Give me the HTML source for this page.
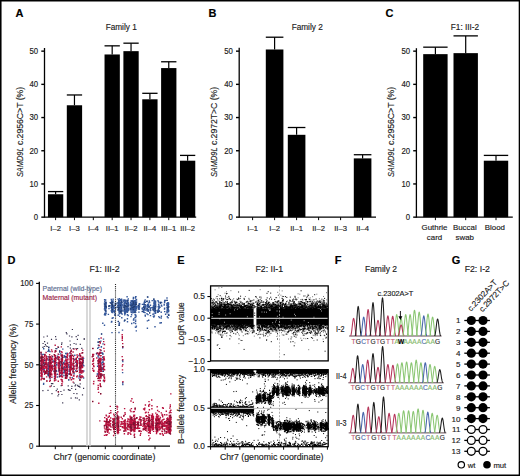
<!DOCTYPE html>
<html><head><meta charset="utf-8"><style>
html,body{margin:0;padding:0;background:#fff;}
body{width:520px;height:476px;overflow:hidden;}
svg{display:block;font-family:"Liberation Sans", sans-serif;}
</style></head><body>
<svg width="520" height="476" viewBox="0 0 520 476">
<rect x="0" y="0" width="520" height="476" fill="#fff"/>
<text x="15.60" y="17.20" font-size="11" text-anchor="start" font-weight="bold" fill="#000" stroke="#000" stroke-width="0.15" >A</text>
<text x="208.40" y="17.20" font-size="11" text-anchor="start" font-weight="bold" fill="#000" stroke="#000" stroke-width="0.15" >B</text>
<text x="385.60" y="17.20" font-size="11" text-anchor="start" font-weight="bold" fill="#000" stroke="#000" stroke-width="0.15" >C</text>
<text x="7.60" y="264.00" font-size="11" text-anchor="start" font-weight="bold" fill="#000" stroke="#000" stroke-width="0.15" >D</text>
<text x="177.20" y="264.00" font-size="11" text-anchor="start" font-weight="bold" fill="#000" stroke="#000" stroke-width="0.15" >E</text>
<text x="334.80" y="264.20" font-size="11" text-anchor="start" font-weight="bold" fill="#000" stroke="#000" stroke-width="0.15" >F</text>
<text x="451.80" y="264.00" font-size="11" text-anchor="start" font-weight="bold" fill="#000" stroke="#000" stroke-width="0.15" >G</text>
<line x1="44.50" y1="48.00" x2="44.50" y2="217.75" stroke="#000" stroke-width="1.3" />
<line x1="41.30" y1="217.15" x2="44.50" y2="217.15" stroke="#000" stroke-width="1.4" />
<text x="38.20" y="219.95" font-size="8.4" text-anchor="end" font-weight="normal" fill="#1a1a1a" stroke="#1a1a1a" stroke-width="0.15" textLength="4.34" lengthAdjust="spacingAndGlyphs" >0</text>
<line x1="41.30" y1="183.95" x2="44.50" y2="183.95" stroke="#000" stroke-width="1.4" />
<text x="38.20" y="186.75" font-size="8.4" text-anchor="end" font-weight="normal" fill="#1a1a1a" stroke="#1a1a1a" stroke-width="0.15" textLength="8.69" lengthAdjust="spacingAndGlyphs" >10</text>
<line x1="41.30" y1="150.75" x2="44.50" y2="150.75" stroke="#000" stroke-width="1.4" />
<text x="38.20" y="153.55" font-size="8.4" text-anchor="end" font-weight="normal" fill="#1a1a1a" stroke="#1a1a1a" stroke-width="0.15" textLength="8.69" lengthAdjust="spacingAndGlyphs" >20</text>
<line x1="41.30" y1="117.55" x2="44.50" y2="117.55" stroke="#000" stroke-width="1.4" />
<text x="38.20" y="120.35" font-size="8.4" text-anchor="end" font-weight="normal" fill="#1a1a1a" stroke="#1a1a1a" stroke-width="0.15" textLength="8.69" lengthAdjust="spacingAndGlyphs" >30</text>
<line x1="41.30" y1="84.35" x2="44.50" y2="84.35" stroke="#000" stroke-width="1.4" />
<text x="38.20" y="87.15" font-size="8.4" text-anchor="end" font-weight="normal" fill="#1a1a1a" stroke="#1a1a1a" stroke-width="0.15" textLength="8.69" lengthAdjust="spacingAndGlyphs" >40</text>
<line x1="41.30" y1="51.15" x2="44.50" y2="51.15" stroke="#000" stroke-width="1.4" />
<text x="38.20" y="53.95" font-size="8.4" text-anchor="end" font-weight="normal" fill="#1a1a1a" stroke="#1a1a1a" stroke-width="0.15" textLength="8.69" lengthAdjust="spacingAndGlyphs" >50</text>
<line x1="44.50" y1="217.15" x2="196.20" y2="217.15" stroke="#000" stroke-width="1.3" />
<rect x="47.95" y="194.24" width="15.30" height="22.91" fill="#000" />
<line x1="55.60" y1="191.59" x2="55.60" y2="194.24" stroke="#000" stroke-width="1.2" />
<line x1="47.95" y1="191.59" x2="63.25" y2="191.59" stroke="#000" stroke-width="1.3" />
<line x1="55.60" y1="217.15" x2="55.60" y2="220.15" stroke="#000" stroke-width="1.0" />
<rect x="66.81" y="105.27" width="15.30" height="111.88" fill="#000" />
<line x1="74.46" y1="94.97" x2="74.46" y2="105.27" stroke="#000" stroke-width="1.2" />
<line x1="66.81" y1="94.97" x2="82.11" y2="94.97" stroke="#000" stroke-width="1.3" />
<line x1="74.46" y1="217.15" x2="74.46" y2="220.15" stroke="#000" stroke-width="1.0" />
<line x1="93.32" y1="217.15" x2="93.32" y2="220.15" stroke="#000" stroke-width="1.0" />
<rect x="104.53" y="54.47" width="15.30" height="162.68" fill="#000" />
<line x1="112.18" y1="45.84" x2="112.18" y2="54.47" stroke="#000" stroke-width="1.2" />
<line x1="104.53" y1="45.84" x2="119.83" y2="45.84" stroke="#000" stroke-width="1.3" />
<line x1="112.18" y1="217.15" x2="112.18" y2="220.15" stroke="#000" stroke-width="1.0" />
<rect x="123.39" y="51.15" width="15.30" height="166.00" fill="#000" />
<line x1="131.04" y1="43.18" x2="131.04" y2="51.15" stroke="#000" stroke-width="1.2" />
<line x1="123.39" y1="43.18" x2="138.69" y2="43.18" stroke="#000" stroke-width="1.3" />
<line x1="131.04" y1="217.15" x2="131.04" y2="220.15" stroke="#000" stroke-width="1.0" />
<rect x="142.25" y="99.29" width="15.30" height="117.86" fill="#000" />
<line x1="149.90" y1="93.31" x2="149.90" y2="99.29" stroke="#000" stroke-width="1.2" />
<line x1="142.25" y1="93.31" x2="157.55" y2="93.31" stroke="#000" stroke-width="1.3" />
<line x1="149.90" y1="217.15" x2="149.90" y2="220.15" stroke="#000" stroke-width="1.0" />
<rect x="161.11" y="68.08" width="15.30" height="149.07" fill="#000" />
<line x1="168.76" y1="61.77" x2="168.76" y2="68.08" stroke="#000" stroke-width="1.2" />
<line x1="161.11" y1="61.77" x2="176.41" y2="61.77" stroke="#000" stroke-width="1.3" />
<line x1="168.76" y1="217.15" x2="168.76" y2="220.15" stroke="#000" stroke-width="1.0" />
<rect x="179.97" y="160.71" width="15.30" height="56.44" fill="#000" />
<line x1="187.62" y1="155.40" x2="187.62" y2="160.71" stroke="#000" stroke-width="1.2" />
<line x1="179.97" y1="155.40" x2="195.27" y2="155.40" stroke="#000" stroke-width="1.3" />
<line x1="187.62" y1="217.15" x2="187.62" y2="220.15" stroke="#000" stroke-width="1.0" />
<text x="55.60" y="230.50" font-size="7.7" text-anchor="middle" font-weight="normal" fill="#1a1a1a" stroke="#1a1a1a" stroke-width="0.15" >I–2</text>
<text x="74.46" y="230.50" font-size="7.7" text-anchor="middle" font-weight="normal" fill="#1a1a1a" stroke="#1a1a1a" stroke-width="0.15" >I–3</text>
<text x="93.32" y="230.50" font-size="7.7" text-anchor="middle" font-weight="normal" fill="#1a1a1a" stroke="#1a1a1a" stroke-width="0.15" >I–4</text>
<text x="112.18" y="230.50" font-size="7.7" text-anchor="middle" font-weight="normal" fill="#1a1a1a" stroke="#1a1a1a" stroke-width="0.15" >II–1</text>
<text x="131.04" y="230.50" font-size="7.7" text-anchor="middle" font-weight="normal" fill="#1a1a1a" stroke="#1a1a1a" stroke-width="0.15" >II–2</text>
<text x="149.90" y="230.50" font-size="7.7" text-anchor="middle" font-weight="normal" fill="#1a1a1a" stroke="#1a1a1a" stroke-width="0.15" >II–4</text>
<text x="168.76" y="230.50" font-size="7.7" text-anchor="middle" font-weight="normal" fill="#1a1a1a" stroke="#1a1a1a" stroke-width="0.15" >III–1</text>
<text x="187.62" y="230.50" font-size="7.7" text-anchor="middle" font-weight="normal" fill="#1a1a1a" stroke="#1a1a1a" stroke-width="0.15" >III–2</text>
<g transform="translate(23.2 177.1) rotate(-90)" fill="#1a1a1a" stroke="#1a1a1a" stroke-width="0.15" font-size="8.7"><text x="0" y="0" font-style="italic" textLength="29.6" lengthAdjust="spacingAndGlyphs">SAMD9L</text><text x="32.0" y="0" textLength="58.2" lengthAdjust="spacingAndGlyphs">c.2956C&gt;T (%)</text></g>
<text x="121.20" y="30.30" font-size="8.5" text-anchor="middle" font-weight="normal" fill="#1a1a1a" stroke="#1a1a1a" stroke-width="0.15" textLength="31.15" lengthAdjust="spacingAndGlyphs" >Family 1</text>
<line x1="239.20" y1="47.80" x2="239.20" y2="217.75" stroke="#000" stroke-width="1.3" />
<line x1="236.00" y1="217.15" x2="239.20" y2="217.15" stroke="#000" stroke-width="1.4" />
<text x="232.90" y="219.95" font-size="8.4" text-anchor="end" font-weight="normal" fill="#1a1a1a" stroke="#1a1a1a" stroke-width="0.15" textLength="4.34" lengthAdjust="spacingAndGlyphs" >0</text>
<line x1="236.00" y1="183.95" x2="239.20" y2="183.95" stroke="#000" stroke-width="1.4" />
<text x="232.90" y="186.75" font-size="8.4" text-anchor="end" font-weight="normal" fill="#1a1a1a" stroke="#1a1a1a" stroke-width="0.15" textLength="8.69" lengthAdjust="spacingAndGlyphs" >10</text>
<line x1="236.00" y1="150.75" x2="239.20" y2="150.75" stroke="#000" stroke-width="1.4" />
<text x="232.90" y="153.55" font-size="8.4" text-anchor="end" font-weight="normal" fill="#1a1a1a" stroke="#1a1a1a" stroke-width="0.15" textLength="8.69" lengthAdjust="spacingAndGlyphs" >20</text>
<line x1="236.00" y1="117.55" x2="239.20" y2="117.55" stroke="#000" stroke-width="1.4" />
<text x="232.90" y="120.35" font-size="8.4" text-anchor="end" font-weight="normal" fill="#1a1a1a" stroke="#1a1a1a" stroke-width="0.15" textLength="8.69" lengthAdjust="spacingAndGlyphs" >30</text>
<line x1="236.00" y1="84.35" x2="239.20" y2="84.35" stroke="#000" stroke-width="1.4" />
<text x="232.90" y="87.15" font-size="8.4" text-anchor="end" font-weight="normal" fill="#1a1a1a" stroke="#1a1a1a" stroke-width="0.15" textLength="8.69" lengthAdjust="spacingAndGlyphs" >40</text>
<line x1="236.00" y1="51.15" x2="239.20" y2="51.15" stroke="#000" stroke-width="1.4" />
<text x="232.90" y="53.95" font-size="8.4" text-anchor="end" font-weight="normal" fill="#1a1a1a" stroke="#1a1a1a" stroke-width="0.15" textLength="8.69" lengthAdjust="spacingAndGlyphs" >50</text>
<line x1="239.20" y1="217.15" x2="376.00" y2="217.15" stroke="#000" stroke-width="1.3" />
<line x1="252.60" y1="217.15" x2="252.60" y2="220.15" stroke="#000" stroke-width="1.0" />
<rect x="265.80" y="49.49" width="17.60" height="167.66" fill="#000" />
<line x1="274.60" y1="37.21" x2="274.60" y2="49.49" stroke="#000" stroke-width="1.2" />
<line x1="265.80" y1="37.21" x2="283.40" y2="37.21" stroke="#000" stroke-width="1.3" />
<line x1="274.60" y1="217.15" x2="274.60" y2="220.15" stroke="#000" stroke-width="1.0" />
<rect x="287.80" y="134.81" width="17.60" height="82.34" fill="#000" />
<line x1="296.60" y1="127.51" x2="296.60" y2="134.81" stroke="#000" stroke-width="1.2" />
<line x1="287.80" y1="127.51" x2="305.40" y2="127.51" stroke="#000" stroke-width="1.3" />
<line x1="296.60" y1="217.15" x2="296.60" y2="220.15" stroke="#000" stroke-width="1.0" />
<line x1="318.60" y1="217.15" x2="318.60" y2="220.15" stroke="#000" stroke-width="1.0" />
<line x1="340.60" y1="217.15" x2="340.60" y2="220.15" stroke="#000" stroke-width="1.0" />
<rect x="353.80" y="158.39" width="17.60" height="58.76" fill="#000" />
<line x1="362.60" y1="154.73" x2="362.60" y2="158.39" stroke="#000" stroke-width="1.2" />
<line x1="353.80" y1="154.73" x2="371.40" y2="154.73" stroke="#000" stroke-width="1.3" />
<line x1="362.60" y1="217.15" x2="362.60" y2="220.15" stroke="#000" stroke-width="1.0" />
<text x="252.60" y="230.50" font-size="7.7" text-anchor="middle" font-weight="normal" fill="#1a1a1a" stroke="#1a1a1a" stroke-width="0.15" >I–1</text>
<text x="274.60" y="230.50" font-size="7.7" text-anchor="middle" font-weight="normal" fill="#1a1a1a" stroke="#1a1a1a" stroke-width="0.15" >I–2</text>
<text x="296.60" y="230.50" font-size="7.7" text-anchor="middle" font-weight="normal" fill="#1a1a1a" stroke="#1a1a1a" stroke-width="0.15" >II–1</text>
<text x="318.60" y="230.50" font-size="7.7" text-anchor="middle" font-weight="normal" fill="#1a1a1a" stroke="#1a1a1a" stroke-width="0.15" >II–2</text>
<text x="340.60" y="230.50" font-size="7.7" text-anchor="middle" font-weight="normal" fill="#1a1a1a" stroke="#1a1a1a" stroke-width="0.15" >II–3</text>
<text x="362.60" y="230.50" font-size="7.7" text-anchor="middle" font-weight="normal" fill="#1a1a1a" stroke="#1a1a1a" stroke-width="0.15" >II–4</text>
<g transform="translate(216.8 177.1) rotate(-90)" fill="#1a1a1a" stroke="#1a1a1a" stroke-width="0.15" font-size="8.7"><text x="0" y="0" font-style="italic" textLength="29.6" lengthAdjust="spacingAndGlyphs">SAMD9L</text><text x="32.0" y="0" textLength="58.2" lengthAdjust="spacingAndGlyphs">c.2972T&gt;C (%)</text></g>
<text x="307.20" y="30.30" font-size="8.5" text-anchor="middle" font-weight="normal" fill="#1a1a1a" stroke="#1a1a1a" stroke-width="0.15" textLength="31.15" lengthAdjust="spacingAndGlyphs" >Family 2</text>
<line x1="416.40" y1="48.20" x2="416.40" y2="217.75" stroke="#000" stroke-width="1.3" />
<line x1="413.20" y1="217.15" x2="416.40" y2="217.15" stroke="#000" stroke-width="1.4" />
<text x="410.10" y="219.95" font-size="8.4" text-anchor="end" font-weight="normal" fill="#1a1a1a" stroke="#1a1a1a" stroke-width="0.15" textLength="4.34" lengthAdjust="spacingAndGlyphs" >0</text>
<line x1="413.20" y1="183.95" x2="416.40" y2="183.95" stroke="#000" stroke-width="1.4" />
<text x="410.10" y="186.75" font-size="8.4" text-anchor="end" font-weight="normal" fill="#1a1a1a" stroke="#1a1a1a" stroke-width="0.15" textLength="8.69" lengthAdjust="spacingAndGlyphs" >10</text>
<line x1="413.20" y1="150.75" x2="416.40" y2="150.75" stroke="#000" stroke-width="1.4" />
<text x="410.10" y="153.55" font-size="8.4" text-anchor="end" font-weight="normal" fill="#1a1a1a" stroke="#1a1a1a" stroke-width="0.15" textLength="8.69" lengthAdjust="spacingAndGlyphs" >20</text>
<line x1="413.20" y1="117.55" x2="416.40" y2="117.55" stroke="#000" stroke-width="1.4" />
<text x="410.10" y="120.35" font-size="8.4" text-anchor="end" font-weight="normal" fill="#1a1a1a" stroke="#1a1a1a" stroke-width="0.15" textLength="8.69" lengthAdjust="spacingAndGlyphs" >30</text>
<line x1="413.20" y1="84.35" x2="416.40" y2="84.35" stroke="#000" stroke-width="1.4" />
<text x="410.10" y="87.15" font-size="8.4" text-anchor="end" font-weight="normal" fill="#1a1a1a" stroke="#1a1a1a" stroke-width="0.15" textLength="8.69" lengthAdjust="spacingAndGlyphs" >40</text>
<line x1="413.20" y1="51.15" x2="416.40" y2="51.15" stroke="#000" stroke-width="1.4" />
<text x="410.10" y="53.95" font-size="8.4" text-anchor="end" font-weight="normal" fill="#1a1a1a" stroke="#1a1a1a" stroke-width="0.15" textLength="8.69" lengthAdjust="spacingAndGlyphs" >50</text>
<line x1="416.40" y1="217.15" x2="512.80" y2="217.15" stroke="#000" stroke-width="1.3" />
<rect x="423.20" y="54.14" width="24.40" height="163.01" fill="#000" />
<line x1="435.40" y1="47.17" x2="435.40" y2="54.14" stroke="#000" stroke-width="1.2" />
<line x1="423.20" y1="47.17" x2="447.60" y2="47.17" stroke="#000" stroke-width="1.3" />
<line x1="435.40" y1="217.15" x2="435.40" y2="220.15" stroke="#000" stroke-width="1.0" />
<rect x="453.50" y="53.14" width="24.40" height="164.01" fill="#000" />
<line x1="465.70" y1="35.88" x2="465.70" y2="53.14" stroke="#000" stroke-width="1.2" />
<line x1="453.50" y1="35.88" x2="477.90" y2="35.88" stroke="#000" stroke-width="1.3" />
<line x1="465.70" y1="217.15" x2="465.70" y2="220.15" stroke="#000" stroke-width="1.0" />
<rect x="483.80" y="160.71" width="24.40" height="56.44" fill="#000" />
<line x1="496.00" y1="155.40" x2="496.00" y2="160.71" stroke="#000" stroke-width="1.2" />
<line x1="483.80" y1="155.40" x2="508.20" y2="155.40" stroke="#000" stroke-width="1.3" />
<line x1="496.00" y1="217.15" x2="496.00" y2="220.15" stroke="#000" stroke-width="1.0" />
<text x="434.50" y="230.20" font-size="7.9" text-anchor="middle" font-weight="normal" fill="#1a1a1a" stroke="#1a1a1a" stroke-width="0.15" >Guthrie</text>
<text x="434.50" y="239.50" font-size="7.9" text-anchor="middle" font-weight="normal" fill="#1a1a1a" stroke="#1a1a1a" stroke-width="0.15" >card</text>
<text x="464.80" y="230.20" font-size="7.9" text-anchor="middle" font-weight="normal" fill="#1a1a1a" stroke="#1a1a1a" stroke-width="0.15" >Buccal</text>
<text x="464.80" y="239.50" font-size="7.9" text-anchor="middle" font-weight="normal" fill="#1a1a1a" stroke="#1a1a1a" stroke-width="0.15" >swab</text>
<text x="494.90" y="230.20" font-size="7.9" text-anchor="middle" font-weight="normal" fill="#1a1a1a" stroke="#1a1a1a" stroke-width="0.15" >Blood</text>
<g transform="translate(393.7 177.1) rotate(-90)" fill="#1a1a1a" stroke="#1a1a1a" stroke-width="0.15" font-size="8.7"><text x="0" y="0" font-style="italic" textLength="29.6" lengthAdjust="spacingAndGlyphs">SAMD9L</text><text x="32.0" y="0" textLength="58.2" lengthAdjust="spacingAndGlyphs">c.2956C&gt;T (%)</text></g>
<text x="465.00" y="30.30" font-size="8.5" text-anchor="middle" font-weight="normal" fill="#1a1a1a" stroke="#1a1a1a" stroke-width="0.15" textLength="28.41" lengthAdjust="spacingAndGlyphs" >F1: III-2</text>
<line x1="39.30" y1="281.80" x2="39.30" y2="446.80" stroke="#000" stroke-width="1.3" />
<line x1="36.10" y1="446.20" x2="39.30" y2="446.20" stroke="#000" stroke-width="1.1" />
<text x="33.30" y="449.00" font-size="8.4" text-anchor="end" font-weight="normal" fill="#1a1a1a" stroke="#1a1a1a" stroke-width="0.15" textLength="4.34" lengthAdjust="spacingAndGlyphs" >0</text>
<line x1="36.10" y1="405.50" x2="39.30" y2="405.50" stroke="#000" stroke-width="1.1" />
<text x="33.30" y="408.30" font-size="8.4" text-anchor="end" font-weight="normal" fill="#1a1a1a" stroke="#1a1a1a" stroke-width="0.15" textLength="8.69" lengthAdjust="spacingAndGlyphs" >25</text>
<line x1="36.10" y1="364.80" x2="39.30" y2="364.80" stroke="#000" stroke-width="1.1" />
<text x="33.30" y="367.60" font-size="8.4" text-anchor="end" font-weight="normal" fill="#1a1a1a" stroke="#1a1a1a" stroke-width="0.15" textLength="8.69" lengthAdjust="spacingAndGlyphs" >50</text>
<line x1="36.10" y1="324.10" x2="39.30" y2="324.10" stroke="#000" stroke-width="1.1" />
<text x="33.30" y="326.90" font-size="8.4" text-anchor="end" font-weight="normal" fill="#1a1a1a" stroke="#1a1a1a" stroke-width="0.15" textLength="8.69" lengthAdjust="spacingAndGlyphs" >75</text>
<line x1="36.10" y1="283.40" x2="39.30" y2="283.40" stroke="#000" stroke-width="1.1" />
<text x="33.30" y="286.20" font-size="8.4" text-anchor="end" font-weight="normal" fill="#1a1a1a" stroke="#1a1a1a" stroke-width="0.15" textLength="13.03" lengthAdjust="spacingAndGlyphs" >100</text>
<line x1="39.30" y1="446.20" x2="170.00" y2="446.20" stroke="#000" stroke-width="1.3" />
<line x1="55.30" y1="446.20" x2="55.30" y2="449.20" stroke="#000" stroke-width="1.0" />
<line x1="72.00" y1="446.20" x2="72.00" y2="449.20" stroke="#000" stroke-width="1.0" />
<line x1="88.60" y1="446.20" x2="88.60" y2="449.20" stroke="#000" stroke-width="1.0" />
<line x1="105.30" y1="446.20" x2="105.30" y2="449.20" stroke="#000" stroke-width="1.0" />
<line x1="122.00" y1="446.20" x2="122.00" y2="449.20" stroke="#000" stroke-width="1.0" />
<line x1="138.60" y1="446.20" x2="138.60" y2="449.20" stroke="#000" stroke-width="1.0" />
<line x1="155.00" y1="446.20" x2="155.00" y2="449.20" stroke="#000" stroke-width="1.0" />
<line x1="87.00" y1="285.50" x2="87.00" y2="446.20" stroke="#cdcdcd" stroke-width="1.5" />
<line x1="90.00" y1="285.50" x2="90.00" y2="446.20" stroke="#cdcdcd" stroke-width="1.5" />
<path d="M52.3 362.1h1.4M66.0 377.3h1.4M61.1 361.3h1.4M42.9 384.3h1.4M43.0 360.1h1.4M63.5 355.7h1.4M66.5 353.3h1.4M78.8 369.3h1.4M43.4 378.4h1.4M49.3 365.3h1.4M40.7 367.6h1.4M68.2 367.4h1.4M56.8 357.6h1.4M79.3 368.5h1.4M49.4 378.6h1.4M42.5 354.4h1.4M47.8 365.8h1.4M58.6 366.4h1.4M82.6 358.3h1.4M43.7 358.9h1.4M79.3 363.2h1.4M63.9 367.7h1.4M47.3 365.9h1.4M42.4 365.8h1.4M41.4 368.9h1.4M54.3 370.0h1.4M76.7 362.9h1.4M42.8 366.1h1.4M73.4 373.7h1.4M43.1 363.3h1.4M61.2 364.0h1.4M54.0 360.8h1.4M60.9 367.9h1.4M82.9 378.0h1.4M74.3 359.5h1.4M40.0 365.1h1.4M48.1 350.7h1.4M83.1 371.0h1.4M47.4 368.5h1.4M79.4 374.9h1.4M65.1 357.9h1.4M69.2 353.2h1.4M48.3 371.5h1.4M56.1 348.6h1.4M68.3 374.4h1.4M71.5 377.8h1.4M82.6 362.4h1.4M41.6 364.7h1.4M61.2 374.6h1.4M47.4 356.6h1.4M48.0 362.7h1.4M78.6 367.6h1.4M63.6 372.8h1.4M60.5 361.8h1.4M58.3 367.1h1.4M59.2 361.8h1.4M52.2 366.5h1.4M62.5 362.7h1.4M68.8 366.7h1.4M59.0 350.8h1.4M60.8 358.2h1.4M79.1 364.2h1.4M78.4 378.0h1.4M42.4 361.3h1.4M42.6 360.0h1.4M78.3 355.4h1.4M64.1 370.5h1.4M82.2 364.8h1.4M82.9 358.4h1.4M51.7 369.2h1.4M68.1 364.6h1.4M52.4 366.3h1.4M43.8 368.9h1.4M47.1 365.2h1.4M48.9 376.5h1.4M47.3 359.2h1.4M63.2 375.5h1.4M58.1 369.5h1.4M65.1 367.4h1.4M75.9 363.8h1.4M63.6 371.5h1.4M47.2 371.8h1.4M42.6 361.9h1.4M49.5 376.6h1.4M53.8 376.8h1.4M62.4 366.9h1.4M78.2 358.6h1.4M73.7 369.1h1.4M67.1 371.1h1.4M64.5 356.5h1.4M42.4 365.5h1.4M44.2 360.6h1.4M76.2 366.1h1.4M58.3 371.5h1.4M48.6 360.9h1.4M82.0 364.3h1.4M40.6 361.2h1.4M59.7 365.7h1.4M42.9 371.5h1.4M48.0 366.6h1.4M69.1 370.7h1.4M53.0 361.1h1.4M69.0 373.1h1.4M65.0 353.5h1.4M43.1 372.1h1.4M74.1 355.2h1.4M66.7 369.4h1.4M53.9 366.5h1.4M63.1 362.5h1.4M41.3 358.7h1.4M58.9 376.0h1.4M47.1 370.3h1.4M68.3 373.6h1.4M56.2 364.6h1.4M69.0 369.2h1.4M48.2 367.6h1.4M62.1 364.6h1.4M66.7 375.9h1.4M60.4 376.4h1.4M48.6 375.6h1.4M40.7 373.1h1.4M47.4 364.3h1.4M48.0 349.2h1.4M43.5 363.3h1.4M79.1 372.1h1.4M40.0 361.1h1.4M58.5 362.5h1.4M75.1 370.7h1.4M75.3 362.4h1.4M49.3 351.6h1.4M82.5 360.9h1.4M40.2 368.2h1.4M50.2 365.0h1.4M47.6 373.9h1.4M79.3 379.6h1.4M63.3 357.4h1.4M68.7 362.4h1.4M41.5 361.4h1.4M58.6 364.5h1.4M48.1 347.2h1.4M62.8 368.2h1.4M78.8 369.7h1.4M79.6 368.6h1.4M42.8 369.2h1.4M47.4 374.4h1.4M56.1 358.4h1.4M55.9 362.7h1.4M43.0 383.4h1.4M75.5 365.9h1.4M59.5 372.7h1.4M75.2 362.2h1.4M59.0 351.8h1.4M56.9 377.0h1.4M47.2 351.4h1.4M60.8 364.1h1.4M68.8 356.1h1.4M41.3 374.4h1.4M48.9 361.1h1.4M64.9 373.3h1.4M62.7 369.3h1.4M62.1 349.1h1.4M65.2 370.0h1.4M47.4 364.2h1.4M40.8 360.2h1.4M58.4 370.1h1.4M40.5 363.6h1.4M65.9 365.2h1.4M48.6 357.8h1.4M73.5 366.2h1.4M82.3 360.1h1.4M47.7 369.4h1.4M55.7 364.6h1.4M42.3 354.4h1.4M79.2 374.8h1.4M78.5 376.2h1.4M41.1 361.4h1.4M55.9 371.3h1.4M55.3 365.9h1.4M81.9 371.3h1.4M58.1 354.4h1.4M56.9 356.3h1.4M40.7 376.7h1.4M68.1 379.9h1.4M48.2 371.7h1.4M51.8 361.9h1.4M66.1 362.2h1.4M41.2 354.9h1.4M40.4 353.7h1.4M83.1 365.8h1.4M59.5 373.0h1.4M72.5 367.1h1.4M51.9 356.6h1.4M68.1 365.9h1.4M42.3 360.7h1.4M53.0 371.1h1.4M42.4 365.4h1.4M66.3 357.6h1.4M66.8 370.5h1.4M64.0 363.4h1.4M56.6 374.3h1.4M47.4 372.5h1.4M52.0 359.9h1.4M60.0 353.9h1.4M43.0 348.7h1.4M76.6 364.9h1.4M48.6 369.1h1.4M78.6 360.8h1.4M69.5 367.5h1.4M63.1 363.3h1.4M47.4 368.6h1.4M64.2 361.0h1.4M47.5 374.9h1.4M72.2 371.3h1.4M63.1 369.9h1.4M45.2 364.6h1.4M82.0 371.5h1.4M54.4 372.3h1.4M48.2 365.7h1.4M41.4 368.8h1.4M78.7 359.5h1.4M40.9 368.3h1.4M64.4 364.2h1.4M42.7 368.7h1.4M59.3 364.3h1.4M47.2 373.5h1.4M43.7 364.6h1.4M79.0 372.2h1.4M47.7 375.9h1.4M73.4 359.2h1.4M55.6 370.6h1.4M69.5 355.2h1.4M41.3 361.4h1.4M63.0 363.3h1.4M62.8 372.5h1.4M58.7 360.0h1.4M48.2 360.4h1.4M58.3 368.6h1.4M58.2 368.0h1.4M59.7 375.4h1.4M68.8 371.3h1.4M98.7 354.1h1.4M97.0 348.2h1.4M100.1 363.6h1.4M97.8 342.1h1.4M97.8 364.1h1.4M95.9 353.7h1.4M98.0 367.1h1.4M98.2 338.8h1.4M100.9 353.0h1.4M99.8 376.9h1.4M102.3 343.9h1.4M99.9 369.2h1.4M98.7 374.0h1.4M96.6 374.0h1.4M102.1 323.3h1.4M102.0 357.4h1.4M102.7 380.8h1.4M100.2 341.1h1.4M101.8 353.0h1.4M98.1 372.8h1.4M99.8 371.5h1.4M101.8 359.9h1.4M100.7 346.7h1.4M97.4 375.5h1.4M102.8 339.1h1.4M99.8 358.5h1.4M102.1 359.5h1.4M100.3 367.1h1.4M97.4 356.8h1.4M97.7 345.3h1.4M98.2 363.5h1.4M102.6 371.3h1.4M101.9 362.6h1.4M102.2 356.9h1.4M96.9 366.2h1.4M101.0 367.7h1.4M101.9 364.8h1.4M100.0 367.8h1.4M97.5 355.6h1.4M98.0 369.7h1.4M102.2 354.0h1.4M99.8 361.0h1.4M96.8 353.0h1.4M100.1 364.7h1.4M99.8 359.0h1.4M102.6 359.5h1.4M100.9 353.0h1.4M100.6 363.0h1.4M101.7 369.4h1.4M100.6 347.1h1.4M102.3 361.8h1.4M102.7 368.9h1.4M98.0 347.4h1.4M98.1 374.4h1.4M100.3 350.6h1.4M101.9 368.0h1.4M100.1 352.9h1.4M98.5 358.2h1.4M101.6 375.1h1.4M97.7 373.1h1.4M98.4 378.4h1.4M100.9 334.0h1.4M102.1 359.7h1.4M97.5 342.1h1.4M102.4 362.9h1.4M97.4 360.6h1.4M99.8 365.1h1.4M101.0 371.1h1.4M102.1 359.8h1.4M102.9 366.5h1.4M118.2 306.0h1.4M126.7 314.8h1.4M117.3 307.2h1.4M132.6 307.0h1.4M143.4 303.2h1.4M134.7 311.2h1.4M137.6 308.5h1.4M143.1 307.2h1.4M117.4 305.5h1.4M111.5 305.1h1.4M124.6 310.3h1.4M111.0 312.1h1.4M141.8 307.9h1.4M117.3 299.1h1.4M123.7 321.0h1.4M164.0 300.5h1.4M154.0 308.8h1.4M127.5 303.8h1.4M126.8 302.3h1.4M133.2 322.7h1.4M166.2 312.0h1.4M135.6 308.5h1.4M144.4 308.6h1.4M135.3 310.3h1.4M120.7 306.9h1.4M111.9 307.2h1.4M133.1 303.3h1.4M143.1 312.2h1.4M123.4 307.3h1.4M130.3 303.3h1.4M166.9 305.9h1.4M119.2 302.1h1.4M124.6 300.8h1.4M110.6 308.1h1.4M127.2 304.6h1.4M114.6 313.7h1.4M118.4 303.4h1.4M104.5 304.8h1.4M143.1 311.0h1.4M111.1 309.9h1.4M111.5 311.1h1.4M114.0 315.0h1.4M131.7 307.7h1.4M126.2 307.0h1.4M146.3 305.4h1.4M126.9 307.4h1.4M138.4 307.1h1.4M120.5 303.6h1.4M134.5 307.5h1.4M134.1 303.7h1.4M111.6 306.4h1.4M143.7 308.7h1.4M167.9 304.5h1.4M163.5 304.4h1.4M167.4 304.7h1.4M131.6 307.6h1.4M134.3 308.9h1.4M143.1 309.7h1.4M135.3 316.3h1.4M119.2 303.2h1.4M141.7 308.0h1.4M126.8 309.8h1.4M167.7 314.7h1.4M127.4 306.1h1.4M164.7 300.5h1.4M121.1 305.0h1.4M153.0 309.6h1.4M134.3 304.0h1.4M123.3 305.3h1.4M143.4 302.9h1.4M120.1 312.7h1.4M104.5 313.7h1.4M123.1 306.9h1.4M117.7 321.5h1.4M134.9 309.8h1.4M121.5 314.1h1.4M112.2 311.3h1.4M144.5 299.9h1.4M114.6 304.3h1.4M126.1 300.6h1.4M135.1 303.5h1.4M154.2 309.6h1.4M111.2 304.8h1.4M160.5 312.3h1.4M126.6 303.9h1.4M119.7 307.4h1.4M139.0 303.7h1.4M111.5 318.2h1.4M127.3 302.4h1.4M119.2 310.0h1.4M104.6 308.2h1.4M167.0 307.3h1.4M117.9 301.5h1.4M124.3 304.1h1.4M166.5 310.9h1.4M103.8 325.2h1.4M142.2 309.6h1.4M135.1 315.3h1.4M134.1 308.3h1.4M124.0 311.2h1.4M152.5 309.9h1.4M135.7 306.4h1.4M154.4 305.2h1.4M158.5 306.4h1.4M123.6 311.2h1.4M134.6 310.7h1.4M157.9 304.3h1.4M104.5 304.9h1.4M134.9 296.7h1.4M132.9 309.6h1.4M153.2 306.6h1.4M104.9 306.6h1.4M118.7 310.0h1.4M134.6 312.5h1.4M166.6 304.5h1.4M123.7 308.5h1.4M148.0 320.3h1.4M120.5 310.0h1.4M124.1 312.4h1.4M108.3 308.5h1.4M141.4 308.7h1.4M152.3 309.3h1.4M119.1 300.2h1.4M117.2 307.1h1.4M147.7 304.9h1.4M155.1 310.5h1.4M120.9 299.2h1.4M154.2 306.3h1.4M112.3 311.0h1.4M118.6 311.0h1.4M146.7 320.9h1.4M121.1 307.2h1.4M111.2 304.4h1.4M113.7 311.0h1.4M111.0 309.3h1.4M153.9 309.7h1.4M118.8 307.0h1.4M149.5 308.9h1.4M120.1 309.0h1.4M117.9 309.8h1.4M130.2 302.4h1.4M163.9 308.2h1.4M119.7 304.2h1.4M146.4 310.6h1.4M124.7 306.1h1.4M123.3 305.8h1.4M134.6 298.0h1.4M120.4 313.2h1.4M160.2 302.1h1.4M112.4 309.0h1.4M166.2 303.6h1.4M153.8 307.8h1.4M126.5 312.4h1.4M152.7 316.4h1.4M123.9 306.0h1.4M155.0 305.2h1.4M111.6 307.7h1.4M127.7 304.1h1.4M119.1 309.5h1.4M132.3 304.6h1.4M127.7 310.3h1.4M117.3 302.7h1.4M153.6 311.7h1.4M126.8 307.7h1.4M135.3 306.7h1.4M158.4 310.6h1.4M134.4 314.7h1.4M129.5 304.2h1.4M126.2 304.2h1.4M118.9 305.6h1.4M154.3 303.0h1.4M124.2 311.8h1.4M132.8 305.4h1.4M123.5 310.4h1.4M154.7 306.7h1.4M120.0 304.6h1.4M124.6 312.0h1.4M155.1 306.9h1.4M153.2 306.3h1.4M124.6 308.0h1.4M133.0 312.6h1.4M105.1 306.2h1.4M120.8 306.4h1.4M134.8 305.1h1.4M132.7 304.2h1.4M117.9 309.2h1.4M144.1 308.3h1.4M143.2 307.4h1.4M118.3 307.7h1.4M155.0 306.4h1.4M132.0 300.6h1.4M166.2 305.3h1.4M127.5 315.5h1.4M153.7 315.9h1.4M117.5 304.6h1.4M110.9 302.8h1.4M120.6 304.5h1.4M143.6 307.6h1.4M126.4 301.8h1.4M154.3 326.8h1.4M105.0 302.9h1.4M133.1 300.9h1.4M118.5 306.4h1.4M166.5 309.2h1.4M110.8 307.1h1.4M118.8 322.9h1.4M111.0 301.2h1.4M127.6 298.9h1.4M125.0 311.9h1.4M118.3 311.7h1.4M147.6 311.2h1.4M112.5 307.6h1.4M120.9 300.6h1.4M146.2 301.4h1.4M127.3 310.8h1.4M131.5 312.8h1.4M134.8 309.9h1.4M164.9 314.2h1.4M134.0 300.6h1.4M126.9 306.2h1.4M157.3 312.2h1.4M112.5 306.9h1.4M158.1 308.4h1.4M111.4 310.2h1.4M105.6 306.4h1.4M167.8 311.9h1.4M130.4 307.9h1.4M131.1 309.1h1.4M120.0 303.6h1.4M135.1 301.9h1.4M166.6 310.8h1.4M120.1 305.5h1.4M157.8 306.8h1.4M141.7 304.4h1.4M118.4 312.0h1.4M146.4 309.4h1.4M166.4 300.4h1.4M112.0 302.5h1.4M130.6 301.2h1.4M135.2 300.1h1.4M131.7 306.6h1.4M126.6 304.0h1.4M126.4 309.2h1.4M110.6 303.2h1.4M134.7 308.8h1.4M105.3 305.4h1.4M119.6 310.4h1.4M153.6 304.2h1.4M126.5 300.1h1.4M153.0 310.1h1.4M167.6 309.6h1.4M113.7 312.5h1.4M134.9 309.2h1.4M160.5 318.0h1.4M119.1 304.3h1.4M111.0 303.4h1.4M127.3 304.9h1.4M143.6 309.5h1.4M134.2 305.4h1.4M135.2 308.2h1.4M131.8 306.8h1.4M135.7 306.2h1.4M121.1 311.3h1.4M120.4 307.6h1.4M111.0 308.4h1.4M124.6 302.7h1.4M147.9 306.9h1.4M157.3 300.8h1.4M123.6 305.5h1.4M153.8 302.0h1.4M117.6 307.5h1.4M135.0 312.4h1.4M111.1 302.5h1.4M154.2 306.4h1.4M120.2 309.4h1.4M149.8 305.3h1.4M103.9 304.9h1.4M133.1 303.9h1.4M167.6 307.5h1.4M105.6 307.4h1.4M134.7 304.8h1.4M119.7 309.9h1.4M135.3 296.7h1.4M119.7 311.3h1.4M123.4 307.7h1.4M159.7 302.6h1.4M129.8 302.4h1.4M110.9 302.2h1.4M132.9 306.0h1.4M125.8 309.6h1.4M111.7 306.7h1.4M111.1 305.7h1.4M138.9 304.7h1.4M114.9 307.8h1.4M126.0 308.0h1.4M132.6 306.8h1.4M121.4 304.8h1.4M158.3 307.5h1.4M111.0 321.5h1.4M153.7 304.7h1.4M144.5 305.9h1.4M153.7 306.8h1.4M123.7 300.7h1.4M154.0 304.6h1.4M130.9 309.1h1.4M124.4 310.4h1.4M132.2 301.6h1.4M154.7 308.5h1.4M166.2 307.6h1.4M132.6 302.4h1.4M112.4 308.9h1.4M111.9 308.3h1.4M159.3 323.0h1.4M118.8 300.1h1.4M114.6 305.1h1.4M146.9 304.7h1.4M149.8 315.6h1.4M143.9 301.3h1.4M138.2 312.1h1.4M152.3 314.2h1.4M143.9 306.7h1.4M114.2 307.9h1.4M167.4 317.8h1.4M110.7 305.1h1.4M125.9 308.9h1.4M154.2 304.6h1.4M125.0 311.0h1.4M144.6 316.0h1.4M111.4 308.7h1.4M155.0 306.5h1.4M119.6 307.1h1.4M120.9 303.8h1.4M144.3 304.6h1.4M126.6 310.4h1.4M134.3 307.4h1.4M154.8 304.1h1.4M121.0 306.5h1.4M110.5 303.4h1.4M112.2 310.4h1.4M157.5 310.7h1.4M135.6 330.9h1.4M132.9 308.0h1.4M125.0 305.7h1.4M166.6 316.7h1.4M132.2 305.4h1.4M161.1 306.1h1.4M104.4 313.2h1.4M118.0 306.8h1.4M134.1 312.1h1.4M111.9 307.3h1.4M167.7 307.5h1.4M153.2 303.4h1.4M133.4 305.8h1.4M135.6 299.7h1.4M119.0 316.4h1.4M132.6 309.9h1.4M118.1 304.5h1.4M125.7 311.2h1.4M121.1 304.4h1.4M153.4 310.4h1.4M123.1 301.4h1.4M118.4 306.7h1.4M137.5 307.8h1.4M127.7 304.7h1.4M114.4 310.2h1.4M121.1 310.5h1.4M127.5 309.5h1.4M147.5 309.9h1.4M147.1 310.0h1.4M138.5 308.0h1.4M133.3 310.2h1.4M132.1 302.2h1.4M118.6 301.9h1.4M124.9 302.1h1.4M117.9 300.3h1.4M108.2 306.2h1.4M160.6 322.7h1.4M110.6 310.8h1.4M134.3 307.1h1.4M127.6 303.0h1.4M121.1 317.8h1.4M117.9 305.3h1.4M120.7 306.4h1.4M112.1 302.5h1.4M127.7 305.8h1.4M158.3 307.0h1.4M154.4 307.1h1.4M120.1 305.6h1.4M123.7 310.4h1.4M167.9 310.2h1.4M112.0 306.5h1.4M150.0 308.0h1.4M154.7 306.5h1.4M119.0 306.3h1.4M167.0 306.6h1.4M152.4 307.7h1.4M166.3 298.0h1.4M117.9 307.7h1.4M126.0 306.3h1.4M130.9 306.7h1.4M127.2 303.0h1.4M153.7 306.0h1.4M126.8 321.8h1.4M111.2 312.0h1.4M144.2 308.1h1.4M144.6 307.0h1.4M123.6 311.1h1.4M154.4 307.7h1.4M129.6 308.9h1.4M132.4 301.7h1.4M135.5 303.9h1.4M105.6 307.6h1.4M118.6 307.6h1.4M104.6 310.5h1.4M117.2 310.0h1.4M117.9 304.3h1.4M105.3 308.9h1.4M129.5 309.7h1.4M118.9 304.0h1.4M111.5 308.8h1.4M135.3 308.5h1.4M134.7 327.1h1.4M154.9 311.8h1.4M146.5 308.6h1.4M154.8 313.3h1.4M163.5 305.1h1.4M123.3 304.0h1.4M117.5 303.0h1.4M133.2 302.3h1.4M118.3 306.5h1.4M111.2 308.4h1.4M134.1 302.5h1.4M103.8 303.9h1.4M134.1 306.7h1.4M132.2 311.3h1.4M123.9 312.2h1.4M147.2 297.1h1.4M135.9 306.5h1.4M132.4 303.8h1.4M148.9 302.5h1.4M144.4 306.6h1.4M167.7 304.3h1.4M163.9 302.6h1.4M104.5 305.7h1.4M129.6 308.0h1.4M126.4 302.8h1.4M110.6 305.7h1.4M166.7 303.8h1.4M131.0 323.5h1.4M110.9 303.4h1.4M167.0 308.5h1.4M167.4 307.9h1.4M105.5 303.4h1.4M134.1 302.6h1.4M121.4 310.1h1.4M121.3 305.8h1.4M166.4 310.6h1.4M151.4 307.6h1.4M151.5 300.6h1.4M124.7 309.6h1.4M119.8 303.7h1.4M103.9 299.8h1.4M114.5 303.1h1.4M111.1 305.6h1.4M135.7 302.0h1.4M134.0 307.8h1.4M111.6 308.7h1.4M126.6 305.4h1.4M121.2 301.9h1.4M158.8 317.6h1.4M121.0 309.0h1.4M111.5 309.5h1.4M111.4 303.7h1.4M148.8 306.9h1.4M134.1 306.3h1.4M127.5 308.3h1.4M103.8 314.6h1.4M125.0 306.2h1.4M130.5 312.4h1.4M132.4 309.1h1.4M110.7 322.1h1.4M120.8 313.6h1.4M112.1 304.9h1.4M127.7 308.3h1.4M111.8 308.1h1.4M153.1 317.0h1.4M121.3 305.9h1.4M153.1 306.0h1.4M135.2 306.1h1.4M131.7 305.5h1.4M111.0 305.1h1.4M132.2 304.0h1.4M133.2 305.0h1.4M126.9 304.8h1.4M134.6 304.6h1.4M143.0 304.4h1.4M154.0 311.0h1.4M120.0 303.8h1.4M147.1 305.8h1.4M118.9 308.9h1.4M111.8 312.6h1.4M154.4 301.1h1.4M114.3 308.4h1.4M135.1 306.9h1.4M104.9 309.1h1.4M157.9 302.0h1.4M120.4 307.2h1.4M129.5 308.0h1.4M130.4 311.3h1.4M146.3 313.8h1.4M134.9 321.6h1.4M127.4 308.2h1.4M157.9 306.9h1.4M144.8 302.3h1.4M111.5 301.0h1.4M123.3 306.2h1.4M108.7 305.9h1.4M135.7 304.3h1.4M119.8 305.3h1.4M104.9 311.6h1.4M112.3 302.8h1.4M164.0 311.6h1.4M167.2 304.2h1.4M130.1 305.3h1.4M120.4 302.4h1.4M117.6 305.6h1.4M121.5 305.2h1.4M146.7 328.2h1.4M146.2 307.0h1.4M134.9 304.0h1.4M137.5 306.0h1.4M154.2 305.3h1.4M124.2 320.2h1.4M123.1 310.9h1.4M115.3 303.4h1.4M152.6 306.2h1.4M154.2 303.4h1.4M153.6 305.4h1.4M154.5 307.5h1.4M133.2 318.6h1.4M132.5 310.7h1.4M118.6 313.7h1.4M166.7 303.3h1.4M111.3 332.6h1.4M146.8 306.3h1.4M159.3 307.2h1.4M167.4 305.3h1.4M126.9 311.7h1.4M119.5 300.6h1.4M135.2 327.2h1.4M124.0 310.0h1.4M118.5 323.7h1.4M115.1 304.1h1.4M154.7 305.4h1.4M154.7 301.8h1.4M134.3 303.0h1.4M149.0 312.9h1.4M107.7 314.4h1.4M123.8 310.6h1.4M132.7 297.4h1.4M120.6 308.7h1.4M110.8 307.5h1.4M109.5 302.6h1.4M153.2 308.1h1.4M127.2 308.6h1.4M126.5 304.6h1.4M117.5 315.3h1.4M124.5 313.9h1.4M159.8 303.2h1.4M120.6 304.5h1.4M143.5 303.0h1.4M132.9 304.9h1.4M110.8 307.0h1.4M118.6 308.6h1.4M117.6 304.9h1.4M135.1 308.4h1.4M126.9 301.2h1.4M125.9 309.7h1.4M134.1 305.2h1.4M153.8 303.5h1.4M117.5 306.1h1.4M131.4 312.6h1.4M153.1 300.0h1.4M167.9 303.5h1.4M126.0 303.6h1.4M119.8 299.6h1.4M120.7 302.9h1.4M153.5 303.3h1.4M111.5 305.2h1.4M153.5 304.1h1.4M118.5 325.3h1.4M112.0 309.5h1.4M163.8 309.1h1.4M126.7 318.8h1.4M123.6 303.1h1.4M160.9 302.6h1.4M117.3 303.5h1.4M114.7 315.4h1.4M135.2 306.7h1.4M135.0 320.1h1.4M153.2 305.2h1.4M126.1 310.7h1.4M118.6 308.6h1.4M138.5 309.3h1.4M138.1 305.4h1.4M154.6 305.8h1.4M168.0 314.4h1.4M154.4 307.7h1.4M124.6 302.5h1.4M133.2 320.1h1.4M112.2 310.9h1.4M153.5 306.5h1.4M126.9 300.8h1.4M167.2 302.7h1.4M137.5 307.3h1.4M160.7 305.3h1.4M111.6 307.7h1.4M153.5 307.8h1.4M153.5 302.4h1.4M130.9 304.0h1.4M123.9 313.4h1.4M130.9 304.1h1.4M105.5 302.7h1.4M133.4 308.7h1.4M115.3 307.3h1.4M104.1 307.8h1.4M157.7 309.2h1.4M134.2 305.4h1.4M132.1 305.1h1.4M135.8 307.3h1.4M144.5 315.3h1.4M126.3 309.7h1.4M147.6 303.0h1.4M134.7 301.0h1.4M118.9 305.3h1.4M121.2 300.2h1.4M105.5 313.1h1.4M105.1 306.4h1.4M111.3 311.1h1.4M126.4 296.8h1.4M153.4 306.8h1.4M154.2 307.9h1.4M117.6 309.2h1.4M121.1 307.1h1.4M154.1 305.0h1.4M118.6 305.5h1.4M111.1 301.5h1.4M104.9 305.6h1.4M126.7 303.1h1.4M111.6 303.9h1.4M117.7 304.8h1.4M124.8 305.8h1.4M105.5 311.0h1.4M111.6 304.9h1.4M158.1 316.6h1.4M154.9 304.6h1.4M153.2 299.2h1.4M118.8 298.6h1.4M153.3 308.1h1.4M132.9 302.8h1.4M129.9 308.9h1.4M154.8 304.7h1.4M132.8 320.0h1.4M127.6 304.9h1.4M121.2 310.8h1.4M152.9 306.0h1.4M124.0 314.9h1.4M132.8 309.3h1.4M112.2 306.4h1.4M167.5 305.6h1.4M131.6 303.2h1.4M149.6 305.3h1.4M121.0 308.0h1.4M111.0 307.5h1.4M126.0 306.5h1.4M112.0 304.5h1.4M167.4 310.6h1.4M166.7 304.9h1.4M120.8 310.0h1.4M137.6 305.6h1.4M153.3 302.0h1.4M150.0 310.3h1.4M120.7 308.0h1.4M126.8 308.7h1.4M119.9 304.4h1.4M154.9 301.2h1.4M155.0 312.5h1.4M119.6 305.7h1.4M118.2 306.3h1.4M113.8 307.9h1.4M112.1 307.4h1.4M105.2 304.5h1.4M153.3 316.2h1.4M166.6 306.4h1.4M111.8 305.2h1.4M135.3 303.8h1.4M154.4 306.7h1.4M134.1 307.2h1.4M134.9 302.0h1.4M132.0 306.4h1.4M133.2 306.7h1.4M118.3 302.7h1.4M130.8 304.4h1.4M131.0 308.4h1.4M120.2 308.3h1.4M121.5 302.4h1.4M157.1 310.5h1.4M166.9 307.4h1.4M115.2 303.3h1.4M124.0 312.8h1.4M146.5 301.3h1.4M104.0 308.2h1.4M111.8 310.1h1.4M118.6 313.3h1.4M147.9 307.4h1.4M120.9 311.6h1.4M131.6 305.2h1.4M127.7 305.1h1.4M167.6 305.5h1.4M146.5 310.9h1.4M110.9 307.5h1.4M158.4 308.5h1.4M111.3 306.0h1.4M112.1 307.4h1.4M103.8 303.2h1.4M131.0 305.9h1.4M154.5 308.9h1.4M143.0 306.1h1.4M144.3 312.6h1.4M104.9 313.4h1.4M157.5 306.8h1.4M135.8 300.1h1.4M129.5 305.7h1.4M126.4 306.9h1.4M147.9 309.5h1.4M153.3 306.1h1.4M123.4 299.9h1.4M135.2 310.0h1.4M127.5 309.5h1.4M147.3 314.6h1.4M135.1 315.6h1.4M111.9 304.9h1.4M131.0 303.9h1.4M157.0 311.5h1.4M131.6 306.8h1.4M135.7 326.1h1.4M112.3 306.0h1.4M123.5 307.1h1.4M144.8 310.1h1.4M167.0 310.2h1.4M103.9 306.4h1.4M111.1 305.4h1.4M111.9 306.2h1.4M111.5 307.5h1.4M117.4 306.4h1.4M167.7 303.0h1.4M167.5 305.5h1.4M120.4 302.9h1.4M111.4 309.6h1.4M126.7 308.7h1.4M124.5 300.8h1.4M134.0 307.9h1.4M146.2 309.4h1.4M112.4 301.0h1.4M163.9 301.7h1.4M105.2 306.7h1.4M111.6 304.3h1.4M137.6 309.1h1.4M155.0 305.8h1.4M126.5 307.4h1.4M119.9 307.4h1.4M124.8 312.7h1.4M143.8 301.6h1.4M132.1 311.4h1.4M123.9 307.8h1.4M168.1 315.3h1.4M132.6 303.9h1.4M149.4 310.9h1.4M138.4 303.9h1.4M125.8 309.9h1.4M111.4 311.1h1.4M134.4 300.9h1.4M105.0 300.0h1.4M130.3 316.6h1.4M125.0 310.0h1.4M154.7 302.0h1.4M153.3 306.6h1.4M104.6 314.6h1.4M126.7 304.0h1.4M147.2 307.1h1.4M118.2 305.6h1.4M111.1 302.0h1.4M104.1 313.6h1.4M153.3 313.9h1.4M153.2 299.8h1.4M117.5 305.9h1.4M111.1 321.8h1.4M160.7 316.3h1.4M117.8 303.9h1.4M135.1 307.0h1.4M120.9 301.9h1.4M104.6 306.3h1.4M154.4 302.4h1.4M132.7 307.5h1.4M112.4 317.8h1.4M158.7 311.2h1.4M147.3 304.8h1.4M112.0 309.7h1.4M120.0 309.7h1.4M135.4 302.6h1.4M126.4 307.9h1.4M153.7 306.5h1.4M138.8 306.8h1.4M167.6 306.8h1.4M112.4 299.2h1.4M120.3 303.3h1.4M108.9 305.8h1.4M138.1 308.3h1.4M104.7 306.6h1.4M118.3 332.5h1.4M153.2 308.5h1.4M130.5 300.8h1.4M135.8 299.5h1.4M153.7 308.8h1.4M146.9 297.0h1.4M148.6 301.0h1.4M124.3 303.9h1.4M124.4 303.3h1.4M131.1 309.7h1.4M120.3 312.1h1.4M130.9 314.8h1.4M104.4 315.1h1.4M134.9 323.6h1.4M117.9 308.3h1.4M120.6 310.1h1.4M133.0 311.0h1.4M131.0 309.1h1.4M124.8 306.1h1.4M154.0 306.0h1.4M130.2 304.5h1.4M104.1 301.5h1.4M120.1 300.1h1.4M166.4 312.8h1.4M118.1 302.8h1.4M110.6 299.5h1.4M119.8 302.5h1.4M168.1 310.9h1.4M134.2 312.1h1.4M110.9 301.2h1.4M141.7 311.5h1.4M147.7 305.8h1.4M105.1 303.8h1.4M121.1 303.9h1.4M123.5 302.8h1.4M121.0 308.1h1.4M127.4 300.5h1.4M167.6 309.5h1.4M154.9 302.8h1.4M104.7 305.6h1.4M105.6 307.0h1.4M124.6 306.1h1.4M134.9 317.5h1.4M126.8 300.9h1.4M130.4 305.8h1.4M124.6 300.3h1.4M134.7 312.3h1.4M123.8 304.0h1.4M134.0 307.6h1.4M154.2 305.8h1.4M144.4 304.7h1.4M154.8 307.2h1.4M118.2 303.5h1.4M127.7 309.6h1.4M168.0 306.8h1.4M135.1 302.8h1.4M120.9 307.2h1.4M135.9 302.1h1.4M105.4 302.1h1.4M153.9 300.8h1.4M124.5 303.8h1.4M123.7 309.3h1.4M153.2 307.6h1.4M134.5 301.8h1.4M153.9 306.9h1.4M154.4 309.1h1.4M134.3 317.4h1.4M118.3 310.1h1.4M121.0 306.1h1.4M123.1 300.2h1.4M132.6 298.7h1.4M105.5 303.9h1.4M127.5 305.9h1.4M134.8 306.1h1.4M153.4 305.3h1.4M103.8 309.0h1.4M133.4 305.5h1.4M134.6 309.8h1.4M113.6 306.0h1.4M104.9 314.8h1.4M158.2 305.3h1.4M122.1 361.5h1.4M122.0 382.7h1.4M122.0 347.7h1.4M121.9 372.6h1.4M122.1 384.5h1.4M121.8 330.1h1.4M121.8 360.4h1.4" stroke="#34579a" stroke-width="1.4" fill="none" opacity="1"/>
<path d="M49.3 365.3h1.2M76.7 362.9h1.2M43.1 363.3h1.2M48.1 350.7h1.2M47.4 368.5h1.2M60.5 361.8h1.2M58.3 367.1h1.2M64.1 370.5h1.2M43.8 368.9h1.2M64.5 356.5h1.2M44.2 360.6h1.2M76.2 366.1h1.2M66.7 369.4h1.2M48.6 375.6h1.2M47.4 364.3h1.2M82.5 360.9h1.2M40.2 368.2h1.2M47.6 373.9h1.2M75.2 362.2h1.2M59.0 351.8h1.2M47.4 364.2h1.2M68.1 379.9h1.2M59.5 373.0h1.2M51.9 356.6h1.2M47.5 374.9h1.2M72.2 371.3h1.2M97.8 342.1h1.2M95.9 353.7h1.2M98.7 374.0h1.2M102.6 371.3h1.2M102.2 354.0h1.2M101.6 375.1h1.2M100.9 334.0h1.2M97.5 342.1h1.2M117.3 307.2h1.2M117.4 305.5h1.2M123.4 307.3h1.2M104.5 304.8h1.2M143.7 308.7h1.2M131.6 307.6h1.2M127.4 306.1h1.2M117.7 321.5h1.2M152.5 309.9h1.2M155.1 310.5h1.2M111.2 304.4h1.2M117.9 309.8h1.2M124.7 306.1h1.2M124.6 308.0h1.2M132.7 304.2h1.2M117.9 309.2h1.2M143.2 307.4h1.2M105.0 302.9h1.2M146.2 301.4h1.2M157.3 312.2h1.2M166.4 300.4h1.2M112.0 302.5h1.2M110.6 303.2h1.2M123.6 305.5h1.2M119.7 311.3h1.2M159.7 302.6h1.2M114.6 305.1h1.2M144.3 304.6h1.2M110.5 303.4h1.2M134.1 312.1h1.2M108.2 306.2h1.2M154.7 306.5h1.2M132.4 301.7h1.2M118.6 307.6h1.2M104.6 310.5h1.2M146.5 308.6h1.2M117.5 303.0h1.2M134.1 306.7h1.2M167.4 307.9h1.2M148.8 306.9h1.2M134.6 304.6h1.2M108.7 305.9h1.2M135.7 304.3h1.2M119.8 305.3h1.2M124.2 320.2h1.2M115.1 304.1h1.2M149.0 312.9h1.2M110.8 307.5h1.2M126.0 303.6h1.2M118.5 325.3h1.2M138.1 305.4h1.2M126.9 300.8h1.2M153.5 307.8h1.2M105.1 306.4h1.2M124.8 305.8h1.2M153.2 299.2h1.2M132.9 302.8h1.2M129.9 308.9h1.2M121.2 310.8h1.2M132.8 309.3h1.2M121.0 308.0h1.2M126.0 306.5h1.2M133.2 306.7h1.2M131.6 305.2h1.2M154.5 308.9h1.2M111.9 304.9h1.2M111.9 306.2h1.2M168.1 315.3h1.2M120.9 301.9h1.2M132.7 307.5h1.2M112.0 309.7h1.2M108.9 305.8h1.2M146.9 297.0h1.2M120.3 312.1h1.2M117.9 308.3h1.2M141.7 311.5h1.2M105.6 307.0h1.2M130.4 305.8h1.2M168.0 306.8h1.2M135.1 302.8h1.2M123.7 309.3h1.2M127.5 305.9h1.2" stroke="#243d6c" stroke-width="1.2" fill="none" opacity="1"/>
<path d="M40.3 375.4h1.4M79.1 361.7h1.4M43.5 356.9h1.4M61.3 376.6h1.4M41.6 356.1h1.4M50.1 373.4h1.4M54.9 370.9h1.4M41.3 376.0h1.4M67.2 362.7h1.4M40.1 360.7h1.4M64.3 368.7h1.4M49.5 363.6h1.4M40.6 362.7h1.4M64.6 369.6h1.4M66.4 370.6h1.4M45.1 363.8h1.4M76.6 365.7h1.4M66.5 366.8h1.4M66.3 365.3h1.4M78.9 360.6h1.4M54.1 366.0h1.4M61.9 364.7h1.4M49.5 357.8h1.4M45.4 356.0h1.4M41.4 365.6h1.4M76.5 365.0h1.4M69.9 369.8h1.4M40.5 368.9h1.4M70.6 364.9h1.4M58.6 374.5h1.4M49.5 368.7h1.4M40.4 379.7h1.4M70.7 359.2h1.4M54.1 378.4h1.4M66.7 373.5h1.4M76.5 364.8h1.4M58.5 364.1h1.4M65.7 370.3h1.4M45.0 371.5h1.4M42.7 363.1h1.4M70.2 365.6h1.4M64.2 363.3h1.4M73.2 376.1h1.4M79.0 354.5h1.4M40.1 369.5h1.4M72.8 356.7h1.4M40.2 367.5h1.4M53.7 371.6h1.4M49.6 358.1h1.4M61.8 381.9h1.4M40.7 366.7h1.4M70.1 359.5h1.4M75.5 366.0h1.4M49.7 366.1h1.4M40.8 367.1h1.4M60.9 361.6h1.4M50.0 368.2h1.4M60.6 376.2h1.4M41.3 368.0h1.4M54.3 356.4h1.4M78.9 370.4h1.4M49.9 366.5h1.4M55.1 357.6h1.4M70.4 367.9h1.4M54.2 371.4h1.4M69.5 357.3h1.4M70.1 351.9h1.4M48.8 369.2h1.4M70.6 368.7h1.4M54.5 370.1h1.4M54.0 365.4h1.4M80.9 362.6h1.4M82.0 361.6h1.4M65.8 367.6h1.4M53.7 368.5h1.4M61.4 355.5h1.4M43.6 364.9h1.4M54.6 350.8h1.4M54.0 374.5h1.4M70.6 357.7h1.4M66.3 363.6h1.4M54.9 363.5h1.4M66.0 356.6h1.4M54.8 368.5h1.4M46.0 359.7h1.4M80.8 371.0h1.4M46.2 362.6h1.4M61.3 365.4h1.4M61.4 358.8h1.4M79.1 364.8h1.4M54.9 372.2h1.4M40.4 365.2h1.4M40.7 363.7h1.4M48.9 359.7h1.4M79.7 368.0h1.4M48.7 359.3h1.4M72.8 361.2h1.4M81.3 363.9h1.4M73.1 363.4h1.4M43.9 374.2h1.4M75.8 365.6h1.4M45.0 373.1h1.4M48.9 358.6h1.4M66.7 366.7h1.4M80.2 372.9h1.4M69.4 352.6h1.4M65.6 375.4h1.4M48.7 362.8h1.4M49.7 374.4h1.4M69.5 378.0h1.4M64.9 375.4h1.4M75.7 358.3h1.4M61.6 372.3h1.4M48.9 359.9h1.4M60.5 370.7h1.4M61.3 372.1h1.4M41.3 356.4h1.4M75.9 361.9h1.4M80.8 364.7h1.4M64.7 364.5h1.4M55.2 351.1h1.4M41.1 367.2h1.4M55.1 357.5h1.4M69.5 367.1h1.4M54.6 362.4h1.4M54.5 378.3h1.4M62.0 367.4h1.4M50.8 359.8h1.4M66.9 363.3h1.4M60.5 351.6h1.4M40.3 358.0h1.4M70.7 359.4h1.4M66.6 357.2h1.4M49.6 359.9h1.4M69.4 377.4h1.4M79.9 368.5h1.4M73.1 365.5h1.4M54.2 371.6h1.4M67.1 364.0h1.4M43.9 365.0h1.4M79.5 358.8h1.4M80.4 371.8h1.4M53.8 366.7h1.4M40.0 369.6h1.4M44.2 368.3h1.4M41.2 363.1h1.4M69.5 367.4h1.4M76.5 355.0h1.4M66.7 370.6h1.4M81.9 363.6h1.4M41.0 371.0h1.4M69.5 368.7h1.4M60.5 359.2h1.4M65.8 362.4h1.4M54.7 359.9h1.4M70.7 369.2h1.4M60.9 376.4h1.4M72.3 364.0h1.4M82.0 363.2h1.4M79.4 372.6h1.4M65.1 365.7h1.4M49.2 366.2h1.4M73.2 372.1h1.4M76.3 354.9h1.4M76.6 371.3h1.4M40.9 362.5h1.4M49.7 366.7h1.4M66.4 375.2h1.4M49.7 362.9h1.4M73.0 366.5h1.4M61.8 358.0h1.4M64.0 364.7h1.4M46.1 359.4h1.4M60.6 363.0h1.4M81.3 357.6h1.4M45.9 356.8h1.4M60.4 379.6h1.4M61.3 365.0h1.4M69.9 367.2h1.4M81.1 353.1h1.4M48.8 374.2h1.4M76.1 368.6h1.4M78.9 363.0h1.4M81.1 367.9h1.4M67.1 359.9h1.4M46.5 370.5h1.4M48.6 356.9h1.4M80.2 377.7h1.4M70.3 368.1h1.4M46.2 365.6h1.4M66.1 366.0h1.4M50.7 362.5h1.4M60.7 372.3h1.4M41.1 373.9h1.4M41.5 378.5h1.4M79.0 360.2h1.4M41.5 360.6h1.4M55.0 360.3h1.4M65.8 376.0h1.4M60.6 369.6h1.4M49.2 364.1h1.4M53.9 378.9h1.4M51.8 368.1h1.4M79.9 365.5h1.4M57.8 367.8h1.4M82.3 372.1h1.4M40.5 376.2h1.4M51.9 369.7h1.4M72.3 378.8h1.4M60.7 366.0h1.4M79.2 368.6h1.4M70.4 369.1h1.4M40.1 360.3h1.4M49.5 366.0h1.4M72.7 376.1h1.4M54.8 370.3h1.4M72.3 371.1h1.4M41.5 359.8h1.4M75.8 369.0h1.4M45.5 360.0h1.4M40.8 362.3h1.4M70.5 365.5h1.4M51.5 365.8h1.4M76.9 363.3h1.4M61.2 383.7h1.4M48.8 368.1h1.4M49.8 374.6h1.4M45.0 371.9h1.4M61.2 376.9h1.4M69.3 374.2h1.4M61.2 370.9h1.4M43.6 370.7h1.4M45.9 372.4h1.4M79.4 376.9h1.4M76.2 376.9h1.4M54.1 361.5h1.4M58.9 376.6h1.4M75.4 359.2h1.4M82.2 357.2h1.4M54.5 370.4h1.4M54.5 377.5h1.4M70.7 379.8h1.4M73.2 375.5h1.4M49.6 367.9h1.4M61.9 365.8h1.4M55.2 374.2h1.4M51.4 351.5h1.4M60.8 356.2h1.4M60.6 369.7h1.4M54.1 370.0h1.4M40.9 358.9h1.4M65.9 360.1h1.4M58.2 360.0h1.4M48.8 367.0h1.4M54.6 357.5h1.4M49.4 376.8h1.4M50.1 366.4h1.4M41.4 361.8h1.4M40.6 365.5h1.4M50.0 362.5h1.4M45.5 361.5h1.4M76.7 357.3h1.4M70.4 353.8h1.4M70.7 367.7h1.4M75.4 358.9h1.4M81.6 361.6h1.4M70.6 360.3h1.4M58.5 371.0h1.4M54.6 360.5h1.4M76.1 376.7h1.4M45.4 357.7h1.4M41.5 361.6h1.4M76.7 367.9h1.4M78.8 372.8h1.4M61.2 367.1h1.4M81.5 357.3h1.4M69.8 360.5h1.4M79.9 362.2h1.4M40.6 357.4h1.4M76.9 362.4h1.4M58.3 361.1h1.4M72.1 372.9h1.4M82.0 377.0h1.4M70.5 375.2h1.4M79.5 363.7h1.4M60.7 373.8h1.4M66.6 375.6h1.4M40.7 365.4h1.4M51.4 361.4h1.4M64.7 378.3h1.4M61.3 360.7h1.4M81.6 359.0h1.4M42.9 368.3h1.4M45.8 367.8h1.4M64.9 377.6h1.4M51.5 366.7h1.4M45.4 373.3h1.4M54.4 360.6h1.4M41.4 373.0h1.4M66.0 363.9h1.4M80.2 376.0h1.4M51.3 358.3h1.4M61.9 357.3h1.4M49.0 372.8h1.4M61.7 368.8h1.4M46.5 371.6h1.4M60.6 360.5h1.4M40.2 370.4h1.4M54.1 364.7h1.4M41.1 370.8h1.4M46.1 364.2h1.4M43.3 378.8h1.4M72.1 364.6h1.4M81.0 359.2h1.4M60.8 373.1h1.4M49.9 373.7h1.4M54.1 369.1h1.4M43.4 379.4h1.4M49.7 360.9h1.4M51.0 358.3h1.4M46.3 364.1h1.4M61.0 363.0h1.4M50.4 366.3h1.4M69.7 369.3h1.4M80.1 368.2h1.4M48.5 363.0h1.4M66.2 360.0h1.4M49.8 356.8h1.4M65.9 375.4h1.4M69.3 359.9h1.4M45.3 364.4h1.4M51.4 367.1h1.4M76.3 365.6h1.4M69.8 373.2h1.4M73.0 378.8h1.4M63.7 369.4h1.4M41.3 375.7h1.4M41.1 359.9h1.4M70.5 379.9h1.4M55.2 374.7h1.4M70.5 363.6h1.4M69.9 366.5h1.4M79.0 376.1h1.4M72.2 368.7h1.4M81.7 365.8h1.4M54.3 368.2h1.4M50.6 363.4h1.4M49.3 361.3h1.4M79.4 368.7h1.4M60.9 363.3h1.4M61.6 361.1h1.4M58.5 357.7h1.4M43.1 366.5h1.4M48.8 368.1h1.4M57.5 359.4h1.4M45.1 367.1h1.4M81.9 361.8h1.4M60.6 346.9h1.4M57.6 381.3h1.4M66.6 366.6h1.4M66.0 366.9h1.4M70.6 367.1h1.4M46.0 369.6h1.4M70.5 363.9h1.4M54.0 363.0h1.4M61.0 371.8h1.4M48.6 357.0h1.4M70.7 356.6h1.4M61.2 363.0h1.4M41.1 374.5h1.4M58.9 373.0h1.4M46.1 367.6h1.4M76.7 360.8h1.4M66.4 368.3h1.4M54.4 372.7h1.4M45.4 352.5h1.4M60.9 371.1h1.4M58.9 368.9h1.4M76.9 356.6h1.4M41.1 357.2h1.4M51.2 355.9h1.4M50.9 367.0h1.4M40.3 363.0h1.4M66.2 366.7h1.4M54.5 363.1h1.4M46.4 367.9h1.4M44.0 372.8h1.4M49.3 370.6h1.4M49.4 356.6h1.4M40.7 365.0h1.4M58.7 363.2h1.4M44.2 354.5h1.4M41.3 374.1h1.4M61.6 381.2h1.4M69.3 365.0h1.4M64.0 366.7h1.4M69.9 355.7h1.4M61.9 356.1h1.4M46.1 366.7h1.4M72.0 355.4h1.4M70.7 374.8h1.4M40.9 368.3h1.4M44.1 365.7h1.4M58.7 370.3h1.4M42.6 367.2h1.4M60.9 361.6h1.4M53.9 355.6h1.4M73.3 363.3h1.4M53.9 374.5h1.4M40.3 356.9h1.4M66.2 373.1h1.4M55.1 377.0h1.4M40.5 373.0h1.4M40.3 360.1h1.4M58.2 365.3h1.4M60.9 366.4h1.4M58.9 372.1h1.4M48.9 374.0h1.4M49.4 386.5h1.4M40.9 360.1h1.4M76.6 361.5h1.4M49.8 360.9h1.4M79.9 366.7h1.4M61.4 354.5h1.4M61.0 362.6h1.4M81.5 371.0h1.4M48.9 366.3h1.4M76.1 366.4h1.4M60.9 371.1h1.4M51.5 368.2h1.4M79.4 363.4h1.4M45.9 364.4h1.4M54.9 367.5h1.4M61.8 363.9h1.4M48.5 364.6h1.4M49.1 376.5h1.4M65.0 369.5h1.4M81.7 376.4h1.4M73.2 368.7h1.4M61.8 369.2h1.4M79.2 365.8h1.4M54.8 355.8h1.4M40.7 361.4h1.4M61.3 361.4h1.4M57.3 347.0h1.4M41.0 357.8h1.4M53.8 373.2h1.4M41.3 375.0h1.4M61.3 360.7h1.4M54.9 358.0h1.4M70.4 361.5h1.4M81.4 376.9h1.4M61.9 373.6h1.4M66.8 366.2h1.4M81.1 367.2h1.4M42.7 366.7h1.4M60.7 363.2h1.4M46.1 368.7h1.4M45.0 366.7h1.4M61.4 385.4h1.4M72.5 368.5h1.4M69.3 363.9h1.4M55.1 359.3h1.4M80.3 363.0h1.4M48.9 361.2h1.4M49.7 367.8h1.4M51.9 362.1h1.4M76.7 364.1h1.4M70.5 361.9h1.4M79.1 372.7h1.4M64.4 369.3h1.4M79.4 362.6h1.4M75.6 371.6h1.4M40.2 365.6h1.4M41.5 365.5h1.4M46.0 362.7h1.4M55.1 380.0h1.4M40.4 352.8h1.4M69.3 366.6h1.4M40.0 373.1h1.4M51.7 362.1h1.4M54.0 366.1h1.4M46.1 370.7h1.4M61.9 370.0h1.4M50.0 365.2h1.4M45.4 360.3h1.4M40.8 359.7h1.4M41.1 363.5h1.4M61.3 379.8h1.4M69.9 364.2h1.4M55.2 360.5h1.4M46.6 370.5h1.4M65.1 360.7h1.4M48.8 361.5h1.4M76.6 375.9h1.4M51.4 369.1h1.4M51.9 365.5h1.4M61.3 352.3h1.4M49.5 357.9h1.4M54.5 373.3h1.4M66.1 361.1h1.4M64.1 364.5h1.4M58.5 361.0h1.4M44.1 366.5h1.4M61.2 366.1h1.4M72.5 370.0h1.4M73.2 372.3h1.4M73.1 367.6h1.4M45.4 358.1h1.4M61.1 375.6h1.4M55.3 358.3h1.4M73.0 368.3h1.4M66.2 366.3h1.4M54.3 372.4h1.4M49.4 370.6h1.4M49.0 375.7h1.4M71.9 368.7h1.4M54.9 362.2h1.4M53.7 358.5h1.4M51.0 373.9h1.4M72.4 352.0h1.4M46.5 358.4h1.4M54.7 376.3h1.4M54.5 370.8h1.4M80.0 359.4h1.4M58.7 361.6h1.4M58.7 357.5h1.4M72.9 366.3h1.4M53.7 354.7h1.4M69.4 361.9h1.4M41.3 375.6h1.4M60.5 371.9h1.4M70.0 363.2h1.4M65.2 359.1h1.4M75.6 365.0h1.4M81.2 365.7h1.4M50.7 358.0h1.4M53.8 363.0h1.4M76.6 365.6h1.4M40.9 370.4h1.4M58.1 357.6h1.4M50.0 375.1h1.4M40.5 358.3h1.4M50.8 370.6h1.4M51.5 359.4h1.4M79.5 361.6h1.4M40.7 378.9h1.4M41.0 370.0h1.4M79.7 355.5h1.4M66.1 365.9h1.4M75.6 366.7h1.4M41.3 368.9h1.4M54.7 374.5h1.4M45.0 359.9h1.4M41.3 366.8h1.4M51.2 374.9h1.4M79.3 372.9h1.4M81.3 375.9h1.4M54.7 362.9h1.4M58.5 364.9h1.4M65.8 377.1h1.4M82.2 376.7h1.4M50.9 349.9h1.4M40.8 366.1h1.4M64.5 369.3h1.4M80.2 370.0h1.4M78.9 372.0h1.4M79.9 364.5h1.4M54.4 365.6h1.4M69.7 361.5h1.4M60.5 368.0h1.4M57.4 356.8h1.4M41.0 360.1h1.4M54.7 362.8h1.4M46.5 373.5h1.4M57.5 354.1h1.4M75.5 362.4h1.4M57.6 365.0h1.4M61.0 362.0h1.4M43.0 368.4h1.4M61.8 373.3h1.4M70.1 363.0h1.4M49.7 365.6h1.4M54.5 367.5h1.4M78.9 366.7h1.4M70.3 375.0h1.4M49.5 375.1h1.4M70.5 368.3h1.4M72.5 382.1h1.4M54.3 366.9h1.4M49.7 369.5h1.4M42.9 371.0h1.4M55.2 367.8h1.4M61.6 358.2h1.4M70.2 356.4h1.4M69.4 356.4h1.4M53.9 360.5h1.4M43.9 355.7h1.4M80.0 368.8h1.4M58.6 357.1h1.4M75.8 349.5h1.4M44.2 362.5h1.4M49.8 368.3h1.4M49.3 373.0h1.4M70.3 368.4h1.4M67.1 353.8h1.4M53.8 369.0h1.4M65.0 360.4h1.4M40.8 375.5h1.4M54.6 373.9h1.4M54.0 371.2h1.4M50.5 357.9h1.4M69.9 367.0h1.4M65.7 362.5h1.4M45.4 362.6h1.4M79.8 369.5h1.4M54.5 345.2h1.4M46.3 364.9h1.4M60.4 372.9h1.4M72.2 363.2h1.4M40.9 359.1h1.4M80.2 365.2h1.4M41.0 372.1h1.4M66.6 364.1h1.4M61.5 359.2h1.4M80.8 365.9h1.4M66.5 365.9h1.4M70.4 351.3h1.4M50.6 368.8h1.4M64.6 363.4h1.4M54.9 363.5h1.4M51.2 377.3h1.4M81.8 362.8h1.4M81.8 359.8h1.4M48.8 371.4h1.4M53.9 354.9h1.4M75.6 368.7h1.4M40.5 371.0h1.4M82.3 359.8h1.4M49.0 381.2h1.4M40.4 352.4h1.4M48.8 377.5h1.4M58.6 366.9h1.4M46.2 359.9h1.4M61.5 364.8h1.4M79.7 372.3h1.4M66.0 378.3h1.4M61.0 369.1h1.4M48.9 354.8h1.4M66.3 362.3h1.4M40.5 375.4h1.4M70.5 363.8h1.4M80.0 356.0h1.4M54.0 373.6h1.4M61.2 368.8h1.4M53.8 363.7h1.4M61.8 359.6h1.4M60.8 362.5h1.4M70.6 360.3h1.4M61.8 355.6h1.4M70.5 368.4h1.4M70.3 363.3h1.4M48.6 368.3h1.4M48.9 360.9h1.4M67.2 359.0h1.4M41.3 374.1h1.4M41.0 365.4h1.4M58.2 368.2h1.4M41.3 367.4h1.4M54.2 375.4h1.4M49.8 372.5h1.4M60.4 355.2h1.4M40.8 374.8h1.4M70.1 369.6h1.4M61.3 381.1h1.4M73.3 349.0h1.4M80.8 370.9h1.4M66.7 371.5h1.4M54.0 364.9h1.4M70.0 370.2h1.4M49.6 364.9h1.4M70.8 374.6h1.4M80.3 365.3h1.4M48.5 363.4h1.4M70.2 363.3h1.4M67.2 369.1h1.4M40.3 375.8h1.4M57.5 358.4h1.4M46.2 381.0h1.4M72.6 364.9h1.4M42.8 361.1h1.4M48.5 365.6h1.4M70.7 355.5h1.4M55.0 370.1h1.4M42.6 360.0h1.4M41.3 362.4h1.4M57.4 363.2h1.4M51.3 365.2h1.4M61.4 366.4h1.4M53.8 380.8h1.4M42.9 357.4h1.4M69.9 360.8h1.4M69.3 357.4h1.4M69.6 371.9h1.4M70.0 373.6h1.4M40.4 360.8h1.4M49.1 370.2h1.4M69.3 357.1h1.4M82.0 370.7h1.4M79.2 367.3h1.4M79.8 365.5h1.4M41.2 369.8h1.4M81.9 367.2h1.4M60.6 361.9h1.4M80.3 371.0h1.4M72.6 358.7h1.4M64.9 374.0h1.4M51.0 368.7h1.4M69.3 368.7h1.4M43.6 358.7h1.4M53.9 359.6h1.4M41.2 364.0h1.4M75.5 362.0h1.4M45.9 376.9h1.4M69.2 373.8h1.4M64.5 372.7h1.4M54.7 375.5h1.4M73.3 360.2h1.4M69.3 370.1h1.4M75.6 359.9h1.4M58.4 363.8h1.4M50.5 371.9h1.4M81.8 366.8h1.4M81.9 352.7h1.4M49.2 367.5h1.4M79.3 380.1h1.4M70.6 362.6h1.4M72.3 365.2h1.4M54.5 370.3h1.4M66.5 373.0h1.4M55.1 368.7h1.4M49.0 365.2h1.4M40.4 370.1h1.4M58.4 365.5h1.4M70.4 365.7h1.4M69.5 367.4h1.4M81.7 360.6h1.4M69.7 358.1h1.4M40.0 367.9h1.4M61.9 368.4h1.4M49.7 370.5h1.4M54.8 369.2h1.4M69.4 358.7h1.4M41.3 376.7h1.4M76.6 365.6h1.4M46.4 366.8h1.4M66.5 367.4h1.4M41.6 369.3h1.4M66.5 366.9h1.4M75.6 366.3h1.4M54.8 367.0h1.4M54.5 360.7h1.4M49.8 357.2h1.4M48.8 373.8h1.4M54.3 352.1h1.4M41.1 368.3h1.4M48.5 371.5h1.4M69.4 370.9h1.4M57.6 362.6h1.4M40.6 367.1h1.4M79.7 367.8h1.4M61.8 377.0h1.4M75.5 360.8h1.4M46.3 365.0h1.4M40.4 354.9h1.4M40.7 368.5h1.4M49.6 380.3h1.4M60.7 379.4h1.4M66.4 354.7h1.4M60.8 367.9h1.4M64.7 371.3h1.4M70.6 350.1h1.4M79.1 353.7h1.4M40.3 357.2h1.4M57.5 365.7h1.4M79.5 356.7h1.4M41.5 357.6h1.4M79.6 367.0h1.4M66.0 373.9h1.4M57.7 391.8h1.4M51.0 365.1h1.4M53.9 364.5h1.4M41.0 357.3h1.4M69.4 368.3h1.4M44.1 371.3h1.4M65.1 372.2h1.4M48.8 359.0h1.4M79.9 367.9h1.4M81.1 363.9h1.4M79.0 367.0h1.4M50.8 370.7h1.4M61.8 360.6h1.4M66.4 366.2h1.4M64.9 375.9h1.4M81.0 373.0h1.4M46.1 360.4h1.4M49.1 364.6h1.4M70.2 363.4h1.4M66.9 355.5h1.4M70.2 367.4h1.4M82.0 350.1h1.4M49.1 373.1h1.4M79.2 359.3h1.4M69.4 373.7h1.4M48.9 370.4h1.4M53.8 371.1h1.4M79.7 363.7h1.4M45.7 358.7h1.4M65.9 377.2h1.4M72.8 363.1h1.4M103.4 374.9h1.4M99.6 358.6h1.4M103.9 369.7h1.4M100.0 376.1h1.4M103.7 381.6h1.4M100.0 367.0h1.4M99.6 385.2h1.4M99.5 361.0h1.4M98.7 370.2h1.4M103.6 351.1h1.4M101.0 375.6h1.4M99.4 380.5h1.4M98.7 374.9h1.4M100.3 378.0h1.4M100.4 368.0h1.4M97.6 362.5h1.4M100.1 364.9h1.4M98.1 354.2h1.4M98.3 353.3h1.4M104.0 380.3h1.4M100.2 350.1h1.4M100.4 371.0h1.4M98.5 365.2h1.4M103.3 363.9h1.4M98.3 366.5h1.4M98.1 403.2h1.4M103.8 344.5h1.4M100.1 368.5h1.4M102.8 368.1h1.4M98.1 362.5h1.4M98.7 367.9h1.4M102.9 360.1h1.4M100.4 359.3h1.4M103.2 348.4h1.4M103.7 366.2h1.4M100.2 360.3h1.4M102.8 358.3h1.4M97.6 363.5h1.4M99.4 352.9h1.4M99.3 361.6h1.4M100.4 373.6h1.4M103.1 375.1h1.4M97.5 371.4h1.4M99.9 371.3h1.4M99.6 359.3h1.4M103.5 358.5h1.4M99.5 367.3h1.4M97.4 389.2h1.4M98.1 373.0h1.4M100.4 355.6h1.4M100.1 386.5h1.4M103.0 369.2h1.4M96.4 353.0h1.4M96.1 358.0h1.4M102.7 364.5h1.4M99.5 383.8h1.4M100.0 393.7h1.4M98.5 345.5h1.4M97.9 392.4h1.4M103.5 358.6h1.4M98.4 354.9h1.4M97.6 380.6h1.4M98.3 371.8h1.4M99.8 374.9h1.4M99.1 353.4h1.4M101.0 369.3h1.4M97.6 360.6h1.4M101.0 371.4h1.4M103.2 376.7h1.4M97.5 353.9h1.4M99.2 360.0h1.4M100.4 369.8h1.4M97.9 377.7h1.4M99.3 349.6h1.4M98.6 373.0h1.4M98.1 376.3h1.4M98.5 361.3h1.4M99.7 366.1h1.4M98.7 369.9h1.4M97.6 374.9h1.4M103.1 363.5h1.4M100.0 361.1h1.4M97.5 385.5h1.4M98.1 365.3h1.4M98.4 369.0h1.4M103.7 359.8h1.4M98.1 361.3h1.4M100.4 338.0h1.4M100.2 365.2h1.4M100.1 369.0h1.4M99.6 362.5h1.4M99.1 420.9h1.4M100.3 376.1h1.4M99.2 380.7h1.4M99.1 341.7h1.4M103.0 380.2h1.4M103.8 378.4h1.4M103.4 364.1h1.4M99.7 359.3h1.4M99.4 373.7h1.4M99.8 363.6h1.4M99.5 361.8h1.4M100.2 366.6h1.4M99.6 385.8h1.4M100.1 352.7h1.4M98.1 367.9h1.4M97.9 365.8h1.4M98.5 360.7h1.4M100.0 366.0h1.4M99.1 369.4h1.4M100.0 368.5h1.4M99.2 360.6h1.4M99.7 365.2h1.4M100.3 376.2h1.4M103.2 357.4h1.4M97.6 387.6h1.4M103.8 377.1h1.4M99.3 352.1h1.4M99.2 358.5h1.4M99.4 373.9h1.4M99.6 343.0h1.4M100.0 376.8h1.4M97.5 361.0h1.4M98.6 361.9h1.4M98.2 365.4h1.4M98.3 368.5h1.4M99.2 363.1h1.4M100.3 374.6h1.4M102.9 366.9h1.4M99.1 377.7h1.4M103.0 341.6h1.4M98.0 369.7h1.4M100.2 358.4h1.4M102.7 363.9h1.4M101.3 374.4h1.4M97.4 378.5h1.4M97.9 359.4h1.4M99.8 366.1h1.4M98.1 354.7h1.4M98.7 378.6h1.4M99.9 365.7h1.4M103.1 369.9h1.4M99.8 358.7h1.4M99.6 380.9h1.4M99.6 359.9h1.4M99.6 355.7h1.4M103.2 356.7h1.4M96.1 376.2h1.4M100.0 360.9h1.4M98.3 367.4h1.4M92.6 360.7h1.4M92.8 363.5h1.4M92.9 354.5h1.4M92.2 355.5h1.4M92.7 359.1h1.4M93.1 371.4h1.4M92.0 401.5h1.4M92.3 356.2h1.4M93.1 381.5h1.4M93.1 366.5h1.4M93.1 370.6h1.4M91.6 356.7h1.4M92.0 368.4h1.4M93.2 370.4h1.4M93.3 366.6h1.4M93.0 358.6h1.4M92.0 354.4h1.4M92.1 361.3h1.4M93.0 371.4h1.4M92.9 383.7h1.4M92.9 365.7h1.4M92.4 370.3h1.4M91.9 364.3h1.4M92.2 348.5h1.4M92.8 360.2h1.4M112.9 425.5h1.4M163.9 430.9h1.4M149.2 426.8h1.4M155.6 423.6h1.4M169.8 423.9h1.4M132.8 425.0h1.4M113.6 422.6h1.4M158.5 427.3h1.4M148.7 422.0h1.4M162.0 424.6h1.4M148.7 409.7h1.4M161.4 428.1h1.4M156.6 420.4h1.4M168.3 427.9h1.4M119.7 429.9h1.4M117.2 424.1h1.4M148.0 420.1h1.4M105.8 427.1h1.4M117.7 428.9h1.4M129.4 430.1h1.4M156.0 427.9h1.4M117.6 431.4h1.4M139.5 419.7h1.4M133.1 419.0h1.4M168.8 427.0h1.4M169.7 427.9h1.4M131.3 427.2h1.4M168.8 417.5h1.4M158.9 423.7h1.4M161.4 415.1h1.4M169.0 421.0h1.4M156.4 414.6h1.4M116.3 406.3h1.4M147.7 412.5h1.4M155.9 431.9h1.4M136.9 427.7h1.4M107.0 422.3h1.4M152.6 419.1h1.4M114.1 419.0h1.4M112.4 421.2h1.4M127.3 434.2h1.4M168.8 423.8h1.4M170.1 419.2h1.4M147.5 423.5h1.4M151.6 423.0h1.4M162.3 419.7h1.4M170.2 426.5h1.4M110.1 410.6h1.4M117.7 428.9h1.4M118.0 418.0h1.4M161.5 414.5h1.4M169.7 410.6h1.4M133.0 429.5h1.4M117.1 419.5h1.4M168.4 421.8h1.4M151.3 419.0h1.4M117.1 422.9h1.4M151.4 425.7h1.4M145.8 423.7h1.4M103.7 421.3h1.4M142.3 418.3h1.4M162.1 424.0h1.4M130.4 426.3h1.4M149.3 423.5h1.4M113.5 424.2h1.4M165.6 411.2h1.4M148.7 424.6h1.4M130.0 426.0h1.4M117.1 418.2h1.4M116.8 425.7h1.4M156.0 424.7h1.4M160.7 421.8h1.4M155.9 431.3h1.4M156.5 424.4h1.4M124.5 414.2h1.4M125.0 430.2h1.4M170.1 423.2h1.4M133.6 426.2h1.4M166.0 420.5h1.4M116.4 430.0h1.4M151.7 426.4h1.4M148.9 419.5h1.4M117.9 425.5h1.4M148.3 430.3h1.4M170.3 418.9h1.4M169.8 422.2h1.4M163.4 429.3h1.4M152.2 421.5h1.4M156.0 427.7h1.4M165.7 414.9h1.4M161.3 423.7h1.4M104.4 425.3h1.4M131.1 424.9h1.4M123.9 423.8h1.4M133.7 421.3h1.4M137.2 428.5h1.4M147.9 426.1h1.4M148.2 425.8h1.4M168.4 423.6h1.4M148.3 427.5h1.4M108.6 422.2h1.4M152.5 421.8h1.4M149.4 430.6h1.4M130.7 417.3h1.4M113.5 426.3h1.4M155.6 423.9h1.4M157.0 431.6h1.4M109.9 423.7h1.4M138.4 419.8h1.4M156.0 426.6h1.4M168.2 419.7h1.4M147.6 428.0h1.4M127.0 429.3h1.4M129.6 423.5h1.4M168.4 423.5h1.4M127.0 426.3h1.4M148.8 423.6h1.4M133.6 425.5h1.4M108.9 419.9h1.4M139.2 430.7h1.4M151.1 426.3h1.4M163.8 421.6h1.4M133.3 429.2h1.4M157.2 420.7h1.4M166.3 425.6h1.4M117.2 428.2h1.4M169.4 422.6h1.4M149.5 427.2h1.4M151.2 419.7h1.4M152.3 425.1h1.4M131.4 419.5h1.4M152.7 416.7h1.4M169.6 431.8h1.4M144.8 427.5h1.4M143.9 409.8h1.4M133.1 421.1h1.4M166.4 429.4h1.4M105.3 423.7h1.4M112.1 425.1h1.4M106.2 422.0h1.4M152.3 423.4h1.4M112.7 424.0h1.4M107.3 427.6h1.4M156.8 430.4h1.4M164.6 425.6h1.4M137.4 421.7h1.4M142.6 428.7h1.4M161.9 407.7h1.4M113.2 428.8h1.4M148.2 418.9h1.4M152.0 422.2h1.4M114.2 426.6h1.4M155.8 422.7h1.4M155.9 420.2h1.4M155.3 426.5h1.4M131.2 428.8h1.4M123.9 428.7h1.4M156.6 425.6h1.4M147.6 425.7h1.4M149.5 420.2h1.4M148.1 406.4h1.4M156.4 420.0h1.4M169.0 424.4h1.4M169.8 429.3h1.4M117.1 424.3h1.4M134.3 427.6h1.4M128.0 424.2h1.4M155.6 421.5h1.4M162.5 425.3h1.4M116.1 424.4h1.4M170.3 419.3h1.4M123.9 408.6h1.4M129.6 429.1h1.4M166.9 421.9h1.4M161.4 426.0h1.4M166.2 428.4h1.4M148.9 424.3h1.4M151.8 418.2h1.4M149.0 422.3h1.4M116.8 432.0h1.4M148.5 425.4h1.4M108.4 433.1h1.4M149.6 426.9h1.4M133.3 425.3h1.4M157.2 420.0h1.4M149.1 420.8h1.4M170.3 422.5h1.4M147.7 427.6h1.4M158.2 423.3h1.4M127.5 432.8h1.4M148.0 426.4h1.4M149.1 427.5h1.4M151.8 426.0h1.4M155.8 428.3h1.4M151.4 429.4h1.4M118.2 430.4h1.4M121.3 421.7h1.4M134.1 423.4h1.4M170.2 422.0h1.4M170.4 425.9h1.4M145.0 427.7h1.4M155.0 419.0h1.4M124.0 428.4h1.4M105.4 421.9h1.4M133.8 434.3h1.4M134.5 428.7h1.4M123.1 416.0h1.4M152.1 424.0h1.4M151.8 421.8h1.4M158.0 425.0h1.4M142.6 420.1h1.4M155.8 422.4h1.4M117.7 427.2h1.4M118.0 425.0h1.4M149.1 415.2h1.4M169.7 420.6h1.4M112.6 426.9h1.4M128.2 426.8h1.4M137.4 423.6h1.4M123.0 421.9h1.4M124.4 423.8h1.4M159.5 428.5h1.4M129.4 428.8h1.4M148.0 423.1h1.4M133.9 415.3h1.4M143.4 420.5h1.4M105.8 421.4h1.4M117.2 418.4h1.4M152.6 418.4h1.4M167.6 427.3h1.4M138.7 419.9h1.4M156.7 414.4h1.4M132.6 423.5h1.4M149.1 431.5h1.4M117.9 425.8h1.4M113.2 426.5h1.4M105.8 435.3h1.4M152.2 425.1h1.4M148.2 426.0h1.4M134.5 422.7h1.4M128.2 419.5h1.4M129.6 423.3h1.4M113.4 420.9h1.4M148.9 404.5h1.4M165.7 427.0h1.4M137.4 426.5h1.4M168.3 424.2h1.4M169.8 418.3h1.4M168.8 433.3h1.4M168.6 425.4h1.4M169.1 419.1h1.4M116.6 424.1h1.4M161.7 433.8h1.4M103.8 435.4h1.4M128.2 421.9h1.4M134.6 423.2h1.4M112.5 421.5h1.4M117.3 426.6h1.4M132.6 402.4h1.4M147.5 429.5h1.4M152.1 425.5h1.4M162.6 435.2h1.4M133.8 420.0h1.4M158.0 419.6h1.4M168.9 417.0h1.4M134.5 408.3h1.4M161.2 424.0h1.4M170.3 421.4h1.4M156.5 430.0h1.4M134.2 424.9h1.4M147.8 426.7h1.4M130.0 429.9h1.4M148.3 423.9h1.4M161.6 423.1h1.4M116.2 426.9h1.4M106.4 430.1h1.4M143.5 429.5h1.4M159.1 421.5h1.4M155.8 423.7h1.4M107.7 424.6h1.4M106.4 434.6h1.4M152.6 424.0h1.4M119.7 426.4h1.4M152.8 418.3h1.4M148.3 401.6h1.4M106.0 429.5h1.4M160.5 426.5h1.4M136.9 422.7h1.4M130.6 420.6h1.4M169.3 422.2h1.4M146.1 420.4h1.4M168.8 432.5h1.4M148.1 423.5h1.4M136.5 424.5h1.4M147.7 429.6h1.4M155.4 429.4h1.4M151.8 425.9h1.4M151.0 400.0h1.4M156.0 424.3h1.4M113.5 423.3h1.4M127.7 425.8h1.4M134.5 427.6h1.4M167.1 419.5h1.4M130.1 434.3h1.4M148.0 417.2h1.4M149.5 430.2h1.4M151.0 417.9h1.4M148.4 432.6h1.4M151.5 428.3h1.4M165.8 425.7h1.4M159.7 434.0h1.4M148.1 435.6h1.4M170.2 421.4h1.4M152.9 431.4h1.4M127.0 421.0h1.4M116.6 432.1h1.4M170.0 430.6h1.4M156.5 422.5h1.4M123.7 424.4h1.4M151.4 430.0h1.4M169.9 419.4h1.4M146.5 425.4h1.4M147.5 429.6h1.4M156.4 420.0h1.4M129.4 422.4h1.4M158.6 427.8h1.4M162.6 408.2h1.4M169.2 424.6h1.4M147.6 422.8h1.4M130.0 427.0h1.4M130.8 419.0h1.4M161.8 415.4h1.4M156.0 416.4h1.4M148.1 427.1h1.4M169.7 417.1h1.4M134.1 431.4h1.4M133.2 415.2h1.4M158.5 429.5h1.4M166.1 426.3h1.4M156.4 424.7h1.4M149.6 431.2h1.4M134.6 421.3h1.4M116.5 429.9h1.4M143.9 421.6h1.4M161.8 425.3h1.4M133.0 423.4h1.4M112.9 421.2h1.4M169.0 431.5h1.4M143.0 423.5h1.4M117.1 428.6h1.4M117.4 427.7h1.4M152.6 423.4h1.4M117.4 425.9h1.4M118.2 421.2h1.4M151.6 428.7h1.4M156.0 422.7h1.4M142.8 423.9h1.4M149.0 418.3h1.4M137.7 424.8h1.4M104.8 421.5h1.4M129.7 427.6h1.4M166.1 422.5h1.4M156.1 425.3h1.4M170.2 430.8h1.4M113.6 429.7h1.4M155.1 413.1h1.4M140.5 420.9h1.4M124.5 421.1h1.4M123.6 425.5h1.4M118.0 417.4h1.4M151.2 421.8h1.4M170.0 427.7h1.4M106.3 419.3h1.4M149.5 430.9h1.4M131.2 398.8h1.4M157.8 423.2h1.4M152.6 425.3h1.4M124.7 428.4h1.4M168.8 425.1h1.4M140.3 419.9h1.4M105.7 428.9h1.4M151.2 416.9h1.4M105.7 415.8h1.4M130.5 423.6h1.4M130.5 429.8h1.4M150.9 426.1h1.4M117.0 430.0h1.4M152.6 429.4h1.4M148.2 423.9h1.4M149.6 420.3h1.4M148.0 420.9h1.4M145.3 426.7h1.4M168.3 424.8h1.4M150.9 427.7h1.4M139.6 435.3h1.4M113.2 426.4h1.4M151.1 417.9h1.4M147.5 429.2h1.4M123.3 428.0h1.4M152.5 416.7h1.4M109.0 421.3h1.4M148.3 425.1h1.4M169.8 428.1h1.4M134.2 424.2h1.4M160.6 421.7h1.4M165.6 431.5h1.4M131.0 420.6h1.4M124.5 430.0h1.4M155.5 431.2h1.4M151.7 414.3h1.4M112.6 423.0h1.4M170.3 417.3h1.4M116.3 422.9h1.4M170.3 430.0h1.4M110.1 420.8h1.4M168.5 419.6h1.4M117.1 424.3h1.4M149.6 426.6h1.4M156.3 423.4h1.4M130.2 424.6h1.4M164.6 428.9h1.4M105.2 425.0h1.4M117.9 428.9h1.4M169.6 412.2h1.4M104.3 431.3h1.4M116.6 432.6h1.4M136.0 428.3h1.4M148.2 427.8h1.4M144.8 427.2h1.4M161.7 423.5h1.4M116.1 423.4h1.4M116.7 426.6h1.4M152.6 423.2h1.4M148.2 424.0h1.4M155.3 423.1h1.4M117.1 424.3h1.4M106.5 420.9h1.4M148.8 417.9h1.4M169.8 416.7h1.4M116.6 417.2h1.4M158.3 420.6h1.4M151.1 424.0h1.4M152.3 429.0h1.4M110.1 429.7h1.4M152.8 421.4h1.4M151.0 416.8h1.4M133.0 416.6h1.4M162.1 425.6h1.4M155.5 427.5h1.4M133.0 430.4h1.4M106.4 431.5h1.4M106.0 427.6h1.4M167.5 421.2h1.4M156.2 423.5h1.4M168.6 419.0h1.4M156.0 423.7h1.4M149.6 428.9h1.4M164.7 422.8h1.4M167.5 430.7h1.4M161.8 426.6h1.4M170.2 410.2h1.4M129.7 427.7h1.4M116.8 431.4h1.4M113.3 424.8h1.4M151.4 423.1h1.4M130.7 408.6h1.4M169.8 415.7h1.4M155.8 429.6h1.4M132.7 420.7h1.4M108.7 413.4h1.4M125.2 431.0h1.4M159.2 422.8h1.4M162.5 423.3h1.4M116.2 428.4h1.4M127.3 419.0h1.4M159.3 433.8h1.4M162.1 426.4h1.4M169.6 406.6h1.4M118.0 423.9h1.4M150.9 424.9h1.4M116.2 424.0h1.4M117.8 426.6h1.4M168.6 415.4h1.4M158.3 421.6h1.4M124.6 429.9h1.4M137.2 426.4h1.4M117.7 426.8h1.4M156.8 424.3h1.4M133.9 424.7h1.4M158.1 423.5h1.4M151.7 414.6h1.4M113.5 421.1h1.4M152.6 417.0h1.4M148.6 424.9h1.4M112.9 426.5h1.4M149.3 431.1h1.4M117.3 419.7h1.4M108.6 425.7h1.4M162.3 424.8h1.4M108.2 421.9h1.4M156.1 427.5h1.4M116.3 425.7h1.4M120.8 424.0h1.4M145.8 428.0h1.4M160.7 427.7h1.4M161.7 431.5h1.4M168.8 421.4h1.4M140.2 419.8h1.4M166.3 423.1h1.4M116.6 409.1h1.4M158.6 423.9h1.4M121.6 418.8h1.4M167.7 428.7h1.4M137.4 426.2h1.4M129.8 429.4h1.4M134.0 430.4h1.4M159.2 429.6h1.4M117.1 425.9h1.4M151.2 408.7h1.4M163.3 419.3h1.4M156.9 428.6h1.4M126.7 423.7h1.4M169.4 426.5h1.4M107.5 425.1h1.4M126.5 421.8h1.4M127.4 425.1h1.4M148.3 427.0h1.4M132.9 423.8h1.4M156.4 418.7h1.4M118.1 421.5h1.4M134.7 425.6h1.4M160.7 424.3h1.4M130.1 427.8h1.4M134.5 427.5h1.4M158.5 421.1h1.4M166.9 418.0h1.4M169.8 423.8h1.4M133.2 429.2h1.4M139.2 416.9h1.4M116.4 423.3h1.4M133.6 411.6h1.4M130.3 401.0h1.4M152.9 425.8h1.4M144.7 405.0h1.4M129.5 420.9h1.4M148.5 419.4h1.4M157.0 416.5h1.4M161.2 420.4h1.4M138.5 431.2h1.4M116.1 413.2h1.4M103.8 427.9h1.4M149.6 431.0h1.4M132.7 422.8h1.4M159.1 427.9h1.4M168.7 430.0h1.4M147.9 422.4h1.4M116.6 415.1h1.4M116.5 425.2h1.4M123.6 431.0h1.4M116.2 406.9h1.4M106.6 424.9h1.4M151.5 421.3h1.4M105.9 426.4h1.4M116.8 422.6h1.4M149.0 422.8h1.4M156.7 425.0h1.4M155.8 425.9h1.4M108.6 416.5h1.4M163.8 426.2h1.4M166.0 429.1h1.4M137.7 422.8h1.4M169.7 425.6h1.4M169.4 425.0h1.4M168.7 424.3h1.4M128.4 427.4h1.4M133.6 427.8h1.4M133.1 416.1h1.4M169.5 426.4h1.4M169.4 429.5h1.4M161.4 423.1h1.4M149.2 420.4h1.4M169.0 416.7h1.4M124.0 422.1h1.4M162.0 416.5h1.4M149.1 426.2h1.4M109.4 421.6h1.4M129.7 426.2h1.4M134.2 425.2h1.4M152.8 428.2h1.4M116.6 417.1h1.4M157.0 428.7h1.4M116.9 423.7h1.4M145.0 430.2h1.4M166.9 423.1h1.4M155.0 428.0h1.4M169.6 405.0h1.4M117.0 426.3h1.4M151.5 428.9h1.4M134.1 422.2h1.4M152.9 427.9h1.4M151.3 423.8h1.4M131.3 421.2h1.4M169.8 433.9h1.4M160.6 412.9h1.4M124.9 426.2h1.4M164.3 424.0h1.4M144.2 425.8h1.4M168.4 426.0h1.4M108.6 415.9h1.4M156.5 431.1h1.4M158.0 416.0h1.4M169.9 415.3h1.4M117.0 430.5h1.4M113.1 424.9h1.4M132.7 424.4h1.4M116.8 420.9h1.4M151.3 419.6h1.4M168.4 423.1h1.4M152.7 427.1h1.4M117.1 411.7h1.4M106.5 424.2h1.4M117.3 419.3h1.4M156.9 425.7h1.4M129.6 417.7h1.4M117.8 419.2h1.4M112.3 419.3h1.4M169.1 427.9h1.4M133.4 428.0h1.4M156.7 424.8h1.4M139.2 425.4h1.4M148.3 439.7h1.4M145.3 416.4h1.4M166.1 428.6h1.4M121.7 424.0h1.4M143.2 420.2h1.4M117.1 424.2h1.4M130.0 426.1h1.4M151.3 424.5h1.4M146.1 424.0h1.4M156.8 426.0h1.4M156.0 432.5h1.4M107.5 417.3h1.4M117.1 416.2h1.4M107.6 422.8h1.4M169.3 425.7h1.4M127.2 419.0h1.4M148.7 421.1h1.4M168.2 419.0h1.4M163.8 414.7h1.4M143.4 418.2h1.4M166.2 418.8h1.4M130.7 422.4h1.4M169.6 421.9h1.4M168.4 424.2h1.4M142.4 424.1h1.4M113.5 431.8h1.4M148.8 431.8h1.4M116.8 417.2h1.4M134.3 429.5h1.4M117.2 423.6h1.4M112.9 427.4h1.4M158.1 424.6h1.4M107.6 421.8h1.4M129.8 426.6h1.4M167.1 432.0h1.4M162.5 423.4h1.4M169.9 422.4h1.4M155.6 416.9h1.4M144.0 424.6h1.4M123.4 415.4h1.4M117.1 424.2h1.4M133.0 422.0h1.4M130.4 424.0h1.4M145.4 412.2h1.4M113.1 424.3h1.4M134.2 426.0h1.4M148.8 425.2h1.4M123.7 420.5h1.4M124.4 427.9h1.4M105.2 434.9h1.4M156.0 423.9h1.4M155.9 429.1h1.4M156.7 428.6h1.4M117.4 432.2h1.4M151.4 418.3h1.4M155.7 417.1h1.4M159.1 419.1h1.4M166.8 423.9h1.4M147.9 426.6h1.4M121.6 426.7h1.4M131.4 430.0h1.4M112.7 419.4h1.4M130.7 424.9h1.4M161.9 425.2h1.4M123.0 423.8h1.4M149.3 432.5h1.4M107.1 429.7h1.4M134.5 421.2h1.4M116.2 424.8h1.4M147.8 427.9h1.4M151.2 426.5h1.4M114.0 433.5h1.4M168.8 420.7h1.4M110.3 427.0h1.4M112.8 425.3h1.4M158.3 430.1h1.4M132.8 425.1h1.4M153.1 423.1h1.4M144.1 423.2h1.4M151.9 427.7h1.4M116.2 419.9h1.4M157.2 426.1h1.4M164.0 422.1h1.4M123.6 425.3h1.4M156.7 428.0h1.4M151.6 419.8h1.4M169.4 421.8h1.4M145.6 415.8h1.4M104.5 429.1h1.4M124.9 429.0h1.4M144.8 428.5h1.4M148.4 430.1h1.4M151.3 427.1h1.4M170.1 417.6h1.4M143.7 423.8h1.4M149.0 421.3h1.4M134.0 422.2h1.4M139.2 418.5h1.4M117.5 418.4h1.4M152.3 428.8h1.4M148.8 425.0h1.4M152.3 425.3h1.4M166.6 422.5h1.4M156.2 425.8h1.4M147.9 425.8h1.4M169.3 422.7h1.4M123.3 427.0h1.4M155.8 433.6h1.4M114.0 423.3h1.4M169.1 430.3h1.4M124.9 425.0h1.4M166.2 422.5h1.4M148.2 415.0h1.4M123.2 421.4h1.4M104.6 432.0h1.4M117.6 424.6h1.4M166.2 414.9h1.4M116.5 420.2h1.4M133.5 435.2h1.4M108.3 423.5h1.4M117.7 427.1h1.4M134.1 425.8h1.4M129.8 428.3h1.4M112.9 435.5h1.4M152.3 427.0h1.4M117.9 432.6h1.4M116.2 425.5h1.4M113.9 424.2h1.4M149.1 415.5h1.4M155.3 425.6h1.4M148.1 426.2h1.4M169.8 422.4h1.4M143.3 421.6h1.4M140.2 424.0h1.4M129.4 416.2h1.4M146.3 431.1h1.4M129.3 420.9h1.4M131.1 417.5h1.4M156.1 422.9h1.4M169.9 427.1h1.4M158.8 424.5h1.4M113.3 428.8h1.4M168.6 432.9h1.4M145.4 423.6h1.4M162.5 434.9h1.4M144.8 412.8h1.4M109.6 406.4h1.4M168.6 422.8h1.4M143.1 422.5h1.4M132.7 430.0h1.4M133.7 423.7h1.4M156.5 423.1h1.4M155.0 426.2h1.4M110.0 418.0h1.4M170.1 423.5h1.4M155.9 414.9h1.4M107.0 427.1h1.4M166.6 425.9h1.4M155.6 416.9h1.4M117.9 426.8h1.4M168.3 423.5h1.4M148.7 426.7h1.4M149.2 438.2h1.4M169.8 426.5h1.4M149.6 433.4h1.4M156.6 428.0h1.4M112.2 418.7h1.4M121.3 423.3h1.4M168.5 420.8h1.4M138.9 428.3h1.4M130.5 418.6h1.4M148.6 429.1h1.4M157.8 418.2h1.4M156.8 428.8h1.4M124.0 422.9h1.4M134.3 423.4h1.4M106.6 419.1h1.4M152.7 425.9h1.4M136.0 424.7h1.4M130.7 430.6h1.4M129.8 425.3h1.4M151.3 426.0h1.4M167.6 425.4h1.4M169.8 419.5h1.4M170.3 423.7h1.4M117.2 428.2h1.4M151.0 415.7h1.4M113.2 422.5h1.4M118.1 420.4h1.4M144.8 421.2h1.4M133.2 427.2h1.4M152.0 424.7h1.4M116.6 419.6h1.4M152.3 420.1h1.4M148.0 430.4h1.4M152.7 428.0h1.4M148.0 417.4h1.4M166.1 423.9h1.4M112.5 424.5h1.4M157.8 427.3h1.4M158.9 424.5h1.4M155.2 424.4h1.4M168.8 423.5h1.4M148.7 432.4h1.4M147.7 428.1h1.4M117.0 424.8h1.4M131.3 422.2h1.4M117.4 430.3h1.4M112.4 427.5h1.4M168.3 425.6h1.4M105.6 425.9h1.4M168.2 428.9h1.4M129.6 426.0h1.4M113.5 423.4h1.4M118.2 422.8h1.4M139.8 422.7h1.4M152.4 424.1h1.4M134.4 409.6h1.4M169.9 423.2h1.4M133.9 437.2h1.4M142.4 429.9h1.4M105.5 415.2h1.4M158.9 420.7h1.4M152.6 425.3h1.4M152.8 429.1h1.4M124.6 425.2h1.4M148.7 425.1h1.4M147.8 420.9h1.4M146.7 422.5h1.4M155.1 427.4h1.4M116.9 425.7h1.4M168.8 428.4h1.4M158.8 426.5h1.4M152.3 427.1h1.4M116.5 420.7h1.4M105.9 422.7h1.4M151.8 420.3h1.4M106.4 421.2h1.4M153.0 422.9h1.4M137.4 425.7h1.4M130.0 431.0h1.4M134.6 426.2h1.4M132.7 423.0h1.4M166.6 428.9h1.4M129.5 423.9h1.4M161.6 428.0h1.4M113.5 419.2h1.4M143.1 425.8h1.4M153.1 427.6h1.4M152.0 416.4h1.4M155.3 427.8h1.4M152.5 426.2h1.4M148.8 422.3h1.4M148.3 420.4h1.4M152.3 417.1h1.4M124.2 424.6h1.4M149.2 424.5h1.4M134.7 419.1h1.4M164.2 423.1h1.4M155.9 424.3h1.4M144.8 426.0h1.4M165.3 426.7h1.4M138.6 428.2h1.4M117.2 423.4h1.4M146.5 416.8h1.4M116.2 423.2h1.4M168.5 421.9h1.4M156.3 414.9h1.4M170.1 425.5h1.4M106.9 432.2h1.4M159.3 418.7h1.4M161.3 431.3h1.4M140.5 425.2h1.4M143.7 424.3h1.4M120.2 424.3h1.4M169.5 423.1h1.4M124.3 422.9h1.4M137.1 423.7h1.4M136.9 427.1h1.4M168.2 418.9h1.4M129.3 433.0h1.4M134.4 418.8h1.4M151.6 427.0h1.4M152.1 415.4h1.4M113.2 428.6h1.4M130.9 430.0h1.4M169.5 427.1h1.4M123.5 425.0h1.4M124.1 427.2h1.4M157.7 422.5h1.4M105.4 422.1h1.4M123.7 433.7h1.4M165.1 421.5h1.4M106.0 426.4h1.4M129.3 426.2h1.4M163.7 425.2h1.4M156.2 419.1h1.4M167.3 430.2h1.4M151.3 417.6h1.4M156.5 430.2h1.4M130.0 425.9h1.4M147.7 423.7h1.4M169.2 419.2h1.4M106.2 420.1h1.4M113.6 415.8h1.4M124.3 412.6h1.4M155.8 431.6h1.4M156.9 410.5h1.4M155.4 427.4h1.4M152.6 422.1h1.4M129.8 418.9h1.4M161.8 429.0h1.4M169.6 421.7h1.4M131.4 422.7h1.4M147.8 420.8h1.4M137.2 426.7h1.4M144.1 408.2h1.4M140.2 421.6h1.4M132.6 411.8h1.4M124.9 423.5h1.4M156.4 430.1h1.4M129.2 422.2h1.4M117.1 427.2h1.4M129.4 420.9h1.4M114.0 419.0h1.4M136.2 417.7h1.4M155.5 429.2h1.4M169.6 426.5h1.4M168.7 432.0h1.4M133.6 420.1h1.4M117.9 427.9h1.4M131.0 422.2h1.4M169.3 423.3h1.4M158.8 423.5h1.4M148.1 420.0h1.4M121.8 427.5h1.4M148.6 425.0h1.4M168.3 431.8h1.4M169.0 424.0h1.4M152.6 426.4h1.4M158.9 421.2h1.4M130.6 425.1h1.4M116.4 418.1h1.4M150.9 426.8h1.4M127.4 426.6h1.4M168.7 412.9h1.4M169.7 420.2h1.4M133.1 422.8h1.4M165.9 433.0h1.4M169.0 431.3h1.4M134.0 422.4h1.4M130.3 411.5h1.4M130.8 431.1h1.4M155.6 417.0h1.4M117.1 421.8h1.4M167.0 419.3h1.4M112.7 426.8h1.4M169.5 432.2h1.4M120.5 417.2h1.4M155.5 423.2h1.4M148.0 405.2h1.4M147.5 425.1h1.4M139.5 422.4h1.4M117.4 426.5h1.4M170.1 427.2h1.4M148.3 420.3h1.4M107.6 430.9h1.4M134.7 428.0h1.4M129.9 428.3h1.4M169.1 408.1h1.4M138.5 430.7h1.4M123.8 421.4h1.4M105.8 418.7h1.4M167.2 424.1h1.4M151.4 423.1h1.4M164.2 433.3h1.4M152.2 421.6h1.4M151.2 426.3h1.4M151.8 425.7h1.4M168.8 422.0h1.4M169.8 424.9h1.4M131.2 427.2h1.4M116.2 418.4h1.4M155.1 420.5h1.4M107.1 430.2h1.4M130.1 421.9h1.4M168.7 432.5h1.4M117.3 431.5h1.4M169.9 423.5h1.4M134.0 419.1h1.4M168.5 432.6h1.4M133.9 424.1h1.4M140.0 433.5h1.4M169.3 425.1h1.4M107.3 421.6h1.4M156.7 429.1h1.4M169.4 420.4h1.4M105.9 422.6h1.4M110.1 412.7h1.4M166.0 422.1h1.4M129.7 423.0h1.4M127.4 429.5h1.4M125.1 429.3h1.4M124.6 419.9h1.4M131.4 429.8h1.4M105.5 422.2h1.4M136.5 422.2h1.4M117.2 433.5h1.4M124.0 426.2h1.4M151.8 420.4h1.4M114.2 427.5h1.4M131.1 425.9h1.4M113.3 420.3h1.4M118.2 417.0h1.4M151.5 426.1h1.4M147.9 422.2h1.4M159.7 423.0h1.4M169.2 412.3h1.4M169.3 425.7h1.4M116.9 407.0h1.4M106.0 426.9h1.4M168.7 416.2h1.4M118.1 418.4h1.4M170.0 424.0h1.4M151.6 422.6h1.4M129.4 424.8h1.4M147.5 424.1h1.4M118.2 421.4h1.4M168.2 424.2h1.4M124.6 427.2h1.4M113.1 414.3h1.4M117.2 425.3h1.4M148.4 427.3h1.4M151.2 405.7h1.4M155.3 427.7h1.4M131.2 424.3h1.4M106.0 422.9h1.4M140.2 417.2h1.4M170.1 393.9h1.4M132.9 422.8h1.4M109.2 424.6h1.4M133.6 422.5h1.4M136.0 418.3h1.4M106.0 419.7h1.4M113.2 421.4h1.4M151.0 424.2h1.4M113.9 428.9h1.4M161.6 423.3h1.4M113.8 418.3h1.4M132.7 425.8h1.4M134.7 424.6h1.4M131.4 419.9h1.4M158.4 411.6h1.4M134.1 420.6h1.4M133.9 417.1h1.4M170.3 412.6h1.4M117.7 424.9h1.4M149.5 426.1h1.4M142.6 428.7h1.4M155.6 423.8h1.4M152.6 428.9h1.4M108.6 429.3h1.4M156.8 423.3h1.4M134.3 428.1h1.4M169.2 424.6h1.4M152.1 427.8h1.4M146.5 426.4h1.4M157.8 418.1h1.4M149.3 426.3h1.4M133.7 427.3h1.4M116.6 422.1h1.4M162.0 416.7h1.4M168.7 429.1h1.4M107.7 425.8h1.4M157.0 424.4h1.4M147.8 432.8h1.4M120.4 421.7h1.4M129.7 429.4h1.4M133.6 428.6h1.4M156.7 414.5h1.4M104.0 417.6h1.4M166.7 427.6h1.4M162.2 426.5h1.4M148.4 421.7h1.4M156.5 427.0h1.4M155.6 426.2h1.4M135.8 428.4h1.4M133.3 431.5h1.4M129.5 410.1h1.4M167.2 428.4h1.4M116.2 422.3h1.4M157.8 427.3h1.4M148.9 426.2h1.4M129.7 419.5h1.4M103.8 425.8h1.4M144.1 426.8h1.4M157.1 426.0h1.4M123.7 421.5h1.4M116.1 426.1h1.4M170.3 423.6h1.4M112.1 422.0h1.4M158.8 419.4h1.4M117.0 425.3h1.4M140.5 431.4h1.4M156.0 431.7h1.4M151.3 427.3h1.4M169.5 428.3h1.4M152.3 424.1h1.4M152.9 427.6h1.4M145.3 429.5h1.4M159.7 417.4h1.4M117.1 426.7h1.4M113.1 424.2h1.4M106.3 422.3h1.4M109.8 426.0h1.4M148.9 421.4h1.4M168.3 427.1h1.4M143.3 428.1h1.4M129.3 423.4h1.4M160.6 424.5h1.4M146.5 425.7h1.4M146.8 423.3h1.4M151.9 427.8h1.4M146.8 418.6h1.4M145.8 418.7h1.4M117.3 423.2h1.4M117.5 429.5h1.4M138.5 431.3h1.4M107.3 429.3h1.4M168.9 423.2h1.4M161.5 421.9h1.4M147.9 427.5h1.4M120.0 426.3h1.4M139.6 422.3h1.4M144.0 419.3h1.4M126.2 427.9h1.4M164.4 421.7h1.4M168.9 415.4h1.4M142.9 409.0h1.4M134.6 427.3h1.4M169.8 415.9h1.4M131.3 424.6h1.4M152.4 423.3h1.4M130.2 426.6h1.4M142.2 426.3h1.4M136.2 422.4h1.4M155.9 430.0h1.4M149.2 424.8h1.4M132.8 423.8h1.4M118.1 428.5h1.4M116.8 430.1h1.4M152.0 427.7h1.4M151.8 413.9h1.4M134.4 422.1h1.4M156.9 417.2h1.4M156.9 426.2h1.4M117.9 421.6h1.4M169.5 431.3h1.4M123.3 431.1h1.4M156.2 417.8h1.4M131.2 418.4h1.4M157.8 425.0h1.4M156.5 406.8h1.4M163.3 423.1h1.4M113.0 429.5h1.4M130.0 425.1h1.4M118.0 423.7h1.4M168.8 420.4h1.4M169.1 424.0h1.4M148.2 425.4h1.4M121.8 369.9h1.4M121.5 356.6h1.4M121.6 366.1h1.4M122.2 381.8h1.4M122.0 346.9h1.4M122.1 346.7h1.4M121.6 340.3h1.4M122.1 364.6h1.4M122.0 343.6h1.4M122.1 359.7h1.4M121.6 336.8h1.4M121.5 334.7h1.4M121.6 338.3h1.4" stroke="#b8123e" stroke-width="1.4" fill="none" opacity="1"/>
<path d="M54.9 370.9h1.2M45.1 363.8h1.2M61.9 364.7h1.2M76.5 364.8h1.2M65.7 370.3h1.2M42.7 363.1h1.2M40.8 367.1h1.2M55.1 357.6h1.2M54.5 370.1h1.2M54.0 365.4h1.2M53.7 368.5h1.2M61.4 355.5h1.2M43.6 364.9h1.2M66.3 363.6h1.2M48.9 359.7h1.2M45.0 373.1h1.2M65.6 375.4h1.2M49.7 374.4h1.2M60.5 370.7h1.2M41.3 356.4h1.2M55.2 351.1h1.2M55.1 357.5h1.2M54.2 371.6h1.2M79.5 358.8h1.2M81.9 363.6h1.2M49.2 366.2h1.2M73.2 372.1h1.2M76.6 371.3h1.2M49.7 362.9h1.2M69.9 367.2h1.2M78.9 363.0h1.2M80.2 377.7h1.2M53.9 378.9h1.2M49.8 374.6h1.2M45.0 371.9h1.2M54.1 361.5h1.2M58.9 376.6h1.2M75.4 359.2h1.2M48.8 367.0h1.2M49.4 376.8h1.2M40.6 365.5h1.2M66.6 375.6h1.2M81.6 359.0h1.2M64.9 377.6h1.2M61.9 357.3h1.2M41.1 370.8h1.2M43.3 378.8h1.2M81.0 359.2h1.2M49.7 360.9h1.2M41.1 359.9h1.2M72.2 368.7h1.2M57.5 359.4h1.2M66.0 366.9h1.2M48.6 357.0h1.2M58.9 368.9h1.2M50.9 367.0h1.2M49.3 370.6h1.2M58.7 363.2h1.2M44.2 354.5h1.2M69.9 355.7h1.2M72.0 355.4h1.2M58.7 370.3h1.2M79.4 363.4h1.2M79.2 365.8h1.2M41.0 357.8h1.2M60.7 363.2h1.2M40.2 365.6h1.2M46.1 370.7h1.2M54.5 373.3h1.2M53.7 354.7h1.2M40.5 358.3h1.2M79.7 355.5h1.2M41.3 366.8h1.2M69.9 367.0h1.2M61.5 359.2h1.2M80.8 365.9h1.2M70.4 351.3h1.2M81.8 362.8h1.2M40.4 352.4h1.2M41.0 365.4h1.2M46.2 381.0h1.2M40.4 360.8h1.2M60.6 361.9h1.2M80.3 371.0h1.2M72.6 358.7h1.2M69.2 373.8h1.2M81.9 352.7h1.2M79.3 380.1h1.2M61.9 368.4h1.2M76.6 365.6h1.2M48.5 371.5h1.2M79.7 367.8h1.2M40.7 368.5h1.2M60.8 367.9h1.2M40.3 357.2h1.2M41.5 357.6h1.2M66.0 373.9h1.2M57.7 391.8h1.2M79.0 367.0h1.2M64.9 375.9h1.2M49.1 373.1h1.2M69.4 373.7h1.2M72.8 363.1h1.2M103.4 374.9h1.2M100.4 368.0h1.2M97.6 363.5h1.2M99.3 361.6h1.2M100.1 386.5h1.2M100.0 393.7h1.2M99.1 353.4h1.2M100.4 369.8h1.2M98.1 376.3h1.2M100.3 376.1h1.2M99.1 341.7h1.2M99.1 369.4h1.2M97.5 361.0h1.2M100.3 374.6h1.2M97.4 378.5h1.2M99.8 366.1h1.2M92.0 401.5h1.2M92.3 356.2h1.2M92.2 348.5h1.2M163.9 430.9h1.2M149.2 426.8h1.2M169.8 423.9h1.2M170.2 426.5h1.2M117.1 419.5h1.2M117.1 422.9h1.2M156.0 424.7h1.2M151.2 419.7h1.2M131.4 419.5h1.2M112.1 425.1h1.2M106.2 422.0h1.2M156.8 430.4h1.2M155.9 420.2h1.2M131.2 428.8h1.2M156.4 420.0h1.2M169.0 424.4h1.2M170.3 422.5h1.2M158.2 423.3h1.2M148.0 426.4h1.2M170.2 422.0h1.2M123.1 416.0h1.2M142.6 420.1h1.2M117.7 427.2h1.2M112.6 426.9h1.2M105.8 421.4h1.2M117.2 418.4h1.2M117.9 425.8h1.2M113.4 420.9h1.2M168.8 433.3h1.2M158.0 419.6h1.2M134.5 408.3h1.2M143.5 429.5h1.2M167.1 419.5h1.2M148.0 417.2h1.2M156.4 420.0h1.2M137.7 424.8h1.2M151.2 421.8h1.2M117.0 430.0h1.2M165.6 431.5h1.2M170.3 417.3h1.2M155.3 423.1h1.2M148.8 417.9h1.2M116.6 417.2h1.2M155.5 427.5h1.2M106.0 427.6h1.2M167.5 421.2h1.2M161.8 426.6h1.2M169.8 415.7h1.2M162.1 426.4h1.2M108.2 421.9h1.2M168.8 421.4h1.2M140.2 419.8h1.2M166.3 423.1h1.2M127.4 425.1h1.2M130.1 427.8h1.2M169.8 423.8h1.2M138.5 431.2h1.2M168.7 430.0h1.2M116.6 415.1h1.2M137.7 422.8h1.2M169.4 425.0h1.2M169.4 429.5h1.2M134.2 425.2h1.2M151.3 423.8h1.2M169.8 433.9h1.2M113.1 424.9h1.2M132.7 424.4h1.2M151.3 419.6h1.2M133.4 428.0h1.2M117.1 416.2h1.2M143.4 418.2h1.2M168.4 424.2h1.2M113.5 431.8h1.2M129.8 426.6h1.2M155.9 429.1h1.2M130.7 424.9h1.2M144.1 423.2h1.2M144.8 428.5h1.2M152.3 425.3h1.2M166.2 422.5h1.2M104.6 432.0h1.2M113.9 424.2h1.2M155.3 425.6h1.2M140.2 424.0h1.2M131.1 417.5h1.2M168.6 422.8h1.2M133.7 423.7h1.2M117.9 426.8h1.2M130.5 418.6h1.2M156.8 428.8h1.2M130.7 430.6h1.2M112.5 424.5h1.2M133.9 437.2h1.2M143.7 424.3h1.2M137.1 423.7h1.2M113.2 428.6h1.2M106.0 426.4h1.2M147.8 420.8h1.2M136.2 417.7h1.2M148.1 420.0h1.2M116.4 418.1h1.2M147.5 425.1h1.2M131.2 427.2h1.2M134.0 419.1h1.2M156.7 429.1h1.2M113.3 420.3h1.2M159.7 423.0h1.2M170.0 424.0h1.2M129.4 424.8h1.2M132.9 422.8h1.2M117.7 424.9h1.2M156.8 423.3h1.2M168.7 429.1h1.2M162.2 426.5h1.2M103.8 425.8h1.2M112.1 422.0h1.2M148.9 421.4h1.2M168.3 427.1h1.2M107.3 429.3h1.2M126.2 427.9h1.2M134.6 427.3h1.2M134.4 422.1h1.2M123.3 431.1h1.2M122.1 346.7h1.2" stroke="#6e1530" stroke-width="1.2" fill="none" opacity="1"/>
<path d="M71.3 336.9h1.2M68.9 336.0h1.2M76.3 393.6h1.2M66.3 333.9h1.2M79.6 383.9h1.2M44.0 341.7h1.2M77.0 348.5h1.2M50.9 383.6h1.2M79.7 344.4h1.2M81.2 348.3h1.2M47.4 390.3h1.2M53.5 386.5h1.2M78.6 386.3h1.2M48.0 347.5h1.2M43.7 346.5h1.2M75.0 389.4h1.2M55.7 390.6h1.2M83.6 339.3h1.2M73.3 393.5h1.2M50.9 339.4h1.2M75.5 344.1h1.2M75.1 384.9h1.2M75.6 336.7h1.2M61.3 394.5h1.2M46.9 343.1h1.2M77.1 385.3h1.2M51.4 393.7h1.2M55.3 348.7h1.2M42.3 347.4h1.2M68.5 390.1h1.2M67.4 346.6h1.2M69.5 390.3h1.2M46.6 346.5h1.2M76.6 398.1h1.2M58.1 394.4h1.2M44.8 344.6h1.2M55.0 336.7h1.2M78.7 399.8h1.2M42.3 390.6h1.2M63.4 390.1h1.2M70.5 398.1h1.2M45.6 346.0h1.2M67.8 389.6h1.2M69.7 348.1h1.2M60.3 391.5h1.2M71.3 386.4h1.2M74.5 385.9h1.2M60.6 385.7h1.2M46.7 336.2h1.2M42.5 343.5h1.2M77.7 386.3h1.2M57.9 347.3h1.2M71.8 329.5h1.2M69.8 344.9h1.2M71.1 388.5h1.2M76.8 339.3h1.2M51.3 383.7h1.2M55.5 339.4h1.2M79.3 387.2h1.2M52.2 383.6h1.2M61.3 342.9h1.2M61.0 344.3h1.2M72.6 348.7h1.2M62.1 402.8h1.2M75.5 348.5h1.2M83.6 338.7h1.2M83.0 388.4h1.2M77.5 335.4h1.2M69.4 341.0h1.2M65.7 332.6h1.2M74.9 397.9h1.2M81.9 394.8h1.2M50.8 385.8h1.2M56.7 389.2h1.2M67.6 385.9h1.2M50.8 385.8h1.2M73.5 343.5h1.2M43.2 337.0h1.2M73.5 383.1h1.2M57.4 395.9h1.2" stroke="#3a3550" stroke-width="1.2" fill="none" opacity="1"/>
<line x1="115.50" y1="284.00" x2="115.50" y2="446.20" stroke="#2a2a2a" stroke-width="1.1" stroke-dasharray="1.1 1.0"/>
<text x="42.60" y="291.10" font-size="6.9" text-anchor="start" font-weight="normal" fill="#5a6d90" stroke="#5a6d90" stroke-width="0.15" >Paternal (wild-type)</text>
<text x="42.60" y="299.50" font-size="6.9" text-anchor="start" font-weight="normal" fill="#9a2547" stroke="#9a2547" stroke-width="0.15" >Maternal (mutant)</text>
<text x="104.50" y="272.00" font-size="8.5" text-anchor="middle" font-weight="normal" fill="#1a1a1a" stroke="#1a1a1a" stroke-width="0.15" textLength="30.16" lengthAdjust="spacingAndGlyphs" >F1: III-2</text>
<text x="104.40" y="459.60" font-size="8.6" text-anchor="middle" font-weight="normal" fill="#1a1a1a" stroke="#1a1a1a" stroke-width="0.15" >Chr7 (genomic coordinate)</text>
<text x="15.6" y="364.0" font-size="8.8" text-anchor="middle" fill="#1a1a1a" stroke="#1a1a1a" stroke-width="0.15" transform="rotate(-90 15.6 364.0)">Allelic frequency (%)</text>
<rect x="210.60" y="307.60" width="43.00" height="18.00" fill="#000" />
<rect x="256.40" y="307.60" width="71.80" height="18.00" fill="#000" />
<path d="M214.5 303.3h1.0M246.3 307.5h1.0M223.7 307.0h1.0M252.0 307.9h1.0M238.6 303.7h1.0M310.6 305.9h1.0M248.9 301.1h1.0M301.0 306.5h1.0M320.3 304.2h1.0M234.9 302.2h1.0M264.0 307.1h1.0M282.3 301.2h1.0M277.7 306.6h1.0M273.7 304.3h1.0M232.1 300.9h1.0M246.8 308.0h1.0M316.4 307.1h1.0M220.7 307.9h1.0M230.1 308.0h1.0M267.1 302.2h1.0M243.3 307.9h1.0M233.0 307.0h1.0M232.2 306.9h1.0M309.7 305.4h1.0M232.5 307.4h1.0M272.5 306.6h1.0M226.8 297.5h1.0M271.3 304.8h1.0M323.6 304.9h1.0M241.2 306.4h1.0M303.2 306.6h1.0M220.9 305.4h1.0M268.0 302.0h1.0M226.0 291.8h1.0M229.1 307.1h1.0M326.2 306.4h1.0M228.5 297.6h1.0M212.5 306.5h1.0M286.2 306.2h1.0M226.5 302.5h1.0M244.5 306.3h1.0M226.2 307.8h1.0M300.0 304.5h1.0M323.3 303.4h1.0M265.9 306.9h1.0M281.9 301.7h1.0M269.1 306.7h1.0M247.6 307.5h1.0M221.2 306.0h1.0M260.3 306.9h1.0M232.5 299.7h1.0M271.2 306.9h1.0M235.3 302.3h1.0M258.7 303.2h1.0M317.3 307.9h1.0M231.7 307.5h1.0M243.8 303.3h1.0M227.7 306.4h1.0M244.6 306.5h1.0M309.2 307.2h1.0M258.3 305.0h1.0M278.0 295.2h1.0M279.2 307.0h1.0M263.1 307.8h1.0M313.6 307.3h1.0M237.6 305.3h1.0M212.4 303.4h1.0M305.4 305.7h1.0M229.5 306.5h1.0M221.5 300.6h1.0M243.2 304.1h1.0M278.0 303.8h1.0M315.1 303.3h1.0M240.8 305.2h1.0M258.2 299.6h1.0M244.1 304.1h1.0M322.5 307.8h1.0M319.5 305.1h1.0M300.4 307.6h1.0M242.6 306.1h1.0M301.7 302.9h1.0M264.7 307.6h1.0M295.0 306.8h1.0M320.7 301.0h1.0M284.9 305.0h1.0M218.6 304.4h1.0M326.6 305.8h1.0M260.9 297.2h1.0M292.5 307.5h1.0M224.5 304.3h1.0M229.8 306.6h1.0M292.3 305.3h1.0M261.2 305.8h1.0M234.7 307.9h1.0M233.4 305.8h1.0M219.3 307.7h1.0M309.8 297.9h1.0M221.0 307.4h1.0M252.8 306.8h1.0M285.1 305.5h1.0M322.7 306.8h1.0M237.2 307.1h1.0M246.3 307.8h1.0M251.9 300.4h1.0M243.6 305.4h1.0M295.6 306.8h1.0M317.9 307.8h1.0M274.1 307.8h1.0M280.3 302.7h1.0M318.2 307.7h1.0M249.2 306.8h1.0M310.0 307.1h1.0M302.0 302.3h1.0M279.9 305.3h1.0M255.5 306.5h1.0M281.8 305.6h1.0M225.9 307.9h1.0M271.8 306.3h1.0M263.1 307.3h1.0M224.4 304.6h1.0M215.0 305.1h1.0M297.9 302.0h1.0M307.9 305.1h1.0M211.8 303.0h1.0M232.7 307.7h1.0M234.4 305.1h1.0M290.2 306.2h1.0M303.3 306.7h1.0M292.1 299.7h1.0M213.0 303.5h1.0M288.3 304.1h1.0M292.5 303.7h1.0M281.0 307.1h1.0M216.6 307.7h1.0M224.0 306.6h1.0M314.6 307.0h1.0M274.9 302.8h1.0M225.1 307.0h1.0M293.9 306.9h1.0M301.4 306.1h1.0M230.7 307.4h1.0M284.2 306.6h1.0M267.9 303.6h1.0M271.4 306.1h1.0M326.7 304.4h1.0M245.6 302.3h1.0M272.8 306.3h1.0M280.9 307.5h1.0M260.1 303.0h1.0M216.7 307.5h1.0M263.7 305.1h1.0M282.5 301.3h1.0M300.6 304.7h1.0M248.5 307.8h1.0M239.2 306.9h1.0M264.5 307.8h1.0M318.9 307.0h1.0M226.7 304.5h1.0M295.0 307.7h1.0M241.9 303.4h1.0M238.0 304.8h1.0M299.9 307.0h1.0M213.5 305.7h1.0M249.5 306.3h1.0M221.6 305.8h1.0M236.3 299.0h1.0M312.3 305.1h1.0M262.6 307.7h1.0M299.6 302.1h1.0M288.8 307.7h1.0M222.2 306.1h1.0M318.7 306.9h1.0M297.6 293.8h1.0M231.1 305.7h1.0M227.8 307.8h1.0M292.4 306.8h1.0M301.5 307.4h1.0M272.5 304.8h1.0M215.5 301.7h1.0M299.3 294.2h1.0M290.7 307.9h1.0M290.9 301.5h1.0M286.2 305.7h1.0M227.2 307.7h1.0M291.0 307.0h1.0M326.5 306.0h1.0M241.1 305.8h1.0M298.3 302.0h1.0M304.2 305.6h1.0M326.9 304.8h1.0M274.8 304.0h1.0M223.5 307.8h1.0M218.8 305.5h1.0M268.7 307.4h1.0M225.2 298.5h1.0M284.5 306.8h1.0M310.9 303.6h1.0M290.1 307.8h1.0M314.6 305.8h1.0M257.4 303.8h1.0M282.8 307.9h1.0M306.2 307.9h1.0M293.7 304.4h1.0M251.7 302.7h1.0M249.4 306.2h1.0M225.0 295.7h1.0M320.2 307.4h1.0M225.8 306.5h1.0M314.9 302.6h1.0M293.3 303.4h1.0M271.3 307.1h1.0M283.6 304.9h1.0M293.4 305.7h1.0M219.5 307.4h1.0M231.6 307.7h1.0M260.6 298.6h1.0M323.8 304.6h1.0M253.4 302.9h1.0M236.5 307.4h1.0M324.7 306.8h1.0M227.3 304.9h1.0M307.4 303.0h1.0M303.2 302.9h1.0M264.4 306.0h1.0M325.9 306.6h1.0M217.2 301.0h1.0M306.2 305.9h1.0M297.6 297.8h1.0M288.9 306.0h1.0M306.3 306.7h1.0M260.9 306.1h1.0M326.0 292.7h1.0M324.3 307.7h1.0M212.6 307.4h1.0M256.6 300.9h1.0M221.0 307.3h1.0M237.1 302.3h1.0M297.6 305.1h1.0M252.7 304.0h1.0M299.6 305.9h1.0M211.3 306.4h1.0M248.4 307.0h1.0M232.6 305.4h1.0M223.9 302.5h1.0M262.4 307.9h1.0M315.8 306.2h1.0M263.2 302.2h1.0M219.3 302.5h1.0M298.0 307.3h1.0M214.8 307.5h1.0M250.8 306.8h1.0M292.2 306.8h1.0M293.0 298.8h1.0M309.3 303.2h1.0M302.5 305.2h1.0M226.6 304.2h1.0M295.5 307.5h1.0M221.8 299.0h1.0M248.0 307.5h1.0M229.2 306.9h1.0M325.4 306.8h1.0M269.5 303.6h1.0M241.9 302.5h1.0M306.0 306.0h1.0M257.0 305.7h1.0M312.1 296.7h1.0M234.4 307.6h1.0M290.4 305.9h1.0M305.4 307.4h1.0M231.4 305.0h1.0M294.9 298.2h1.0M238.4 305.3h1.0M222.2 302.3h1.0M304.7 307.6h1.0M220.5 304.3h1.0M231.4 305.6h1.0M312.2 306.5h1.0M250.0 306.0h1.0M281.9 298.6h1.0M285.8 306.4h1.0M211.5 308.0h1.0M325.5 306.2h1.0M241.3 304.0h1.0M302.7 306.4h1.0M225.7 302.9h1.0M325.8 305.8h1.0M311.8 303.8h1.0M247.4 306.1h1.0M228.1 305.3h1.0M221.0 305.8h1.0M268.1 307.9h1.0M214.2 302.9h1.0M269.2 304.6h1.0M323.3 304.0h1.0M263.2 307.8h1.0M273.1 306.5h1.0M278.1 304.7h1.0M273.8 307.3h1.0M289.1 306.6h1.0M287.6 306.7h1.0M237.1 304.1h1.0M268.0 306.8h1.0M233.2 298.6h1.0M221.5 304.6h1.0M214.6 289.8h1.0M212.3 305.1h1.0M262.2 305.3h1.0M251.8 305.9h1.0M226.5 304.1h1.0M303.0 303.3h1.0M304.4 305.8h1.0M239.9 306.1h1.0M299.2 305.1h1.0M326.0 304.7h1.0M249.9 306.0h1.0M323.1 306.4h1.0M279.6 305.9h1.0M244.7 306.4h1.0M245.7 302.5h1.0M278.0 307.8h1.0M283.8 304.8h1.0M281.1 306.9h1.0M319.0 308.0h1.0M268.1 307.7h1.0M258.4 300.1h1.0M306.9 305.6h1.0M215.0 304.7h1.0M253.2 303.9h1.0M301.2 304.5h1.0M262.1 305.1h1.0M326.1 307.6h1.0M291.8 306.2h1.0M295.6 298.5h1.0M290.7 307.3h1.0M312.1 307.9h1.0M249.8 300.4h1.0M310.5 307.5h1.0M238.3 304.2h1.0M324.5 307.9h1.0M217.4 307.3h1.0M215.5 306.6h1.0M235.0 303.3h1.0M286.9 301.0h1.0M277.8 301.8h1.0M275.7 301.9h1.0M214.4 307.1h1.0M319.3 307.2h1.0M247.5 307.8h1.0M285.5 306.3h1.0M258.3 301.7h1.0M304.3 304.8h1.0M258.0 304.7h1.0M250.4 300.5h1.0M284.1 305.2h1.0M240.3 301.4h1.0M222.6 307.9h1.0M257.6 302.2h1.0M229.7 305.4h1.0M215.5 306.3h1.0M292.8 301.3h1.0M230.8 305.7h1.0M219.4 305.1h1.0M248.7 299.5h1.0M252.3 304.2h1.0M319.3 306.8h1.0M265.7 307.9h1.0M224.5 306.8h1.0M277.3 306.3h1.0M234.0 301.1h1.0M215.3 307.9h1.0M325.8 307.5h1.0M324.4 306.4h1.0M213.8 303.4h1.0M322.6 305.3h1.0M266.6 307.1h1.0M321.8 303.0h1.0M286.6 305.2h1.0M267.6 304.9h1.0M252.7 307.7h1.0M255.7 301.7h1.0M218.4 300.8h1.0M298.3 306.8h1.0M250.5 306.0h1.0M221.2 297.2h1.0M265.4 307.3h1.0M273.9 307.0h1.0M256.8 298.7h1.0M296.8 306.8h1.0M310.0 301.2h1.0M314.5 306.3h1.0M250.6 306.8h1.0M231.4 307.0h1.0M236.7 306.2h1.0M316.0 302.9h1.0M291.1 305.4h1.0M320.7 307.7h1.0M214.0 306.6h1.0M289.8 307.1h1.0M266.7 306.0h1.0M300.6 308.0h1.0M308.5 305.8h1.0M225.4 302.3h1.0M305.7 307.9h1.0M280.4 295.2h1.0M222.4 305.0h1.0M276.1 297.6h1.0M245.5 307.3h1.0M318.9 308.0h1.0M234.1 306.1h1.0M312.7 300.1h1.0M259.6 305.1h1.0M281.9 301.1h1.0M223.9 304.0h1.0M275.2 306.0h1.0M248.1 307.5h1.0M318.3 306.0h1.0M252.0 304.6h1.0M273.9 305.2h1.0M312.4 306.7h1.0M273.7 305.7h1.0M288.6 306.3h1.0M235.5 307.3h1.0M224.3 304.1h1.0M308.9 304.5h1.0M258.6 307.0h1.0M259.0 307.1h1.0M302.6 303.6h1.0M290.3 304.8h1.0M301.8 301.0h1.0M230.4 290.7h1.0M298.4 307.4h1.0M281.6 303.6h1.0M253.2 303.2h1.0M319.7 300.4h1.0M230.7 306.6h1.0M234.4 305.8h1.0M265.9 303.8h1.0M248.1 302.2h1.0M223.4 307.1h1.0M250.6 307.3h1.0M302.5 306.8h1.0M278.6 305.7h1.0M280.2 307.1h1.0M322.6 302.6h1.0M226.9 302.4h1.0M284.2 307.9h1.0M317.0 306.7h1.0M263.2 302.5h1.0M248.0 306.8h1.0M217.7 294.7h1.0M289.0 307.5h1.0M220.8 300.1h1.0M250.3 307.2h1.0M243.0 306.7h1.0M229.2 298.6h1.0M248.4 303.5h1.0M227.1 307.9h1.0M224.5 293.2h1.0M320.8 306.8h1.0M245.2 306.1h1.0M310.8 307.4h1.0M262.1 305.4h1.0M251.1 305.6h1.0M256.7 301.9h1.0M320.6 306.3h1.0M288.2 307.3h1.0M264.9 305.1h1.0M232.4 301.3h1.0M231.9 300.4h1.0M297.1 307.5h1.0M320.8 306.7h1.0M248.5 298.8h1.0M252.0 307.6h1.0M300.2 306.1h1.0M236.3 307.6h1.0M274.1 304.8h1.0M227.0 305.0h1.0M231.5 307.2h1.0M239.3 301.2h1.0M269.4 308.0h1.0M232.7 305.7h1.0M290.0 305.0h1.0M269.6 305.1h1.0M316.3 294.2h1.0M274.3 307.0h1.0M240.8 303.7h1.0M296.6 299.5h1.0M225.3 306.2h1.0M241.6 307.4h1.0M213.0 307.5h1.0M318.9 298.7h1.0M279.0 307.3h1.0M250.3 307.9h1.0M228.6 303.6h1.0M255.7 301.8h1.0M325.6 302.3h1.0M323.5 307.6h1.0M317.1 305.5h1.0M326.6 307.7h1.0M305.4 303.8h1.0M232.0 301.5h1.0M300.2 299.7h1.0M290.4 303.7h1.0M301.1 306.8h1.0M249.0 305.9h1.0M304.9 303.1h1.0M318.0 307.9h1.0M257.6 307.9h1.0M226.7 307.1h1.0M212.8 301.6h1.0M266.8 307.7h1.0M306.3 306.2h1.0M326.1 299.9h1.0M227.5 304.8h1.0M324.6 306.7h1.0M324.1 303.6h1.0M259.1 307.8h1.0M277.2 292.3h1.0M226.6 302.7h1.0M316.1 307.0h1.0M282.3 302.7h1.0M321.2 307.5h1.0M285.0 304.3h1.0M277.8 295.4h1.0M302.5 306.1h1.0M244.9 296.5h1.0M246.8 306.2h1.0M284.0 307.3h1.0M252.0 306.0h1.0M286.1 307.1h1.0M238.1 308.0h1.0M213.0 298.9h1.0M259.6 305.9h1.0M239.9 307.9h1.0M212.0 302.8h1.0M267.9 306.4h1.0M268.7 307.4h1.0M325.2 306.2h1.0M262.9 304.5h1.0M323.0 305.8h1.0M289.1 306.9h1.0M259.7 289.7h1.0M215.5 298.2h1.0M259.6 303.5h1.0M295.7 307.1h1.0M279.2 307.2h1.0M319.4 305.8h1.0M288.2 304.4h1.0M322.3 303.6h1.0M277.2 307.3h1.0M265.2 306.7h1.0M273.7 307.5h1.0M293.0 299.4h1.0M325.3 305.3h1.0M281.7 290.9h1.0M219.5 306.8h1.0M281.9 301.6h1.0M308.5 298.2h1.0M294.9 308.0h1.0M321.0 307.9h1.0M224.0 306.3h1.0M279.0 303.4h1.0M312.6 307.0h1.0M279.1 304.8h1.0M272.4 303.5h1.0M285.5 307.0h1.0M225.2 305.6h1.0M311.3 307.1h1.0M214.2 307.4h1.0M299.7 306.7h1.0M272.9 306.1h1.0M229.5 303.2h1.0M298.0 301.7h1.0M304.5 304.2h1.0M261.1 306.0h1.0M304.7 295.9h1.0M324.9 307.4h1.0M250.2 303.4h1.0M264.5 307.9h1.0M211.4 308.0h1.0M287.7 307.7h1.0M259.5 296.6h1.0M225.3 305.3h1.0M283.5 304.6h1.0M242.9 306.7h1.0M269.3 306.3h1.0M290.3 304.5h1.0M225.3 307.3h1.0M221.3 287.5h1.0M215.4 302.1h1.0M313.4 306.6h1.0M216.9 298.5h1.0M275.3 306.3h1.0M222.3 306.6h1.0M269.0 307.4h1.0M261.0 304.9h1.0M286.9 305.1h1.0M266.7 307.5h1.0M307.6 301.8h1.0M215.5 301.5h1.0M267.9 306.1h1.0M232.9 306.9h1.0M298.0 303.9h1.0M259.9 305.1h1.0M292.8 304.9h1.0M307.4 294.3h1.0M213.4 299.7h1.0M313.3 306.5h1.0M308.7 307.7h1.0M323.0 304.9h1.0M279.3 305.8h1.0M317.0 306.1h1.0M260.1 305.1h1.0M248.3 298.3h1.0M258.3 301.8h1.0M310.8 302.5h1.0M215.7 302.4h1.0M282.9 303.6h1.0M222.3 303.3h1.0M269.0 307.8h1.0M276.9 307.7h1.0M263.6 305.0h1.0M298.9 304.9h1.0M316.0 303.0h1.0M259.4 307.6h1.0M228.7 306.6h1.0M220.2 303.4h1.0M257.2 307.2h1.0M228.3 306.4h1.0M263.8 307.5h1.0M247.0 307.0h1.0M316.4 305.2h1.0M263.3 302.9h1.0M214.0 307.0h1.0M324.4 307.9h1.0M218.1 306.0h1.0M324.1 306.3h1.0M267.1 304.7h1.0M245.7 307.4h1.0M216.3 305.5h1.0M274.9 307.1h1.0M215.5 306.2h1.0M321.8 307.3h1.0M292.3 307.8h1.0M266.8 306.1h1.0M234.9 307.8h1.0M312.6 303.8h1.0M263.8 305.8h1.0M311.4 303.7h1.0M303.5 304.4h1.0M301.1 303.8h1.0M245.1 306.4h1.0M322.1 306.7h1.0M214.7 307.5h1.0M299.8 307.3h1.0M212.4 300.0h1.0M224.5 298.9h1.0M215.4 303.2h1.0M232.9 304.3h1.0M276.3 307.9h1.0M249.7 305.1h1.0M218.7 304.2h1.0M315.4 307.4h1.0M323.0 296.5h1.0M274.3 305.1h1.0M318.5 304.5h1.0M231.7 307.2h1.0M217.2 299.4h1.0M257.9 300.6h1.0M237.9 305.6h1.0M251.2 307.9h1.0M303.9 305.0h1.0M258.7 303.6h1.0M280.1 303.9h1.0M265.5 307.5h1.0M244.9 307.7h1.0M240.7 302.0h1.0M315.2 307.1h1.0M267.9 307.5h1.0M311.2 305.8h1.0M246.6 307.6h1.0M315.5 304.8h1.0M239.6 307.0h1.0M214.5 307.0h1.0M290.5 304.0h1.0M295.5 306.9h1.0M248.7 301.6h1.0M250.0 306.7h1.0M303.1 306.2h1.0M323.7 308.0h1.0M283.2 303.7h1.0M214.7 305.5h1.0M267.3 307.8h1.0M257.1 303.5h1.0M270.4 306.2h1.0M282.4 301.9h1.0M316.4 306.4h1.0M325.1 307.8h1.0M238.8 307.7h1.0M317.3 306.3h1.0M289.2 301.2h1.0M258.2 301.0h1.0M269.9 307.3h1.0M302.5 300.1h1.0M267.2 306.7h1.0M277.3 305.4h1.0M289.1 300.5h1.0M247.8 303.2h1.0M253.4 307.8h1.0M301.8 307.7h1.0M212.9 306.9h1.0M315.0 306.7h1.0M295.9 307.6h1.0M314.6 306.3h1.0M278.0 306.1h1.0M234.6 306.0h1.0M248.3 307.1h1.0M292.5 306.5h1.0M251.7 306.5h1.0M305.8 299.3h1.0M216.9 305.2h1.0M306.7 307.0h1.0M305.5 299.5h1.0M247.5 302.1h1.0M291.5 306.4h1.0M273.5 304.4h1.0M218.4 287.9h1.0M303.2 307.0h1.0M311.4 300.1h1.0M223.6 307.7h1.0M273.9 307.8h1.0M294.7 307.2h1.0M319.4 306.6h1.0M281.8 296.3h1.0M251.0 307.3h1.0M277.1 301.7h1.0M293.4 301.9h1.0M268.1 308.0h1.0M298.5 307.4h1.0M272.7 307.3h1.0M235.0 305.5h1.0M246.8 307.2h1.0M247.4 307.8h1.0M299.5 304.2h1.0M246.6 302.7h1.0M276.5 304.0h1.0M215.1 307.3h1.0M298.2 306.1h1.0M237.4 307.4h1.0M286.7 304.6h1.0M326.4 306.3h1.0M215.0 306.0h1.0M239.8 302.1h1.0M266.2 306.7h1.0M299.0 307.1h1.0M220.1 304.4h1.0M316.7 305.8h1.0M304.1 307.2h1.0M275.3 301.5h1.0M232.1 307.2h1.0M222.8 307.0h1.0M270.7 304.9h1.0M262.5 304.2h1.0M235.3 301.6h1.0M219.1 307.2h1.0M234.5 306.3h1.0M276.7 303.8h1.0M292.5 300.9h1.0M269.4 308.0h1.0M320.4 304.2h1.0M242.0 304.1h1.0M215.0 305.9h1.0M238.4 307.0h1.0M245.8 328.0h1.0M277.6 328.7h1.0M236.4 325.4h1.0M226.5 327.3h1.0M287.9 327.3h1.0M252.4 325.4h1.0M246.1 326.8h1.0M303.9 326.9h1.0M240.4 327.0h1.0M281.0 332.7h1.0M292.1 325.7h1.0M319.6 328.7h1.0M307.5 326.6h1.0M263.3 329.3h1.0M258.0 328.1h1.0M234.5 326.2h1.0M323.6 330.4h1.0M322.7 331.0h1.0M321.8 326.6h1.0M222.6 326.7h1.0M316.9 329.8h1.0M259.7 325.8h1.0M280.3 325.5h1.0M241.7 328.2h1.0M230.0 332.7h1.0M309.9 327.0h1.0M257.8 334.5h1.0M238.8 335.3h1.0M282.3 325.7h1.0M224.9 327.8h1.0M293.9 330.2h1.0M231.8 327.4h1.0M324.8 327.9h1.0M258.5 325.3h1.0M310.1 331.0h1.0M212.2 328.1h1.0M239.2 326.4h1.0M282.4 325.7h1.0M316.4 329.1h1.0M270.3 327.2h1.0M303.7 325.4h1.0M312.5 327.6h1.0M264.2 326.8h1.0M253.9 332.1h1.0M283.3 329.3h1.0M231.1 326.3h1.0M251.4 326.2h1.0M227.7 328.0h1.0M251.5 330.3h1.0M292.3 325.6h1.0M305.8 329.8h1.0M307.0 327.9h1.0M270.5 329.8h1.0M321.3 329.1h1.0M220.5 325.3h1.0M223.0 326.6h1.0M319.6 326.9h1.0M238.4 343.6h1.0M275.0 328.6h1.0M313.6 325.8h1.0M229.7 326.0h1.0M220.2 328.7h1.0M225.0 326.2h1.0M214.6 326.9h1.0M212.4 326.9h1.0M252.8 329.9h1.0M305.3 327.7h1.0M264.8 327.6h1.0M229.1 331.0h1.0M297.4 331.2h1.0M296.0 331.4h1.0M228.7 327.6h1.0M243.5 325.8h1.0M273.2 325.7h1.0M309.8 329.0h1.0M235.0 326.0h1.0M269.2 335.0h1.0M279.1 327.1h1.0M252.9 329.9h1.0M252.5 326.5h1.0M290.8 327.0h1.0M218.6 334.6h1.0M231.8 329.4h1.0M326.8 327.7h1.0M229.4 325.7h1.0M265.6 326.2h1.0M290.8 325.4h1.0M323.7 327.4h1.0M286.0 334.1h1.0M292.1 330.5h1.0M249.3 325.7h1.0M276.5 331.4h1.0M278.7 327.6h1.0M242.1 325.3h1.0M293.5 326.1h1.0M235.0 326.0h1.0M314.3 333.9h1.0M317.1 328.8h1.0M215.0 326.2h1.0M215.9 326.1h1.0M218.6 328.2h1.0M221.5 325.8h1.0M227.0 325.4h1.0M292.3 329.7h1.0M217.9 326.5h1.0M273.4 327.4h1.0M234.7 326.6h1.0M296.5 329.0h1.0M259.1 328.2h1.0M216.9 327.5h1.0M320.2 326.2h1.0M242.8 325.9h1.0M265.2 329.8h1.0M279.0 325.3h1.0M241.6 327.4h1.0M300.6 327.4h1.0M286.8 327.3h1.0M260.3 331.2h1.0M296.0 325.7h1.0M304.3 328.5h1.0M270.1 326.7h1.0M296.6 332.6h1.0M250.5 325.9h1.0M272.2 329.5h1.0M276.4 327.9h1.0M222.6 335.0h1.0M214.3 326.5h1.0M267.5 331.8h1.0M309.3 325.9h1.0M240.6 329.3h1.0M230.2 327.3h1.0M319.7 325.9h1.0M313.5 330.2h1.0M258.9 325.3h1.0M265.8 328.7h1.0M253.5 325.8h1.0M291.3 328.0h1.0M273.6 330.7h1.0M312.6 335.1h1.0M221.7 326.5h1.0M274.6 326.4h1.0M289.8 325.4h1.0M247.7 334.0h1.0M316.1 327.4h1.0M298.1 325.8h1.0M278.8 327.5h1.0M231.4 330.7h1.0M251.1 327.7h1.0M214.9 330.4h1.0M259.5 328.1h1.0M300.3 338.2h1.0M317.5 326.3h1.0M319.2 329.8h1.0M248.4 328.1h1.0M298.4 327.9h1.0M298.9 326.8h1.0M315.8 332.6h1.0M320.4 325.7h1.0M303.9 331.5h1.0M289.6 327.3h1.0M231.0 328.2h1.0M214.5 326.8h1.0M245.1 328.7h1.0M234.3 325.5h1.0M211.8 326.0h1.0M281.5 327.4h1.0M285.9 328.4h1.0M220.3 328.2h1.0M286.3 326.2h1.0M224.2 333.1h1.0M316.6 329.5h1.0M289.8 325.7h1.0M298.7 330.6h1.0M282.4 330.9h1.0M299.9 325.3h1.0M302.1 325.3h1.0M268.4 325.9h1.0M261.9 328.2h1.0M223.9 326.3h1.0M242.4 325.7h1.0M264.4 330.3h1.0M313.4 340.6h1.0M236.0 327.4h1.0M261.7 325.3h1.0M299.5 326.1h1.0M239.3 330.0h1.0M289.5 328.9h1.0M288.8 331.1h1.0M234.6 327.1h1.0M265.8 326.1h1.0M222.6 331.6h1.0M232.3 325.9h1.0M286.0 328.8h1.0M263.6 327.1h1.0M319.4 330.3h1.0M302.9 326.0h1.0M324.4 335.8h1.0M281.8 334.9h1.0M266.0 328.7h1.0M221.4 328.3h1.0M298.4 326.3h1.0M233.5 329.5h1.0M319.4 333.6h1.0M298.3 326.6h1.0M265.1 329.5h1.0M244.0 325.5h1.0M286.1 325.8h1.0M227.9 325.7h1.0M216.0 326.8h1.0M311.4 326.5h1.0M258.6 327.8h1.0M224.6 333.6h1.0M300.2 326.2h1.0M241.3 326.5h1.0M305.2 325.8h1.0M234.9 327.2h1.0M240.8 331.1h1.0M317.3 327.0h1.0M277.4 331.1h1.0M259.7 325.3h1.0M283.7 326.2h1.0M221.5 328.6h1.0M211.6 333.1h1.0M257.0 328.1h1.0M272.3 325.6h1.0M279.0 326.2h1.0M268.5 333.3h1.0M295.2 327.2h1.0M224.8 327.0h1.0M240.2 340.3h1.0M280.2 327.6h1.0M251.7 325.7h1.0M308.1 329.5h1.0M291.3 337.1h1.0M279.1 328.6h1.0M253.8 336.1h1.0M303.3 338.4h1.0M295.2 328.0h1.0M319.2 326.2h1.0M293.2 329.1h1.0M228.0 326.4h1.0M257.1 334.9h1.0M278.9 326.8h1.0M211.7 326.9h1.0M284.3 331.8h1.0M268.5 332.5h1.0M252.5 328.0h1.0M281.3 325.5h1.0M291.7 333.3h1.0M311.5 326.4h1.0M216.9 325.7h1.0M229.0 327.4h1.0M290.5 325.7h1.0M316.7 329.0h1.0M229.1 327.1h1.0M236.4 326.9h1.0M283.1 328.3h1.0M244.6 325.2h1.0M286.9 326.0h1.0M240.0 328.5h1.0M291.0 330.8h1.0M251.2 328.2h1.0M224.4 325.4h1.0M241.9 326.4h1.0M303.7 326.9h1.0M230.0 326.0h1.0M308.2 349.7h1.0M302.8 326.4h1.0M320.9 325.8h1.0M225.4 326.1h1.0M222.0 325.5h1.0M211.5 325.2h1.0M215.2 326.0h1.0M281.4 325.5h1.0M256.6 328.9h1.0M226.9 326.2h1.0M273.1 326.0h1.0M309.4 326.3h1.0M230.0 328.4h1.0M268.1 328.2h1.0M275.3 327.5h1.0M214.5 327.2h1.0M285.3 328.4h1.0M308.8 332.2h1.0M294.1 328.9h1.0M250.5 326.8h1.0M240.5 325.5h1.0M253.5 328.2h1.0M260.5 328.9h1.0M297.6 327.3h1.0M266.1 326.6h1.0M228.8 328.5h1.0M291.4 326.9h1.0M269.7 325.9h1.0M213.8 325.4h1.0M326.0 326.7h1.0M324.2 325.6h1.0M214.7 327.7h1.0M314.1 326.5h1.0M216.3 325.8h1.0M278.7 325.4h1.0M265.3 325.6h1.0M218.2 329.3h1.0M259.7 326.1h1.0M284.5 331.1h1.0M277.1 326.0h1.0M249.8 325.3h1.0M282.0 328.7h1.0M291.5 325.6h1.0M214.7 325.6h1.0M242.8 335.7h1.0M289.1 326.8h1.0M213.4 326.8h1.0M307.2 328.3h1.0M308.0 330.3h1.0M243.5 326.0h1.0M249.5 327.1h1.0M266.9 329.8h1.0M314.0 325.9h1.0M318.0 327.2h1.0M270.4 326.3h1.0M258.9 325.4h1.0M230.6 336.7h1.0M294.4 342.9h1.0M211.8 325.9h1.0M224.2 327.7h1.0M270.8 326.0h1.0M241.4 326.9h1.0M314.8 327.8h1.0M240.9 327.0h1.0M248.3 325.7h1.0M217.7 330.8h1.0M282.3 328.4h1.0M283.1 328.3h1.0M286.6 325.8h1.0M271.4 330.9h1.0M246.9 325.7h1.0M278.9 325.4h1.0M321.7 326.6h1.0M219.9 325.4h1.0M283.7 330.7h1.0M240.3 326.9h1.0M224.8 325.7h1.0M253.3 327.1h1.0M224.6 326.6h1.0M317.8 327.8h1.0M325.1 327.9h1.0M297.3 329.1h1.0M244.8 325.5h1.0M307.9 329.6h1.0M274.2 325.8h1.0M235.7 325.6h1.0M280.8 325.5h1.0M276.5 329.8h1.0M302.4 331.8h1.0M289.8 326.9h1.0M215.1 333.0h1.0M213.3 326.8h1.0M243.2 330.1h1.0M265.1 330.0h1.0M215.0 325.4h1.0M239.8 328.7h1.0M294.8 326.6h1.0M289.2 325.4h1.0M311.1 329.0h1.0M264.7 325.6h1.0M232.3 325.8h1.0M248.3 326.5h1.0M307.7 328.5h1.0M237.1 326.3h1.0M220.2 326.2h1.0M227.8 329.7h1.0M310.6 325.5h1.0M237.5 326.3h1.0M275.5 325.6h1.0M266.2 339.6h1.0M253.2 326.4h1.0M277.3 329.8h1.0M250.1 328.1h1.0M223.9 325.8h1.0M314.7 335.8h1.0M273.8 326.4h1.0M250.3 331.2h1.0M303.6 329.3h1.0M226.2 335.9h1.0M315.2 326.0h1.0M251.3 325.5h1.0M310.6 330.8h1.0M302.4 325.9h1.0M290.7 336.9h1.0M213.8 325.3h1.0M235.0 328.2h1.0M326.4 326.5h1.0M283.1 327.7h1.0M224.0 326.4h1.0M217.0 327.1h1.0M246.6 331.6h1.0M252.2 328.7h1.0M221.4 334.2h1.0M302.7 326.1h1.0M242.0 326.3h1.0M307.6 327.7h1.0M305.1 325.3h1.0M300.6 325.4h1.0M214.7 326.2h1.0M211.2 329.8h1.0M264.6 330.3h1.0M315.0 332.7h1.0M216.9 328.1h1.0M270.7 327.5h1.0M258.7 326.4h1.0M299.5 325.5h1.0M316.6 325.5h1.0M271.9 326.1h1.0M311.0 325.9h1.0M271.8 330.8h1.0M217.5 331.3h1.0M279.3 325.8h1.0M229.5 329.4h1.0M229.0 330.2h1.0M323.1 325.3h1.0M296.9 325.4h1.0M286.6 334.3h1.0M292.1 329.3h1.0M317.8 325.3h1.0M313.4 335.5h1.0M278.5 325.8h1.0M305.4 325.5h1.0M303.1 327.1h1.0M245.4 325.6h1.0M246.3 327.6h1.0M220.0 334.3h1.0M281.0 325.3h1.0M226.5 332.5h1.0M252.4 325.6h1.0M317.9 329.9h1.0M263.8 325.2h1.0M262.8 326.7h1.0M235.2 325.7h1.0M310.9 328.4h1.0M294.4 327.0h1.0M277.6 328.0h1.0M216.5 328.2h1.0M244.7 326.8h1.0M320.7 328.6h1.0M277.1 334.9h1.0M231.9 330.6h1.0M290.2 326.7h1.0M243.2 327.7h1.0M227.4 327.7h1.0M248.6 333.0h1.0M231.4 325.7h1.0M304.6 331.1h1.0M274.2 325.9h1.0M261.1 325.9h1.0M249.2 329.2h1.0M272.8 328.9h1.0M233.8 325.5h1.0M312.3 326.9h1.0M303.7 329.5h1.0M272.3 327.1h1.0M267.4 325.6h1.0M241.6 327.5h1.0M311.1 325.6h1.0M234.1 330.4h1.0M308.8 327.8h1.0M277.0 326.2h1.0M229.2 328.4h1.0M305.3 329.5h1.0M227.1 329.2h1.0M218.7 328.2h1.0M296.9 326.9h1.0M283.6 325.7h1.0M268.8 327.0h1.0M267.3 325.8h1.0M291.9 329.2h1.0M322.1 325.4h1.0M268.2 327.3h1.0M265.8 329.5h1.0M310.4 325.7h1.0M240.2 326.7h1.0M261.5 327.0h1.0M310.0 326.0h1.0M267.3 336.3h1.0M325.1 332.8h1.0M301.8 328.5h1.0M308.8 328.5h1.0M302.2 328.3h1.0M240.3 329.4h1.0M298.2 331.3h1.0M276.4 336.5h1.0M236.1 329.8h1.0M280.0 327.5h1.0M314.6 327.4h1.0M300.0 326.2h1.0M313.3 325.8h1.0M237.9 328.7h1.0M314.1 330.5h1.0M286.1 327.8h1.0M217.8 325.5h1.0M302.2 331.5h1.0M230.8 325.2h1.0M290.4 329.5h1.0M299.7 325.2h1.0M253.5 327.3h1.0M251.1 325.5h1.0M269.5 331.1h1.0M311.7 332.8h1.0M304.1 333.4h1.0M308.9 330.3h1.0M265.4 327.9h1.0M222.5 325.2h1.0M226.5 326.3h1.0M314.0 326.2h1.0M218.3 327.5h1.0M320.8 326.9h1.0M258.6 332.4h1.0M234.7 326.5h1.0M242.1 325.4h1.0M266.7 326.1h1.0M261.8 329.5h1.0M240.8 329.2h1.0M302.8 325.3h1.0M250.3 325.4h1.0M225.6 325.7h1.0M284.6 327.6h1.0M264.8 326.0h1.0M248.9 330.0h1.0M303.3 328.7h1.0M285.2 325.4h1.0M285.5 327.5h1.0M279.3 325.9h1.0M212.1 326.3h1.0M298.6 332.0h1.0M289.6 326.6h1.0M220.7 325.5h1.0M307.9 327.1h1.0M287.3 326.0h1.0M279.4 326.1h1.0M217.7 327.8h1.0M277.6 326.4h1.0M280.6 326.4h1.0M276.9 325.8h1.0M215.0 326.0h1.0M323.8 327.7h1.0M289.0 330.8h1.0M266.0 328.4h1.0M227.4 325.4h1.0M286.7 325.9h1.0M287.4 325.6h1.0M319.2 325.2h1.0M227.1 327.2h1.0M238.0 333.9h1.0M276.3 325.3h1.0M225.5 328.1h1.0M314.8 326.6h1.0M310.0 325.3h1.0M252.5 325.8h1.0M232.3 325.2h1.0M240.5 325.8h1.0M277.2 326.7h1.0M267.9 330.1h1.0M219.2 327.2h1.0M234.7 325.4h1.0M305.3 338.7h1.0M323.4 326.7h1.0M256.9 330.4h1.0M279.1 327.2h1.0M261.0 326.0h1.0M215.6 325.6h1.0M313.0 326.9h1.0M302.0 329.7h1.0M296.2 326.7h1.0M258.4 325.5h1.0M219.7 331.8h1.0M306.2 326.0h1.0M243.5 328.3h1.0M271.2 327.3h1.0M315.9 326.0h1.0M293.6 325.3h1.0M276.9 328.3h1.0M314.7 329.4h1.0M322.9 332.2h1.0M268.2 326.1h1.0M220.6 329.5h1.0M294.1 325.8h1.0M267.0 327.0h1.0M322.6 339.1h1.0M238.9 328.9h1.0M257.3 325.3h1.0M212.7 325.3h1.0M272.3 325.3h1.0M258.4 325.3h1.0M226.2 325.2h1.0M297.9 331.6h1.0M216.3 327.2h1.0M291.8 330.1h1.0M245.8 327.4h1.0M268.2 325.9h1.0M273.3 325.2h1.0M274.6 330.9h1.0M258.4 325.4h1.0M316.7 334.2h1.0M252.6 328.7h1.0M235.2 327.0h1.0M283.3 328.8h1.0M324.3 326.7h1.0M323.1 325.6h1.0M219.0 326.1h1.0M307.9 327.9h1.0M309.8 326.2h1.0M287.3 329.1h1.0M252.7 325.5h1.0M278.0 327.1h1.0M268.5 329.5h1.0M270.2 327.9h1.0M221.8 325.9h1.0M246.1 325.6h1.0M309.0 329.6h1.0M264.1 326.3h1.0M295.5 326.9h1.0M281.4 328.1h1.0M295.3 327.0h1.0M310.6 326.2h1.0M323.9 327.0h1.0M263.1 332.8h1.0M323.6 327.0h1.0M235.5 329.2h1.0M225.8 326.3h1.0M265.8 331.6h1.0M297.1 326.2h1.0M246.3 325.4h1.0M297.1 326.8h1.0M233.9 326.0h1.0M262.1 326.5h1.0M266.5 330.0h1.0M326.1 325.9h1.0M211.2 326.6h1.0M277.2 326.3h1.0M321.9 325.5h1.0M229.9 330.4h1.0M215.1 326.3h1.0M310.3 328.3h1.0M282.7 325.3h1.0M320.0 327.5h1.0M243.0 325.7h1.0M235.5 326.3h1.0M235.0 326.6h1.0M262.5 325.5h1.0M235.7 327.6h1.0M235.0 328.2h1.0M229.8 329.9h1.0M225.4 326.0h1.0M311.9 326.6h1.0M243.5 326.1h1.0M302.5 327.0h1.0M215.5 326.2h1.0M292.9 329.2h1.0M300.3 326.6h1.0M212.6 329.6h1.0M264.3 325.7h1.0M283.0 326.0h1.0M241.1 330.0h1.0M297.3 328.0h1.0M289.7 329.5h1.0M311.2 326.5h1.0M281.4 326.8h1.0M254.2 326.0h1.0M252.8 327.9h1.0M290.6 330.5h1.0M228.4 325.5h1.0M220.4 325.6h1.0M273.2 326.3h1.0M269.5 329.4h1.0M300.0 326.5h1.0M262.0 328.2h1.0M312.0 327.2h1.0M295.2 325.5h1.0M246.2 333.7h1.0M289.8 327.7h1.0M316.3 329.6h1.0M323.2 327.3h1.0M321.0 327.4h1.0M259.6 330.6h1.0M222.0 332.0h1.0M236.7 329.5h1.0M294.8 325.8h1.0M252.5 326.4h1.0M261.9 326.0h1.0M293.4 325.2h1.0M282.1 330.6h1.0M321.5 327.0h1.0M278.1 326.4h1.0M217.5 344.5h1.0M284.3 329.0h1.0M288.0 339.0h1.0M222.4 328.5h1.0M228.8 325.3h1.0M248.8 327.1h1.0" stroke="#7a7a7a" stroke-width="1.0" fill="none" opacity="1"/>
<path d="M292.1 301.1h1.0M303.8 306.0h1.0M313.5 299.8h1.0M300.6 290.8h1.0M276.6 302.7h1.0M277.6 307.0h1.0M314.7 306.3h1.0M314.3 301.9h1.0M323.6 304.1h1.0M281.9 304.2h1.0M223.0 307.5h1.0M317.7 302.3h1.0M259.7 307.7h1.0M244.1 307.9h1.0M277.4 305.2h1.0M268.0 302.7h1.0M288.1 303.0h1.0M265.0 304.2h1.0M276.0 306.2h1.0M256.7 304.9h1.0M243.4 306.7h1.0M227.1 299.6h1.0M275.9 306.4h1.0M282.8 307.5h1.0M289.9 307.7h1.0M219.9 306.7h1.0M319.8 307.4h1.0M230.7 306.7h1.0M285.4 307.9h1.0M246.9 301.3h1.0M322.9 305.5h1.0M226.7 307.5h1.0M225.7 308.0h1.0M294.1 305.5h1.0M302.4 306.6h1.0M245.4 307.1h1.0M239.9 307.6h1.0M240.6 306.7h1.0M280.3 302.7h1.0M304.5 305.6h1.0M305.6 306.1h1.0M321.9 307.0h1.0M319.2 304.9h1.0M281.3 302.3h1.0M294.0 304.9h1.0M298.1 306.5h1.0M232.3 308.0h1.0M253.5 305.5h1.0M240.1 296.2h1.0M289.2 307.7h1.0M306.9 301.6h1.0M312.3 307.1h1.0M224.2 305.4h1.0M282.0 306.7h1.0M315.3 307.1h1.0M248.7 303.9h1.0M289.8 297.1h1.0M311.8 307.9h1.0M295.8 304.5h1.0M257.0 304.4h1.0M315.1 305.4h1.0M257.4 303.0h1.0M302.5 307.1h1.0M326.2 304.0h1.0M271.2 307.2h1.0M312.6 305.9h1.0M300.4 306.3h1.0M259.0 304.9h1.0M309.2 307.7h1.0M280.5 305.9h1.0M235.3 305.0h1.0M280.6 307.3h1.0M216.7 307.4h1.0M271.7 306.7h1.0M280.4 308.0h1.0M232.8 307.9h1.0M247.8 307.2h1.0M261.2 306.2h1.0M324.7 305.1h1.0M227.9 306.5h1.0M314.7 306.2h1.0M288.7 302.2h1.0M320.1 306.9h1.0M317.0 304.6h1.0M290.0 300.9h1.0M231.7 306.9h1.0M214.3 305.0h1.0M315.2 306.3h1.0M309.9 301.7h1.0M226.5 293.5h1.0M218.4 307.8h1.0M223.9 307.8h1.0M234.8 303.2h1.0M312.1 302.0h1.0M317.8 307.3h1.0M292.2 307.9h1.0M220.6 304.0h1.0M221.5 304.6h1.0M243.8 304.4h1.0M275.2 307.8h1.0M276.3 307.7h1.0M268.9 304.5h1.0M246.4 307.9h1.0M220.2 305.9h1.0M257.8 300.5h1.0M296.7 307.1h1.0M293.4 305.1h1.0M246.1 301.8h1.0M230.9 304.2h1.0M300.4 301.7h1.0M264.7 307.2h1.0M233.3 305.9h1.0M217.0 304.0h1.0M246.2 308.0h1.0M277.4 306.4h1.0M269.1 307.3h1.0M305.5 301.2h1.0M227.8 304.3h1.0M269.1 302.3h1.0M301.2 306.6h1.0M278.6 307.3h1.0M269.8 306.5h1.0M300.2 304.6h1.0M244.8 307.2h1.0M263.5 307.5h1.0M230.1 299.6h1.0M250.2 307.9h1.0M226.3 299.6h1.0M290.7 307.6h1.0M265.9 307.3h1.0M266.1 301.4h1.0M275.2 307.9h1.0M325.7 303.3h1.0M217.3 305.8h1.0M251.6 304.5h1.0M224.9 305.4h1.0M235.6 306.5h1.0M255.2 302.2h1.0M220.2 304.2h1.0M250.2 304.9h1.0M292.7 303.2h1.0M249.9 308.0h1.0M226.9 303.7h1.0M303.4 296.0h1.0M258.5 307.5h1.0M263.1 304.5h1.0M245.3 307.3h1.0M299.8 306.8h1.0M279.0 306.2h1.0M310.8 307.8h1.0M294.7 307.2h1.0M319.6 305.1h1.0M228.8 298.4h1.0M297.0 307.6h1.0M284.4 304.7h1.0M269.0 298.9h1.0M316.0 307.6h1.0M318.9 307.6h1.0M218.8 305.9h1.0M257.5 307.9h1.0M309.1 306.3h1.0M294.6 303.5h1.0M267.9 305.8h1.0M263.8 308.0h1.0M256.6 303.1h1.0M265.7 299.7h1.0M279.6 307.7h1.0M228.9 307.2h1.0M277.6 300.8h1.0M252.2 305.4h1.0M245.7 307.1h1.0M246.5 307.1h1.0M250.5 307.0h1.0M217.0 308.0h1.0M316.2 307.4h1.0M295.0 304.9h1.0M319.4 306.5h1.0M269.1 307.5h1.0M282.7 296.5h1.0M275.3 307.6h1.0M270.5 305.2h1.0M257.0 303.3h1.0M312.9 307.3h1.0M271.7 305.6h1.0M240.9 306.7h1.0M269.6 307.8h1.0M272.3 304.7h1.0M247.1 306.1h1.0M259.1 303.5h1.0M228.5 299.1h1.0M289.9 307.9h1.0M278.5 307.3h1.0M293.7 308.0h1.0M318.6 307.7h1.0M226.9 305.2h1.0M231.2 307.6h1.0M275.5 297.7h1.0M264.5 306.4h1.0M310.4 305.1h1.0M278.7 304.8h1.0M263.2 305.6h1.0M325.5 306.8h1.0M224.0 306.4h1.0M267.0 304.2h1.0M305.2 306.6h1.0M315.1 304.1h1.0M212.9 307.4h1.0M291.2 306.4h1.0M219.2 298.8h1.0M286.0 306.1h1.0M251.2 301.0h1.0M299.7 303.5h1.0M301.6 307.7h1.0M298.2 307.0h1.0M284.1 306.6h1.0M279.9 306.3h1.0M239.3 305.6h1.0M323.8 305.8h1.0M287.2 306.8h1.0M265.9 303.3h1.0M244.7 307.3h1.0M251.9 305.3h1.0M229.2 304.4h1.0M271.2 305.9h1.0M235.8 304.3h1.0M324.9 307.9h1.0M286.3 307.4h1.0M238.4 306.8h1.0M317.9 306.1h1.0M286.1 301.7h1.0M216.8 307.6h1.0M236.1 302.7h1.0M304.8 303.1h1.0M320.1 302.7h1.0M321.5 307.7h1.0M219.7 307.3h1.0M309.9 305.5h1.0M251.3 306.8h1.0M309.5 299.8h1.0M307.8 306.5h1.0M275.4 307.9h1.0M283.2 303.7h1.0M220.8 302.6h1.0M251.5 303.5h1.0M261.1 307.5h1.0M285.2 307.3h1.0M322.5 301.1h1.0M293.2 302.7h1.0M224.6 307.1h1.0M218.7 303.6h1.0M222.7 298.6h1.0M278.0 305.4h1.0M223.2 306.7h1.0M266.3 307.7h1.0M316.4 307.5h1.0M214.8 307.9h1.0M273.0 302.9h1.0M219.8 307.9h1.0M218.5 304.2h1.0M227.9 305.7h1.0M262.2 304.9h1.0M246.6 307.5h1.0M257.1 307.3h1.0M291.2 304.0h1.0M275.0 304.5h1.0M298.9 307.8h1.0M286.9 307.1h1.0M323.7 307.8h1.0M217.3 306.3h1.0M282.1 305.2h1.0M219.5 307.2h1.0M273.1 304.5h1.0M305.9 307.0h1.0M317.1 303.5h1.0M237.6 307.9h1.0M240.0 306.6h1.0M298.6 305.8h1.0M280.1 302.4h1.0M261.2 302.0h1.0M311.4 307.8h1.0M223.4 304.7h1.0M319.1 302.8h1.0M315.9 302.0h1.0M290.3 304.9h1.0M290.4 308.0h1.0M242.4 307.3h1.0M275.8 307.8h1.0M295.1 307.5h1.0M247.9 307.9h1.0M301.7 299.4h1.0M285.3 306.3h1.0M289.3 303.9h1.0M232.6 307.5h1.0M296.3 305.4h1.0M219.4 302.1h1.0M305.8 307.5h1.0M281.3 304.9h1.0M239.7 305.9h1.0M319.2 300.9h1.0M312.5 306.7h1.0M249.5 304.1h1.0M243.5 307.9h1.0M314.6 306.0h1.0M318.7 307.5h1.0M273.9 308.0h1.0M215.2 305.3h1.0M310.3 306.0h1.0M244.6 306.9h1.0M285.6 304.8h1.0M320.4 304.9h1.0M226.0 304.9h1.0M243.8 305.7h1.0M248.9 306.5h1.0M251.4 306.7h1.0M312.0 304.3h1.0M281.6 304.0h1.0M227.6 307.2h1.0M282.7 299.3h1.0M268.3 307.1h1.0M290.4 306.5h1.0M245.5 305.6h1.0M224.7 307.4h1.0M284.6 307.0h1.0M255.2 296.6h1.0M266.7 297.9h1.0M307.4 306.9h1.0M281.3 306.8h1.0M288.0 307.4h1.0M221.0 298.5h1.0M316.5 303.1h1.0M323.2 306.8h1.0M317.8 306.0h1.0M236.0 302.2h1.0M247.7 305.8h1.0M240.8 307.4h1.0M222.4 308.0h1.0M279.0 306.8h1.0M307.9 307.0h1.0M311.6 305.6h1.0M277.6 304.1h1.0M311.2 304.1h1.0M240.4 302.4h1.0M271.1 299.2h1.0M266.6 300.8h1.0M268.2 302.8h1.0M248.6 303.5h1.0M211.7 304.9h1.0M324.7 307.0h1.0M298.7 303.3h1.0M286.3 297.4h1.0M321.6 306.8h1.0M222.5 301.0h1.0M303.9 306.3h1.0M308.8 299.5h1.0M324.5 306.6h1.0M238.0 307.9h1.0M288.5 306.9h1.0M303.1 305.8h1.0M242.7 303.4h1.0M299.3 303.8h1.0M304.6 305.1h1.0M324.8 307.4h1.0M242.0 306.6h1.0M223.7 306.5h1.0M233.8 307.4h1.0M293.4 303.5h1.0M292.2 307.8h1.0M300.9 301.8h1.0M234.4 305.2h1.0M323.4 301.3h1.0M272.7 305.7h1.0M241.8 304.3h1.0M213.1 304.4h1.0M226.0 293.8h1.0M308.6 307.6h1.0M274.2 299.5h1.0M244.0 306.7h1.0M315.5 303.6h1.0M282.1 300.9h1.0M247.2 307.4h1.0M249.2 307.4h1.0M319.7 306.7h1.0M297.3 304.2h1.0M218.4 306.2h1.0M301.8 302.5h1.0M220.5 302.5h1.0M213.1 302.2h1.0M324.0 302.9h1.0M324.6 306.3h1.0M242.8 307.8h1.0M268.0 307.2h1.0M245.7 305.5h1.0M293.6 306.6h1.0M266.5 293.3h1.0M258.7 305.9h1.0M273.9 307.7h1.0M255.8 297.1h1.0M226.2 306.6h1.0M221.9 306.6h1.0M314.1 305.6h1.0M217.0 303.0h1.0M250.7 307.8h1.0M294.7 299.6h1.0M275.4 307.5h1.0M278.2 307.9h1.0M305.8 299.8h1.0M253.1 303.3h1.0M292.0 306.8h1.0M215.7 302.1h1.0M290.0 307.1h1.0M262.3 305.0h1.0M299.8 304.4h1.0M233.4 304.6h1.0M213.9 303.2h1.0M229.2 305.0h1.0M246.6 305.2h1.0M220.0 305.2h1.0M304.7 299.5h1.0M307.1 296.1h1.0M265.3 307.0h1.0M309.6 305.5h1.0M251.1 307.9h1.0M299.6 307.5h1.0M316.6 301.1h1.0M269.6 306.1h1.0M280.1 307.7h1.0M289.1 307.4h1.0M307.2 304.5h1.0M300.8 301.8h1.0M301.0 305.6h1.0M308.1 295.3h1.0M309.9 307.2h1.0M256.4 304.3h1.0M214.6 307.9h1.0M251.2 304.8h1.0M264.3 304.5h1.0M264.1 306.7h1.0M296.3 305.2h1.0M288.5 305.0h1.0M282.9 304.1h1.0M276.3 306.1h1.0M244.0 306.3h1.0M267.0 303.9h1.0M244.5 305.9h1.0M320.2 302.4h1.0M286.5 307.5h1.0M211.6 307.7h1.0M308.8 306.1h1.0M243.3 304.5h1.0M272.8 307.9h1.0M211.4 303.0h1.0M258.3 305.4h1.0M212.2 307.6h1.0M290.2 306.6h1.0M229.6 304.4h1.0M224.6 304.9h1.0M253.3 300.0h1.0M300.0 303.7h1.0M244.0 307.9h1.0M284.1 305.2h1.0M303.9 307.4h1.0M239.0 306.0h1.0M295.9 299.8h1.0M283.6 305.1h1.0M276.8 301.7h1.0M213.7 305.9h1.0M314.3 304.5h1.0M234.0 301.9h1.0M294.7 306.5h1.0M302.0 305.3h1.0M236.2 305.6h1.0M256.7 306.8h1.0M321.6 306.4h1.0M294.7 305.5h1.0M271.3 304.2h1.0M263.2 307.3h1.0M219.2 302.9h1.0M219.7 307.5h1.0M323.3 307.2h1.0M291.6 307.4h1.0M239.5 304.7h1.0M292.4 300.1h1.0M259.7 299.8h1.0M323.0 300.2h1.0M236.9 307.9h1.0M262.6 304.6h1.0M228.2 303.7h1.0M215.4 307.4h1.0M322.7 304.0h1.0M311.7 304.1h1.0M244.6 305.9h1.0M216.2 306.6h1.0M279.7 304.7h1.0M253.7 307.7h1.0M320.7 307.4h1.0M243.8 299.4h1.0M295.5 305.7h1.0M325.3 306.6h1.0M306.7 302.2h1.0M279.7 307.6h1.0M238.1 292.0h1.0M241.0 307.3h1.0M310.6 307.7h1.0M273.1 302.9h1.0M231.3 307.7h1.0M315.6 304.4h1.0M313.7 307.7h1.0M250.5 306.4h1.0M252.3 307.5h1.0M316.0 307.1h1.0M241.0 305.6h1.0M220.1 306.4h1.0M270.9 305.6h1.0M288.5 308.0h1.0M322.4 304.6h1.0M289.4 307.4h1.0M224.7 304.9h1.0M245.5 307.2h1.0M288.6 307.6h1.0M225.1 296.9h1.0M275.2 306.5h1.0M325.6 307.7h1.0M232.4 306.7h1.0M307.2 301.7h1.0M325.2 306.3h1.0M279.2 305.7h1.0M215.3 304.3h1.0M223.9 304.9h1.0M230.1 307.9h1.0M325.2 306.5h1.0M291.9 305.6h1.0M221.0 306.1h1.0M311.1 306.3h1.0M248.7 306.4h1.0M288.7 307.2h1.0M289.9 306.0h1.0M224.0 306.9h1.0M237.5 307.3h1.0M310.8 303.5h1.0M311.6 301.7h1.0M281.7 305.6h1.0M249.2 306.5h1.0M315.6 299.1h1.0M242.8 307.7h1.0M321.7 306.8h1.0M222.6 304.8h1.0M248.2 303.3h1.0M310.6 305.8h1.0M281.7 304.3h1.0M272.4 304.0h1.0M319.9 306.8h1.0M223.7 304.5h1.0M279.0 305.9h1.0M318.2 307.5h1.0M323.9 300.8h1.0M224.1 306.9h1.0M244.3 306.7h1.0M223.3 306.7h1.0M294.5 296.3h1.0M235.4 305.9h1.0M294.1 307.5h1.0M298.4 306.7h1.0M245.3 306.7h1.0M215.5 305.5h1.0M274.4 306.0h1.0M246.4 305.4h1.0M265.7 307.5h1.0M293.3 306.1h1.0M324.1 306.0h1.0M237.9 298.8h1.0M278.2 301.0h1.0M224.1 305.3h1.0M236.9 299.6h1.0M302.7 302.4h1.0M302.2 305.5h1.0M236.9 304.7h1.0M244.6 307.6h1.0M270.4 306.7h1.0M303.8 303.7h1.0M279.7 305.5h1.0M261.0 306.4h1.0M249.0 306.2h1.0M238.1 307.6h1.0M266.5 306.6h1.0M282.6 300.0h1.0M236.6 306.7h1.0M211.4 306.0h1.0M323.4 305.3h1.0M324.3 307.8h1.0M269.3 308.0h1.0M306.0 299.4h1.0M230.8 305.5h1.0M310.6 304.5h1.0M285.0 304.6h1.0M290.3 306.0h1.0M238.3 299.0h1.0M293.7 301.5h1.0M279.2 305.2h1.0M274.7 301.4h1.0M243.6 298.4h1.0M304.0 302.7h1.0M285.6 303.2h1.0M218.8 307.3h1.0M217.7 307.5h1.0M293.0 305.1h1.0M224.4 304.6h1.0M236.2 307.9h1.0M265.0 302.9h1.0M250.8 307.5h1.0M319.9 308.0h1.0M273.3 307.1h1.0M303.9 304.3h1.0M314.6 306.9h1.0M310.6 306.1h1.0M224.0 306.9h1.0M230.0 304.1h1.0M306.3 303.7h1.0M285.0 304.2h1.0M223.6 305.3h1.0M319.8 307.1h1.0M224.7 304.0h1.0M325.6 306.6h1.0M248.7 290.4h1.0M276.5 307.5h1.0M275.5 306.3h1.0M213.8 300.0h1.0M247.6 304.3h1.0M315.4 304.7h1.0M250.2 305.0h1.0M271.5 306.2h1.0M245.3 305.5h1.0M257.4 305.9h1.0M277.4 306.3h1.0M249.5 306.9h1.0M323.9 305.4h1.0M219.3 304.9h1.0M282.0 307.2h1.0M237.2 305.4h1.0M238.7 303.9h1.0M232.8 304.7h1.0M318.3 301.9h1.0M317.8 307.0h1.0M270.5 307.1h1.0M230.9 301.8h1.0M274.7 305.6h1.0M234.7 307.6h1.0M318.3 306.6h1.0M308.8 301.6h1.0M225.3 307.8h1.0M227.9 308.0h1.0M240.8 306.8h1.0M231.2 305.6h1.0M215.6 301.9h1.0M227.0 303.8h1.0M219.4 305.9h1.0M243.6 306.1h1.0M302.0 307.0h1.0M325.0 306.3h1.0M318.1 306.5h1.0M278.4 301.3h1.0M211.8 300.8h1.0M321.8 304.7h1.0M289.3 300.1h1.0M225.5 305.0h1.0M302.1 307.8h1.0M320.3 301.7h1.0M254.4 306.9h1.0M260.2 302.2h1.0M289.0 307.7h1.0M298.4 306.8h1.0M235.0 302.9h1.0M276.6 302.4h1.0M240.0 307.2h1.0M230.3 305.8h1.0M297.0 306.2h1.0M226.9 302.9h1.0M258.0 304.6h1.0M218.8 306.4h1.0M217.4 303.6h1.0M317.7 307.2h1.0M227.0 307.2h1.0M288.6 307.8h1.0M279.8 307.5h1.0M222.7 299.6h1.0M257.5 305.8h1.0M248.3 306.8h1.0M295.8 306.4h1.0M293.9 302.3h1.0M212.1 307.9h1.0M261.4 307.2h1.0M272.2 306.8h1.0M294.7 305.2h1.0M263.2 301.8h1.0M265.8 306.9h1.0M231.9 305.3h1.0M258.0 307.6h1.0M237.9 305.8h1.0M237.4 305.7h1.0M298.3 304.0h1.0M226.8 306.7h1.0M313.5 303.4h1.0M234.6 303.0h1.0M231.9 302.7h1.0M275.8 306.6h1.0M270.4 305.6h1.0M302.4 304.1h1.0M220.1 306.1h1.0M271.2 306.6h1.0M250.0 304.6h1.0M288.6 307.0h1.0M211.5 302.8h1.0M260.4 306.4h1.0M245.8 305.3h1.0M287.2 308.0h1.0M301.6 306.5h1.0M315.4 307.8h1.0M318.3 305.5h1.0M274.6 304.9h1.0M293.4 307.6h1.0M316.7 307.5h1.0M261.0 307.1h1.0M225.2 301.7h1.0M268.4 305.1h1.0M229.0 304.7h1.0M245.4 307.4h1.0M232.0 307.0h1.0M306.8 307.7h1.0M313.2 308.0h1.0M233.3 307.8h1.0M305.7 306.2h1.0M279.9 307.1h1.0M239.5 305.5h1.0M301.4 307.0h1.0M291.9 307.2h1.0M321.3 303.8h1.0M286.5 306.9h1.0M226.0 304.6h1.0M271.9 306.4h1.0M326.3 305.3h1.0M299.4 307.4h1.0M312.9 305.2h1.0M232.2 306.7h1.0M215.9 307.7h1.0M276.8 305.7h1.0M258.5 301.9h1.0M289.8 308.0h1.0M243.9 303.6h1.0M284.9 296.6h1.0M300.3 307.4h1.0M214.0 306.5h1.0M270.2 297.2h1.0M312.3 307.1h1.0M301.1 307.9h1.0M261.7 302.2h1.0M221.0 300.2h1.0M285.1 303.4h1.0M272.5 307.4h1.0M284.2 306.6h1.0M266.4 307.8h1.0M219.7 295.7h1.0M226.8 301.5h1.0M266.3 305.4h1.0M289.9 306.5h1.0M320.2 305.1h1.0M283.7 307.5h1.0M222.9 303.1h1.0M305.0 304.6h1.0M323.4 302.6h1.0M290.0 305.8h1.0M261.2 307.3h1.0M317.4 301.1h1.0M219.3 301.6h1.0M273.6 307.8h1.0M259.4 297.3h1.0M277.0 307.7h1.0M315.7 306.8h1.0M324.7 304.8h1.0M316.3 308.0h1.0M223.1 307.8h1.0M321.7 303.1h1.0M252.7 305.7h1.0M251.0 306.8h1.0M230.5 304.2h1.0M267.4 307.5h1.0M219.8 307.5h1.0M327.0 306.4h1.0M314.5 306.4h1.0M259.9 306.7h1.0M270.2 293.1h1.0M247.7 303.8h1.0M311.6 305.5h1.0M318.9 301.6h1.0M318.2 306.0h1.0M279.2 304.7h1.0M249.9 304.6h1.0M239.6 298.4h1.0M300.9 304.2h1.0M228.1 306.7h1.0M249.1 307.9h1.0M243.6 307.6h1.0M299.5 301.9h1.0M213.2 306.9h1.0M219.2 307.5h1.0M261.2 300.6h1.0M324.1 298.4h1.0M292.6 306.9h1.0M301.8 305.4h1.0M258.6 308.0h1.0M211.5 306.6h1.0M221.7 306.2h1.0M270.8 307.2h1.0M315.0 306.9h1.0M226.3 307.2h1.0M217.4 306.8h1.0M265.2 302.7h1.0M266.1 305.3h1.0M294.6 297.2h1.0M279.9 307.7h1.0M231.4 305.3h1.0M269.0 305.7h1.0M290.5 306.6h1.0M211.1 298.7h1.0M272.1 302.8h1.0M235.0 307.6h1.0M216.7 307.5h1.0M278.7 302.8h1.0M276.2 307.7h1.0M285.7 306.9h1.0M299.0 304.0h1.0M221.1 305.5h1.0M242.5 306.9h1.0M284.4 306.5h1.0M314.2 294.7h1.0M240.3 306.4h1.0M273.8 304.4h1.0M322.7 307.3h1.0M242.2 307.4h1.0M319.8 307.4h1.0M229.7 302.6h1.0M223.8 303.0h1.0M291.3 305.5h1.0M229.5 307.2h1.0M323.1 306.0h1.0M280.0 303.5h1.0M327.0 306.2h1.0M224.6 306.9h1.0M304.9 299.8h1.0M249.9 301.8h1.0M291.1 305.1h1.0M302.4 306.8h1.0M270.2 306.4h1.0M234.4 305.2h1.0M219.7 307.9h1.0M325.9 307.9h1.0M305.0 307.6h1.0M265.2 304.9h1.0M317.2 306.9h1.0M279.2 304.5h1.0M238.0 298.0h1.0M276.4 305.0h1.0M321.4 299.2h1.0M230.7 302.6h1.0M236.3 307.5h1.0M292.2 306.9h1.0M315.9 305.7h1.0M250.8 306.8h1.0M233.5 306.1h1.0M224.9 306.4h1.0M266.3 305.4h1.0M219.1 307.0h1.0M262.5 307.5h1.0M227.5 303.8h1.0M266.3 304.7h1.0M226.3 307.6h1.0M239.3 303.9h1.0M322.1 305.6h1.0M216.5 296.5h1.0M269.9 304.2h1.0M306.3 297.2h1.0M227.7 304.7h1.0M295.9 307.8h1.0M317.5 306.9h1.0M273.6 303.2h1.0M227.1 307.0h1.0M277.4 307.9h1.0M312.5 303.6h1.0M240.6 307.0h1.0M291.6 305.2h1.0M211.4 308.0h1.0M233.5 307.6h1.0M267.9 303.4h1.0M223.4 307.8h1.0M228.3 296.4h1.0M282.6 300.3h1.0M222.8 298.9h1.0M301.8 306.3h1.0M247.7 305.9h1.0M248.6 307.5h1.0M274.0 307.1h1.0M273.7 307.8h1.0M296.6 307.2h1.0M221.0 304.4h1.0M227.3 303.8h1.0M318.7 307.4h1.0M268.3 304.1h1.0M295.5 304.3h1.0M276.0 305.2h1.0M259.9 307.9h1.0M312.7 302.3h1.0M272.0 306.6h1.0M302.7 307.4h1.0M220.5 307.4h1.0M221.4 303.4h1.0M281.5 307.6h1.0M233.7 307.5h1.0M250.4 307.4h1.0M286.1 306.5h1.0M231.1 306.0h1.0M282.2 300.5h1.0M212.2 302.7h1.0M304.0 303.5h1.0M322.7 304.8h1.0M291.5 325.3h1.0M285.3 327.2h1.0M245.6 330.6h1.0M285.6 334.1h1.0M214.5 326.1h1.0M250.6 326.8h1.0M284.3 325.8h1.0M312.9 328.4h1.0M287.0 328.7h1.0M225.6 326.4h1.0M299.4 329.0h1.0M274.3 328.1h1.0M318.9 325.4h1.0M223.4 325.4h1.0M252.1 325.8h1.0M220.6 328.6h1.0M264.5 325.2h1.0M262.9 325.7h1.0M251.3 325.5h1.0M296.8 330.6h1.0M319.1 325.6h1.0M277.9 325.8h1.0M264.4 327.5h1.0M282.3 325.2h1.0M282.2 327.3h1.0M275.8 325.5h1.0M291.5 328.3h1.0M225.6 327.2h1.0M279.3 327.9h1.0M277.2 325.7h1.0M318.6 326.6h1.0M320.9 325.4h1.0M229.6 335.4h1.0M294.4 325.9h1.0M294.3 326.2h1.0M272.1 328.1h1.0M305.0 325.4h1.0M278.8 326.8h1.0M270.5 325.4h1.0M272.5 331.2h1.0M284.0 327.8h1.0M299.5 325.3h1.0M240.3 327.6h1.0M252.3 326.2h1.0M258.0 327.7h1.0M214.2 326.7h1.0M230.6 331.9h1.0M311.9 328.9h1.0M246.8 327.4h1.0M263.6 326.7h1.0M276.2 330.4h1.0M215.8 325.3h1.0M275.6 332.0h1.0M322.7 328.2h1.0M307.2 338.5h1.0M259.5 328.5h1.0M268.4 331.5h1.0M325.5 327.9h1.0M283.0 326.4h1.0M265.8 327.0h1.0M297.4 325.8h1.0M320.9 327.1h1.0M289.1 326.3h1.0M306.6 328.9h1.0M243.3 329.2h1.0M291.7 325.8h1.0M303.3 328.7h1.0M238.4 325.7h1.0M250.5 325.4h1.0M212.0 325.8h1.0M232.0 331.6h1.0M299.4 326.4h1.0M241.5 325.6h1.0M290.8 325.4h1.0M216.8 345.2h1.0M248.0 326.1h1.0M272.0 325.9h1.0M244.4 327.0h1.0M243.3 325.3h1.0M301.0 325.8h1.0M290.3 327.5h1.0M250.1 325.4h1.0M223.0 329.7h1.0M257.2 327.4h1.0M314.0 328.2h1.0M290.3 326.1h1.0M319.3 328.0h1.0M250.2 326.4h1.0M274.9 328.1h1.0M270.7 328.6h1.0M251.2 326.8h1.0M269.4 326.0h1.0M307.8 327.9h1.0M300.4 329.7h1.0M245.3 325.9h1.0M214.7 328.6h1.0M235.3 334.0h1.0M303.6 335.2h1.0M228.8 326.9h1.0M230.7 326.6h1.0M259.2 329.1h1.0M319.3 328.3h1.0M262.0 327.3h1.0M249.9 326.2h1.0M227.9 326.1h1.0M320.2 335.6h1.0M297.5 327.6h1.0M252.4 332.4h1.0M222.8 326.2h1.0M260.3 334.3h1.0M258.9 326.9h1.0M295.7 327.8h1.0M308.9 325.3h1.0M235.2 329.4h1.0M213.1 325.6h1.0M310.7 331.7h1.0M275.9 325.4h1.0M266.0 326.7h1.0M269.4 326.0h1.0M273.7 325.3h1.0M223.1 326.8h1.0M283.7 325.3h1.0M316.7 335.1h1.0M319.7 325.7h1.0M318.3 326.1h1.0M308.6 330.6h1.0M301.2 325.3h1.0M280.7 327.0h1.0M251.8 332.9h1.0M224.3 327.4h1.0M227.6 325.9h1.0M218.7 328.5h1.0M314.5 333.7h1.0M311.5 326.3h1.0M272.7 325.7h1.0M290.5 338.9h1.0M288.1 328.0h1.0M242.1 328.1h1.0M265.7 327.9h1.0M237.7 326.2h1.0M305.3 326.3h1.0M225.8 326.8h1.0M278.4 326.3h1.0M241.4 340.5h1.0M281.0 326.7h1.0M274.3 326.8h1.0M262.9 325.6h1.0M215.5 326.8h1.0M219.1 331.1h1.0M299.3 326.0h1.0M293.0 332.6h1.0M287.9 327.3h1.0M271.4 325.9h1.0M262.6 334.3h1.0M293.7 326.9h1.0M280.6 326.9h1.0M266.4 332.9h1.0M289.7 327.6h1.0M286.4 326.1h1.0M261.9 325.4h1.0M261.9 329.0h1.0M277.0 339.0h1.0M261.0 327.0h1.0M217.1 329.1h1.0M275.3 328.4h1.0M241.9 326.1h1.0M296.8 325.9h1.0M234.8 330.6h1.0M311.8 325.7h1.0M260.1 328.3h1.0M278.1 326.0h1.0M280.8 325.3h1.0M220.3 330.8h1.0M214.2 326.4h1.0M226.2 328.4h1.0M251.3 328.0h1.0M271.5 326.7h1.0M226.8 326.3h1.0M285.0 328.0h1.0M283.3 335.1h1.0M240.9 326.3h1.0M326.0 334.3h1.0M264.9 330.5h1.0M322.2 327.8h1.0M277.2 325.8h1.0M307.0 325.3h1.0M293.1 327.4h1.0M324.7 331.2h1.0M276.0 325.8h1.0M250.7 325.7h1.0M286.3 327.1h1.0M294.6 332.3h1.0M284.3 328.5h1.0M219.2 348.5h1.0M243.4 326.8h1.0M258.2 327.9h1.0M280.0 325.5h1.0M293.8 332.0h1.0M320.9 328.5h1.0M289.4 328.4h1.0M243.7 326.9h1.0M295.3 330.6h1.0M312.0 327.2h1.0M291.0 326.3h1.0M244.7 327.4h1.0M318.7 327.7h1.0M308.4 328.5h1.0M280.3 325.7h1.0M314.8 326.6h1.0M310.1 328.3h1.0M219.7 327.1h1.0M236.8 332.3h1.0M285.5 326.4h1.0M313.8 326.5h1.0M233.3 325.7h1.0M321.1 325.4h1.0M319.9 335.2h1.0M295.1 328.6h1.0M262.4 325.3h1.0M288.6 327.5h1.0M266.8 325.7h1.0M245.1 330.5h1.0M229.0 325.4h1.0M242.9 328.6h1.0M315.2 326.9h1.0M324.6 325.6h1.0M236.7 328.6h1.0M212.3 327.5h1.0M303.4 329.5h1.0M233.2 333.3h1.0M306.1 333.7h1.0M251.2 327.5h1.0M294.0 326.6h1.0M221.5 337.4h1.0M262.2 325.4h1.0M266.1 340.2h1.0M274.8 328.6h1.0M263.4 326.2h1.0M215.7 327.2h1.0M266.6 325.4h1.0M249.1 325.7h1.0M217.7 327.4h1.0M263.5 327.9h1.0M216.6 327.4h1.0M233.4 329.2h1.0M278.2 328.9h1.0M262.1 330.0h1.0M301.0 329.4h1.0M288.1 331.3h1.0M313.3 328.1h1.0M325.3 325.4h1.0M313.3 328.0h1.0M236.3 327.8h1.0M232.8 329.0h1.0M294.9 328.2h1.0M320.3 326.2h1.0M309.7 327.3h1.0M267.3 331.2h1.0M279.8 325.4h1.0M280.7 329.9h1.0M265.4 330.5h1.0M264.1 326.2h1.0M313.5 331.4h1.0M275.5 326.2h1.0M282.4 330.7h1.0M216.5 329.0h1.0M244.9 325.3h1.0M311.0 332.0h1.0M284.1 326.2h1.0M277.8 326.5h1.0M212.4 326.1h1.0M238.7 325.8h1.0M226.5 325.3h1.0M227.4 327.0h1.0M225.8 329.3h1.0M303.8 327.0h1.0M263.5 326.6h1.0M212.1 328.9h1.0M246.9 333.7h1.0M302.8 331.0h1.0M282.8 325.9h1.0M224.2 331.1h1.0M300.6 325.6h1.0M320.3 327.8h1.0M303.8 326.3h1.0M212.8 327.0h1.0M270.4 326.1h1.0M261.3 326.0h1.0M327.0 328.0h1.0M284.3 327.8h1.0M259.4 329.6h1.0M299.3 326.3h1.0M232.4 326.3h1.0M287.4 332.7h1.0M277.9 326.4h1.0M221.6 336.0h1.0M270.8 341.7h1.0M234.7 328.6h1.0M259.0 327.4h1.0M246.4 330.0h1.0M233.8 325.2h1.0M216.3 329.0h1.0M221.4 328.1h1.0M241.6 332.0h1.0M263.1 335.9h1.0M233.9 326.2h1.0M312.2 326.5h1.0M275.5 327.5h1.0M275.4 329.4h1.0M213.9 328.1h1.0M310.9 327.1h1.0M307.1 333.0h1.0M279.5 330.2h1.0M240.2 326.6h1.0M258.7 325.6h1.0M281.0 330.0h1.0M291.7 325.7h1.0M323.0 326.4h1.0M302.9 329.9h1.0M295.5 337.1h1.0M241.8 327.5h1.0M312.2 328.7h1.0M216.4 329.8h1.0M237.2 327.6h1.0M239.7 327.3h1.0M275.9 326.2h1.0M214.2 326.2h1.0M302.8 325.2h1.0M223.7 331.5h1.0M293.4 334.8h1.0M323.0 327.7h1.0M214.5 327.2h1.0M310.9 337.6h1.0M265.8 334.0h1.0M240.5 325.6h1.0M259.9 329.2h1.0M255.8 333.6h1.0M280.2 327.0h1.0M307.3 332.8h1.0M261.1 325.7h1.0M257.0 329.7h1.0M307.0 326.0h1.0M234.1 326.2h1.0M285.8 327.8h1.0M317.2 329.9h1.0M237.5 325.6h1.0M312.2 329.6h1.0M273.2 328.9h1.0M266.3 326.6h1.0M240.5 326.4h1.0M274.8 325.3h1.0M220.1 328.4h1.0M224.6 326.0h1.0M296.5 331.7h1.0M275.1 330.0h1.0M307.6 329.6h1.0M216.4 330.9h1.0M298.3 327.0h1.0M213.7 329.2h1.0M264.9 326.8h1.0M219.0 327.8h1.0M296.8 326.8h1.0M262.3 325.8h1.0M211.4 325.8h1.0M211.1 327.8h1.0M244.9 330.8h1.0M223.0 331.4h1.0M252.4 332.2h1.0M264.8 335.7h1.0M319.0 327.4h1.0M236.5 330.0h1.0M229.3 327.2h1.0M267.5 332.7h1.0M293.5 328.5h1.0M227.9 329.0h1.0M303.8 326.1h1.0M262.0 327.0h1.0M220.1 326.7h1.0M244.8 325.8h1.0M278.4 327.2h1.0M310.2 333.4h1.0M273.9 329.3h1.0M261.6 327.9h1.0M285.4 327.4h1.0M306.6 332.4h1.0M312.5 327.8h1.0M214.2 326.3h1.0M294.9 329.9h1.0M278.4 327.6h1.0M238.9 328.8h1.0M249.7 325.6h1.0M231.9 327.1h1.0M233.2 328.4h1.0M292.3 325.2h1.0M278.2 328.4h1.0M214.0 328.6h1.0M271.1 329.6h1.0M290.4 330.7h1.0M265.3 333.3h1.0M274.3 327.2h1.0M292.5 341.6h1.0M285.0 329.2h1.0M276.5 326.9h1.0M223.5 331.4h1.0M249.1 326.4h1.0M247.4 325.5h1.0M241.8 327.2h1.0M258.8 327.3h1.0M246.5 325.3h1.0M280.5 327.3h1.0M323.8 335.3h1.0M292.0 325.4h1.0M302.3 328.4h1.0M242.7 325.4h1.0M233.7 325.5h1.0M261.8 328.4h1.0M269.6 329.2h1.0M263.3 330.7h1.0M319.0 327.0h1.0M316.7 333.3h1.0M318.5 330.8h1.0M214.0 326.0h1.0M279.6 326.1h1.0M317.5 325.5h1.0M317.3 333.1h1.0M326.5 328.1h1.0M226.0 327.1h1.0M319.2 327.1h1.0M275.8 330.1h1.0M267.2 328.2h1.0M319.3 327.5h1.0M306.7 325.7h1.0M283.5 326.8h1.0M253.2 325.3h1.0M303.2 326.6h1.0M281.3 325.9h1.0M283.2 326.2h1.0M325.4 338.1h1.0M251.4 327.8h1.0M220.6 326.3h1.0M216.2 325.7h1.0M291.5 328.6h1.0M264.0 329.6h1.0M291.4 326.4h1.0M259.2 331.2h1.0M273.6 327.2h1.0M257.3 330.5h1.0M267.8 330.6h1.0M240.8 325.3h1.0M293.7 345.8h1.0M281.2 326.1h1.0M326.0 334.1h1.0M215.9 329.0h1.0M218.4 332.9h1.0M261.3 329.2h1.0M214.8 326.5h1.0M273.4 327.2h1.0M271.2 326.8h1.0M240.2 329.0h1.0M312.9 330.1h1.0M282.1 326.9h1.0M298.4 326.7h1.0M239.4 328.6h1.0M284.7 327.9h1.0M226.5 326.3h1.0M295.1 334.7h1.0M221.7 325.8h1.0M312.4 328.1h1.0M257.4 326.7h1.0M239.9 329.1h1.0M319.1 326.1h1.0M269.4 329.3h1.0M246.0 328.2h1.0M223.5 325.7h1.0M222.6 327.4h1.0M319.4 326.6h1.0M249.8 325.6h1.0M293.4 325.9h1.0M228.5 326.3h1.0M315.9 327.3h1.0M277.0 333.3h1.0M252.2 325.4h1.0M212.4 326.3h1.0M319.9 329.6h1.0M219.4 325.6h1.0M309.6 326.3h1.0M308.5 327.8h1.0M270.4 333.3h1.0M218.1 331.5h1.0M298.1 330.3h1.0M237.2 327.2h1.0M281.0 325.5h1.0M225.0 331.3h1.0M309.0 325.9h1.0M296.3 325.8h1.0M319.8 332.8h1.0M233.6 328.9h1.0M286.0 328.8h1.0M252.1 326.2h1.0M236.2 327.1h1.0M318.0 328.2h1.0M244.6 329.6h1.0M302.3 330.1h1.0M273.9 327.6h1.0M244.8 326.0h1.0M287.0 325.3h1.0M252.3 328.8h1.0M270.8 328.7h1.0M239.9 326.2h1.0M269.5 326.3h1.0M269.9 328.8h1.0M227.6 326.1h1.0M231.7 328.9h1.0M286.7 331.9h1.0M278.7 327.4h1.0M258.5 325.7h1.0M266.6 327.6h1.0M272.2 325.3h1.0M279.1 330.1h1.0M231.2 325.6h1.0M273.3 327.4h1.0M226.9 325.9h1.0M233.4 327.4h1.0M214.0 326.8h1.0M269.8 327.3h1.0M256.6 327.0h1.0M309.6 327.3h1.0M284.9 327.7h1.0M226.4 328.7h1.0M212.1 328.3h1.0M277.6 327.6h1.0M282.2 326.4h1.0M300.8 326.2h1.0M297.6 326.9h1.0M238.4 328.6h1.0M242.6 326.7h1.0M259.4 327.4h1.0M288.1 331.4h1.0M235.2 326.5h1.0M303.1 326.4h1.0M229.3 338.9h1.0M235.7 325.4h1.0M303.9 326.1h1.0M219.1 326.5h1.0M322.1 326.4h1.0M316.0 327.4h1.0M307.4 326.8h1.0M236.5 325.7h1.0M217.9 329.4h1.0M280.7 326.3h1.0M273.0 326.8h1.0M300.3 326.3h1.0M289.8 330.3h1.0M247.0 327.3h1.0M277.0 325.5h1.0M269.1 326.8h1.0M246.7 325.4h1.0M211.9 325.4h1.0M314.7 325.9h1.0M258.5 327.0h1.0M301.3 332.3h1.0M216.9 329.3h1.0M247.5 331.6h1.0M219.8 329.0h1.0M216.2 329.6h1.0M253.4 325.4h1.0M224.1 327.7h1.0M303.0 326.2h1.0M278.9 328.7h1.0M243.7 327.8h1.0M299.1 325.4h1.0M247.4 326.7h1.0M293.8 336.3h1.0M225.7 327.5h1.0M236.3 329.1h1.0M215.6 325.6h1.0M318.7 329.5h1.0M268.4 327.6h1.0M244.8 334.1h1.0M276.0 325.2h1.0M314.7 332.5h1.0M221.7 329.6h1.0M263.3 326.1h1.0M322.6 330.7h1.0M220.1 327.2h1.0M272.4 325.6h1.0M221.6 325.4h1.0M231.2 326.9h1.0M232.7 326.5h1.0M252.7 326.5h1.0M265.5 326.1h1.0M235.5 329.1h1.0M292.3 326.2h1.0M292.3 326.6h1.0M280.3 326.6h1.0M307.0 325.8h1.0M217.4 332.9h1.0M261.6 326.3h1.0M239.3 327.5h1.0M221.9 331.2h1.0M318.9 328.2h1.0M296.5 335.0h1.0M322.9 341.6h1.0M299.9 329.9h1.0M216.6 326.4h1.0M248.1 326.1h1.0M251.6 327.8h1.0M296.2 326.1h1.0M251.6 328.1h1.0M299.6 329.3h1.0M279.0 327.0h1.0M293.3 327.7h1.0M261.6 325.8h1.0M225.2 326.5h1.0M274.3 329.3h1.0M315.6 327.4h1.0M284.8 327.5h1.0M241.2 325.4h1.0M230.7 330.1h1.0M237.3 327.4h1.0M241.3 325.7h1.0M316.4 328.7h1.0M272.9 327.6h1.0M274.3 327.0h1.0M212.5 326.1h1.0M261.8 326.0h1.0M250.3 326.4h1.0M252.5 331.0h1.0M211.4 332.0h1.0M246.1 325.7h1.0M266.9 332.3h1.0M251.6 325.5h1.0M239.7 325.2h1.0M278.6 327.5h1.0M284.4 326.3h1.0M211.2 325.3h1.0M213.2 326.1h1.0M237.7 327.1h1.0M227.5 325.7h1.0M287.1 326.8h1.0M261.1 326.7h1.0M297.6 330.7h1.0M291.8 326.7h1.0M225.5 327.1h1.0M237.9 326.1h1.0M268.6 331.6h1.0M270.3 329.0h1.0M310.0 327.7h1.0M235.5 327.6h1.0M320.4 326.1h1.0M325.0 327.7h1.0M285.7 325.7h1.0M217.7 328.8h1.0M277.4 325.2h1.0M258.3 328.1h1.0M319.9 325.3h1.0M325.8 337.3h1.0M290.3 326.4h1.0M274.8 325.4h1.0M292.7 327.0h1.0M265.8 330.2h1.0M229.1 326.2h1.0M234.3 327.5h1.0M260.4 330.5h1.0M250.4 326.9h1.0M314.8 328.8h1.0M315.4 325.9h1.0M289.1 328.7h1.0M212.7 325.2h1.0M292.9 327.3h1.0M272.0 325.9h1.0M229.4 328.8h1.0M239.9 329.8h1.0M302.2 333.3h1.0M211.8 328.5h1.0M264.2 325.7h1.0M273.2 326.0h1.0M316.8 330.0h1.0M316.9 328.0h1.0M264.4 325.5h1.0M241.4 327.7h1.0M241.4 327.1h1.0M288.5 326.4h1.0M291.9 327.5h1.0M286.3 325.7h1.0M268.1 330.5h1.0M316.0 327.1h1.0M275.8 326.2h1.0M219.6 325.4h1.0M243.0 327.4h1.0M215.4 325.4h1.0M212.4 328.5h1.0M291.5 326.4h1.0M295.3 333.9h1.0M237.6 326.0h1.0M302.7 335.1h1.0M224.1 326.9h1.0M227.8 325.4h1.0M280.8 327.9h1.0M281.2 326.6h1.0M224.3 328.1h1.0M303.9 328.5h1.0M244.8 327.0h1.0M212.6 326.9h1.0M227.6 325.7h1.0M266.3 325.4h1.0M303.5 328.5h1.0M257.7 329.9h1.0M301.3 340.3h1.0M267.4 327.1h1.0M304.0 328.0h1.0M281.7 325.5h1.0M315.0 331.1h1.0M223.0 328.5h1.0M226.3 333.3h1.0M224.8 325.9h1.0M214.2 327.6h1.0M253.5 330.4h1.0M320.8 328.4h1.0M323.7 329.9h1.0M226.3 325.7h1.0M267.6 327.9h1.0M242.3 325.6h1.0M258.5 334.2h1.0M244.8 328.0h1.0M320.9 331.3h1.0M211.3 327.9h1.0M265.2 326.9h1.0M232.1 326.8h1.0M222.0 332.7h1.0M318.9 327.1h1.0M287.6 332.1h1.0M263.6 325.6h1.0M319.8 325.4h1.0M229.9 327.4h1.0M220.3 335.1h1.0M240.8 329.8h1.0M281.1 326.4h1.0M317.7 331.5h1.0M299.8 325.4h1.0M296.7 328.1h1.0M236.8 326.7h1.0M272.4 327.1h1.0M319.3 327.7h1.0M307.8 328.0h1.0M238.9 326.2h1.0M320.2 328.4h1.0M295.8 327.0h1.0M303.7 326.4h1.0M319.4 326.3h1.0M297.8 330.7h1.0M235.2 325.8h1.0M273.7 327.0h1.0M251.8 328.4h1.0M293.5 325.2h1.0M219.4 328.0h1.0M236.3 327.1h1.0M252.2 326.1h1.0M283.6 327.4h1.0M306.7 329.1h1.0M219.6 330.3h1.0M252.0 325.9h1.0M288.3 330.0h1.0M241.9 326.1h1.0M317.8 332.8h1.0M263.9 326.6h1.0M276.3 326.3h1.0M275.6 326.8h1.0M315.8 333.5h1.0M226.3 327.0h1.0M278.7 330.1h1.0M268.6 332.2h1.0M292.6 333.7h1.0M302.3 325.3h1.0M279.7 325.9h1.0M302.5 326.1h1.0M304.6 328.3h1.0M272.6 325.4h1.0M317.1 326.0h1.0M272.2 330.0h1.0M238.5 338.9h1.0M236.5 326.1h1.0M305.3 333.8h1.0M239.0 325.6h1.0M259.4 337.9h1.0M287.0 327.7h1.0M226.6 326.9h1.0M212.2 327.6h1.0M270.3 325.8h1.0M309.3 332.6h1.0M253.5 331.4h1.0M315.2 334.7h1.0M236.7 328.7h1.0M326.8 329.1h1.0M298.5 329.6h1.0M287.9 326.5h1.0M298.8 328.3h1.0M316.7 340.0h1.0M304.8 328.3h1.0M303.4 330.0h1.0M309.9 332.9h1.0M211.8 320.5h1.0M221.0 337.1h1.0M267.7 291.7h1.0M250.0 301.1h1.0M301.0 307.3h1.0M315.1 312.5h1.0M215.1 307.0h1.0M290.2 341.9h1.0M312.1 338.2h1.0M243.6 349.4h1.0M266.0 302.8h1.0M281.6 298.3h1.0M324.6 351.2h1.0M283.7 354.7h1.0M254.2 315.4h1.0M253.8 306.2h1.0M254.2 313.1h1.0M255.3 306.9h1.0" stroke="#000" stroke-width="1.0" fill="none" opacity="1"/>
<path d="M295.1 315.7h0.9M259.1 316.9h0.9M225.2 315.0h0.9M219.4 318.8h0.9M218.6 314.2h0.9M263.9 312.1h0.9M321.0 311.0h0.9M211.7 313.6h0.9M275.1 322.0h0.9M276.9 316.3h0.9M268.6 309.4h0.9M275.8 320.2h0.9M224.0 322.2h0.9M270.0 310.0h0.9M211.7 316.5h0.9M290.8 320.1h0.9M244.6 307.8h0.9M272.2 322.7h0.9M261.5 312.0h0.9M294.1 314.3h0.9M278.3 324.6h0.9M234.0 310.0h0.9M229.7 313.7h0.9M279.2 325.1h0.9M276.6 311.0h0.9M282.6 317.2h0.9M303.7 320.7h0.9M307.9 322.5h0.9M266.1 312.2h0.9M236.9 309.2h0.9M246.9 316.8h0.9M320.0 309.5h0.9M218.7 312.4h0.9M313.5 317.2h0.9M269.1 310.4h0.9" stroke="#fff" stroke-width="0.9" fill="none" opacity="0.8"/>
<line x1="210.60" y1="318.30" x2="328.20" y2="318.30" stroke="#e8e8e8" stroke-width="1.0" />
<rect x="210.60" y="369.70" width="43.00" height="3.60" fill="#000" />
<rect x="256.40" y="369.70" width="71.80" height="3.60" fill="#000" />
<rect x="210.60" y="406.60" width="43.00" height="6.20" fill="#000" />
<path d="M301.3 375.0h1.0M316.2 372.7h1.0M232.2 373.1h1.0M298.8 373.2h1.0M304.6 374.1h1.0M248.6 375.7h1.0M241.6 372.7h1.0M282.7 372.8h1.0M213.1 372.6h1.0M234.3 373.0h1.0M219.4 373.5h1.0M319.8 378.6h1.0M244.9 373.8h1.0M293.6 373.0h1.0M250.6 373.5h1.0M226.8 374.6h1.0M283.6 375.1h1.0M268.7 373.8h1.0M213.2 372.8h1.0M252.5 373.8h1.0M299.5 375.4h1.0M265.0 376.4h1.0M279.6 372.7h1.0M229.3 373.3h1.0M305.7 372.6h1.0M294.4 378.1h1.0M247.4 372.5h1.0M250.0 375.6h1.0M308.5 374.3h1.0M238.7 378.8h1.0M326.5 372.6h1.0M227.0 374.2h1.0M243.9 373.0h1.0M284.1 374.3h1.0M278.2 373.2h1.0M304.8 372.5h1.0M224.5 372.6h1.0M292.2 372.6h1.0M308.7 373.8h1.0M244.0 372.7h1.0M233.2 372.9h1.0M231.5 374.3h1.0M232.7 373.0h1.0M296.7 372.7h1.0M268.4 375.8h1.0M298.4 373.5h1.0M212.4 373.7h1.0M278.8 373.4h1.0M221.8 374.7h1.0M269.4 373.5h1.0M220.9 374.7h1.0M306.5 375.4h1.0M310.0 372.6h1.0M305.5 373.9h1.0M265.1 375.7h1.0M284.0 378.8h1.0M250.4 373.1h1.0M247.7 372.6h1.0M300.6 373.3h1.0M239.9 373.7h1.0M302.5 373.0h1.0M233.4 372.7h1.0M261.4 374.8h1.0M242.9 372.6h1.0M233.2 373.7h1.0M277.7 372.7h1.0M220.7 380.2h1.0M225.2 374.2h1.0M307.2 374.2h1.0M221.7 373.4h1.0M302.8 372.8h1.0M315.7 375.1h1.0M234.0 372.7h1.0M318.4 373.0h1.0M314.1 375.9h1.0M295.3 374.0h1.0M218.4 373.3h1.0M247.7 372.9h1.0M325.7 372.9h1.0M296.0 376.2h1.0M286.6 373.2h1.0M298.9 373.4h1.0M231.0 377.0h1.0M306.6 375.7h1.0M267.9 373.1h1.0M257.7 372.9h1.0M325.3 372.7h1.0M325.4 372.8h1.0M236.4 372.7h1.0M268.2 376.1h1.0M269.0 374.2h1.0M274.7 373.8h1.0M274.1 373.9h1.0M267.0 373.3h1.0M304.3 372.6h1.0M282.8 373.1h1.0M234.9 372.7h1.0M270.3 373.7h1.0M326.5 374.7h1.0M212.0 376.4h1.0M273.1 374.6h1.0M249.1 374.1h1.0M218.3 373.9h1.0M272.7 374.2h1.0M316.9 378.2h1.0M314.0 376.2h1.0M263.8 372.7h1.0M235.5 373.5h1.0M309.0 375.1h1.0M240.4 373.2h1.0M286.3 388.8h1.0M236.6 375.8h1.0M313.2 372.5h1.0M243.6 376.3h1.0M250.3 373.7h1.0M287.4 372.5h1.0M310.4 374.4h1.0M253.0 373.1h1.0M271.7 376.0h1.0M320.6 373.4h1.0M284.3 375.8h1.0M272.3 374.1h1.0M310.4 373.8h1.0M264.7 375.5h1.0M307.6 376.8h1.0M254.8 374.2h1.0M251.9 372.7h1.0M322.9 377.4h1.0M308.0 373.1h1.0M244.9 373.9h1.0M232.2 373.8h1.0M303.4 372.6h1.0M224.6 379.6h1.0M277.7 372.7h1.0M232.6 376.4h1.0M271.5 375.1h1.0M292.3 374.4h1.0M216.0 375.8h1.0M251.6 374.2h1.0M240.8 372.6h1.0M305.7 373.5h1.0M293.6 374.0h1.0M242.0 374.1h1.0M285.3 375.2h1.0M219.4 377.5h1.0M217.7 375.0h1.0M290.7 375.1h1.0M267.8 379.9h1.0M252.1 372.8h1.0M239.9 372.5h1.0M278.4 373.1h1.0M317.9 372.9h1.0M241.0 373.7h1.0M223.4 372.6h1.0M283.4 373.9h1.0M220.1 373.0h1.0M236.5 373.0h1.0M218.2 373.3h1.0M220.3 374.4h1.0M297.6 374.0h1.0M233.2 374.4h1.0M317.7 373.0h1.0M245.6 373.1h1.0M251.2 374.0h1.0M294.6 373.1h1.0M296.8 375.7h1.0M225.9 372.5h1.0M269.9 373.8h1.0M227.8 373.3h1.0M299.3 372.5h1.0M230.7 373.4h1.0M320.6 373.4h1.0M294.5 376.9h1.0M248.6 372.8h1.0M304.6 373.3h1.0M219.6 372.9h1.0M253.1 374.0h1.0M324.8 374.4h1.0M215.7 374.5h1.0M293.3 376.1h1.0M246.9 373.5h1.0M258.1 373.7h1.0M303.9 376.6h1.0M289.8 374.8h1.0M300.4 373.3h1.0M297.2 373.1h1.0M323.0 375.3h1.0M252.5 373.0h1.0M267.3 373.2h1.0M286.3 373.9h1.0M238.3 374.2h1.0M217.3 377.3h1.0M317.0 373.0h1.0M324.6 372.6h1.0M242.6 374.3h1.0M239.9 374.0h1.0M304.4 372.5h1.0M222.6 373.7h1.0M229.4 373.6h1.0M237.1 373.9h1.0M251.2 373.1h1.0M214.6 373.8h1.0M229.5 376.2h1.0M282.1 374.1h1.0M244.2 373.8h1.0M220.9 373.0h1.0M232.0 373.3h1.0M310.1 373.0h1.0M266.5 373.1h1.0M278.5 375.4h1.0M324.7 374.4h1.0M281.0 375.4h1.0M231.1 374.3h1.0M261.7 373.0h1.0M282.8 374.3h1.0M296.9 373.1h1.0M249.6 373.5h1.0M212.4 373.4h1.0M252.8 374.8h1.0M281.2 372.6h1.0M217.8 373.6h1.0M246.8 374.7h1.0M236.4 379.5h1.0M262.7 374.3h1.0M317.2 373.0h1.0M217.7 373.7h1.0M244.6 373.0h1.0M212.6 373.2h1.0M322.8 374.5h1.0M227.1 373.2h1.0M244.0 376.3h1.0M308.0 376.1h1.0M297.1 372.8h1.0M280.2 374.4h1.0M303.5 372.6h1.0M216.8 372.5h1.0M285.2 376.2h1.0M261.6 374.4h1.0M323.5 373.1h1.0M221.0 372.6h1.0M297.5 375.1h1.0M266.7 375.0h1.0M286.0 375.7h1.0M228.7 372.7h1.0M286.2 372.8h1.0M248.3 378.0h1.0M301.9 373.6h1.0M323.4 374.5h1.0M258.7 374.8h1.0M276.9 377.9h1.0M232.2 372.9h1.0M299.9 378.1h1.0M277.9 373.1h1.0M229.1 375.3h1.0M256.6 372.6h1.0M219.9 374.8h1.0M244.5 373.0h1.0M213.1 375.4h1.0M325.6 373.8h1.0M243.8 375.4h1.0M264.8 373.5h1.0M225.0 373.6h1.0M214.1 372.9h1.0M226.0 372.6h1.0M325.5 372.9h1.0M250.5 376.9h1.0M295.4 372.5h1.0M244.7 374.5h1.0M300.9 373.1h1.0M244.3 374.2h1.0M323.6 372.9h1.0M280.8 373.6h1.0M243.7 373.5h1.0M242.0 380.1h1.0M224.4 375.5h1.0M239.8 379.5h1.0M290.5 372.9h1.0M317.5 372.6h1.0M281.0 373.4h1.0M318.4 376.5h1.0M238.9 375.5h1.0M282.5 373.5h1.0M281.0 373.8h1.0M242.9 373.2h1.0M239.6 375.2h1.0M245.4 372.7h1.0M213.1 372.9h1.0M291.7 374.1h1.0M318.3 377.7h1.0M232.4 372.5h1.0M318.6 372.7h1.0M282.6 377.0h1.0M287.8 373.7h1.0M222.7 372.6h1.0M269.3 373.9h1.0M226.0 372.8h1.0M290.2 374.6h1.0M273.4 373.3h1.0M273.2 377.1h1.0M242.4 373.1h1.0M269.7 374.1h1.0M293.2 373.4h1.0M312.6 373.8h1.0M319.3 373.4h1.0M290.3 374.8h1.0M286.7 373.2h1.0M242.0 372.6h1.0M220.9 373.4h1.0M214.2 372.5h1.0M308.3 373.2h1.0M252.3 375.5h1.0M251.7 374.9h1.0M301.6 373.1h1.0M292.7 373.5h1.0M237.8 373.4h1.0M277.0 372.9h1.0M279.2 374.3h1.0M262.3 377.3h1.0M319.8 373.3h1.0M244.7 378.0h1.0M284.8 375.9h1.0M320.2 373.5h1.0M225.4 378.2h1.0M272.2 372.7h1.0M258.2 376.1h1.0M263.0 372.8h1.0M325.8 373.0h1.0M290.0 373.5h1.0M232.4 372.6h1.0M321.0 373.1h1.0M312.8 372.6h1.0M220.5 372.9h1.0M304.7 375.4h1.0M267.5 373.4h1.0M215.1 373.1h1.0M309.0 374.4h1.0M326.0 372.9h1.0M315.1 372.7h1.0M270.8 372.7h1.0M215.6 376.0h1.0M268.4 372.7h1.0M272.4 376.7h1.0M280.1 376.9h1.0M288.8 376.2h1.0M324.6 372.6h1.0M274.6 372.8h1.0M296.2 373.6h1.0M277.6 374.9h1.0M318.0 372.7h1.0M232.6 372.6h1.0M308.1 372.5h1.0M229.8 372.7h1.0M318.6 378.7h1.0M247.3 375.3h1.0M250.1 375.1h1.0M270.9 374.9h1.0M285.3 373.1h1.0M274.6 372.8h1.0M326.3 372.8h1.0M241.0 373.1h1.0M248.1 372.8h1.0M253.3 372.6h1.0M308.2 373.1h1.0M221.2 375.1h1.0M221.8 373.9h1.0M237.8 373.4h1.0M287.2 373.4h1.0M275.0 375.0h1.0M285.9 373.8h1.0M303.2 372.6h1.0M244.2 373.3h1.0M224.1 376.4h1.0M309.6 373.2h1.0M224.4 374.0h1.0M261.6 372.6h1.0M226.6 372.5h1.0M319.1 374.8h1.0M310.7 372.9h1.0M244.7 372.8h1.0M285.1 373.2h1.0M258.8 376.8h1.0M222.7 380.0h1.0M227.9 374.8h1.0M293.8 373.2h1.0M234.2 374.7h1.0M243.9 374.2h1.0M265.3 373.4h1.0M269.3 373.9h1.0M263.0 374.0h1.0M310.7 372.8h1.0M244.0 372.6h1.0M253.6 373.3h1.0M228.1 378.2h1.0M232.6 372.6h1.0M283.3 375.4h1.0M246.7 372.7h1.0M234.7 380.4h1.0M282.1 374.2h1.0M322.3 374.1h1.0M284.7 372.9h1.0M258.8 375.6h1.0M314.8 372.9h1.0M249.2 372.6h1.0M312.9 375.1h1.0M216.3 372.6h1.0M271.2 372.9h1.0M320.9 374.0h1.0M268.8 373.6h1.0M258.2 372.6h1.0M303.4 372.8h1.0M232.7 374.6h1.0M217.2 374.3h1.0M316.9 373.4h1.0M226.2 373.4h1.0M317.4 373.4h1.0M276.4 379.6h1.0M272.5 373.9h1.0M230.8 378.7h1.0M264.6 379.2h1.0M282.5 374.5h1.0M212.5 374.8h1.0M298.3 375.6h1.0M281.5 373.4h1.0M308.1 372.8h1.0M265.3 373.6h1.0M315.3 373.0h1.0M301.3 374.2h1.0M250.0 373.1h1.0M310.4 373.1h1.0M246.1 374.5h1.0M258.5 372.7h1.0M236.5 375.6h1.0M263.1 374.3h1.0M213.8 374.7h1.0M274.9 373.9h1.0M232.9 373.4h1.0M219.3 372.8h1.0M291.9 375.2h1.0M276.5 373.5h1.0M272.3 375.1h1.0M233.0 374.2h1.0M311.4 372.9h1.0M213.5 375.7h1.0M222.3 375.7h1.0M257.6 372.9h1.0M239.6 377.1h1.0M257.6 376.8h1.0M317.4 374.5h1.0M320.7 372.8h1.0M236.6 372.9h1.0M235.5 373.2h1.0M250.4 375.7h1.0M246.1 373.0h1.0M222.3 373.6h1.0M291.1 374.7h1.0M222.6 372.7h1.0M258.7 373.2h1.0M223.8 373.1h1.0M307.5 372.9h1.0M250.3 374.2h1.0M225.3 374.3h1.0M294.5 377.3h1.0M236.3 378.5h1.0M243.6 373.1h1.0M266.7 372.6h1.0M228.2 374.4h1.0M243.4 373.3h1.0M279.6 372.6h1.0M262.5 374.6h1.0M223.2 373.3h1.0M281.8 375.7h1.0M287.9 372.7h1.0M284.1 374.6h1.0M260.0 372.5h1.0M272.9 373.8h1.0M249.0 374.0h1.0M314.8 375.5h1.0M264.2 373.4h1.0M294.0 376.6h1.0M291.0 373.3h1.0M261.9 376.2h1.0M229.3 381.9h1.0M262.3 372.8h1.0M294.5 376.3h1.0M321.0 375.4h1.0M300.0 373.3h1.0M231.8 373.0h1.0M239.3 376.0h1.0M288.2 373.2h1.0M243.4 372.7h1.0M249.5 375.3h1.0M310.5 372.6h1.0M324.6 372.9h1.0M310.7 374.5h1.0M299.3 376.7h1.0M273.5 376.9h1.0M236.7 374.2h1.0M253.5 372.6h1.0M243.2 377.3h1.0M276.9 373.9h1.0M234.5 374.2h1.0M314.5 373.1h1.0M321.1 373.0h1.0M290.0 372.8h1.0M292.3 375.6h1.0M215.9 373.7h1.0M318.2 373.2h1.0M264.6 381.3h1.0M214.1 375.0h1.0M262.7 373.2h1.0M325.3 376.6h1.0M256.6 374.9h1.0M277.2 373.1h1.0M260.5 373.8h1.0M323.8 372.9h1.0M300.3 375.5h1.0M271.5 372.9h1.0M237.6 373.0h1.0M233.8 373.8h1.0M243.4 373.0h1.0M316.6 372.6h1.0M247.8 375.0h1.0M301.3 375.0h1.0M313.7 373.3h1.0M287.5 372.9h1.0M267.6 377.0h1.0M304.8 372.9h1.0M319.1 374.9h1.0M287.6 375.9h1.0M292.9 373.3h1.0M307.0 376.7h1.0M215.5 373.3h1.0M252.5 372.9h1.0M299.7 374.2h1.0M265.4 372.7h1.0M269.5 372.6h1.0M242.2 374.0h1.0M304.9 374.1h1.0M299.3 375.0h1.0M218.5 374.4h1.0M243.9 372.7h1.0M259.2 373.7h1.0M262.5 375.4h1.0M301.8 373.0h1.0M302.6 374.2h1.0M305.1 374.2h1.0M227.9 375.6h1.0M234.0 372.6h1.0M248.0 373.7h1.0M301.7 374.5h1.0M221.9 374.4h1.0M317.5 374.7h1.0M222.2 373.9h1.0M234.5 372.6h1.0M250.6 375.4h1.0M322.6 375.0h1.0M244.1 373.0h1.0M235.7 372.8h1.0M230.3 375.9h1.0M287.8 373.3h1.0M213.9 373.8h1.0M226.8 373.1h1.0M320.0 373.1h1.0M285.8 372.7h1.0M260.4 373.9h1.0M295.5 375.4h1.0M314.8 373.1h1.0M218.5 372.6h1.0M306.8 375.5h1.0M218.6 376.3h1.0M316.6 374.6h1.0M277.4 372.9h1.0M321.0 374.6h1.0M326.1 373.4h1.0M236.7 373.1h1.0M288.3 372.9h1.0M303.0 372.7h1.0M326.7 372.6h1.0M228.9 373.1h1.0M218.2 376.5h1.0M266.5 373.6h1.0M275.6 374.7h1.0M304.5 372.9h1.0M260.2 373.1h1.0M226.3 373.3h1.0M287.8 372.9h1.0M324.3 373.9h1.0M305.9 373.3h1.0M291.2 386.2h1.0M233.3 373.8h1.0M267.8 372.6h1.0M224.9 375.1h1.0M274.7 373.6h1.0M309.7 373.1h1.0M306.2 373.6h1.0M321.8 373.2h1.0M292.8 376.3h1.0M273.1 375.1h1.0M288.5 375.5h1.0M216.2 376.9h1.0M298.2 373.4h1.0M276.2 373.6h1.0M300.6 373.1h1.0M230.7 375.3h1.0M268.6 374.4h1.0M232.7 374.8h1.0M302.9 375.2h1.0M233.5 375.0h1.0M229.2 374.3h1.0M234.7 373.2h1.0M264.8 373.9h1.0M240.1 374.0h1.0M254.0 374.6h1.0M250.0 372.7h1.0M213.4 375.6h1.0M226.6 373.4h1.0M317.9 374.9h1.0M212.4 375.5h1.0M227.2 373.6h1.0M218.6 374.2h1.0M280.3 373.5h1.0M295.7 373.7h1.0M299.2 372.6h1.0M242.7 375.0h1.0M252.1 374.3h1.0M323.8 372.8h1.0M295.5 376.3h1.0M280.7 375.7h1.0M216.2 373.3h1.0M250.3 375.1h1.0M213.9 372.7h1.0M222.5 373.3h1.0M251.9 374.6h1.0M226.6 372.9h1.0M264.3 374.4h1.0M289.6 373.1h1.0M224.6 373.6h1.0M276.6 372.9h1.0M214.2 373.3h1.0M237.1 378.2h1.0M222.3 374.0h1.0M287.5 374.9h1.0M274.2 375.8h1.0M314.4 372.5h1.0M275.4 374.5h1.0M289.4 372.7h1.0M320.5 376.1h1.0M310.8 373.5h1.0M310.7 376.3h1.0M283.0 373.0h1.0M279.7 372.7h1.0M309.6 374.6h1.0M291.8 372.9h1.0M235.6 377.8h1.0M274.8 374.8h1.0M321.5 372.7h1.0M298.4 375.1h1.0M221.2 374.0h1.0M285.6 375.9h1.0M313.4 372.7h1.0M231.9 375.8h1.0M322.5 379.5h1.0M294.3 376.0h1.0M234.6 373.0h1.0M257.9 373.0h1.0M279.9 377.1h1.0M280.5 373.7h1.0M236.7 374.5h1.0M270.1 373.6h1.0M282.2 373.6h1.0M308.9 373.7h1.0M263.1 375.5h1.0M314.0 376.0h1.0M226.3 373.3h1.0M306.9 372.7h1.0M263.5 374.0h1.0M285.6 373.1h1.0M267.1 374.6h1.0M296.5 373.0h1.0M228.6 372.5h1.0M271.5 377.4h1.0M279.9 372.6h1.0M224.0 373.6h1.0M268.9 375.5h1.0M298.6 375.1h1.0M215.2 373.8h1.0M314.5 378.7h1.0M296.6 379.8h1.0M217.8 373.0h1.0M323.1 374.6h1.0M225.9 384.4h1.0M226.8 376.4h1.0M314.2 372.6h1.0M318.7 372.8h1.0M267.0 373.6h1.0M248.2 373.1h1.0M246.4 373.3h1.0M242.6 374.2h1.0M304.9 377.2h1.0M253.5 375.9h1.0M251.9 375.5h1.0M312.6 372.9h1.0M286.7 378.1h1.0M289.4 375.1h1.0M278.6 373.2h1.0M255.9 372.7h1.0M229.3 377.8h1.0M254.2 374.2h1.0M211.6 374.9h1.0M292.2 373.9h1.0M264.4 373.1h1.0M302.6 375.7h1.0M320.3 376.0h1.0M222.0 375.1h1.0M230.4 375.6h1.0M311.2 374.5h1.0M281.1 385.8h1.0M214.6 375.7h1.0M225.2 373.1h1.0M216.6 373.7h1.0M242.1 374.1h1.0M294.8 372.6h1.0M227.1 372.8h1.0M297.8 373.7h1.0M261.4 372.8h1.0M286.5 374.4h1.0M294.2 374.1h1.0M302.3 377.5h1.0M312.4 373.9h1.0M314.8 374.4h1.0M289.0 375.2h1.0M322.7 373.6h1.0M263.4 375.4h1.0M273.6 376.3h1.0M222.0 374.7h1.0M303.8 373.0h1.0M234.1 373.4h1.0M219.0 372.8h1.0M295.0 373.0h1.0M250.0 377.3h1.0M311.4 376.3h1.0M312.5 373.2h1.0M221.9 373.0h1.0M214.3 372.5h1.0M281.7 375.1h1.0M313.7 373.6h1.0M306.3 373.2h1.0M252.1 374.8h1.0M304.0 374.2h1.0M223.2 374.8h1.0M322.3 446.1h1.0M279.3 445.8h1.0M259.6 444.5h1.0M279.9 444.3h1.0M312.7 442.3h1.0M295.1 443.1h1.0M283.9 443.4h1.0M277.2 440.2h1.0M310.8 441.7h1.0M318.0 445.6h1.0M266.9 444.9h1.0M277.5 444.0h1.0M263.0 444.8h1.0M247.8 442.6h1.0M305.4 444.8h1.0M270.5 445.9h1.0M318.8 445.3h1.0M278.6 434.1h1.0M219.9 445.6h1.0M301.1 443.9h1.0M321.9 444.7h1.0M311.8 444.1h1.0M212.1 440.2h1.0M275.0 445.3h1.0M309.0 445.2h1.0M307.4 442.5h1.0M220.0 442.5h1.0M311.7 442.2h1.0M263.0 445.9h1.0M274.0 442.7h1.0M312.0 445.6h1.0M288.3 445.5h1.0M310.9 443.5h1.0M310.1 443.9h1.0M274.2 444.9h1.0M241.0 445.9h1.0M293.8 444.3h1.0M315.4 445.6h1.0M237.5 441.6h1.0M227.4 440.7h1.0M232.6 445.3h1.0M215.5 440.2h1.0M305.4 445.2h1.0M224.6 445.4h1.0M238.4 445.0h1.0M258.7 444.9h1.0M218.6 444.4h1.0M284.6 443.9h1.0M234.4 445.5h1.0M313.6 443.2h1.0M282.7 444.9h1.0M242.6 442.3h1.0M323.0 444.8h1.0M244.2 444.1h1.0M316.7 446.0h1.0M241.4 445.6h1.0M225.6 443.0h1.0M277.7 444.6h1.0M314.5 444.6h1.0M256.8 445.6h1.0M220.1 437.5h1.0M264.5 445.6h1.0M314.7 445.0h1.0M241.1 442.1h1.0M317.7 445.0h1.0M294.3 445.7h1.0M224.9 444.4h1.0M257.6 440.2h1.0M231.6 445.7h1.0M281.5 443.2h1.0M215.1 444.7h1.0M273.2 444.2h1.0M212.7 444.2h1.0M321.2 440.5h1.0M310.6 442.9h1.0M285.4 441.1h1.0M242.1 444.3h1.0M233.3 441.3h1.0M285.3 443.5h1.0M245.3 444.9h1.0M314.3 444.4h1.0M241.8 441.6h1.0M297.7 445.1h1.0M269.0 443.3h1.0M216.8 445.6h1.0M289.3 445.2h1.0M258.2 444.4h1.0M235.9 446.0h1.0M326.0 443.7h1.0M261.8 434.9h1.0M290.6 445.4h1.0M325.2 443.3h1.0M319.9 445.4h1.0M215.2 446.0h1.0M221.1 445.6h1.0M213.4 445.9h1.0M280.7 445.0h1.0M238.0 443.9h1.0M312.7 443.0h1.0M305.1 445.1h1.0M287.3 446.1h1.0M265.8 444.7h1.0M232.3 444.0h1.0M309.2 444.8h1.0M285.4 444.0h1.0M301.0 444.5h1.0M318.2 444.2h1.0M305.6 442.8h1.0M316.0 445.9h1.0M314.0 442.1h1.0M289.6 446.0h1.0M214.4 444.4h1.0M310.6 443.0h1.0M268.4 444.2h1.0M283.4 446.1h1.0M280.2 445.1h1.0M311.9 443.4h1.0M323.3 442.4h1.0M273.4 443.9h1.0M281.0 443.0h1.0M272.4 445.3h1.0M265.8 444.0h1.0M216.5 444.3h1.0M214.4 437.1h1.0M306.3 443.5h1.0M284.2 440.7h1.0M323.5 444.6h1.0M232.6 445.0h1.0M299.8 445.2h1.0M251.5 445.7h1.0M283.9 439.3h1.0M250.5 444.9h1.0M218.1 445.9h1.0M313.2 444.4h1.0M292.0 444.2h1.0M284.9 445.9h1.0M234.4 444.0h1.0M294.4 443.7h1.0M239.1 443.8h1.0M280.3 445.5h1.0M273.2 441.0h1.0M216.1 444.8h1.0M317.0 444.3h1.0M289.9 444.4h1.0M324.2 444.6h1.0M323.3 442.8h1.0M319.7 445.1h1.0M310.5 443.7h1.0M295.2 446.0h1.0M231.8 444.8h1.0M233.7 446.0h1.0M246.6 444.8h1.0M220.5 442.7h1.0M292.4 437.3h1.0M303.3 442.8h1.0M261.5 445.0h1.0M245.5 443.2h1.0M324.6 444.3h1.0M257.1 445.6h1.0M289.8 445.4h1.0M277.8 444.6h1.0M233.5 444.0h1.0M312.6 445.4h1.0M285.4 442.3h1.0M280.2 445.5h1.0M243.3 445.5h1.0M272.1 445.4h1.0M285.6 445.6h1.0M218.4 445.8h1.0M245.1 445.6h1.0M215.9 443.7h1.0M263.9 445.8h1.0M279.4 446.0h1.0M222.5 445.3h1.0M286.9 445.3h1.0M250.8 444.3h1.0M245.1 441.3h1.0M292.2 439.0h1.0M215.1 443.6h1.0M226.8 445.7h1.0M268.6 443.4h1.0M307.0 445.2h1.0M271.3 444.8h1.0M244.6 444.4h1.0M249.5 444.8h1.0M325.2 437.7h1.0M284.8 444.5h1.0M218.3 444.4h1.0M286.6 444.9h1.0M319.3 445.8h1.0M225.7 444.7h1.0M252.2 442.7h1.0M217.9 439.0h1.0M216.5 444.4h1.0M269.1 443.4h1.0M295.4 442.0h1.0M261.9 444.0h1.0M279.3 443.8h1.0M299.6 429.9h1.0M232.2 445.0h1.0M303.1 442.3h1.0M315.7 437.2h1.0M241.6 443.9h1.0M297.4 443.7h1.0M265.9 446.0h1.0M234.4 445.9h1.0M302.4 445.1h1.0M270.5 442.0h1.0M229.6 444.9h1.0M287.0 445.7h1.0M301.5 441.3h1.0M263.5 445.8h1.0M262.0 444.7h1.0M242.3 443.9h1.0M220.3 446.0h1.0M302.0 431.4h1.0M230.0 441.4h1.0M283.2 443.6h1.0M232.8 445.7h1.0M319.1 445.7h1.0M231.1 443.2h1.0M247.1 443.8h1.0M217.2 441.2h1.0M309.0 445.0h1.0M216.3 445.7h1.0M314.5 444.5h1.0M248.9 445.5h1.0M302.4 445.9h1.0M257.9 443.8h1.0M305.8 444.9h1.0M256.0 444.7h1.0M221.2 445.3h1.0M269.1 445.9h1.0M316.0 445.6h1.0M274.5 445.8h1.0M251.1 445.0h1.0M309.2 445.0h1.0M248.3 444.5h1.0M241.8 443.1h1.0M246.7 444.4h1.0M314.1 444.8h1.0M242.2 445.7h1.0M308.0 444.5h1.0M314.7 445.4h1.0M278.8 444.0h1.0M279.7 444.5h1.0M242.6 445.9h1.0M278.2 444.5h1.0M304.4 444.3h1.0M251.6 446.0h1.0M253.6 440.4h1.0M214.1 445.8h1.0M218.2 445.1h1.0M324.5 444.5h1.0M212.2 443.1h1.0M258.7 443.0h1.0M293.7 444.3h1.0M227.1 439.3h1.0M311.5 445.0h1.0M243.3 444.2h1.0M316.4 445.0h1.0M235.8 446.0h1.0M260.8 444.5h1.0M249.2 442.5h1.0M214.9 441.5h1.0M232.6 436.0h1.0M264.7 444.4h1.0M250.1 445.7h1.0M228.8 444.0h1.0M229.4 444.5h1.0M276.6 444.6h1.0M306.6 445.9h1.0M294.3 445.2h1.0M319.4 442.6h1.0M310.3 443.5h1.0M313.8 446.1h1.0M266.4 445.9h1.0M289.4 442.6h1.0M226.4 443.6h1.0M274.2 444.6h1.0M308.8 446.0h1.0M242.4 446.1h1.0M304.2 443.1h1.0M293.8 444.2h1.0M223.9 443.0h1.0M226.7 443.4h1.0M230.6 438.5h1.0M277.6 445.4h1.0M297.9 444.5h1.0M318.1 443.0h1.0M319.8 442.1h1.0M284.3 445.3h1.0M315.2 444.4h1.0M246.5 444.5h1.0M310.5 444.1h1.0M223.9 444.2h1.0M322.1 443.9h1.0M221.0 443.7h1.0M326.5 435.8h1.0M306.9 446.0h1.0M314.8 445.0h1.0M321.7 445.1h1.0M289.1 445.9h1.0M302.4 444.0h1.0M273.8 446.0h1.0M299.6 445.7h1.0M296.9 445.5h1.0M224.1 437.7h1.0M320.7 445.8h1.0M298.7 433.9h1.0M289.0 443.4h1.0M306.3 445.2h1.0M225.9 442.1h1.0M246.3 443.9h1.0M248.3 444.8h1.0M213.8 445.9h1.0M246.4 446.1h1.0M221.3 443.4h1.0M293.3 444.2h1.0M221.1 445.3h1.0M232.6 445.8h1.0M299.4 446.0h1.0M316.5 443.1h1.0M262.1 445.8h1.0M289.0 442.3h1.0M228.4 445.9h1.0M248.7 444.4h1.0M297.0 445.9h1.0M278.9 444.9h1.0M320.3 444.0h1.0M278.0 442.5h1.0M298.8 445.1h1.0M241.8 445.2h1.0M298.4 439.1h1.0M236.8 444.3h1.0M262.4 445.4h1.0M247.6 443.9h1.0M261.0 446.0h1.0M219.0 444.8h1.0M318.4 443.4h1.0M213.3 442.5h1.0M292.6 446.0h1.0M247.4 444.4h1.0M231.5 445.0h1.0M262.3 446.1h1.0M242.7 445.3h1.0M293.3 445.8h1.0M236.1 443.4h1.0M271.2 446.1h1.0M268.2 442.5h1.0M273.0 443.6h1.0M294.3 443.2h1.0M297.1 445.7h1.0M260.5 444.0h1.0M294.3 429.8h1.0M310.2 445.7h1.0M326.6 440.3h1.0M243.0 445.7h1.0M289.4 444.4h1.0M313.7 446.1h1.0M244.5 444.8h1.0M268.3 445.5h1.0M320.2 443.4h1.0M224.5 445.7h1.0M314.2 445.4h1.0M264.6 444.7h1.0M288.3 442.7h1.0M305.1 441.2h1.0M276.6 444.2h1.0M278.3 445.1h1.0M295.3 445.8h1.0M311.3 442.5h1.0M287.5 444.6h1.0M288.1 445.6h1.0M214.2 445.7h1.0M232.3 445.0h1.0M318.6 443.6h1.0M233.3 445.0h1.0M263.3 441.8h1.0M313.1 445.7h1.0M326.7 443.8h1.0M214.2 444.7h1.0M303.8 441.2h1.0M222.5 445.0h1.0M314.8 446.0h1.0M321.5 445.2h1.0M251.0 443.7h1.0M273.0 444.4h1.0M216.1 446.1h1.0M246.1 444.4h1.0M244.0 444.5h1.0M232.0 444.6h1.0M280.8 442.3h1.0M211.5 444.7h1.0M217.5 445.5h1.0M220.3 444.6h1.0M279.1 442.7h1.0M294.9 441.3h1.0M251.7 445.6h1.0M290.0 443.5h1.0M252.8 445.2h1.0M277.3 444.9h1.0M268.0 445.8h1.0M212.3 445.3h1.0M249.2 445.2h1.0M234.3 444.5h1.0M223.2 444.3h1.0M314.2 445.7h1.0M226.7 444.6h1.0M225.1 444.8h1.0M259.0 442.7h1.0M274.2 444.6h1.0M316.8 445.9h1.0M239.6 443.0h1.0M287.7 446.1h1.0M301.8 440.9h1.0M316.2 445.8h1.0M225.1 445.9h1.0M221.5 445.1h1.0M223.1 444.9h1.0M246.5 406.7h1.0M242.5 412.5h1.0M244.4 406.8h1.0M214.1 408.3h1.0M238.2 414.6h1.0M212.0 411.7h1.0M219.4 410.0h1.0M245.8 413.5h1.0M252.6 413.4h1.0M215.5 406.2h1.0M225.9 413.6h1.0M245.0 411.6h1.0M227.4 411.4h1.0M252.8 410.7h1.0M211.5 410.8h1.0M240.7 415.2h1.0M221.9 413.2h1.0M220.9 412.6h1.0M212.1 411.2h1.0M213.1 406.8h1.0M215.9 405.5h1.0M231.5 409.4h1.0M233.4 412.0h1.0M226.2 408.8h1.0M212.2 407.1h1.0M215.9 404.2h1.0M224.1 409.3h1.0M242.1 416.2h1.0M238.3 410.8h1.0M211.8 406.7h1.0M218.5 408.8h1.0M245.3 401.6h1.0M233.5 409.5h1.0M250.6 407.1h1.0M225.7 410.4h1.0M211.4 411.0h1.0M245.0 412.8h1.0M246.1 410.5h1.0M240.1 406.3h1.0M213.1 412.3h1.0M237.8 412.3h1.0M217.0 411.1h1.0M220.7 414.5h1.0M226.6 408.9h1.0M212.3 409.9h1.0M218.3 409.6h1.0M229.4 411.8h1.0M227.6 411.1h1.0M227.9 403.5h1.0M247.7 405.8h1.0M217.4 414.2h1.0M230.4 413.0h1.0M239.5 409.6h1.0M222.4 410.6h1.0M253.1 406.2h1.0M230.3 409.0h1.0M237.5 405.6h1.0M236.9 408.3h1.0M222.0 410.5h1.0M247.1 413.9h1.0M251.3 409.5h1.0M246.2 410.8h1.0M229.4 410.6h1.0M237.6 407.8h1.0M248.0 416.4h1.0M237.0 409.0h1.0M216.0 408.8h1.0M245.9 409.4h1.0M226.9 404.6h1.0M243.2 408.8h1.0M226.8 406.2h1.0M242.8 414.8h1.0M222.8 407.2h1.0M220.7 410.4h1.0M245.9 411.2h1.0M216.1 408.2h1.0M240.1 406.4h1.0M234.2 411.0h1.0M237.4 409.9h1.0M214.2 408.9h1.0M247.9 412.7h1.0M251.9 413.9h1.0M249.1 411.4h1.0M217.2 405.9h1.0M249.5 411.5h1.0M245.1 409.8h1.0M236.8 411.0h1.0M243.0 417.9h1.0M243.3 408.3h1.0M230.2 407.2h1.0M221.1 409.8h1.0M249.5 414.8h1.0M237.8 405.9h1.0M217.9 410.0h1.0M246.0 410.3h1.0M249.3 412.5h1.0M220.8 413.3h1.0M237.7 412.6h1.0M223.8 409.0h1.0M221.0 407.7h1.0M239.5 406.8h1.0M222.6 406.9h1.0M228.5 409.2h1.0M216.3 409.6h1.0M213.9 406.1h1.0M252.0 409.4h1.0M220.5 410.2h1.0M213.8 403.3h1.0M218.3 410.0h1.0M252.0 410.2h1.0M253.0 410.5h1.0M246.7 413.2h1.0M247.1 411.1h1.0M216.2 410.7h1.0M233.1 412.1h1.0M247.3 409.5h1.0M241.3 412.7h1.0M238.6 411.1h1.0M235.8 413.7h1.0M215.6 408.6h1.0M223.2 411.8h1.0M215.6 407.1h1.0M245.6 407.8h1.0M223.2 410.3h1.0M244.0 409.1h1.0M226.3 406.5h1.0M217.1 406.6h1.0M212.5 404.9h1.0M220.7 408.9h1.0M224.1 412.6h1.0M242.0 406.3h1.0M251.6 408.7h1.0M211.4 407.2h1.0M249.8 411.3h1.0M215.3 409.6h1.0M216.2 411.1h1.0M251.6 411.7h1.0M219.7 406.2h1.0M220.6 406.4h1.0M241.9 409.7h1.0M252.2 403.3h1.0M251.3 408.2h1.0M219.4 405.7h1.0M239.1 407.5h1.0M212.1 410.8h1.0M236.5 412.0h1.0M235.4 409.6h1.0M244.6 403.3h1.0M246.3 407.8h1.0M234.2 412.5h1.0M248.8 410.3h1.0M227.9 412.9h1.0M227.3 412.8h1.0M235.0 415.4h1.0M228.0 410.2h1.0M215.6 405.4h1.0M218.5 405.6h1.0M211.2 408.6h1.0M224.7 409.4h1.0M230.6 404.1h1.0M238.8 410.0h1.0M249.0 410.5h1.0M246.9 406.8h1.0M215.9 407.5h1.0M237.2 410.1h1.0M215.9 409.3h1.0M214.7 403.4h1.0M240.9 411.2h1.0M244.5 411.9h1.0M224.6 408.1h1.0M231.5 408.5h1.0M248.6 413.7h1.0M219.7 409.0h1.0M239.1 414.2h1.0M214.2 414.2h1.0M212.6 415.1h1.0M251.5 410.3h1.0M252.9 410.5h1.0M247.1 408.2h1.0M230.2 408.2h1.0M217.3 411.0h1.0M234.5 408.9h1.0M241.9 402.7h1.0M241.4 407.9h1.0M214.0 409.9h1.0M220.1 411.9h1.0M223.5 408.5h1.0M232.7 407.1h1.0M216.9 408.4h1.0M253.2 408.5h1.0M227.5 409.0h1.0M216.4 410.1h1.0M233.1 412.6h1.0M243.8 410.5h1.0M252.7 412.7h1.0M220.0 409.5h1.0M228.1 418.6h1.0M227.3 407.9h1.0M245.5 410.4h1.0M238.5 413.6h1.0M239.3 410.7h1.0M238.5 412.5h1.0M211.6 409.6h1.0M250.8 404.3h1.0M215.8 403.7h1.0M234.1 406.6h1.0M212.7 413.3h1.0M219.5 412.8h1.0M232.5 412.3h1.0M246.3 404.9h1.0M238.2 414.1h1.0M253.2 414.5h1.0M218.3 410.9h1.0M252.5 415.3h1.0M250.8 410.0h1.0M213.8 412.8h1.0M228.6 410.7h1.0M229.4 411.2h1.0M247.8 410.8h1.0M226.3 407.7h1.0M252.4 409.9h1.0M249.8 408.4h1.0M216.7 409.9h1.0M243.5 409.7h1.0M225.0 404.7h1.0M220.7 406.0h1.0M227.8 415.6h1.0M241.8 410.4h1.0M226.2 408.6h1.0M247.0 410.8h1.0M243.1 413.2h1.0M218.0 409.0h1.0M225.6 408.0h1.0M227.4 414.4h1.0M246.3 404.3h1.0M230.6 403.8h1.0M226.7 413.8h1.0M229.5 410.0h1.0M233.5 409.9h1.0M248.5 405.4h1.0M242.6 410.0h1.0M247.2 409.3h1.0M225.8 409.9h1.0M237.8 412.6h1.0M249.6 413.9h1.0M248.9 414.3h1.0M237.4 413.3h1.0M239.7 406.6h1.0M217.5 411.1h1.0M243.8 408.1h1.0M244.0 408.2h1.0M213.6 405.3h1.0M216.4 407.5h1.0M239.9 411.4h1.0M246.5 413.8h1.0M224.1 406.9h1.0M246.1 406.5h1.0M251.6 413.1h1.0M212.8 412.7h1.0M226.6 408.2h1.0M239.7 403.0h1.0M252.5 411.5h1.0M212.2 410.2h1.0M234.6 411.0h1.0M215.3 409.3h1.0M230.0 414.3h1.0M233.4 406.6h1.0M223.4 411.6h1.0M237.8 412.6h1.0M218.1 416.4h1.0M241.7 406.7h1.0M247.8 410.7h1.0M224.3 408.5h1.0M232.9 406.2h1.0M221.8 412.0h1.0M212.0 408.5h1.0M216.2 408.1h1.0M222.3 405.9h1.0M234.2 410.2h1.0M238.5 406.1h1.0M215.2 410.7h1.0M248.7 414.0h1.0M225.0 411.5h1.0M212.1 407.6h1.0M237.3 405.4h1.0M232.9 408.3h1.0M219.6 409.3h1.0M221.9 414.2h1.0M218.1 411.5h1.0M237.1 411.3h1.0M239.2 411.2h1.0M225.5 415.5h1.0M249.0 411.0h1.0M225.6 417.7h1.0M211.4 409.5h1.0M243.3 412.3h1.0M220.4 412.3h1.0M232.6 405.3h1.0M218.2 413.4h1.0M236.6 414.9h1.0M225.9 414.0h1.0M227.8 407.5h1.0M240.2 415.8h1.0M248.8 410.0h1.0M241.9 408.5h1.0M218.8 408.5h1.0M235.4 411.2h1.0M218.9 408.8h1.0M232.1 417.7h1.0M233.4 412.3h1.0M231.4 408.3h1.0M249.6 410.5h1.0M233.4 404.2h1.0M216.3 409.0h1.0M212.8 412.9h1.0M218.7 404.8h1.0M228.9 407.3h1.0M235.0 407.6h1.0M244.2 406.3h1.0M213.7 411.4h1.0M231.2 406.6h1.0M246.2 408.9h1.0M232.7 413.4h1.0M219.1 405.9h1.0M236.4 410.5h1.0M212.6 410.8h1.0M236.3 413.3h1.0M225.4 409.9h1.0M228.9 410.8h1.0M247.9 416.3h1.0M212.6 410.1h1.0M235.3 407.9h1.0M218.5 410.5h1.0M218.9 406.9h1.0M245.2 406.7h1.0M224.5 411.3h1.0M250.5 413.2h1.0M247.0 413.3h1.0M249.7 407.2h1.0M223.7 413.7h1.0M247.5 409.6h1.0M228.9 411.5h1.0M243.1 410.4h1.0M230.2 405.6h1.0M228.1 411.6h1.0M245.1 409.1h1.0M230.5 406.7h1.0M234.2 406.9h1.0M213.4 409.1h1.0M237.0 415.7h1.0M229.1 408.6h1.0M223.6 408.2h1.0M219.6 408.6h1.0M238.8 402.4h1.0M215.4 411.4h1.0M238.6 411.7h1.0M230.2 406.5h1.0M231.1 411.7h1.0M247.9 413.5h1.0M215.5 408.5h1.0M232.7 409.3h1.0M211.7 407.9h1.0M238.4 409.7h1.0M247.4 411.7h1.0M220.0 408.9h1.0M231.0 408.9h1.0M229.8 409.3h1.0M245.8 413.4h1.0M219.1 408.9h1.0M222.6 413.8h1.0M217.6 408.8h1.0M253.2 409.4h1.0M227.3 408.6h1.0M213.9 404.2h1.0M236.4 416.2h1.0M233.9 410.9h1.0M231.1 408.8h1.0M230.7 408.9h1.0M230.0 416.4h1.0M251.8 408.7h1.0M244.4 411.1h1.0M218.8 410.7h1.0M225.7 406.7h1.0M237.7 414.9h1.0M243.6 406.6h1.0M234.4 413.6h1.0M227.6 409.3h1.0M214.4 410.3h1.0M230.4 411.4h1.0M245.6 411.1h1.0M226.3 410.2h1.0M244.8 410.7h1.0M250.1 415.3h1.0M233.1 407.4h1.0M222.8 409.5h1.0M247.9 416.5h1.0M214.0 404.8h1.0M215.6 415.3h1.0M239.2 402.9h1.0M229.7 412.5h1.0M239.6 409.8h1.0M212.1 409.1h1.0M247.7 413.6h1.0M213.8 405.9h1.0M226.2 408.4h1.0M244.2 407.2h1.0M250.6 409.7h1.0M233.5 410.7h1.0M221.9 414.2h1.0M234.8 410.9h1.0M223.4 410.2h1.0M253.2 416.0h1.0M225.1 412.3h1.0M212.8 404.0h1.0M223.4 407.7h1.0M228.1 410.4h1.0M219.8 411.1h1.0M232.5 414.4h1.0M230.9 404.1h1.0M219.0 414.7h1.0M249.8 411.8h1.0M225.3 413.7h1.0M249.9 410.4h1.0M246.3 410.4h1.0M239.9 406.7h1.0M241.3 408.6h1.0M253.0 414.7h1.0M215.7 413.6h1.0M214.0 408.9h1.0M217.9 412.1h1.0M228.2 414.2h1.0M245.4 404.4h1.0M214.8 408.8h1.0M225.1 407.5h1.0M223.4 411.3h1.0M216.4 406.4h1.0M237.7 409.5h1.0M212.3 410.5h1.0M218.3 410.1h1.0M220.5 412.2h1.0M226.7 404.9h1.0M215.9 411.6h1.0M250.0 407.3h1.0M232.6 409.4h1.0M212.6 413.1h1.0M219.2 407.8h1.0M218.3 407.3h1.0M250.9 410.8h1.0M245.2 412.9h1.0M225.9 407.1h1.0M249.1 410.6h1.0M236.0 401.9h1.0M217.4 410.2h1.0M223.9 408.3h1.0M250.5 410.1h1.0M246.8 414.5h1.0M213.5 414.0h1.0M224.1 408.0h1.0M251.3 407.2h1.0M219.5 411.4h1.0M240.8 410.6h1.0M221.6 405.4h1.0M223.0 404.4h1.0M214.6 409.6h1.0M231.8 415.1h1.0M239.2 411.4h1.0M229.1 406.6h1.0M213.6 414.8h1.0M236.8 410.2h1.0M218.9 409.3h1.0M222.3 406.4h1.0M246.4 413.2h1.0M235.5 414.7h1.0M248.1 409.8h1.0M224.0 409.1h1.0M229.0 406.0h1.0M227.2 413.6h1.0M245.7 408.2h1.0M214.8 405.6h1.0M232.9 414.3h1.0M212.6 406.0h1.0M224.0 409.2h1.0M215.0 409.3h1.0M238.6 407.8h1.0M226.8 409.0h1.0M212.5 410.1h1.0M251.7 412.8h1.0M235.0 408.1h1.0M235.5 408.6h1.0M234.7 412.5h1.0M237.2 409.3h1.0M215.9 409.6h1.0M211.3 409.9h1.0M229.4 409.8h1.0M234.3 410.7h1.0M245.4 404.6h1.0M230.7 407.1h1.0M230.5 408.4h1.0M249.4 404.6h1.0M230.0 410.1h1.0M230.5 408.9h1.0M218.1 410.1h1.0M231.8 408.6h1.0M226.3 409.2h1.0M216.1 410.9h1.0M212.2 412.6h1.0M239.1 414.2h1.0M240.8 406.4h1.0M224.7 413.5h1.0M229.5 403.9h1.0M242.8 405.4h1.0M227.3 408.5h1.0M217.4 410.0h1.0M211.7 409.6h1.0M235.1 410.9h1.0M224.1 411.3h1.0M246.7 410.7h1.0M221.5 414.3h1.0M240.3 407.8h1.0M238.5 413.1h1.0M217.0 405.1h1.0M242.6 407.2h1.0M223.2 414.4h1.0M223.3 408.7h1.0M219.2 411.9h1.0M238.9 417.2h1.0M219.0 407.0h1.0M241.0 412.7h1.0M215.3 407.2h1.0M244.9 409.2h1.0M243.4 406.3h1.0M224.2 410.9h1.0M211.3 412.7h1.0M240.2 409.0h1.0M251.4 407.4h1.0M243.1 416.1h1.0M220.0 415.3h1.0M222.8 406.0h1.0M242.8 413.1h1.0M234.7 413.1h1.0M244.0 408.5h1.0M242.0 411.4h1.0M238.2 412.9h1.0M250.5 404.5h1.0M215.6 415.2h1.0M225.4 405.7h1.0M219.5 409.8h1.0M212.5 411.6h1.0M215.0 408.2h1.0M218.2 410.1h1.0M226.1 411.6h1.0M251.6 406.6h1.0M247.8 412.8h1.0M225.3 414.7h1.0M250.6 406.3h1.0M247.9 415.7h1.0M243.9 412.7h1.0M225.5 410.9h1.0M228.1 407.5h1.0M249.6 404.8h1.0M244.9 415.4h1.0M233.6 416.2h1.0M244.9 398.7h1.0M220.1 412.2h1.0M234.1 401.0h1.0M233.1 406.3h1.0M242.1 404.9h1.0M214.8 409.7h1.0M218.1 408.3h1.0M230.8 414.6h1.0M252.1 404.3h1.0M248.6 402.0h1.0M235.7 408.1h1.0M231.8 408.6h1.0M244.3 413.4h1.0M226.7 414.0h1.0M240.0 400.0h1.0M241.5 400.9h1.0M243.0 410.3h1.0M230.2 408.4h1.0M252.4 407.1h1.0M239.9 402.5h1.0M219.9 412.9h1.0M241.3 419.1h1.0M245.8 397.5h1.0M222.0 402.5h1.0M225.7 415.7h1.0M242.2 419.8h1.0M244.5 402.9h1.0M239.8 400.8h1.0M248.4 408.5h1.0M240.0 417.1h1.0M228.3 408.8h1.0M245.0 402.3h1.0M224.0 409.8h1.0M216.5 405.9h1.0M214.6 413.8h1.0M228.4 413.8h1.0M251.2 400.8h1.0M219.8 412.6h1.0M221.6 409.9h1.0M218.4 410.9h1.0M231.1 413.8h1.0M215.2 413.4h1.0M213.2 406.3h1.0M235.1 408.2h1.0M233.8 413.5h1.0M223.7 404.5h1.0M252.8 412.5h1.0M235.4 405.8h1.0M239.0 401.7h1.0M242.7 416.6h1.0M229.6 409.5h1.0M223.8 411.3h1.0M228.4 413.6h1.0M220.7 401.1h1.0M235.8 422.4h1.0M252.3 402.9h1.0M220.1 406.0h1.0M213.1 409.4h1.0M267.5 398.1h1.0M270.3 400.7h1.0M256.6 392.0h1.0M257.7 400.1h1.0M259.8 399.4h1.0M265.2 398.6h1.0M268.7 399.5h1.0M262.0 398.7h1.0M260.4 401.4h1.0M256.5 398.5h1.0M259.8 400.3h1.0M263.5 397.4h1.0M268.9 396.3h1.0M264.9 395.2h1.0M265.2 396.0h1.0M264.6 386.1h1.0M259.8 396.9h1.0M267.3 398.5h1.0M257.2 400.2h1.0M258.5 401.7h1.0M264.7 403.0h1.0M270.0 398.8h1.0M268.2 400.7h1.0M269.0 396.5h1.0M263.5 394.6h1.0M256.7 397.7h1.0M263.0 400.1h1.0M256.5 400.0h1.0M262.8 395.6h1.0M269.1 400.9h1.0M259.1 396.5h1.0M262.6 397.5h1.0M269.1 404.4h1.0M264.3 396.9h1.0M259.9 398.5h1.0M265.1 397.5h1.0M264.6 397.2h1.0M268.9 397.5h1.0M268.1 397.1h1.0M267.0 398.3h1.0M267.7 400.8h1.0M267.4 399.1h1.0M256.6 398.6h1.0M270.6 400.4h1.0M260.2 396.4h1.0M262.5 395.4h1.0M268.9 400.3h1.0M259.1 397.2h1.0M264.8 396.1h1.0M269.8 396.0h1.0M262.2 401.8h1.0M263.0 399.2h1.0M258.9 398.7h1.0M256.2 401.1h1.0M270.2 398.8h1.0M259.5 398.2h1.0M256.6 399.6h1.0M270.5 395.5h1.0M270.4 399.7h1.0M269.1 401.3h1.0M270.1 399.2h1.0M269.6 398.2h1.0M263.6 394.5h1.0M264.9 398.0h1.0M263.3 396.8h1.0M256.0 400.5h1.0M264.0 392.9h1.0M258.5 400.5h1.0M263.6 398.2h1.0M270.0 398.4h1.0M256.7 400.9h1.0M269.1 396.1h1.0M261.2 400.4h1.0M263.5 397.8h1.0M269.3 396.6h1.0M269.4 401.3h1.0M264.5 393.8h1.0M258.6 397.5h1.0M258.9 397.7h1.0M263.4 393.8h1.0M255.6 396.4h1.0M259.5 395.8h1.0M268.9 394.3h1.0M268.6 399.1h1.0M259.9 399.9h1.0M257.8 397.6h1.0M263.2 398.5h1.0M259.1 396.1h1.0M269.9 396.9h1.0M257.5 399.0h1.0M261.2 398.2h1.0M258.3 397.2h1.0M263.5 398.3h1.0M257.1 398.9h1.0M255.6 402.4h1.0M263.4 397.5h1.0M270.2 402.7h1.0M259.7 399.3h1.0M267.2 397.4h1.0M267.1 399.5h1.0M267.7 399.0h1.0M260.1 395.1h1.0M257.1 394.3h1.0M255.9 401.2h1.0M263.6 396.5h1.0M270.2 399.3h1.0M260.0 400.2h1.0M263.1 394.7h1.0M256.2 398.8h1.0M269.3 395.5h1.0M256.7 398.3h1.0M267.3 397.9h1.0M268.3 396.4h1.0M269.3 398.7h1.0M263.1 399.5h1.0M259.8 388.6h1.0M270.6 397.8h1.0M264.6 398.6h1.0M264.4 403.0h1.0M267.7 400.0h1.0M265.1 399.7h1.0M260.4 399.3h1.0M259.3 397.2h1.0M264.1 388.3h1.0M264.1 398.9h1.0M263.6 396.4h1.0M258.9 396.8h1.0M264.0 398.1h1.0M270.5 398.0h1.0M270.2 403.6h1.0M260.0 398.0h1.0M269.7 401.2h1.0M269.2 404.1h1.0M270.2 396.9h1.0M257.6 395.0h1.0M267.5 398.3h1.0M259.2 398.2h1.0M258.5 398.3h1.0M264.3 403.5h1.0M261.8 397.2h1.0M260.4 399.1h1.0M261.4 392.0h1.0M270.7 404.6h1.0M259.3 397.4h1.0M265.1 402.8h1.0M270.7 396.8h1.0M267.1 400.8h1.0M261.2 403.3h1.0M270.0 396.2h1.0M269.0 395.6h1.0M258.4 396.7h1.0M257.4 402.7h1.0M259.6 397.2h1.0M256.3 402.4h1.0M263.4 395.9h1.0M264.6 397.1h1.0M263.4 399.2h1.0M263.0 407.3h1.0M256.2 398.1h1.0M259.6 402.0h1.0M268.0 401.9h1.0M259.5 397.5h1.0M257.0 400.9h1.0M269.5 397.5h1.0M257.3 400.5h1.0M264.6 401.2h1.0M257.2 407.6h1.0M260.3 393.4h1.0M261.9 397.5h1.0M269.2 400.9h1.0M264.1 396.8h1.0M265.8 392.5h1.0M265.1 399.8h1.0M256.1 390.1h1.0M259.2 398.6h1.0M255.9 398.6h1.0M262.9 401.7h1.0M262.6 395.5h1.0M260.2 399.9h1.0M256.0 398.0h1.0M258.4 396.7h1.0M263.3 398.8h1.0M256.0 396.1h1.0M258.3 394.6h1.0M259.7 395.9h1.0M267.8 400.0h1.0M264.1 399.1h1.0M262.5 399.3h1.0M267.2 396.0h1.0M259.7 391.5h1.0M263.1 399.0h1.0M268.2 394.4h1.0M257.1 397.5h1.0M263.5 397.4h1.0M256.8 397.8h1.0M263.9 383.9h1.0M259.8 390.6h1.0M260.0 400.9h1.0M257.4 396.4h1.0M257.7 397.1h1.0M263.3 396.3h1.0M269.8 399.2h1.0M263.3 394.8h1.0M269.9 396.3h1.0M260.1 396.2h1.0M257.3 398.4h1.0M270.4 396.1h1.0M270.7 396.9h1.0M257.6 402.1h1.0M259.2 400.4h1.0M265.0 393.1h1.0M257.8 396.8h1.0M256.6 395.8h1.0M270.5 401.1h1.0M259.5 396.4h1.0M257.3 397.7h1.0M258.4 397.5h1.0M264.7 398.1h1.0M269.1 394.4h1.0M259.3 399.6h1.0M258.6 401.0h1.0M260.1 397.2h1.0M269.8 397.1h1.0M268.8 396.8h1.0M263.4 396.9h1.0M270.1 399.8h1.0M263.0 397.8h1.0M260.3 397.1h1.0M258.9 397.7h1.0M268.8 401.3h1.0M259.4 401.2h1.0M270.9 395.9h1.0M258.9 399.0h1.0M268.8 400.9h1.0M264.5 392.2h1.0M257.3 398.2h1.0M258.6 403.2h1.0M263.0 396.5h1.0M259.1 399.8h1.0M270.8 400.5h1.0M264.8 397.1h1.0M264.0 394.3h1.0M264.7 399.4h1.0M261.1 401.3h1.0M270.2 395.8h1.0M266.0 400.3h1.0M269.6 400.6h1.0M265.0 399.1h1.0M270.3 401.9h1.0M264.8 395.2h1.0M266.8 394.3h1.0M257.5 399.5h1.0M264.2 395.4h1.0M256.8 398.2h1.0M269.0 398.7h1.0M268.9 394.1h1.0M260.2 398.3h1.0M258.8 397.8h1.0M257.5 396.1h1.0M268.8 395.9h1.0M259.9 397.0h1.0M255.9 400.3h1.0M259.0 399.1h1.0M261.4 396.7h1.0M258.4 396.0h1.0M266.3 398.4h1.0M269.6 395.5h1.0M269.1 397.6h1.0M257.7 399.6h1.0M268.8 401.0h1.0M269.1 399.0h1.0M263.7 398.6h1.0M263.5 400.8h1.0M256.9 396.9h1.0M262.4 396.0h1.0M269.2 402.1h1.0M260.1 400.7h1.0M257.5 397.1h1.0M268.9 400.2h1.0M263.6 399.7h1.0M269.2 396.0h1.0M269.3 401.4h1.0M258.9 400.1h1.0M257.4 398.0h1.0M257.3 401.8h1.0M263.3 399.4h1.0M259.4 394.5h1.0M259.6 396.9h1.0M259.2 398.1h1.0M258.3 397.3h1.0M263.9 398.9h1.0M258.8 393.6h1.0M264.7 399.8h1.0M266.9 394.7h1.0M263.4 398.2h1.0M258.9 395.4h1.0M258.3 398.5h1.0M255.8 403.5h1.0M258.3 396.8h1.0M270.1 401.8h1.0M267.4 400.5h1.0M269.5 397.7h1.0M259.2 398.6h1.0M263.6 400.1h1.0M259.7 395.8h1.0M258.3 398.5h1.0M264.1 399.5h1.0M263.9 399.9h1.0M270.7 396.6h1.0M268.7 404.2h1.0M259.6 399.2h1.0M263.4 395.1h1.0M265.0 397.5h1.0M258.5 398.0h1.0M258.4 395.9h1.0M270.8 400.5h1.0M259.1 400.7h1.0M263.0 391.6h1.0M270.0 398.9h1.0M258.3 400.2h1.0M269.1 394.8h1.0M269.5 392.3h1.0M269.6 393.4h1.0M258.6 401.7h1.0M269.0 399.6h1.0M263.6 398.8h1.0M268.4 394.6h1.0M264.0 397.8h1.0M270.8 401.9h1.0M265.6 398.3h1.0M265.9 400.8h1.0M260.4 395.4h1.0M268.8 398.4h1.0M264.2 400.8h1.0M259.2 397.6h1.0M268.7 400.0h1.0M260.3 399.0h1.0M259.4 399.3h1.0M263.9 397.3h1.0M267.8 402.7h1.0M263.9 397.4h1.0M270.6 396.5h1.0M263.0 390.8h1.0M270.5 392.9h1.0M262.4 397.1h1.0M268.8 397.3h1.0M267.3 399.1h1.0M259.9 397.8h1.0M260.0 397.1h1.0M257.0 395.7h1.0M263.3 395.8h1.0M263.0 397.9h1.0M259.2 399.0h1.0M269.1 390.4h1.0M258.6 398.7h1.0M255.8 400.3h1.0M259.8 396.1h1.0M258.3 395.3h1.0M264.3 397.5h1.0M263.0 400.8h1.0M256.4 402.1h1.0M259.6 398.1h1.0M261.4 402.5h1.0M256.2 397.6h1.0M256.3 403.6h1.0M270.4 397.1h1.0M263.1 394.0h1.0M258.8 400.1h1.0M258.4 399.0h1.0M269.7 398.0h1.0M256.5 396.6h1.0M258.6 395.3h1.0M257.6 398.5h1.0M270.7 398.3h1.0M255.9 398.6h1.0M269.5 399.2h1.0M269.0 401.0h1.0M264.8 395.8h1.0M265.1 402.4h1.0M269.4 401.3h1.0M258.9 394.3h1.0M269.8 395.3h1.0M259.1 398.8h1.0M263.9 392.4h1.0M255.9 397.5h1.0M258.8 397.1h1.0M257.1 400.1h1.0M264.2 396.1h1.0M255.7 398.2h1.0M269.2 400.6h1.0M268.5 394.8h1.0M257.7 402.2h1.0M268.9 397.7h1.0M259.9 397.9h1.0M269.3 396.9h1.0M255.9 398.3h1.0M263.6 399.3h1.0M263.8 396.9h1.0M266.5 397.0h1.0M255.7 398.4h1.0M263.5 399.4h1.0M258.6 398.1h1.0M261.9 397.2h1.0M270.5 398.8h1.0M263.3 401.2h1.0M269.7 395.2h1.0M261.5 401.0h1.0M263.1 390.2h1.0M264.7 397.0h1.0M268.4 401.8h1.0M264.8 399.8h1.0M262.6 398.1h1.0M261.5 394.8h1.0M256.9 397.8h1.0M256.9 400.8h1.0M263.2 395.7h1.0M265.9 398.4h1.0M265.7 400.3h1.0M268.8 402.8h1.0M269.0 399.2h1.0M262.9 394.3h1.0M263.8 397.7h1.0M264.9 400.0h1.0M259.7 394.7h1.0M263.0 399.5h1.0M258.9 397.8h1.0M270.7 396.6h1.0M257.3 399.7h1.0M263.1 396.6h1.0M259.0 396.0h1.0M269.5 399.5h1.0M264.3 397.1h1.0M260.2 397.7h1.0M256.3 400.3h1.0M264.8 393.9h1.0M264.2 395.1h1.0M269.9 393.6h1.0M268.8 397.8h1.0M261.9 394.9h1.0M258.8 396.0h1.0M256.2 396.5h1.0M264.9 397.9h1.0M255.7 399.1h1.0M256.8 393.2h1.0M263.1 398.5h1.0M263.8 400.3h1.0M264.0 399.0h1.0M267.9 403.2h1.0M259.6 400.4h1.0M262.6 394.9h1.0M269.5 401.3h1.0M264.0 399.9h1.0M260.4 395.7h1.0M269.0 390.3h1.0M256.4 399.1h1.0M256.3 397.4h1.0M266.6 393.8h1.0M256.9 399.2h1.0M263.1 398.2h1.0M268.8 396.2h1.0M258.8 399.5h1.0M269.1 395.0h1.0M260.3 397.6h1.0M258.8 399.9h1.0M264.7 397.8h1.0M263.1 401.1h1.0M256.1 399.9h1.0M256.3 398.3h1.0M268.9 397.1h1.0M259.9 398.0h1.0M256.9 402.8h1.0M269.3 397.6h1.0M263.7 399.2h1.0M255.8 397.8h1.0M262.2 397.5h1.0M270.2 397.9h1.0M259.9 401.1h1.0M269.6 395.6h1.0M259.3 397.9h1.0M264.6 399.2h1.0M265.8 417.5h1.0M263.6 419.8h1.0M258.7 421.6h1.0M262.6 421.7h1.0M258.6 416.9h1.0M258.2 418.2h1.0M258.1 421.9h1.0M258.1 419.9h1.0M263.5 419.4h1.0M267.7 419.5h1.0M261.2 419.4h1.0M263.8 415.1h1.0M262.0 414.9h1.0M267.9 422.4h1.0M262.5 422.7h1.0M269.6 417.0h1.0M260.5 425.8h1.0M263.1 417.3h1.0M262.8 420.5h1.0M261.7 423.5h1.0M268.5 418.8h1.0M269.6 419.9h1.0M255.7 420.8h1.0M263.1 417.3h1.0M259.1 421.9h1.0M267.8 416.1h1.0M261.6 425.3h1.0M268.2 418.6h1.0M267.9 424.0h1.0M268.5 421.4h1.0M262.0 420.4h1.0M258.7 423.4h1.0M268.6 420.6h1.0M262.3 421.4h1.0M262.2 419.6h1.0M262.0 416.8h1.0M260.9 413.4h1.0M265.3 421.4h1.0M265.8 416.7h1.0M262.1 419.1h1.0M265.1 416.4h1.0M261.7 435.4h1.0M259.4 421.3h1.0M262.7 421.8h1.0M257.4 419.9h1.0M261.3 419.3h1.0M257.7 417.5h1.0M258.3 419.4h1.0M257.6 419.8h1.0M258.7 422.8h1.0M256.7 417.3h1.0M256.7 420.4h1.0M255.8 420.3h1.0M268.9 418.4h1.0M258.6 416.8h1.0M262.1 422.0h1.0M268.4 409.3h1.0M258.5 420.2h1.0M260.5 417.2h1.0M269.6 422.8h1.0M257.4 417.5h1.0M267.8 416.6h1.0M268.6 421.6h1.0M262.1 418.7h1.0M262.2 416.3h1.0M257.0 417.6h1.0M262.5 421.9h1.0M269.4 419.0h1.0M258.2 421.0h1.0M261.1 419.5h1.0M264.9 421.0h1.0M267.9 415.6h1.0M262.3 418.5h1.0M268.7 415.9h1.0M258.5 418.9h1.0M262.9 421.5h1.0M257.2 418.0h1.0M269.3 423.1h1.0M262.3 420.7h1.0M257.6 421.4h1.0M268.6 424.4h1.0M263.4 416.2h1.0M269.6 419.3h1.0M257.3 418.0h1.0M269.2 418.4h1.0M258.8 422.1h1.0M256.2 424.4h1.0M260.5 419.2h1.0M255.9 420.0h1.0M266.1 418.4h1.0M263.7 422.5h1.0M257.7 418.3h1.0M261.1 420.0h1.0M261.1 418.6h1.0M259.0 421.5h1.0M261.2 419.9h1.0M268.0 416.9h1.0M268.6 414.4h1.0M262.1 418.4h1.0M267.5 417.3h1.0M256.5 420.2h1.0M256.5 413.2h1.0M267.9 420.8h1.0M268.7 420.4h1.0M262.0 422.6h1.0M268.2 419.7h1.0M269.3 419.6h1.0M265.1 420.4h1.0M261.9 417.4h1.0M258.2 420.0h1.0M262.4 420.1h1.0M262.5 420.9h1.0M256.9 419.9h1.0M263.1 420.6h1.0M263.9 421.5h1.0M258.7 414.6h1.0M261.4 419.0h1.0M256.5 417.8h1.0M262.3 417.1h1.0M257.7 421.8h1.0M257.5 424.2h1.0M259.5 421.5h1.0M268.3 417.7h1.0M261.5 417.1h1.0M264.0 419.9h1.0M262.4 417.1h1.0M263.2 417.7h1.0M263.7 410.8h1.0M265.4 424.9h1.0M263.2 421.1h1.0M255.7 418.9h1.0M258.6 421.5h1.0M261.9 418.1h1.0M261.2 421.8h1.0M256.9 421.0h1.0M260.9 416.9h1.0M268.3 420.7h1.0M263.0 419.9h1.0M268.5 416.1h1.0M261.7 417.4h1.0M262.0 418.1h1.0M257.8 417.1h1.0M258.4 419.3h1.0M262.3 420.3h1.0M261.4 414.8h1.0M258.5 423.0h1.0M263.6 416.2h1.0M258.6 418.0h1.0M257.6 419.8h1.0M261.6 418.5h1.0M267.6 415.6h1.0M257.7 422.5h1.0M260.9 419.1h1.0M265.0 417.9h1.0M255.6 419.1h1.0M262.4 419.5h1.0M260.9 421.7h1.0M269.4 419.9h1.0M269.4 422.2h1.0M260.9 416.7h1.0M268.4 417.4h1.0M263.0 417.1h1.0M262.0 420.7h1.0M258.8 421.1h1.0M263.0 418.5h1.0M263.3 421.7h1.0M268.0 422.4h1.0M267.7 419.1h1.0M263.7 421.1h1.0M269.2 423.6h1.0M267.4 419.7h1.0M256.6 415.0h1.0M268.2 418.9h1.0M259.1 417.7h1.0M268.7 417.8h1.0M256.4 420.1h1.0M263.9 417.3h1.0M261.9 422.2h1.0M268.6 418.9h1.0M262.0 423.4h1.0M263.4 422.7h1.0M264.8 419.1h1.0M261.3 419.1h1.0M256.7 416.1h1.0M261.6 416.3h1.0M258.4 422.5h1.0M255.9 421.1h1.0M267.6 423.1h1.0M261.5 418.5h1.0M268.7 423.4h1.0M268.1 415.5h1.0M262.2 417.1h1.0M266.0 421.8h1.0M269.5 420.1h1.0M268.0 424.0h1.0M261.8 416.7h1.0M268.0 414.9h1.0M262.9 420.3h1.0M263.8 419.4h1.0M267.8 421.4h1.0M257.7 418.5h1.0M262.5 415.3h1.0M267.8 418.2h1.0M262.2 423.6h1.0M263.2 418.6h1.0M262.6 416.3h1.0M257.3 420.3h1.0M262.7 418.6h1.0M263.7 420.5h1.0M268.8 419.1h1.0M261.1 411.1h1.0M260.8 417.5h1.0M264.2 416.9h1.0M261.0 419.5h1.0M263.0 417.4h1.0M267.7 422.1h1.0M262.2 423.5h1.0M263.6 419.7h1.0M260.9 420.9h1.0M262.3 418.6h1.0M263.4 418.9h1.0M262.7 413.0h1.0M257.8 421.3h1.0M269.4 417.4h1.0M268.3 419.3h1.0M261.1 418.6h1.0M257.1 419.0h1.0M262.3 419.2h1.0M260.9 421.7h1.0M262.0 421.5h1.0M265.5 423.7h1.0M257.5 417.0h1.0M257.2 420.8h1.0M261.4 421.9h1.0M261.9 423.0h1.0M263.1 416.8h1.0M268.8 424.1h1.0M256.2 416.0h1.0M268.7 419.1h1.0M256.2 417.4h1.0M269.3 416.5h1.0M260.2 419.6h1.0M257.9 420.1h1.0M263.7 417.6h1.0M268.3 421.9h1.0M261.9 417.7h1.0M264.1 422.1h1.0M262.4 420.2h1.0M260.5 424.7h1.0M263.9 418.7h1.0M269.6 418.2h1.0M261.8 417.9h1.0M260.4 422.5h1.0M267.6 420.7h1.0M268.7 419.1h1.0M269.3 421.4h1.0M268.7 414.7h1.0M260.6 424.8h1.0M262.5 419.4h1.0M257.7 425.4h1.0M269.4 417.3h1.0M262.9 419.9h1.0M263.4 415.0h1.0M259.3 417.6h1.0M257.9 417.8h1.0M262.1 416.2h1.0M257.5 418.6h1.0M268.6 423.0h1.0M257.4 416.8h1.0M256.9 422.7h1.0M263.9 418.1h1.0M268.2 424.6h1.0M261.6 417.0h1.0M257.4 419.9h1.0M259.6 417.2h1.0M256.4 418.8h1.0M258.9 411.0h1.0M269.5 416.4h1.0M256.4 420.1h1.0M260.5 417.9h1.0M259.1 417.7h1.0M257.4 417.1h1.0M269.1 419.6h1.0M262.4 419.7h1.0M261.5 419.3h1.0M257.0 420.3h1.0M258.3 420.3h1.0M258.4 415.9h1.0M263.2 417.4h1.0M268.7 414.9h1.0M260.6 419.0h1.0M260.4 424.0h1.0M257.4 417.0h1.0M264.1 420.3h1.0M268.8 417.2h1.0M263.0 421.5h1.0M264.5 420.4h1.0M257.1 421.3h1.0M267.8 420.3h1.0M258.2 417.1h1.0M263.4 419.9h1.0M263.4 419.2h1.0M256.9 414.4h1.0M257.6 419.8h1.0M257.5 419.2h1.0M263.8 417.8h1.0M258.6 420.9h1.0M258.6 417.3h1.0M267.4 416.2h1.0M263.6 416.1h1.0M264.1 419.3h1.0M267.9 420.8h1.0M259.0 419.6h1.0M256.5 421.5h1.0M261.6 424.6h1.0M256.0 419.5h1.0M261.4 416.8h1.0M262.3 416.7h1.0M257.9 417.4h1.0M257.6 414.6h1.0M262.4 420.5h1.0M265.0 416.9h1.0M264.1 426.9h1.0M260.4 417.0h1.0M263.5 415.0h1.0M258.6 420.9h1.0M262.6 414.5h1.0M268.4 421.6h1.0M268.9 416.6h1.0M261.2 421.0h1.0M258.3 419.5h1.0M260.3 422.3h1.0M257.4 424.2h1.0M267.0 423.0h1.0M257.6 421.4h1.0M268.5 421.1h1.0M269.5 418.2h1.0M262.4 414.5h1.0M268.5 421.4h1.0M264.8 417.7h1.0M259.0 420.9h1.0M259.3 423.8h1.0M257.6 414.3h1.0M259.0 418.6h1.0M263.8 420.2h1.0M264.0 417.3h1.0M258.5 417.2h1.0M263.5 422.0h1.0M265.4 419.8h1.0M262.2 420.2h1.0M264.0 422.8h1.0M263.1 416.4h1.0M258.9 418.4h1.0M258.8 421.0h1.0M261.7 420.0h1.0M260.4 418.3h1.0M268.8 418.2h1.0M260.3 417.8h1.0M262.4 417.9h1.0M269.0 420.4h1.0M261.6 416.9h1.0M263.1 417.2h1.0M263.7 422.0h1.0M269.0 423.4h1.0M257.5 420.9h1.0M268.0 419.3h1.0M261.7 417.9h1.0M264.5 421.1h1.0M258.1 414.0h1.0M265.0 418.1h1.0M258.3 416.4h1.0M261.7 418.6h1.0M260.8 422.1h1.0M260.8 419.8h1.0M268.8 420.1h1.0M261.2 420.1h1.0M263.6 419.3h1.0M263.8 425.5h1.0M258.2 425.5h1.0M262.4 419.7h1.0M268.4 417.8h1.0M259.5 423.0h1.0M261.0 413.1h1.0M255.9 420.9h1.0M268.7 419.7h1.0M256.2 416.5h1.0M261.1 420.3h1.0M269.0 416.0h1.0M261.3 417.2h1.0M263.8 420.8h1.0M267.8 416.4h1.0M263.7 416.1h1.0M269.0 417.3h1.0M258.5 420.2h1.0M269.3 419.6h1.0M266.8 414.3h1.0M262.0 418.6h1.0M259.2 419.1h1.0M263.7 421.5h1.0M260.2 422.3h1.0M268.8 422.7h1.0M256.2 419.7h1.0M261.5 418.2h1.0M262.7 420.4h1.0M256.8 414.2h1.0M267.9 420.6h1.0M263.3 412.1h1.0M261.8 421.6h1.0M269.0 423.5h1.0M263.0 417.6h1.0M260.3 416.3h1.0M263.9 418.7h1.0M263.0 420.3h1.0M260.6 420.4h1.0M262.6 415.7h1.0M265.2 425.6h1.0M258.3 420.2h1.0M267.9 421.5h1.0M261.8 420.4h1.0M262.8 420.6h1.0M268.5 422.2h1.0M260.6 413.7h1.0M256.9 424.9h1.0M257.9 412.6h1.0M261.4 424.5h1.0M257.2 418.8h1.0M263.7 418.7h1.0M268.9 416.1h1.0M257.2 419.1h1.0M256.9 422.3h1.0M263.1 418.2h1.0M263.4 421.3h1.0M263.7 419.2h1.0M262.4 418.0h1.0M263.3 422.6h1.0M256.9 422.4h1.0M263.4 421.4h1.0M263.9 418.6h1.0M261.8 422.6h1.0M263.6 423.3h1.0M255.7 418.0h1.0M262.1 421.7h1.0M257.3 418.0h1.0M262.3 417.3h1.0M268.4 420.8h1.0M263.4 418.5h1.0M268.8 425.3h1.0M259.5 418.8h1.0M268.0 419.1h1.0M258.8 417.6h1.0M268.1 419.8h1.0M269.3 416.9h1.0M268.3 422.6h1.0M268.8 419.4h1.0M268.6 424.1h1.0M269.1 420.6h1.0M257.7 417.8h1.0M256.0 421.9h1.0M260.5 416.6h1.0M268.6 425.2h1.0M268.4 418.5h1.0M262.2 419.2h1.0M260.6 421.5h1.0M265.6 417.8h1.0M257.7 418.9h1.0M268.8 417.5h1.0M260.6 418.7h1.0M268.5 422.9h1.0M269.6 417.4h1.0M256.8 416.1h1.0M269.3 417.5h1.0M256.5 418.2h1.0M261.4 420.5h1.0M262.8 416.9h1.0M260.7 420.2h1.0M260.3 416.8h1.0M260.8 416.5h1.0M256.0 415.4h1.0M262.2 420.7h1.0M268.1 417.3h1.0M273.5 390.1h1.0M271.8 392.2h1.0M271.9 397.2h1.0M273.3 391.5h1.0M273.3 389.8h1.0M272.7 391.9h1.0M273.0 397.4h1.0M272.2 388.8h1.0M273.4 393.5h1.0M273.2 393.4h1.0M271.7 386.9h1.0M272.6 395.4h1.0M272.2 391.5h1.0M271.8 393.7h1.0M273.8 391.9h1.0M273.5 387.9h1.0M273.7 390.7h1.0M273.2 393.3h1.0M273.3 391.3h1.0M273.5 394.4h1.0M273.1 388.9h1.0M273.0 393.0h1.0M273.1 387.3h1.0M273.1 391.8h1.0M272.9 390.5h1.0M273.6 392.7h1.0M272.0 391.2h1.0M273.9 391.4h1.0M273.8 388.7h1.0M272.0 395.9h1.0M271.7 390.1h1.0M272.1 393.2h1.0M272.4 393.5h1.0M273.8 388.0h1.0M272.6 391.6h1.0M272.9 394.4h1.0M271.9 392.4h1.0M273.1 390.3h1.0M273.3 392.3h1.0M272.8 393.4h1.0M272.9 390.7h1.0M272.9 392.3h1.0M273.4 390.1h1.0M273.0 392.3h1.0M273.7 387.9h1.0M273.1 393.5h1.0M272.5 394.2h1.0M273.5 396.7h1.0M272.9 401.7h1.0M272.9 394.1h1.0M272.2 391.1h1.0M272.4 389.1h1.0M273.4 390.0h1.0M270.6 396.8h1.0M273.9 385.7h1.0M272.4 394.2h1.0M273.4 394.8h1.0M272.0 395.1h1.0M272.4 391.7h1.0M273.2 394.7h1.0M273.7 393.7h1.0M271.9 396.5h1.0M272.6 388.4h1.0M272.0 393.9h1.0M272.0 395.5h1.0M272.3 398.5h1.0M273.6 386.6h1.0M272.9 397.3h1.0M273.9 392.0h1.0M272.5 393.2h1.0M273.6 392.5h1.0M271.9 396.3h1.0M272.9 395.3h1.0M273.6 388.4h1.0M273.3 392.4h1.0M271.7 392.3h1.0M272.8 394.0h1.0M271.7 395.4h1.0M273.0 384.6h1.0M273.7 386.3h1.0M272.5 391.0h1.0M272.6 388.6h1.0M271.5 391.2h1.0M272.1 398.0h1.0M273.8 392.0h1.0M272.3 392.1h1.0M273.0 394.9h1.0M273.2 395.0h1.0M272.8 405.6h1.0M273.8 389.0h1.0M272.3 423.6h1.0M272.6 428.3h1.0M272.2 423.8h1.0M271.9 419.3h1.0M272.6 422.6h1.0M273.1 425.1h1.0M273.2 424.9h1.0M271.7 423.6h1.0M271.8 425.6h1.0M272.0 422.6h1.0M271.0 420.8h1.0M271.8 424.6h1.0M272.2 422.6h1.0M271.4 421.3h1.0M273.2 423.0h1.0M273.3 420.8h1.0M271.7 423.8h1.0M272.2 420.9h1.0M271.6 426.4h1.0M272.6 423.8h1.0M271.5 423.1h1.0M272.8 426.9h1.0M272.7 425.2h1.0M271.2 418.3h1.0M272.2 422.0h1.0M271.0 419.2h1.0M272.2 422.8h1.0M271.3 418.5h1.0M272.6 427.0h1.0M271.9 418.3h1.0M272.5 419.2h1.0M273.4 428.9h1.0M271.9 426.4h1.0M271.4 420.2h1.0M272.2 423.7h1.0M272.6 418.7h1.0M272.5 424.8h1.0M273.0 425.6h1.0M270.3 422.2h1.0M272.8 425.1h1.0M271.3 420.2h1.0M270.4 419.6h1.0M272.6 424.9h1.0M273.3 430.0h1.0M271.3 423.7h1.0M271.4 417.8h1.0M272.9 423.1h1.0M272.8 426.4h1.0M271.7 424.0h1.0M271.5 418.0h1.0M272.1 423.2h1.0M270.2 407.3h1.0M272.2 425.6h1.0M271.3 422.8h1.0M272.1 421.9h1.0M272.1 422.8h1.0M271.7 418.3h1.0M272.1 424.0h1.0M273.0 425.2h1.0M272.3 420.2h1.0M271.5 426.6h1.0M273.2 429.4h1.0M273.3 425.7h1.0M272.9 420.7h1.0M273.4 430.2h1.0M272.5 420.6h1.0M271.8 420.0h1.0M272.1 424.2h1.0M271.5 412.4h1.0M272.8 421.7h1.0M272.6 426.0h1.0M272.3 425.4h1.0M272.7 426.7h1.0M273.2 423.4h1.0M271.8 425.3h1.0M271.7 422.5h1.0M272.2 415.8h1.0M271.9 424.4h1.0M272.3 421.3h1.0M272.3 425.8h1.0M273.4 422.2h1.0M272.5 424.7h1.0M272.7 427.1h1.0M272.6 424.7h1.0M272.0 417.9h1.0M271.6 421.2h1.0M273.4 430.5h1.0M272.5 426.1h1.0M273.2 425.7h1.0M272.7 427.1h1.0M277.0 389.3h1.0M285.4 392.7h1.0M304.1 393.7h1.0M303.6 389.2h1.0M288.3 389.3h1.0M292.5 393.8h1.0M281.6 392.0h1.0M290.1 394.0h1.0M284.1 393.0h1.0M322.4 388.6h1.0M297.7 391.3h1.0M292.4 392.4h1.0M304.4 394.2h1.0M285.8 388.9h1.0M325.2 391.0h1.0M322.6 390.9h1.0M298.8 390.8h1.0M286.2 387.7h1.0M324.2 390.3h1.0M308.6 391.1h1.0M289.9 390.7h1.0M282.2 388.3h1.0M316.8 390.1h1.0M297.7 393.7h1.0M323.2 390.2h1.0M322.5 388.2h1.0M276.5 391.4h1.0M281.3 389.4h1.0M321.7 390.7h1.0M322.5 391.5h1.0M299.4 389.7h1.0M293.9 387.2h1.0M321.4 389.7h1.0M320.0 391.3h1.0M310.5 390.8h1.0M303.2 395.9h1.0M326.7 393.3h1.0M322.2 390.1h1.0M313.0 393.9h1.0M284.5 391.3h1.0M287.1 389.7h1.0M305.8 389.0h1.0M314.7 391.8h1.0M310.3 389.2h1.0M302.3 393.1h1.0M318.1 389.8h1.0M305.0 389.9h1.0M282.3 390.0h1.0M292.5 395.4h1.0M292.7 391.6h1.0M298.3 390.8h1.0M282.9 394.2h1.0M304.6 391.4h1.0M277.9 389.6h1.0M318.9 392.7h1.0M320.0 388.7h1.0M318.0 389.1h1.0M305.1 390.9h1.0M278.6 387.8h1.0M304.2 390.8h1.0M284.4 392.3h1.0M277.4 390.0h1.0M323.4 392.9h1.0M304.4 386.9h1.0M276.4 391.1h1.0M285.3 391.6h1.0M286.6 387.5h1.0M305.4 387.5h1.0M322.0 388.6h1.0M302.1 390.3h1.0M276.7 392.1h1.0M286.7 391.3h1.0M315.7 392.6h1.0M310.4 390.2h1.0M288.7 389.2h1.0M319.4 388.6h1.0M299.3 388.6h1.0M305.5 387.1h1.0M310.6 388.0h1.0M318.3 388.8h1.0M286.8 389.3h1.0M304.8 386.3h1.0M327.1 391.3h1.0M292.2 390.3h1.0M320.7 390.3h1.0M306.0 390.5h1.0M283.0 394.0h1.0M326.4 391.2h1.0M320.7 390.5h1.0M283.0 388.8h1.0M281.0 393.1h1.0M310.3 391.3h1.0M299.2 393.2h1.0M322.0 390.5h1.0M276.9 383.9h1.0M302.4 394.0h1.0M292.5 393.8h1.0M298.3 389.8h1.0M305.3 390.9h1.0M276.3 394.3h1.0M305.9 389.7h1.0M302.5 392.4h1.0M298.4 389.8h1.0M309.7 394.1h1.0M277.3 390.5h1.0M321.3 392.0h1.0M284.4 394.6h1.0M292.7 388.5h1.0M321.6 393.6h1.0M287.4 389.9h1.0M320.8 391.0h1.0M303.9 389.2h1.0M292.6 393.1h1.0M292.3 391.7h1.0M319.9 388.3h1.0M309.4 389.1h1.0M285.7 391.5h1.0M288.2 387.5h1.0M285.3 385.5h1.0M276.5 386.9h1.0M284.8 384.1h1.0M293.9 391.9h1.0M278.0 392.7h1.0M287.5 391.6h1.0M278.6 389.7h1.0M282.4 390.8h1.0M305.2 389.7h1.0M322.6 391.4h1.0M291.9 391.1h1.0M293.4 394.7h1.0M298.3 393.7h1.0M321.1 391.0h1.0M302.6 392.3h1.0M318.9 390.8h1.0M275.9 388.4h1.0M302.3 391.4h1.0M322.5 391.9h1.0M304.0 391.5h1.0M308.7 387.9h1.0M282.7 396.0h1.0M284.8 391.9h1.0M316.4 394.1h1.0M283.0 389.4h1.0M291.5 389.1h1.0M284.9 392.4h1.0M276.0 390.7h1.0M322.1 390.2h1.0M303.8 389.5h1.0M276.4 390.1h1.0M319.0 393.6h1.0M284.9 394.9h1.0M292.9 392.2h1.0M284.1 390.3h1.0M315.3 391.2h1.0M297.8 392.0h1.0M298.8 389.1h1.0M289.0 392.4h1.0M289.7 388.2h1.0M276.2 392.9h1.0M297.6 388.3h1.0M309.7 392.5h1.0M292.2 389.7h1.0M276.3 389.2h1.0M310.5 389.5h1.0M276.7 394.3h1.0M276.5 393.4h1.0M321.3 392.6h1.0M323.4 391.4h1.0M276.4 391.1h1.0M281.5 387.9h1.0M283.0 391.2h1.0M321.0 392.1h1.0M289.6 390.9h1.0M287.1 390.3h1.0M308.7 389.1h1.0M303.6 388.3h1.0M319.1 390.6h1.0M306.1 391.4h1.0M286.9 391.8h1.0M323.9 390.1h1.0M286.5 390.1h1.0M318.6 389.3h1.0M322.6 394.6h1.0M292.4 391.2h1.0M305.4 390.9h1.0M303.8 389.0h1.0M325.4 392.1h1.0M276.5 390.5h1.0M286.3 388.9h1.0M308.3 391.1h1.0M319.9 392.7h1.0M318.6 392.3h1.0M284.7 391.5h1.0M319.1 390.9h1.0M321.5 393.9h1.0M321.5 390.6h1.0M277.4 395.5h1.0M276.0 390.4h1.0M293.7 388.9h1.0M318.2 387.0h1.0M304.4 391.0h1.0M282.4 395.8h1.0M285.3 390.6h1.0M306.1 390.8h1.0M304.7 389.0h1.0M277.3 395.7h1.0M293.8 393.6h1.0M273.6 390.6h1.0M302.2 388.9h1.0M321.5 388.7h1.0M274.2 393.1h1.0M305.7 390.0h1.0M284.6 393.2h1.0M319.8 391.8h1.0M313.9 391.0h1.0M276.0 389.5h1.0M318.3 382.8h1.0M285.7 384.3h1.0M297.8 392.8h1.0M288.4 386.0h1.0M304.0 391.4h1.0M277.5 394.4h1.0M305.0 389.8h1.0M303.0 387.0h1.0M305.5 390.7h1.0M287.1 388.7h1.0M289.9 393.5h1.0M304.8 394.9h1.0M325.5 391.9h1.0M303.1 391.9h1.0M314.0 392.2h1.0M304.0 388.6h1.0M297.5 391.2h1.0M298.8 391.7h1.0M292.4 388.8h1.0M318.8 390.2h1.0M287.6 386.8h1.0M316.5 391.5h1.0M286.8 386.6h1.0M302.1 392.5h1.0M308.6 390.3h1.0M282.7 392.7h1.0M315.1 393.3h1.0M321.8 391.4h1.0M292.0 392.5h1.0M292.4 389.3h1.0M325.0 388.6h1.0M274.4 388.6h1.0M316.2 388.8h1.0M315.2 390.5h1.0M319.7 387.6h1.0M282.9 387.9h1.0M320.0 391.7h1.0M287.3 392.0h1.0M303.0 392.3h1.0M298.4 390.6h1.0M284.5 391.6h1.0M304.2 389.4h1.0M285.9 387.2h1.0M304.0 387.4h1.0M284.7 390.0h1.0M321.0 391.0h1.0M292.7 389.8h1.0M275.9 392.1h1.0M305.9 393.1h1.0M305.1 389.5h1.0M305.3 394.2h1.0M313.3 391.9h1.0M285.2 390.0h1.0M319.9 392.9h1.0M319.1 391.1h1.0M302.8 391.7h1.0M286.3 389.1h1.0M309.2 388.8h1.0M298.1 391.7h1.0M319.3 395.5h1.0M287.4 389.5h1.0M326.3 387.3h1.0M303.0 393.4h1.0M310.0 391.4h1.0M305.7 391.5h1.0M303.1 391.8h1.0M289.6 389.4h1.0M313.7 389.6h1.0M305.7 392.1h1.0M277.1 390.9h1.0M284.1 391.6h1.0M292.0 394.0h1.0M315.7 392.9h1.0M295.1 391.5h1.0M308.6 390.5h1.0M274.8 392.5h1.0M322.2 388.0h1.0M285.4 392.8h1.0M309.2 382.6h1.0M285.6 393.9h1.0M293.9 392.8h1.0M326.3 392.5h1.0M318.8 391.9h1.0M299.0 393.0h1.0M276.9 391.3h1.0M291.7 390.2h1.0M285.6 392.5h1.0M285.8 394.6h1.0M325.5 391.9h1.0M310.2 386.2h1.0M305.7 383.9h1.0M288.1 387.7h1.0M282.2 389.4h1.0M276.2 392.6h1.0M287.3 388.9h1.0M311.8 392.8h1.0M322.0 389.6h1.0M320.7 387.5h1.0M293.0 389.3h1.0M294.9 390.7h1.0M287.1 389.2h1.0M273.7 389.1h1.0M304.7 393.8h1.0M273.9 393.2h1.0M315.0 393.1h1.0M274.2 389.2h1.0M326.4 388.2h1.0M326.9 391.8h1.0M285.9 388.5h1.0M287.4 389.6h1.0M277.5 389.4h1.0M282.7 392.6h1.0M278.1 389.5h1.0M309.3 391.9h1.0M295.4 392.6h1.0M287.1 392.6h1.0M320.7 386.2h1.0M292.8 389.8h1.0M286.3 389.9h1.0M285.9 390.0h1.0M316.8 393.0h1.0M303.4 390.4h1.0M304.6 390.9h1.0M273.4 392.0h1.0M325.8 391.5h1.0M304.8 392.6h1.0M316.6 392.5h1.0M277.0 392.2h1.0M310.9 391.3h1.0M285.9 389.9h1.0M320.7 393.5h1.0M318.5 393.5h1.0M323.1 393.6h1.0M318.3 387.4h1.0M290.1 392.3h1.0M285.4 392.0h1.0M277.9 391.0h1.0M278.9 393.8h1.0M277.4 388.5h1.0M304.0 388.5h1.0M297.8 390.3h1.0M309.7 392.4h1.0M306.1 389.1h1.0M327.0 392.7h1.0M304.0 391.8h1.0M304.6 388.4h1.0M309.6 385.2h1.0M285.9 395.5h1.0M285.3 390.5h1.0M308.6 394.8h1.0M293.5 384.7h1.0M308.7 388.6h1.0M319.3 387.8h1.0M288.5 391.9h1.0M316.3 391.4h1.0M273.2 385.5h1.0M285.5 392.0h1.0M306.1 389.3h1.0M318.5 391.4h1.0M276.3 394.0h1.0M286.4 389.0h1.0M316.3 394.5h1.0M284.9 388.2h1.0M285.0 389.6h1.0M284.3 387.9h1.0M277.6 392.2h1.0M319.0 393.0h1.0M304.3 390.0h1.0M306.0 389.6h1.0M293.7 389.7h1.0M305.0 388.5h1.0M322.8 393.0h1.0M282.0 394.7h1.0M308.9 392.7h1.0M308.7 395.3h1.0M305.4 391.0h1.0M320.0 391.0h1.0M295.9 388.9h1.0M318.2 392.4h1.0M303.2 392.4h1.0M292.7 387.2h1.0M289.0 388.9h1.0M276.2 390.4h1.0M282.2 391.4h1.0M319.2 388.4h1.0M299.2 386.3h1.0M310.5 393.4h1.0M310.6 388.7h1.0M321.3 393.8h1.0M286.6 390.6h1.0M320.7 391.1h1.0M292.2 394.3h1.0M322.4 392.6h1.0M320.6 400.6h1.0M285.3 388.0h1.0M285.6 389.1h1.0M298.5 388.6h1.0M274.1 388.8h1.0M298.4 387.9h1.0M293.7 396.2h1.0M292.5 390.2h1.0M287.4 390.8h1.0M295.0 390.6h1.0M284.9 389.4h1.0M303.5 387.9h1.0M308.8 387.3h1.0M275.9 392.1h1.0M305.3 393.2h1.0M278.9 393.1h1.0M277.9 391.2h1.0M323.2 393.5h1.0M318.2 386.7h1.0M293.3 390.7h1.0M275.9 389.4h1.0M314.2 389.5h1.0M276.2 390.5h1.0M321.4 387.6h1.0M309.1 393.5h1.0M274.3 388.6h1.0M285.0 390.9h1.0M309.9 389.4h1.0M305.9 389.9h1.0M293.3 392.6h1.0M309.2 395.4h1.0M307.1 391.9h1.0M321.4 388.3h1.0M284.6 390.2h1.0M303.1 388.0h1.0M307.1 388.2h1.0M314.2 399.6h1.0M287.4 392.4h1.0M284.5 391.0h1.0M277.7 386.2h1.0M291.9 390.1h1.0M304.0 393.2h1.0M302.3 390.5h1.0M303.6 391.4h1.0M304.5 395.7h1.0M284.1 389.0h1.0M286.6 391.9h1.0M282.7 390.6h1.0M288.6 395.7h1.0M287.5 395.3h1.0M309.0 391.4h1.0M298.8 388.3h1.0M322.4 390.1h1.0M306.0 389.2h1.0M299.3 388.6h1.0M284.4 392.7h1.0M304.8 386.6h1.0M284.8 387.0h1.0M322.6 390.2h1.0M284.6 394.2h1.0M318.8 392.0h1.0M293.9 386.0h1.0M322.5 395.2h1.0M273.6 390.2h1.0M305.5 390.5h1.0M285.9 390.3h1.0M302.7 392.6h1.0M305.9 390.0h1.0M289.0 391.8h1.0M282.4 387.0h1.0M302.8 394.0h1.0M292.5 390.7h1.0M325.4 389.3h1.0M284.5 387.3h1.0M310.0 389.9h1.0M319.9 389.5h1.0M309.5 391.0h1.0M302.9 389.1h1.0M286.1 391.6h1.0M307.2 393.7h1.0M287.7 392.9h1.0M304.3 397.0h1.0M308.7 394.7h1.0M281.7 390.6h1.0M276.0 393.1h1.0M305.2 391.9h1.0M286.2 390.1h1.0M278.0 391.3h1.0M305.7 390.4h1.0M319.9 391.2h1.0M284.6 392.0h1.0M284.2 388.6h1.0M324.4 388.4h1.0M305.0 394.7h1.0M321.9 388.8h1.0M323.0 388.1h1.0M321.2 391.8h1.0M277.3 394.9h1.0M293.8 392.1h1.0M308.5 395.3h1.0M304.2 394.5h1.0M322.6 393.6h1.0M296.0 387.7h1.0M292.7 391.1h1.0M277.3 385.4h1.0M282.7 391.0h1.0M316.4 393.3h1.0M323.7 392.4h1.0M284.8 387.6h1.0M276.3 392.1h1.0M276.6 390.8h1.0M302.4 387.7h1.0M322.3 388.6h1.0M282.9 386.6h1.0M297.6 392.1h1.0M292.8 390.4h1.0M305.9 388.8h1.0M285.1 390.7h1.0M302.7 388.4h1.0M282.2 392.3h1.0M322.6 395.7h1.0M275.0 392.0h1.0M322.1 391.1h1.0M288.3 387.6h1.0M308.5 393.7h1.0M287.7 389.5h1.0M276.4 390.1h1.0M305.4 390.7h1.0M313.5 390.1h1.0M293.8 392.5h1.0M285.5 391.0h1.0M298.6 390.5h1.0M319.6 390.3h1.0M291.8 395.8h1.0M278.9 390.3h1.0M289.4 390.2h1.0M298.0 394.8h1.0M324.3 393.4h1.0M292.8 388.2h1.0M320.1 392.8h1.0M305.3 390.3h1.0M286.6 391.9h1.0M285.9 394.9h1.0M319.2 392.1h1.0M277.4 390.0h1.0M292.2 391.9h1.0M304.6 390.1h1.0M318.3 393.0h1.0M293.6 392.1h1.0M303.9 387.4h1.0M287.8 386.8h1.0M321.9 390.8h1.0M312.3 390.9h1.0M316.4 392.2h1.0M299.8 387.9h1.0M323.5 387.9h1.0M304.3 390.2h1.0M285.8 392.1h1.0M286.1 389.8h1.0M284.9 387.8h1.0M293.8 394.0h1.0M293.9 391.4h1.0M315.9 390.8h1.0M288.3 393.4h1.0M323.7 392.5h1.0M306.0 390.7h1.0M285.5 389.0h1.0M276.0 391.7h1.0M285.1 389.7h1.0M285.9 390.6h1.0M282.5 390.1h1.0M276.3 389.4h1.0M309.1 390.7h1.0M281.3 388.8h1.0M310.2 391.5h1.0M285.7 395.0h1.0M321.5 390.7h1.0M319.2 390.9h1.0M327.0 393.4h1.0M286.1 388.7h1.0M285.8 390.4h1.0M302.1 390.2h1.0M320.7 392.1h1.0M299.3 392.4h1.0M326.7 386.8h1.0M296.2 392.0h1.0M302.0 389.6h1.0M305.7 394.6h1.0M276.4 388.5h1.0M292.4 390.8h1.0M286.0 390.4h1.0M309.7 389.9h1.0M322.7 395.2h1.0M310.4 394.4h1.0M304.9 389.0h1.0M304.8 392.5h1.0M282.1 393.5h1.0M323.3 389.7h1.0M301.5 388.1h1.0M285.9 386.5h1.0M302.9 393.3h1.0M293.2 387.3h1.0M304.1 387.0h1.0M313.3 390.6h1.0M307.6 389.3h1.0M281.4 389.6h1.0M321.9 385.7h1.0M299.2 388.6h1.0M309.3 389.0h1.0M305.3 391.7h1.0M286.7 389.5h1.0M314.9 391.1h1.0M297.4 392.4h1.0M277.8 394.4h1.0M318.2 389.8h1.0M305.8 389.5h1.0M322.5 389.4h1.0M291.2 388.2h1.0M323.0 389.0h1.0M291.2 394.3h1.0M309.6 394.6h1.0M285.0 392.4h1.0M303.8 392.5h1.0M293.3 394.3h1.0M293.9 392.6h1.0M284.9 385.8h1.0M276.0 388.1h1.0M285.0 398.4h1.0M315.2 390.2h1.0M276.3 393.1h1.0M277.8 393.9h1.0M309.9 388.4h1.0M285.3 391.7h1.0M322.6 387.8h1.0M290.1 390.7h1.0M318.4 396.8h1.0M309.2 387.4h1.0M324.2 393.5h1.0M309.3 389.8h1.0M315.5 389.0h1.0M293.0 391.8h1.0M286.7 387.8h1.0M307.9 391.4h1.0M309.4 385.6h1.0M282.4 390.0h1.0M282.5 393.9h1.0M286.3 391.7h1.0M297.9 389.7h1.0M305.0 382.3h1.0M326.0 392.5h1.0M326.9 390.5h1.0M323.1 391.5h1.0M304.4 393.6h1.0M304.4 393.0h1.0M299.0 386.7h1.0M305.8 390.8h1.0M305.8 393.8h1.0M305.4 390.1h1.0M306.9 391.4h1.0M286.1 391.1h1.0M284.7 392.9h1.0M285.4 389.2h1.0M286.0 388.5h1.0M283.1 393.7h1.0M321.5 389.5h1.0M286.9 390.7h1.0M286.0 391.5h1.0M324.4 389.3h1.0M276.6 393.8h1.0M310.6 391.5h1.0M320.8 393.1h1.0M327.0 392.3h1.0M315.0 392.9h1.0M308.6 390.6h1.0M286.4 392.8h1.0M293.7 390.3h1.0M278.5 391.3h1.0M286.0 389.4h1.0M305.2 397.2h1.0M285.4 393.4h1.0M305.0 392.8h1.0M304.1 393.1h1.0M286.8 387.3h1.0M277.6 392.4h1.0M277.3 390.0h1.0M285.4 389.8h1.0M277.3 383.8h1.0M316.8 391.6h1.0M305.9 390.0h1.0M309.4 387.2h1.0M321.3 391.9h1.0M299.1 395.8h1.0M321.9 399.7h1.0M276.5 393.2h1.0M326.6 387.3h1.0M323.5 395.5h1.0M292.2 387.0h1.0M322.4 392.8h1.0M310.1 390.4h1.0M277.0 392.2h1.0M317.9 390.4h1.0M286.0 390.3h1.0M309.7 392.3h1.0M276.5 390.1h1.0M289.7 393.0h1.0M277.3 388.1h1.0M291.8 389.8h1.0M287.8 388.3h1.0M308.8 391.0h1.0M287.3 390.0h1.0M305.9 394.4h1.0M285.6 392.4h1.0M299.2 391.7h1.0M275.9 391.4h1.0M279.7 393.0h1.0M286.3 391.8h1.0M323.8 395.0h1.0M292.1 391.2h1.0M292.9 390.6h1.0M318.1 390.5h1.0M286.8 389.1h1.0M286.3 388.4h1.0M316.3 389.4h1.0M304.1 386.2h1.0M303.0 385.4h1.0M323.1 390.6h1.0M310.4 390.6h1.0M279.5 389.3h1.0M276.3 391.9h1.0M306.1 389.5h1.0M285.6 392.4h1.0M289.9 391.1h1.0M286.8 390.2h1.0M304.6 388.4h1.0M285.7 390.5h1.0M323.9 395.1h1.0M282.7 395.8h1.0M303.1 390.4h1.0M287.3 392.8h1.0M318.2 391.8h1.0M304.5 390.9h1.0M325.3 393.5h1.0M304.2 394.7h1.0M305.3 394.0h1.0M320.8 394.3h1.0M285.8 391.5h1.0M316.4 392.3h1.0M278.8 391.2h1.0M310.0 392.2h1.0M291.9 387.0h1.0M292.3 389.9h1.0M286.0 388.3h1.0M307.3 393.1h1.0M298.1 389.6h1.0M282.5 396.6h1.0M276.4 392.9h1.0M322.9 391.1h1.0M317.0 392.5h1.0M292.5 391.9h1.0M277.3 391.3h1.0M314.9 392.4h1.0M276.0 391.3h1.0M310.4 389.5h1.0M319.3 391.8h1.0M304.4 394.9h1.0M310.6 392.1h1.0M326.1 389.5h1.0M274.6 389.4h1.0M277.8 392.6h1.0M276.1 391.1h1.0M286.1 393.7h1.0M277.5 392.7h1.0M304.0 392.0h1.0M299.1 387.9h1.0M286.4 384.5h1.0M324.3 394.1h1.0M302.8 390.7h1.0M287.6 391.2h1.0M295.6 391.9h1.0M286.9 386.4h1.0M277.3 387.0h1.0M324.3 390.5h1.0M312.0 391.2h1.0M287.3 391.6h1.0M288.9 389.3h1.0M287.8 391.9h1.0M304.8 391.6h1.0M304.9 393.1h1.0M302.3 392.2h1.0M280.4 387.2h1.0M304.2 389.6h1.0M322.3 388.4h1.0M281.2 392.1h1.0M276.5 388.7h1.0M279.6 391.9h1.0M293.0 393.4h1.0M315.0 395.1h1.0M305.1 390.6h1.0M277.7 388.5h1.0M323.4 394.0h1.0M277.0 393.3h1.0M302.3 389.8h1.0M310.1 387.9h1.0M304.3 391.4h1.0M293.2 390.6h1.0M304.0 393.5h1.0M309.9 389.4h1.0M310.5 391.3h1.0M276.2 393.9h1.0M278.0 388.1h1.0M296.4 390.4h1.0M276.4 390.9h1.0M310.3 390.6h1.0M281.0 387.7h1.0M301.9 395.5h1.0M310.4 392.0h1.0M304.2 391.9h1.0M287.2 389.7h1.0M277.1 391.6h1.0M322.2 393.3h1.0M298.9 392.8h1.0M297.9 388.3h1.0M318.8 392.5h1.0M327.1 386.9h1.0M280.3 389.8h1.0M303.9 392.4h1.0M286.9 393.9h1.0M297.3 391.5h1.0M285.0 388.9h1.0M287.2 392.1h1.0M293.8 392.5h1.0M316.8 388.7h1.0M277.6 393.9h1.0M286.5 391.0h1.0M321.3 383.9h1.0M321.5 390.5h1.0M313.7 391.5h1.0M322.3 390.5h1.0M319.3 388.7h1.0M305.3 392.5h1.0M292.1 392.9h1.0M276.3 392.4h1.0M293.1 392.1h1.0M292.5 391.2h1.0M304.4 393.2h1.0M286.1 388.9h1.0M287.0 392.6h1.0M281.5 388.7h1.0M285.9 391.0h1.0M282.6 386.9h1.0M304.9 390.9h1.0M297.8 394.1h1.0M305.7 395.8h1.0M304.0 390.0h1.0M307.1 388.6h1.0M308.9 394.4h1.0M314.9 388.0h1.0M285.4 387.4h1.0M277.7 387.1h1.0M318.3 390.8h1.0M277.3 391.8h1.0M292.4 390.1h1.0M299.5 393.3h1.0M305.2 392.7h1.0M273.5 392.1h1.0M285.8 393.9h1.0M285.5 391.5h1.0M322.5 389.6h1.0M295.7 390.9h1.0M277.1 388.0h1.0M303.5 387.0h1.0M326.6 386.9h1.0M304.0 390.2h1.0M276.6 389.3h1.0M292.8 389.9h1.0M303.2 391.2h1.0M292.5 391.6h1.0M322.5 387.3h1.0M305.2 390.3h1.0M285.2 389.4h1.0M302.9 389.4h1.0M277.0 390.6h1.0M288.1 391.7h1.0M293.5 389.0h1.0M278.0 391.9h1.0M278.0 392.5h1.0M286.7 386.8h1.0M298.2 385.3h1.0M314.0 389.3h1.0M304.9 389.2h1.0M305.3 395.9h1.0M302.8 390.5h1.0M322.6 391.2h1.0M277.6 391.1h1.0M319.4 391.5h1.0M284.7 388.2h1.0M287.6 390.3h1.0M318.5 386.7h1.0M286.1 391.0h1.0M322.5 386.0h1.0M313.1 393.1h1.0M289.8 391.2h1.0M302.9 386.4h1.0M308.9 391.7h1.0M284.6 392.7h1.0M321.6 390.7h1.0M293.5 395.0h1.0M292.8 388.5h1.0M310.6 392.2h1.0M285.5 383.1h1.0M286.9 389.7h1.0M304.7 394.2h1.0M286.0 390.5h1.0M297.5 390.2h1.0M277.7 397.2h1.0M305.5 391.4h1.0M287.2 390.0h1.0M297.9 389.7h1.0M297.3 394.2h1.0M307.0 389.1h1.0M292.8 390.3h1.0M293.1 388.3h1.0M287.1 389.0h1.0M316.6 390.2h1.0M304.1 392.3h1.0M326.8 387.9h1.0M287.7 394.9h1.0M322.3 388.1h1.0M306.1 396.0h1.0M299.3 391.6h1.0M316.8 392.1h1.0M277.8 387.3h1.0M277.5 389.9h1.0M302.7 388.0h1.0M304.3 388.9h1.0M317.9 389.7h1.0M305.6 388.1h1.0M285.0 390.0h1.0M322.2 387.4h1.0M321.6 386.8h1.0M306.1 387.5h1.0M305.8 388.9h1.0M307.5 392.1h1.0M292.6 390.5h1.0M285.2 392.2h1.0M322.5 388.4h1.0M286.4 393.0h1.0M273.7 387.7h1.0M276.3 389.0h1.0M322.6 389.4h1.0M298.2 391.7h1.0M303.0 386.3h1.0M297.8 389.0h1.0M285.9 388.5h1.0M284.7 390.7h1.0M304.9 390.0h1.0M309.4 387.3h1.0M318.4 393.6h1.0M284.6 394.6h1.0M324.9 388.6h1.0M325.5 396.1h1.0M285.4 390.0h1.0M319.3 390.1h1.0M293.9 392.4h1.0M297.8 387.3h1.0M305.4 391.4h1.0M323.1 390.5h1.0M305.1 385.1h1.0M287.5 389.7h1.0M281.8 395.0h1.0M280.3 387.9h1.0M298.1 385.4h1.0M315.5 391.2h1.0M287.1 390.2h1.0M320.8 391.6h1.0M291.2 391.3h1.0M295.2 389.2h1.0M293.9 391.1h1.0M314.2 384.8h1.0M322.7 392.3h1.0M304.2 391.1h1.0M320.0 388.5h1.0M310.3 390.5h1.0M322.7 389.2h1.0M276.8 392.0h1.0M302.7 391.8h1.0M323.1 386.7h1.0M322.7 388.6h1.0M309.3 388.8h1.0M314.1 386.7h1.0M287.5 393.8h1.0M298.6 387.7h1.0M293.5 394.7h1.0M283.2 390.6h1.0M299.2 391.0h1.0M318.5 388.6h1.0M303.9 392.0h1.0M276.5 391.2h1.0M322.1 394.2h1.0M288.6 389.1h1.0M278.0 392.9h1.0M285.9 394.4h1.0M287.0 389.3h1.0M281.4 389.6h1.0M287.8 388.7h1.0M297.4 391.4h1.0M304.0 390.6h1.0M277.4 391.1h1.0M306.0 386.3h1.0M305.6 390.5h1.0M304.0 386.9h1.0M318.3 391.2h1.0M304.0 389.7h1.0M276.4 393.9h1.0M305.1 392.6h1.0M309.5 391.1h1.0M322.7 392.3h1.0M277.3 392.9h1.0M276.5 390.6h1.0M309.9 389.5h1.0M297.5 394.3h1.0M326.3 389.4h1.0M291.9 390.2h1.0M286.2 391.0h1.0M278.1 387.1h1.0M309.7 389.9h1.0M277.3 390.5h1.0M318.2 391.4h1.0M293.8 391.8h1.0M276.0 390.4h1.0M289.8 389.5h1.0M319.3 391.9h1.0M286.1 392.0h1.0M309.1 390.8h1.0M309.5 393.1h1.0M303.5 391.8h1.0M281.0 391.5h1.0M284.3 391.6h1.0M285.9 391.5h1.0M314.7 391.7h1.0M288.4 391.8h1.0M291.9 393.7h1.0M313.5 392.1h1.0M286.9 386.4h1.0M285.7 391.3h1.0M322.5 391.4h1.0M319.8 393.3h1.0M276.7 388.4h1.0M276.5 386.3h1.0M310.3 393.3h1.0M304.0 389.5h1.0M317.9 393.5h1.0M292.8 390.6h1.0M325.5 388.9h1.0M326.9 389.0h1.0M323.6 393.7h1.0M282.0 391.4h1.0M305.3 390.6h1.0M319.0 388.0h1.0M277.6 391.4h1.0M302.4 393.7h1.0M318.0 392.3h1.0M322.2 390.5h1.0M297.3 390.7h1.0M303.3 391.0h1.0M298.7 393.1h1.0M305.3 393.7h1.0M302.5 391.4h1.0M304.1 391.3h1.0M276.0 389.9h1.0M292.0 388.5h1.0M293.1 391.9h1.0M323.2 390.1h1.0M322.4 390.0h1.0M286.6 390.1h1.0M276.3 389.9h1.0M308.9 392.8h1.0M321.0 384.7h1.0M292.6 392.6h1.0M286.6 393.9h1.0M292.8 389.1h1.0M319.4 390.8h1.0M308.7 394.0h1.0M305.8 392.2h1.0M322.5 392.5h1.0M318.2 394.0h1.0M298.3 390.8h1.0M276.5 389.6h1.0M308.8 391.9h1.0M304.9 390.3h1.0M306.7 391.7h1.0M292.6 389.4h1.0M284.9 386.9h1.0M277.2 387.9h1.0M292.9 388.4h1.0M276.3 392.3h1.0M292.4 392.3h1.0M293.1 387.3h1.0M303.2 390.4h1.0M276.2 395.6h1.0M302.8 390.9h1.0M291.4 387.3h1.0M293.5 385.5h1.0M294.8 389.1h1.0M293.0 390.4h1.0M292.4 390.0h1.0M278.1 389.3h1.0M292.4 394.2h1.0M291.7 395.2h1.0M306.0 389.9h1.0M285.1 390.1h1.0M284.5 392.1h1.0M316.7 390.8h1.0M320.8 392.4h1.0M319.0 395.2h1.0M306.1 389.1h1.0M290.2 392.4h1.0M298.6 390.0h1.0M284.4 392.1h1.0M285.7 388.2h1.0M323.9 391.8h1.0M304.1 390.8h1.0M281.9 388.5h1.0M304.9 390.2h1.0M274.7 387.4h1.0M276.2 389.3h1.0M323.1 392.2h1.0M321.7 389.7h1.0M320.0 391.0h1.0M286.3 389.9h1.0M322.3 395.1h1.0M286.0 390.4h1.0M304.7 391.9h1.0M292.4 391.2h1.0M292.9 391.0h1.0M313.7 390.7h1.0M299.4 393.6h1.0M287.0 394.5h1.0M287.7 391.6h1.0M307.9 389.8h1.0M285.8 387.8h1.0M292.9 390.6h1.0M308.5 392.8h1.0M282.1 387.3h1.0M321.9 389.7h1.0M305.2 389.1h1.0M322.7 392.7h1.0M309.4 390.4h1.0M308.7 387.8h1.0M304.7 390.0h1.0M319.8 390.5h1.0M322.2 393.0h1.0M309.9 390.5h1.0M285.7 387.6h1.0M321.0 391.5h1.0M304.2 391.3h1.0M282.2 391.4h1.0M289.1 390.1h1.0M286.7 391.9h1.0M309.6 391.3h1.0M298.9 389.3h1.0M291.3 390.1h1.0M276.5 391.9h1.0M315.9 392.2h1.0M321.7 392.3h1.0M286.2 389.0h1.0M278.4 391.4h1.0M289.6 392.9h1.0M286.4 389.1h1.0M305.1 393.2h1.0M309.7 391.8h1.0M306.1 392.2h1.0M287.3 391.8h1.0M284.2 391.7h1.0M273.9 386.4h1.0M310.0 387.6h1.0M287.2 390.5h1.0M298.2 389.7h1.0M320.9 389.9h1.0M298.5 390.1h1.0M320.8 393.3h1.0M282.7 385.2h1.0M275.1 386.9h1.0M305.0 392.4h1.0M304.2 391.4h1.0M320.8 393.9h1.0M277.2 390.5h1.0M310.1 390.6h1.0M284.3 390.2h1.0M304.3 392.9h1.0M286.6 389.9h1.0M291.7 384.0h1.0M293.9 392.1h1.0M282.6 390.5h1.0M277.0 386.7h1.0M289.4 391.0h1.0M282.7 390.4h1.0M293.5 393.5h1.0M284.7 390.5h1.0M292.2 390.3h1.0M322.3 389.6h1.0M305.9 388.8h1.0M286.7 391.6h1.0M287.7 389.9h1.0M325.5 393.8h1.0M319.5 391.6h1.0M315.8 395.8h1.0M284.2 390.5h1.0M305.2 392.2h1.0M304.3 391.6h1.0M302.8 390.5h1.0M320.1 388.8h1.0M274.4 391.4h1.0M322.1 387.3h1.0M321.0 392.5h1.0M289.0 392.7h1.0M285.2 391.9h1.0M289.4 391.3h1.0M325.3 390.3h1.0M308.5 392.2h1.0M304.3 389.4h1.0M296.3 393.8h1.0M292.2 392.0h1.0M308.8 391.3h1.0M299.0 391.9h1.0M324.0 388.7h1.0M323.0 389.8h1.0M277.9 392.6h1.0M285.8 395.3h1.0M285.6 389.4h1.0M286.5 391.6h1.0M318.6 393.5h1.0M293.0 391.0h1.0M305.6 391.2h1.0M289.1 389.0h1.0M291.9 394.4h1.0M310.9 392.5h1.0M308.9 390.0h1.0M285.6 389.8h1.0M304.4 388.8h1.0M284.9 386.9h1.0M304.1 390.7h1.0M321.6 390.4h1.0M276.5 390.4h1.0M303.2 393.7h1.0M293.7 393.1h1.0M320.7 389.5h1.0M323.9 390.2h1.0M305.7 392.3h1.0M275.1 392.0h1.0M318.8 391.8h1.0M277.2 391.5h1.0M326.6 388.8h1.0M319.8 391.2h1.0M274.7 390.9h1.0M285.3 390.4h1.0M292.7 390.0h1.0M298.3 389.9h1.0M321.0 391.1h1.0M282.8 390.3h1.0M326.0 390.7h1.0M309.6 392.9h1.0M318.9 390.0h1.0M291.8 385.3h1.0M293.1 393.8h1.0M288.6 395.1h1.0M323.1 389.0h1.0M293.6 390.1h1.0M286.6 391.3h1.0M316.3 389.6h1.0M320.7 391.7h1.0M293.5 388.9h1.0M277.6 389.8h1.0M303.8 385.7h1.0M285.4 392.2h1.0M314.5 389.9h1.0M286.4 391.1h1.0M288.4 395.3h1.0M325.1 392.2h1.0M288.7 390.2h1.0M293.5 391.7h1.0M305.9 394.7h1.0M318.1 387.8h1.0M281.0 388.0h1.0M318.1 391.3h1.0M293.5 386.8h1.0M319.8 396.2h1.0M321.4 390.1h1.0M284.2 392.0h1.0M286.1 397.0h1.0M303.0 392.3h1.0M293.7 388.1h1.0M297.9 392.4h1.0M277.7 392.0h1.0M319.9 389.7h1.0M282.0 387.2h1.0M310.5 390.8h1.0M286.1 387.9h1.0M285.7 391.9h1.0M286.7 389.6h1.0M305.1 390.9h1.0M284.3 389.0h1.0M322.5 388.9h1.0M288.9 387.3h1.0M312.2 392.7h1.0M316.0 389.3h1.0M284.7 389.6h1.0M286.3 390.9h1.0M305.6 388.0h1.0M322.6 389.9h1.0M327.0 392.7h1.0M285.7 389.8h1.0M304.1 392.2h1.0M310.4 392.8h1.0M281.4 389.2h1.0M289.3 392.2h1.0M318.4 387.3h1.0M284.9 391.2h1.0M310.2 389.1h1.0M287.1 381.9h1.0M276.3 390.1h1.0M308.6 391.2h1.0M285.1 389.8h1.0M277.2 391.3h1.0M287.0 395.4h1.0M287.4 391.1h1.0M315.5 390.9h1.0M287.1 392.4h1.0M325.0 390.5h1.0M279.5 388.5h1.0M305.9 393.1h1.0M321.3 389.6h1.0M308.2 394.6h1.0M298.4 394.2h1.0M282.1 389.4h1.0M321.1 393.9h1.0M281.1 390.5h1.0M304.7 388.4h1.0M302.6 388.8h1.0M288.6 389.5h1.0M322.3 390.4h1.0M286.1 394.8h1.0M321.4 388.7h1.0M287.7 391.4h1.0M274.7 387.7h1.0M275.9 389.4h1.0M274.6 388.6h1.0M282.9 391.0h1.0M310.0 389.5h1.0M276.9 389.2h1.0M287.6 395.7h1.0M318.4 388.1h1.0M305.3 390.6h1.0M309.8 391.8h1.0M323.4 389.1h1.0M293.7 394.2h1.0M286.7 388.1h1.0M296.3 392.9h1.0M286.2 389.4h1.0M323.3 389.8h1.0M304.1 394.6h1.0M275.0 390.8h1.0M305.7 388.7h1.0M312.2 388.7h1.0M302.6 390.4h1.0M284.6 393.5h1.0M309.4 392.8h1.0M287.2 386.2h1.0M277.4 389.7h1.0M277.6 397.5h1.0M318.5 390.3h1.0M304.0 389.9h1.0M276.5 388.9h1.0M285.1 390.7h1.0M276.9 389.0h1.0M281.2 391.4h1.0M287.7 398.9h1.0M299.2 392.1h1.0M309.3 390.7h1.0M273.4 393.9h1.0M326.8 392.2h1.0M303.1 389.9h1.0M305.2 395.0h1.0M276.6 390.6h1.0M325.8 392.8h1.0M299.1 390.0h1.0M284.4 391.1h1.0M319.2 390.2h1.0M318.2 390.4h1.0M277.2 390.9h1.0M284.4 394.6h1.0M293.8 389.9h1.0M289.2 388.3h1.0M318.4 392.5h1.0M276.4 394.1h1.0M277.1 388.0h1.0M299.3 395.0h1.0M318.4 402.1h1.0M318.7 394.5h1.0M308.5 388.5h1.0M321.4 390.2h1.0M309.5 394.1h1.0M276.5 389.0h1.0M286.1 393.8h1.0M305.2 393.0h1.0M275.9 388.4h1.0M310.3 391.0h1.0M326.9 392.1h1.0M284.4 390.6h1.0M286.7 391.4h1.0M297.5 385.7h1.0M298.8 389.9h1.0M320.8 390.6h1.0M311.9 390.8h1.0M322.1 390.2h1.0M304.5 392.1h1.0M303.5 387.6h1.0M319.7 390.4h1.0M304.8 390.2h1.0M296.2 389.4h1.0M275.9 390.2h1.0M322.1 388.5h1.0M305.0 392.4h1.0M310.4 389.7h1.0M320.0 393.4h1.0M320.0 393.6h1.0M284.6 391.4h1.0M305.1 390.2h1.0M305.9 391.9h1.0M286.5 394.3h1.0M274.4 383.2h1.0M286.9 384.6h1.0M273.9 391.2h1.0M285.7 390.1h1.0M313.6 390.1h1.0M308.5 394.5h1.0M305.1 391.0h1.0M293.1 389.0h1.0M281.5 386.7h1.0M304.0 388.7h1.0M276.7 391.1h1.0M309.7 392.5h1.0M326.9 388.3h1.0M286.6 388.5h1.0M276.0 390.4h1.0M323.6 390.7h1.0M308.5 389.1h1.0M274.3 392.1h1.0M302.3 387.2h1.0M321.3 391.2h1.0M305.0 392.9h1.0M285.9 389.6h1.0M322.9 389.9h1.0M284.5 389.2h1.0M284.9 389.3h1.0M276.1 393.9h1.0M308.9 390.3h1.0M304.3 392.5h1.0M309.9 390.6h1.0M310.0 390.8h1.0M322.5 388.3h1.0M308.8 396.2h1.0M319.8 394.2h1.0M310.1 391.3h1.0M282.2 391.0h1.0M302.1 394.8h1.0M325.2 391.2h1.0M304.0 392.1h1.0M281.6 390.4h1.0M291.8 391.7h1.0M303.7 392.5h1.0M289.1 394.1h1.0M322.5 389.7h1.0M273.2 393.0h1.0M305.5 389.4h1.0M298.9 388.8h1.0M299.0 395.3h1.0M302.6 390.7h1.0M285.1 382.9h1.0M293.5 390.5h1.0M298.4 389.4h1.0M286.4 390.6h1.0M276.3 390.1h1.0M318.9 392.0h1.0M305.9 391.2h1.0M304.3 395.3h1.0M316.2 390.3h1.0M293.8 389.2h1.0M304.8 391.9h1.0M321.7 388.7h1.0M292.5 391.0h1.0M294.9 429.7h1.0M291.5 429.8h1.0M285.8 420.0h1.0M287.5 428.9h1.0M279.2 428.7h1.0M325.6 429.6h1.0M298.4 427.0h1.0M283.9 428.6h1.0M287.6 428.3h1.0M315.3 423.7h1.0M314.8 425.2h1.0M276.3 428.0h1.0M294.0 425.7h1.0M294.1 426.9h1.0M325.7 423.4h1.0M325.5 426.6h1.0M290.6 426.6h1.0M287.1 430.6h1.0M286.9 424.8h1.0M323.3 427.6h1.0M287.8 425.8h1.0M314.8 425.2h1.0M287.0 426.0h1.0M327.6 428.9h1.0M325.2 423.7h1.0M323.7 429.8h1.0M285.4 426.1h1.0M296.6 429.3h1.0M309.1 425.7h1.0M315.2 422.2h1.0M278.4 425.9h1.0M299.3 426.3h1.0M308.0 426.1h1.0M288.7 426.4h1.0M284.4 426.5h1.0M285.6 426.9h1.0M289.0 425.7h1.0M287.1 431.4h1.0M287.0 424.9h1.0M286.6 423.2h1.0M319.7 427.1h1.0M290.4 425.1h1.0M320.8 422.9h1.0M282.6 422.6h1.0M317.0 422.8h1.0M294.1 427.0h1.0M296.7 423.3h1.0M296.2 424.8h1.0M288.6 426.9h1.0M321.6 425.9h1.0M286.6 424.7h1.0M276.7 424.3h1.0M285.8 426.9h1.0M299.4 423.0h1.0M284.3 426.4h1.0M283.0 426.6h1.0M283.2 427.9h1.0M325.5 424.3h1.0M292.8 427.6h1.0M324.5 428.4h1.0M321.2 427.8h1.0M284.9 427.2h1.0M286.8 425.1h1.0M285.7 422.7h1.0M295.6 422.0h1.0M286.8 420.4h1.0M313.4 427.8h1.0M319.8 422.7h1.0M298.3 430.8h1.0M286.2 429.7h1.0M319.8 423.7h1.0M326.2 427.8h1.0M294.6 426.3h1.0M306.7 424.5h1.0M288.6 421.9h1.0M292.2 430.1h1.0M321.8 427.9h1.0M298.7 424.0h1.0M285.0 425.8h1.0M294.8 426.9h1.0M296.4 438.4h1.0M290.6 424.2h1.0M290.7 424.3h1.0M284.6 426.5h1.0M287.3 428.7h1.0M285.1 428.0h1.0M299.7 428.9h1.0M275.5 426.3h1.0M296.5 425.9h1.0M326.0 427.3h1.0M294.2 427.1h1.0M303.9 425.7h1.0M324.9 428.8h1.0M315.3 426.3h1.0M285.1 427.6h1.0M324.1 426.3h1.0M289.5 431.8h1.0M324.8 425.2h1.0M326.1 423.8h1.0M296.2 424.4h1.0M309.2 426.0h1.0M317.7 427.2h1.0M286.6 425.6h1.0M297.9 429.8h1.0M323.0 427.8h1.0M308.2 424.1h1.0M304.7 426.0h1.0M297.0 426.3h1.0M301.0 426.9h1.0M324.7 425.5h1.0M311.1 427.9h1.0M279.3 426.1h1.0M284.3 427.4h1.0M285.9 424.3h1.0M276.6 427.3h1.0M282.5 429.6h1.0M294.8 424.8h1.0M287.3 427.2h1.0M284.9 427.7h1.0M307.3 424.4h1.0M323.8 425.2h1.0M285.0 427.2h1.0M279.5 434.8h1.0M293.4 422.2h1.0M326.5 430.1h1.0M288.5 425.2h1.0M284.4 422.6h1.0M313.0 427.8h1.0M275.8 428.6h1.0M293.0 425.9h1.0M286.7 423.4h1.0M323.2 428.6h1.0M281.5 423.0h1.0M285.7 427.2h1.0M314.8 428.0h1.0M289.2 428.2h1.0M322.9 423.7h1.0M310.1 423.6h1.0M312.6 424.2h1.0M300.8 427.0h1.0M307.8 425.8h1.0M320.7 429.4h1.0M280.2 423.2h1.0M286.4 424.6h1.0M282.8 426.2h1.0M308.4 424.0h1.0M314.3 429.8h1.0M284.3 427.0h1.0M287.4 429.6h1.0M282.6 427.7h1.0M287.7 427.9h1.0M296.2 425.2h1.0M295.3 425.5h1.0M291.6 428.6h1.0M285.7 426.7h1.0M310.3 428.9h1.0M288.8 426.0h1.0M284.4 424.3h1.0M290.7 426.4h1.0M276.4 432.8h1.0M316.6 424.6h1.0M282.4 425.1h1.0M325.0 420.1h1.0M295.5 427.2h1.0M318.6 427.4h1.0M295.4 427.3h1.0M305.8 425.3h1.0M275.8 426.8h1.0M301.4 425.6h1.0M287.8 428.1h1.0M300.0 427.6h1.0M286.2 425.1h1.0M317.9 426.8h1.0M279.8 423.3h1.0M292.2 423.2h1.0M320.4 430.4h1.0M284.6 424.7h1.0M284.2 423.3h1.0M297.5 431.0h1.0M322.5 423.3h1.0M298.0 424.3h1.0M327.9 428.6h1.0M284.4 426.0h1.0M275.0 428.5h1.0M314.5 422.9h1.0M288.6 426.7h1.0M326.1 423.7h1.0M299.7 427.2h1.0M287.1 425.0h1.0M325.2 428.4h1.0M296.0 425.2h1.0M288.6 428.8h1.0M324.4 424.4h1.0M307.3 423.3h1.0M279.6 424.0h1.0M282.5 424.6h1.0M320.7 425.5h1.0M320.5 426.2h1.0M297.5 427.7h1.0M326.0 427.8h1.0M310.1 425.3h1.0M290.0 427.8h1.0M300.0 430.1h1.0M294.3 423.3h1.0M287.1 431.8h1.0M300.0 427.4h1.0M292.4 423.6h1.0M287.6 426.6h1.0M282.4 427.2h1.0M290.7 423.9h1.0M299.5 425.6h1.0M286.6 423.9h1.0M285.7 425.4h1.0M286.2 426.5h1.0M295.2 425.7h1.0M292.3 429.3h1.0M301.4 425.2h1.0M275.3 429.1h1.0M293.8 426.3h1.0M286.9 427.7h1.0M283.9 421.8h1.0M286.9 426.7h1.0M314.6 431.0h1.0M312.8 424.2h1.0M315.5 421.7h1.0M315.3 428.1h1.0M296.0 427.0h1.0M280.4 426.6h1.0M287.4 425.0h1.0M315.0 424.2h1.0M308.5 431.9h1.0M282.7 424.3h1.0M326.0 427.8h1.0M287.3 425.9h1.0M315.1 432.4h1.0M287.6 424.0h1.0M289.4 427.8h1.0M303.6 424.6h1.0M284.5 426.7h1.0M317.7 424.1h1.0M317.7 429.2h1.0M288.7 425.6h1.0M279.1 428.3h1.0M324.8 422.2h1.0M277.1 425.2h1.0M279.9 426.3h1.0M324.4 425.6h1.0M308.4 427.3h1.0M292.6 422.4h1.0M321.7 424.1h1.0M293.9 429.6h1.0M295.8 428.3h1.0M321.2 424.1h1.0M284.9 426.6h1.0M298.5 427.3h1.0M288.0 426.1h1.0M288.6 425.6h1.0M307.6 424.2h1.0M293.3 425.3h1.0M322.4 427.9h1.0M315.0 425.4h1.0M276.3 428.8h1.0M289.9 424.8h1.0M288.8 428.3h1.0M297.6 429.2h1.0M298.2 430.6h1.0M276.0 423.0h1.0M285.4 428.0h1.0M289.1 424.1h1.0M289.5 423.5h1.0M287.6 425.7h1.0M273.1 429.3h1.0M320.3 423.4h1.0M285.7 429.1h1.0M320.6 425.9h1.0M299.4 426.4h1.0M285.7 430.2h1.0M289.1 426.4h1.0M294.1 423.9h1.0M278.9 424.9h1.0M315.5 426.1h1.0M318.7 424.1h1.0M281.0 426.5h1.0M307.9 427.5h1.0M283.6 423.7h1.0M323.0 427.9h1.0M280.3 429.6h1.0M326.5 425.7h1.0M287.5 431.6h1.0M283.2 428.1h1.0M296.3 429.3h1.0M288.0 424.9h1.0M297.3 422.9h1.0M279.7 424.8h1.0M295.3 427.4h1.0M278.5 425.4h1.0M321.8 427.9h1.0M282.6 424.1h1.0M280.0 425.2h1.0M327.4 423.3h1.0M294.3 426.0h1.0M297.3 429.1h1.0M289.5 427.8h1.0M317.1 426.8h1.0M320.9 423.9h1.0M307.5 424.8h1.0M306.3 428.0h1.0M289.1 424.3h1.0M307.3 424.6h1.0M296.0 424.8h1.0M297.2 426.8h1.0M285.9 427.8h1.0M309.2 423.8h1.0M289.3 431.9h1.0M314.0 426.6h1.0M300.2 431.0h1.0M313.5 427.3h1.0M290.8 427.9h1.0M313.5 421.3h1.0M299.6 431.1h1.0M307.8 425.5h1.0M314.1 424.8h1.0M308.3 429.2h1.0M283.2 422.5h1.0M287.4 424.1h1.0M288.8 424.8h1.0M293.5 427.9h1.0M288.8 428.8h1.0M278.8 426.6h1.0M284.4 427.5h1.0M321.6 423.3h1.0M320.5 426.9h1.0M284.2 425.1h1.0M287.1 426.5h1.0M302.8 426.7h1.0M286.2 428.5h1.0M280.2 427.0h1.0M279.6 421.3h1.0M318.4 431.2h1.0M308.8 428.2h1.0M289.5 418.9h1.0M301.9 425.1h1.0M279.3 427.4h1.0M298.7 427.2h1.0M308.7 431.3h1.0M279.9 423.7h1.0M285.3 427.8h1.0M289.1 424.3h1.0M327.0 426.8h1.0M290.6 423.9h1.0M276.5 425.3h1.0M295.1 428.4h1.0M296.1 428.7h1.0M295.7 429.8h1.0M315.3 429.5h1.0M278.8 425.1h1.0M313.7 435.5h1.0M327.7 429.4h1.0M308.8 425.9h1.0M285.1 423.5h1.0M299.8 424.7h1.0M291.1 428.1h1.0M284.2 429.3h1.0M297.0 424.2h1.0M287.6 426.0h1.0M310.6 429.7h1.0M315.2 425.7h1.0M326.2 424.9h1.0M290.6 425.3h1.0M313.4 427.0h1.0M296.4 426.2h1.0M296.4 423.8h1.0M325.3 426.1h1.0M314.1 427.4h1.0M282.9 423.9h1.0M322.9 424.1h1.0M288.7 427.8h1.0M297.1 424.0h1.0M278.4 426.0h1.0M299.8 426.5h1.0M299.7 425.7h1.0M285.7 425.4h1.0M325.9 427.2h1.0M316.9 426.1h1.0M326.9 425.9h1.0M314.8 424.9h1.0M293.0 429.3h1.0M283.5 424.2h1.0M311.6 431.9h1.0M275.0 425.8h1.0M307.6 426.4h1.0M325.3 427.6h1.0M294.4 428.6h1.0M327.2 427.4h1.0M277.1 426.7h1.0M298.0 425.5h1.0M287.5 425.9h1.0M287.2 429.2h1.0M285.6 426.9h1.0M294.3 424.8h1.0M299.2 428.7h1.0M318.7 428.0h1.0M286.0 428.1h1.0M299.7 426.2h1.0M293.4 426.4h1.0M283.0 424.0h1.0M273.0 427.5h1.0M287.2 425.0h1.0M325.4 424.6h1.0M325.3 426.4h1.0M309.9 423.8h1.0M287.5 426.2h1.0M284.3 425.2h1.0M278.8 427.6h1.0M299.1 426.6h1.0M315.2 423.1h1.0M284.2 424.3h1.0M324.5 430.0h1.0M293.6 426.0h1.0M308.1 427.6h1.0M287.7 430.5h1.0M275.5 422.0h1.0M308.8 426.3h1.0M320.9 429.6h1.0M289.1 426.9h1.0M294.3 426.3h1.0M282.7 424.7h1.0M288.1 426.2h1.0M315.6 428.4h1.0M290.0 431.4h1.0M296.0 427.1h1.0M295.6 427.0h1.0M319.9 424.9h1.0M315.0 425.7h1.0M284.7 426.8h1.0M278.3 426.8h1.0M299.0 426.2h1.0M321.0 426.5h1.0M299.9 423.9h1.0M283.9 425.2h1.0M284.4 429.8h1.0M323.4 424.0h1.0M295.1 426.1h1.0M297.5 424.7h1.0M325.7 424.2h1.0M286.0 425.3h1.0M285.8 427.8h1.0M287.5 424.0h1.0M313.8 424.1h1.0M286.4 428.8h1.0M285.6 430.2h1.0M326.4 425.1h1.0M326.0 425.3h1.0M296.6 425.4h1.0M315.5 425.4h1.0M298.3 427.2h1.0M326.5 425.6h1.0M320.0 425.6h1.0M320.5 426.8h1.0M296.1 422.5h1.0M302.4 424.7h1.0M319.9 423.4h1.0M320.4 424.2h1.0M296.4 427.4h1.0M325.0 425.3h1.0M308.7 428.1h1.0M295.8 427.9h1.0M314.3 425.7h1.0M315.4 425.7h1.0M313.4 422.8h1.0M296.2 430.8h1.0M284.3 424.5h1.0M283.3 427.4h1.0M299.1 423.0h1.0M296.8 423.6h1.0M298.8 424.6h1.0M289.5 421.4h1.0M278.5 425.9h1.0M285.2 425.6h1.0M293.9 428.2h1.0M321.0 424.6h1.0M297.1 423.8h1.0M303.0 424.3h1.0M287.0 425.8h1.0M278.7 421.5h1.0M296.7 423.9h1.0M292.5 424.6h1.0M281.2 424.8h1.0M312.8 428.1h1.0M279.1 422.7h1.0M284.8 425.4h1.0M287.7 427.9h1.0M287.4 426.2h1.0M299.2 425.5h1.0M293.2 426.8h1.0M326.0 422.4h1.0M323.0 427.2h1.0M295.0 434.6h1.0M314.4 426.3h1.0M315.5 426.2h1.0M284.1 427.3h1.0M275.2 427.1h1.0M288.8 429.3h1.0M287.3 425.0h1.0M288.4 426.8h1.0M314.5 425.8h1.0M290.7 422.5h1.0M275.4 425.6h1.0M323.2 425.9h1.0M310.4 422.6h1.0M320.3 424.6h1.0M307.4 425.7h1.0M288.9 421.4h1.0M324.5 425.5h1.0M298.8 424.8h1.0M298.9 424.6h1.0M287.4 431.5h1.0M324.7 425.5h1.0M301.3 430.5h1.0M295.9 426.4h1.0M323.2 425.6h1.0M303.5 428.0h1.0M286.0 426.1h1.0M307.7 430.4h1.0M308.5 427.1h1.0M286.1 426.7h1.0M287.7 429.7h1.0M287.0 427.2h1.0M287.6 423.5h1.0M285.0 427.5h1.0M284.5 428.8h1.0M279.0 426.7h1.0M285.7 425.2h1.0M282.8 424.4h1.0M285.6 428.5h1.0M292.7 424.0h1.0M313.9 425.9h1.0M313.6 428.5h1.0M301.8 423.7h1.0M299.6 427.3h1.0M285.5 430.2h1.0M288.2 424.8h1.0M285.7 438.2h1.0M277.0 428.9h1.0M289.7 423.7h1.0M325.1 424.8h1.0M286.6 423.4h1.0M309.0 426.0h1.0M318.0 426.6h1.0M294.5 421.3h1.0M297.0 424.2h1.0M321.2 426.6h1.0M286.0 427.6h1.0M284.2 428.4h1.0M278.1 421.5h1.0M326.9 422.9h1.0M327.2 429.4h1.0M280.2 427.2h1.0M300.7 423.8h1.0M311.8 424.5h1.0M284.6 423.3h1.0M294.2 426.9h1.0M324.7 425.1h1.0M289.5 422.7h1.0M284.5 426.6h1.0M322.7 430.9h1.0M284.5 425.9h1.0M296.6 425.8h1.0M285.5 427.3h1.0M279.8 425.3h1.0M319.8 429.6h1.0M305.6 421.3h1.0M293.1 430.3h1.0M320.0 425.0h1.0M287.7 423.4h1.0M281.1 428.4h1.0M285.8 426.7h1.0M287.4 425.1h1.0M290.9 427.4h1.0M324.5 425.2h1.0M286.7 424.7h1.0M297.2 428.2h1.0M292.7 427.0h1.0M284.0 420.5h1.0M311.1 427.3h1.0M293.6 428.7h1.0M287.4 426.0h1.0M283.5 426.7h1.0M325.1 429.2h1.0M297.5 428.2h1.0M326.0 424.3h1.0M322.6 419.7h1.0M308.6 428.0h1.0M288.6 428.8h1.0M295.6 428.1h1.0M293.2 430.4h1.0M290.5 426.7h1.0M283.6 424.3h1.0M308.3 425.7h1.0M326.1 427.6h1.0M326.0 426.9h1.0M326.4 426.1h1.0M288.3 425.8h1.0M291.7 426.3h1.0M296.4 427.7h1.0M279.7 425.0h1.0M283.9 429.5h1.0M297.4 427.5h1.0M276.7 430.4h1.0M295.8 430.7h1.0M288.1 426.5h1.0M324.6 428.6h1.0M327.0 428.4h1.0M315.3 425.9h1.0M287.1 428.7h1.0M287.7 426.6h1.0M306.2 425.6h1.0M289.1 424.3h1.0M321.6 426.1h1.0M307.7 425.3h1.0M284.2 425.6h1.0M275.8 423.6h1.0M296.8 427.7h1.0M278.4 424.6h1.0M293.6 422.4h1.0M296.7 427.5h1.0M312.2 424.9h1.0M289.0 426.5h1.0M296.1 428.5h1.0M284.0 426.6h1.0M305.7 421.9h1.0M286.9 423.8h1.0M275.7 430.9h1.0M298.4 431.1h1.0M285.5 428.1h1.0M283.8 428.9h1.0M294.7 428.0h1.0M285.0 427.2h1.0M290.0 428.0h1.0M313.9 430.6h1.0M299.4 426.8h1.0M284.3 427.1h1.0M276.8 428.4h1.0M290.7 426.0h1.0M321.3 422.4h1.0M286.8 420.5h1.0M290.5 425.6h1.0M325.3 412.5h1.0M325.8 425.3h1.0M298.5 431.0h1.0M313.4 425.9h1.0M296.2 429.9h1.0M296.3 427.3h1.0M285.6 430.3h1.0M279.2 427.0h1.0M285.9 424.2h1.0M323.6 425.2h1.0M307.4 426.0h1.0M291.7 427.9h1.0M327.3 427.0h1.0M288.0 425.0h1.0M286.0 428.1h1.0M320.7 428.0h1.0M278.5 425.2h1.0M293.3 428.9h1.0M302.1 423.8h1.0M286.1 427.2h1.0M320.6 429.2h1.0M299.5 428.5h1.0M279.1 427.5h1.0M288.9 426.0h1.0M307.7 431.8h1.0M292.9 426.4h1.0M307.8 427.1h1.0M288.2 424.1h1.0M285.4 430.3h1.0M287.5 427.7h1.0M316.7 424.7h1.0M279.8 428.1h1.0M296.7 424.5h1.0M279.8 424.6h1.0M296.2 423.8h1.0M308.7 425.0h1.0M283.8 429.0h1.0M325.3 423.6h1.0M289.5 426.1h1.0M292.1 426.4h1.0M296.8 427.4h1.0M325.2 425.9h1.0M303.8 425.1h1.0M290.1 427.3h1.0M314.4 428.7h1.0M279.6 425.2h1.0M296.3 427.6h1.0M289.8 424.1h1.0M289.3 426.7h1.0M325.9 424.9h1.0M310.1 425.2h1.0M299.8 430.3h1.0M290.8 425.7h1.0M287.3 425.8h1.0M290.9 426.1h1.0M290.0 426.6h1.0M326.0 424.6h1.0M280.1 429.1h1.0M295.0 425.3h1.0M284.3 425.9h1.0M276.2 426.8h1.0M292.4 430.0h1.0M294.4 424.6h1.0M308.9 424.5h1.0M300.1 429.8h1.0M285.7 427.5h1.0M298.5 426.3h1.0M324.5 424.2h1.0M293.1 428.1h1.0M279.3 423.4h1.0M283.4 426.9h1.0M292.3 423.2h1.0M320.9 431.2h1.0M287.5 425.6h1.0M289.9 427.1h1.0M288.3 425.7h1.0M283.8 425.4h1.0M287.5 424.5h1.0M296.8 423.8h1.0M313.4 425.5h1.0M284.4 431.8h1.0M317.6 427.6h1.0M277.1 428.9h1.0M313.9 428.2h1.0M313.7 424.8h1.0M324.7 431.1h1.0M296.1 426.8h1.0M298.4 427.6h1.0M284.7 426.7h1.0M286.6 424.0h1.0M285.9 425.5h1.0M316.7 427.4h1.0M314.3 427.1h1.0M292.8 428.8h1.0M295.9 420.2h1.0M318.5 429.9h1.0M297.6 424.8h1.0M321.8 431.2h1.0M283.5 424.4h1.0M307.5 426.2h1.0M283.6 427.5h1.0M299.9 428.7h1.0M295.7 425.4h1.0M289.1 427.8h1.0M287.6 424.7h1.0M321.8 427.4h1.0M287.4 432.6h1.0M286.5 427.0h1.0M296.5 429.5h1.0M278.3 425.1h1.0M325.3 430.5h1.0M297.8 428.0h1.0M299.0 424.0h1.0M327.2 424.3h1.0M298.7 422.0h1.0M326.4 424.0h1.0M293.1 424.8h1.0M326.1 426.1h1.0M285.3 428.0h1.0M275.6 426.4h1.0M287.5 430.0h1.0M319.9 427.8h1.0M285.0 422.1h1.0M285.4 425.6h1.0M325.3 428.0h1.0M295.8 429.4h1.0M279.5 422.5h1.0M326.9 425.9h1.0M312.2 426.1h1.0M315.2 426.6h1.0M302.4 428.5h1.0M280.9 423.3h1.0M284.1 431.1h1.0M285.5 423.3h1.0M282.3 425.6h1.0M292.3 427.7h1.0M307.9 423.7h1.0M300.4 426.8h1.0M286.0 428.0h1.0M287.9 427.9h1.0M286.8 428.0h1.0M295.7 421.8h1.0M314.8 425.1h1.0M308.1 431.5h1.0M282.4 424.9h1.0M279.1 425.7h1.0M312.8 425.9h1.0M273.9 427.4h1.0M320.5 424.1h1.0M320.3 429.9h1.0M299.9 426.4h1.0M292.4 426.4h1.0M290.8 426.6h1.0M321.7 425.5h1.0M296.1 427.0h1.0M307.8 427.3h1.0M305.5 427.8h1.0M287.6 423.4h1.0M289.2 427.6h1.0M304.0 429.8h1.0M285.1 430.3h1.0M297.3 426.8h1.0M298.7 427.4h1.0M324.2 428.6h1.0M288.9 422.8h1.0M298.7 426.3h1.0M295.9 428.6h1.0M296.4 424.4h1.0M320.5 424.8h1.0M296.2 427.1h1.0M289.7 424.3h1.0M307.7 429.7h1.0M296.3 431.0h1.0M283.9 431.3h1.0M296.0 428.8h1.0M318.3 428.2h1.0M303.0 428.8h1.0M290.2 423.9h1.0M287.7 426.8h1.0M288.7 426.8h1.0M301.0 428.2h1.0M285.6 427.1h1.0M315.1 423.3h1.0M294.3 424.2h1.0M286.1 426.0h1.0M301.5 426.4h1.0M285.3 423.2h1.0M292.8 424.0h1.0M287.0 429.2h1.0M286.5 427.6h1.0M310.7 426.4h1.0M325.8 426.6h1.0M324.5 426.0h1.0M292.8 427.8h1.0M286.1 428.9h1.0M284.2 425.3h1.0M291.8 424.8h1.0M278.8 427.8h1.0M280.1 423.8h1.0M288.5 420.9h1.0M314.9 424.6h1.0M327.1 426.3h1.0M279.6 428.1h1.0M324.4 423.8h1.0M299.1 435.7h1.0M300.2 428.8h1.0M294.4 424.4h1.0M323.1 433.6h1.0M296.8 424.3h1.0M325.8 427.3h1.0M279.7 425.3h1.0M296.2 426.1h1.0M295.9 427.3h1.0M289.7 423.8h1.0M320.3 423.9h1.0M278.8 430.5h1.0M277.2 422.4h1.0M287.5 429.3h1.0M294.9 428.5h1.0M299.6 424.7h1.0M320.2 426.2h1.0M307.8 425.2h1.0M277.1 427.5h1.0M283.2 424.4h1.0M320.0 426.3h1.0M282.8 425.1h1.0M295.9 424.9h1.0M310.0 425.4h1.0M287.6 430.2h1.0M290.8 425.8h1.0M299.7 425.0h1.0M282.8 425.8h1.0M284.6 430.4h1.0M325.3 424.6h1.0M310.9 421.4h1.0M282.4 428.4h1.0M279.9 426.0h1.0M287.5 426.4h1.0M320.3 426.3h1.0M314.3 428.6h1.0M321.1 427.8h1.0M287.5 423.1h1.0M275.4 426.4h1.0M325.4 426.1h1.0M308.8 428.8h1.0M320.0 425.5h1.0M290.6 427.2h1.0M299.4 423.2h1.0M298.1 424.9h1.0M287.9 425.6h1.0M287.8 425.8h1.0M301.9 427.5h1.0M287.3 427.0h1.0M278.8 429.5h1.0M286.0 428.3h1.0M296.4 427.7h1.0M286.3 424.5h1.0M280.1 425.6h1.0M285.6 427.5h1.0M299.7 424.2h1.0M297.6 431.0h1.0M325.3 429.9h1.0M294.7 427.5h1.0M301.7 427.3h1.0M299.3 427.3h1.0M322.7 425.1h1.0M296.2 426.7h1.0M325.8 430.3h1.0M297.4 426.8h1.0M290.3 427.9h1.0M314.3 424.9h1.0M283.5 428.7h1.0M285.1 427.2h1.0M294.1 424.6h1.0M293.7 429.5h1.0M284.4 429.2h1.0M321.3 424.2h1.0M323.1 425.9h1.0M285.0 426.0h1.0M312.8 428.6h1.0M313.4 420.5h1.0M307.4 426.2h1.0M284.4 424.1h1.0M299.7 424.9h1.0M323.0 424.8h1.0M280.2 426.0h1.0M286.0 428.1h1.0M312.6 424.3h1.0M314.9 429.8h1.0M311.0 425.8h1.0M296.4 422.7h1.0M320.4 423.4h1.0M325.1 428.5h1.0M326.0 427.1h1.0M286.1 426.5h1.0M307.9 422.8h1.0M314.7 425.6h1.0M282.5 425.5h1.0M288.0 426.5h1.0M307.6 427.3h1.0M311.0 426.0h1.0M320.6 425.1h1.0M284.2 428.9h1.0M280.1 426.1h1.0M293.3 425.1h1.0M287.5 423.4h1.0M288.6 424.5h1.0M285.9 426.6h1.0M308.8 430.1h1.0M296.8 426.1h1.0M288.0 427.1h1.0M298.4 428.0h1.0M325.3 428.9h1.0M321.8 424.0h1.0M308.2 427.7h1.0M288.4 427.3h1.0M324.6 429.2h1.0M280.1 428.8h1.0M321.1 426.1h1.0M298.5 421.6h1.0M307.8 428.6h1.0M323.2 431.4h1.0M276.1 427.1h1.0M294.2 427.5h1.0M321.2 429.1h1.0M297.7 426.7h1.0M286.7 430.0h1.0M283.4 426.7h1.0M322.5 424.9h1.0M295.7 424.7h1.0M324.4 426.4h1.0M325.4 427.9h1.0M292.7 426.9h1.0M315.5 429.1h1.0M285.0 428.1h1.0M288.7 424.8h1.0M291.7 424.2h1.0M307.9 424.0h1.0M289.1 427.0h1.0M291.9 427.2h1.0M293.6 429.3h1.0M289.2 428.5h1.0M276.1 427.1h1.0M321.0 428.6h1.0M288.2 428.3h1.0M279.8 427.1h1.0M326.5 426.7h1.0M297.7 426.0h1.0M297.0 425.9h1.0M280.0 426.1h1.0M292.6 426.8h1.0M310.5 424.6h1.0M321.6 424.2h1.0M307.8 428.9h1.0M313.5 429.0h1.0M285.9 432.3h1.0M297.3 430.5h1.0M312.6 424.2h1.0M321.6 429.1h1.0M287.1 429.9h1.0M302.4 428.2h1.0M314.3 426.0h1.0M299.5 425.2h1.0M301.0 432.3h1.0M290.2 424.5h1.0M284.4 422.6h1.0M284.9 425.7h1.0M293.5 424.9h1.0M320.3 429.4h1.0M279.6 435.2h1.0M284.9 424.8h1.0M289.1 425.7h1.0M326.1 426.1h1.0M276.4 425.9h1.0M273.8 426.4h1.0M293.1 427.1h1.0M287.3 425.8h1.0M327.9 421.1h1.0M313.5 425.7h1.0M293.7 425.3h1.0M296.0 429.1h1.0M320.6 424.3h1.0M287.3 429.5h1.0M283.8 424.1h1.0M320.1 424.1h1.0M288.4 426.0h1.0M312.2 426.1h1.0M326.2 426.1h1.0M299.8 424.1h1.0M299.5 425.7h1.0M278.3 424.7h1.0M275.6 427.9h1.0M324.7 428.3h1.0M280.6 424.9h1.0M287.2 421.5h1.0M286.1 425.4h1.0M288.9 425.2h1.0M324.3 431.5h1.0M315.2 424.5h1.0M326.2 428.3h1.0M326.2 424.1h1.0M288.0 424.1h1.0M285.1 427.4h1.0M287.8 428.4h1.0M299.7 423.7h1.0M326.4 423.9h1.0M284.7 431.6h1.0M290.2 428.0h1.0M296.7 424.1h1.0M293.2 428.8h1.0M296.2 427.0h1.0M298.2 423.7h1.0M299.0 425.4h1.0M310.0 427.4h1.0M281.1 427.0h1.0M296.8 425.1h1.0M283.6 423.1h1.0M287.2 426.1h1.0M284.9 426.3h1.0M325.0 427.5h1.0M278.9 425.9h1.0M320.8 426.3h1.0M287.9 425.2h1.0M294.2 427.8h1.0M286.2 425.0h1.0M286.4 429.7h1.0M280.3 424.7h1.0M311.8 429.0h1.0M289.0 425.5h1.0M293.9 426.8h1.0M312.3 423.7h1.0M298.2 429.4h1.0M322.7 426.9h1.0M280.2 424.7h1.0M320.2 428.1h1.0M278.2 423.9h1.0M297.6 425.8h1.0M285.7 426.6h1.0M300.8 422.9h1.0M324.4 422.8h1.0M296.4 425.8h1.0M315.3 424.9h1.0M300.6 423.4h1.0M299.5 427.0h1.0M284.3 427.9h1.0M294.6 428.3h1.0M295.8 426.5h1.0M296.3 425.4h1.0M308.6 426.8h1.0M315.3 426.0h1.0M279.1 429.8h1.0M287.7 422.7h1.0M284.2 422.3h1.0M296.1 425.0h1.0M292.9 424.5h1.0M284.2 424.8h1.0M302.4 423.8h1.0M310.5 427.5h1.0M283.8 425.6h1.0M285.9 425.1h1.0M285.5 424.1h1.0M298.4 426.7h1.0M275.0 426.4h1.0M290.7 423.3h1.0M292.4 427.1h1.0M279.3 428.4h1.0M289.8 429.0h1.0M321.1 428.3h1.0M286.1 425.3h1.0M307.2 422.1h1.0M295.5 426.4h1.0M309.9 426.4h1.0M294.0 423.5h1.0M308.2 423.2h1.0M298.6 427.0h1.0M289.0 425.9h1.0M288.7 425.4h1.0M297.6 426.3h1.0M287.7 427.0h1.0M299.3 425.4h1.0M296.2 424.5h1.0M285.9 424.6h1.0M307.4 427.5h1.0M290.1 425.8h1.0M287.9 425.7h1.0M278.7 423.4h1.0M296.0 426.3h1.0M307.7 427.5h1.0M299.8 425.1h1.0M284.2 425.7h1.0M283.0 424.3h1.0M325.0 424.4h1.0M285.9 426.0h1.0M275.8 422.9h1.0M286.4 423.0h1.0M286.0 425.6h1.0M312.4 423.8h1.0M295.7 429.8h1.0M313.0 427.9h1.0M309.9 425.4h1.0M280.2 425.8h1.0M292.2 430.9h1.0M280.1 426.6h1.0M295.3 427.5h1.0M298.4 428.1h1.0M288.6 427.5h1.0M282.4 429.1h1.0M302.1 427.5h1.0M326.2 429.4h1.0M306.8 424.4h1.0M288.8 425.7h1.0M309.3 425.3h1.0M308.8 426.6h1.0M294.4 428.8h1.0M327.0 427.1h1.0M299.7 426.1h1.0M286.9 425.8h1.0M278.9 428.3h1.0M294.4 427.3h1.0M324.8 429.4h1.0M296.4 424.7h1.0M322.6 421.7h1.0M278.3 427.0h1.0M300.5 426.9h1.0M286.1 424.0h1.0M287.6 428.6h1.0M298.1 425.6h1.0M294.3 428.6h1.0M307.4 428.4h1.0M307.5 421.1h1.0M315.5 428.5h1.0M278.3 425.3h1.0M292.1 422.0h1.0M302.5 426.5h1.0M288.2 431.0h1.0M294.3 426.1h1.0M320.3 429.5h1.0M326.2 424.6h1.0M285.2 425.2h1.0M292.2 424.7h1.0M314.1 425.7h1.0M313.5 425.8h1.0M280.4 429.9h1.0M293.3 426.6h1.0M283.9 424.3h1.0M286.9 432.5h1.0M285.9 430.0h1.0M308.0 425.6h1.0M286.1 425.8h1.0M299.7 428.5h1.0M320.4 423.5h1.0M293.1 427.1h1.0M288.1 425.5h1.0M320.6 424.1h1.0M313.8 427.6h1.0M298.6 424.8h1.0M274.4 427.7h1.0M313.3 429.1h1.0M290.2 425.6h1.0M287.6 428.8h1.0M285.9 425.8h1.0M323.0 428.0h1.0M315.0 426.9h1.0M294.8 428.9h1.0M276.9 421.8h1.0M275.6 430.5h1.0M297.7 421.8h1.0M292.6 427.3h1.0M293.0 425.0h1.0M285.1 429.6h1.0M278.4 426.0h1.0M294.6 425.6h1.0M302.3 428.9h1.0M290.8 431.7h1.0M314.0 421.6h1.0M318.5 425.8h1.0M293.3 424.6h1.0M296.8 423.4h1.0M315.5 429.7h1.0M311.5 427.3h1.0M287.1 428.7h1.0M294.9 429.3h1.0M294.2 426.3h1.0M287.3 428.0h1.0M297.9 418.7h1.0M292.1 427.3h1.0M279.3 426.6h1.0M285.6 427.7h1.0M290.0 429.2h1.0M276.5 424.8h1.0M307.3 423.3h1.0M315.1 429.6h1.0M325.0 426.7h1.0M313.0 427.2h1.0M309.3 428.9h1.0M279.2 427.0h1.0M301.2 428.3h1.0M285.9 426.4h1.0M297.2 421.9h1.0M303.9 432.1h1.0M277.0 429.0h1.0M285.1 429.7h1.0M293.3 423.6h1.0M326.6 424.1h1.0M289.2 426.6h1.0M320.8 424.2h1.0M288.1 422.6h1.0M308.1 426.6h1.0M315.2 427.0h1.0M321.1 423.1h1.0M296.2 429.4h1.0M326.6 423.7h1.0M292.9 427.1h1.0M325.5 425.7h1.0M309.0 428.3h1.0M321.6 425.0h1.0M296.7 425.7h1.0M284.5 427.7h1.0M298.8 425.0h1.0M314.7 426.7h1.0M290.5 427.0h1.0M293.8 425.7h1.0M293.4 431.0h1.0M290.7 430.0h1.0M279.6 427.8h1.0M307.5 426.8h1.0M276.3 428.9h1.0M287.1 426.8h1.0M307.9 429.0h1.0M284.0 428.3h1.0M295.8 428.3h1.0M320.6 427.5h1.0M290.8 426.5h1.0M298.4 428.4h1.0M325.5 425.3h1.0M293.0 431.3h1.0M321.3 424.4h1.0M309.3 426.0h1.0M314.3 425.2h1.0M311.3 427.3h1.0M297.4 427.0h1.0M284.4 429.0h1.0M288.2 427.9h1.0M279.7 427.2h1.0M285.7 422.0h1.0M299.0 420.9h1.0M309.0 427.1h1.0M294.3 425.8h1.0M319.8 426.7h1.0M297.7 425.7h1.0M312.6 423.1h1.0M286.8 424.0h1.0M296.2 420.9h1.0M299.3 428.1h1.0M286.6 423.7h1.0M311.3 424.6h1.0M314.2 422.7h1.0M284.8 425.5h1.0M308.7 427.5h1.0M296.2 431.1h1.0M296.6 429.6h1.0M284.4 427.6h1.0M300.2 429.6h1.0M284.3 426.3h1.0M277.0 430.6h1.0M320.3 427.0h1.0M286.8 427.4h1.0M325.2 426.4h1.0M294.1 431.0h1.0M292.9 425.6h1.0M288.7 426.2h1.0M325.7 429.3h1.0M280.3 425.7h1.0M323.7 424.6h1.0M284.1 427.8h1.0M321.8 425.9h1.0M326.2 429.2h1.0M311.8 424.4h1.0M290.3 424.1h1.0M293.6 424.6h1.0M280.1 424.4h1.0M310.1 428.3h1.0M299.5 428.6h1.0M283.3 428.7h1.0M299.1 425.8h1.0M320.6 422.6h1.0M319.8 425.4h1.0M277.1 428.5h1.0M324.0 426.4h1.0M280.1 422.4h1.0M299.7 427.0h1.0M320.4 428.0h1.0M321.2 423.7h1.0M326.1 422.2h1.0M290.5 427.0h1.0M299.7 424.3h1.0M296.0 425.7h1.0M293.1 427.3h1.0M278.8 428.0h1.0M289.0 421.4h1.0M287.5 426.6h1.0M298.3 425.6h1.0M282.8 423.6h1.0M310.8 421.2h1.0M297.4 427.0h1.0M274.3 427.0h1.0M314.0 423.3h1.0M320.6 427.0h1.0M297.9 425.3h1.0M296.1 427.1h1.0M284.3 428.1h1.0M326.1 426.5h1.0M288.6 423.2h1.0M283.7 426.2h1.0M309.0 427.7h1.0M283.7 425.9h1.0M287.4 427.5h1.0M297.1 426.7h1.0M290.2 428.6h1.0M293.6 424.4h1.0M315.4 426.1h1.0M298.3 426.5h1.0M308.0 424.4h1.0M284.7 420.5h1.0M321.5 426.2h1.0M298.8 426.0h1.0M314.2 427.0h1.0M308.6 422.3h1.0M290.6 420.9h1.0M311.8 426.8h1.0M292.3 425.9h1.0M313.1 424.4h1.0M286.3 433.1h1.0M296.3 425.2h1.0M278.7 428.8h1.0M326.1 422.5h1.0M283.9 425.9h1.0M326.0 425.2h1.0M299.4 427.0h1.0M325.3 426.8h1.0M293.3 422.9h1.0M279.5 422.4h1.0M297.3 423.0h1.0M283.5 427.2h1.0M301.7 428.7h1.0M284.3 427.6h1.0M293.1 424.8h1.0M299.7 427.1h1.0M290.8 423.9h1.0M298.3 425.0h1.0M282.4 426.8h1.0M296.2 425.8h1.0M282.4 426.4h1.0M299.2 429.1h1.0M287.1 425.1h1.0M320.8 423.8h1.0M298.1 425.5h1.0M293.3 425.9h1.0M297.8 424.7h1.0M298.0 425.1h1.0M307.9 427.9h1.0M324.2 427.2h1.0M299.0 423.9h1.0M317.2 428.7h1.0M325.5 423.7h1.0M285.5 426.1h1.0M299.1 427.0h1.0M298.1 424.0h1.0M310.4 427.4h1.0M308.9 427.7h1.0M322.6 425.9h1.0M284.2 429.4h1.0M297.2 429.3h1.0M326.8 428.9h1.0M326.3 425.7h1.0M285.9 430.4h1.0M302.6 428.0h1.0M321.1 430.8h1.0M295.3 426.8h1.0M293.5 424.4h1.0M293.1 430.2h1.0M284.9 425.0h1.0M288.0 427.8h1.0M279.4 424.8h1.0M321.4 420.9h1.0M275.6 428.0h1.0M287.5 423.7h1.0M287.5 431.3h1.0M279.3 427.0h1.0M286.4 430.1h1.0M278.3 423.8h1.0M284.1 425.9h1.0M298.0 428.2h1.0M296.2 426.8h1.0M297.3 426.4h1.0M292.5 426.6h1.0M288.9 429.1h1.0M290.5 425.2h1.0M324.3 426.5h1.0M285.7 428.4h1.0M286.9 423.5h1.0M287.1 425.1h1.0M287.7 427.2h1.0M301.3 428.5h1.0M314.7 424.9h1.0M275.3 426.7h1.0M290.0 428.2h1.0M288.4 426.4h1.0M280.8 428.1h1.0M280.6 428.2h1.0M308.4 428.1h1.0M325.2 428.0h1.0M307.5 427.0h1.0M275.2 429.6h1.0M325.0 420.9h1.0M287.1 426.4h1.0M286.0 426.9h1.0M325.2 426.1h1.0M295.9 425.4h1.0M299.0 429.9h1.0M292.7 433.3h1.0M306.5 424.1h1.0M288.3 425.8h1.0M292.8 425.2h1.0M285.7 430.0h1.0M280.2 427.5h1.0M289.0 429.1h1.0M286.4 427.9h1.0M299.3 426.7h1.0M275.7 429.2h1.0M292.4 424.6h1.0M280.7 422.7h1.0M312.5 429.2h1.0M290.1 429.6h1.0M279.1 428.2h1.0M299.0 428.3h1.0M288.6 430.9h1.0M286.3 417.7h1.0M311.8 422.7h1.0M287.4 425.9h1.0M299.0 428.8h1.0M289.1 427.4h1.0M294.0 429.0h1.0M283.6 424.8h1.0M320.0 426.4h1.0M290.5 427.4h1.0M287.1 426.9h1.0M285.9 424.7h1.0M287.9 429.3h1.0M325.4 428.2h1.0M290.0 428.1h1.0M290.8 425.3h1.0M276.0 431.1h1.0M317.3 412.0h1.0M218.7 399.9h1.0M258.4 401.9h1.0M316.7 442.2h1.0M307.5 397.4h1.0M228.7 418.3h1.0M306.2 380.4h1.0M287.8 395.0h1.0M322.4 423.4h1.0M263.2 416.4h1.0M271.0 398.6h1.0M261.9 391.3h1.0M275.5 392.2h1.0M267.1 410.1h1.0M308.8 410.6h1.0M211.6 410.4h1.0M314.5 401.3h1.0M236.5 439.6h1.0M263.7 434.8h1.0M229.1 420.5h1.0M217.1 407.0h1.0M283.9 402.3h1.0M239.6 409.8h1.0M264.3 431.7h1.0M246.6 406.5h1.0M246.7 383.8h1.0M275.1 377.2h1.0M246.2 425.7h1.0M227.0 431.6h1.0M213.9 416.7h1.0M321.6 421.1h1.0M218.7 417.0h1.0M272.5 404.0h1.0M301.4 402.7h1.0M252.2 391.9h1.0M237.0 402.7h1.0M233.3 391.6h1.0M235.8 391.4h1.0M265.0 381.4h1.0M282.3 403.1h1.0M310.5 420.5h1.0M295.4 437.2h1.0M258.3 428.6h1.0M295.5 409.4h1.0M324.2 442.9h1.0M310.6 419.6h1.0M312.5 385.3h1.0M284.6 404.5h1.0M236.5 373.9h1.0M316.1 396.5h1.0" stroke="#000" stroke-width="1.0" fill="none" opacity="1"/>
<line x1="210.60" y1="408.30" x2="253.60" y2="408.30" stroke="#e8e8e8" stroke-width="1.0" />
<line x1="253.60" y1="408.40" x2="328.20" y2="408.40" stroke="#b5b5b5" stroke-width="0.9" />
<line x1="279.50" y1="285.90" x2="279.50" y2="360.90" stroke="#b0b0b0" stroke-width="0.8" stroke-dasharray="2 1.5"/>
<line x1="279.50" y1="369.70" x2="279.50" y2="446.70" stroke="#9a9a9a" stroke-width="0.8" stroke-dasharray="2 1.5"/>
<rect x="210.6" y="285.9" width="117.6" height="75.0" fill="none" stroke="#000" stroke-width="1.3"/>
<rect x="210.6" y="369.7" width="117.6" height="77.0" fill="none" stroke="#000" stroke-width="1.3"/>
<line x1="207.40" y1="296.55" x2="210.60" y2="296.55" stroke="#000" stroke-width="1.1" />
<text x="205.00" y="298.95" font-size="8.5" text-anchor="end" font-weight="normal" fill="#1a1a1a" stroke="#1a1a1a" stroke-width="0.15" textLength="11.58" lengthAdjust="spacingAndGlyphs" >0.5</text>
<line x1="207.40" y1="318.20" x2="210.60" y2="318.20" stroke="#000" stroke-width="1.1" />
<text x="205.00" y="320.60" font-size="8.5" text-anchor="end" font-weight="normal" fill="#1a1a1a" stroke="#1a1a1a" stroke-width="0.15" textLength="11.58" lengthAdjust="spacingAndGlyphs" >0.0</text>
<line x1="207.40" y1="339.85" x2="210.60" y2="339.85" stroke="#000" stroke-width="1.1" />
<text x="205.00" y="342.25" font-size="8.5" text-anchor="end" font-weight="normal" fill="#1a1a1a" stroke="#1a1a1a" stroke-width="0.15" textLength="16.44" lengthAdjust="spacingAndGlyphs" >−0.5</text>
<line x1="207.40" y1="361.50" x2="210.60" y2="361.50" stroke="#000" stroke-width="1.1" />
<text x="205.00" y="363.90" font-size="8.5" text-anchor="end" font-weight="normal" fill="#1a1a1a" stroke="#1a1a1a" stroke-width="0.15" textLength="16.44" lengthAdjust="spacingAndGlyphs" >−1.0</text>
<line x1="207.40" y1="369.70" x2="210.60" y2="369.70" stroke="#000" stroke-width="1.1" />
<text x="205.00" y="372.10" font-size="8.5" text-anchor="end" font-weight="normal" fill="#1a1a1a" stroke="#1a1a1a" stroke-width="0.15" textLength="11.58" lengthAdjust="spacingAndGlyphs" >1.0</text>
<line x1="207.40" y1="408.20" x2="210.60" y2="408.20" stroke="#000" stroke-width="1.1" />
<text x="205.00" y="410.60" font-size="8.5" text-anchor="end" font-weight="normal" fill="#1a1a1a" stroke="#1a1a1a" stroke-width="0.15" textLength="11.58" lengthAdjust="spacingAndGlyphs" >0.5</text>
<line x1="207.40" y1="446.70" x2="210.60" y2="446.70" stroke="#000" stroke-width="1.1" />
<text x="205.00" y="449.10" font-size="8.5" text-anchor="end" font-weight="normal" fill="#1a1a1a" stroke="#1a1a1a" stroke-width="0.15" textLength="11.58" lengthAdjust="spacingAndGlyphs" >0.0</text>
<line x1="210.60" y1="446.70" x2="210.60" y2="449.70" stroke="#000" stroke-width="1.0" />
<line x1="225.20" y1="446.70" x2="225.20" y2="449.70" stroke="#000" stroke-width="1.0" />
<line x1="239.80" y1="446.70" x2="239.80" y2="449.70" stroke="#000" stroke-width="1.0" />
<line x1="254.40" y1="446.70" x2="254.40" y2="449.70" stroke="#000" stroke-width="1.0" />
<line x1="269.00" y1="446.70" x2="269.00" y2="449.70" stroke="#000" stroke-width="1.0" />
<line x1="283.60" y1="446.70" x2="283.60" y2="449.70" stroke="#000" stroke-width="1.0" />
<line x1="298.20" y1="446.70" x2="298.20" y2="449.70" stroke="#000" stroke-width="1.0" />
<line x1="312.80" y1="446.70" x2="312.80" y2="449.70" stroke="#000" stroke-width="1.0" />
<line x1="327.40" y1="446.70" x2="327.40" y2="449.70" stroke="#000" stroke-width="1.0" />
<text x="269.30" y="272.10" font-size="8.5" text-anchor="middle" font-weight="normal" fill="#1a1a1a" stroke="#1a1a1a" stroke-width="0.15" textLength="27.73" lengthAdjust="spacingAndGlyphs" >F2: II-1</text>
<text x="271.70" y="459.80" font-size="8.75" text-anchor="middle" font-weight="normal" fill="#1a1a1a" stroke="#1a1a1a" stroke-width="0.15" >Chr7 (genomic coordinate)</text>
<text x="184.4" y="323.6" font-size="8.4" text-anchor="middle" fill="#1a1a1a" stroke="#1a1a1a" stroke-width="0.15" transform="rotate(-90 184.4 323.6)">LogR value</text>
<text x="184.4" y="409.5" font-size="8.4" text-anchor="middle" fill="#1a1a1a" stroke="#1a1a1a" stroke-width="0.15" transform="rotate(-90 184.4 409.5)">B–allele frequency</text>
<line x1="349.10" y1="336.00" x2="441.60" y2="336.00" stroke="#3a1a28" stroke-width="0.8" />
<polyline points="350.70,336.00 350.94,335.22 351.18,334.18 351.43,332.86 351.67,331.24 351.91,329.36 352.15,327.29 352.39,325.13 352.63,323.04 352.88,321.16 353.12,319.68 353.36,318.73 353.60,318.40 353.84,318.73 354.08,319.68 354.33,321.16 354.57,323.04 354.81,325.13 355.05,327.29 355.29,329.36 355.53,331.24 355.78,332.86 356.02,334.18 356.26,335.22 356.50,336.00" fill="none" stroke="#b5365a" stroke-width="1.05" stroke-linejoin="round"/>
<polyline points="355.30,336.00 355.54,334.69 355.78,332.95 356.02,330.72 356.27,328.00 356.51,324.84 356.75,321.35 356.99,317.72 357.23,314.20 357.47,311.05 357.72,308.56 357.96,306.95 358.20,306.40 358.44,306.95 358.68,308.56 358.93,311.05 359.17,314.20 359.41,317.72 359.65,321.35 359.89,324.84 360.13,328.00 360.38,330.72 360.62,332.95 360.86,334.69 361.10,336.00" fill="none" stroke="#1c1c1c" stroke-width="1.05" stroke-linejoin="round"/>
<polyline points="360.80,336.00 361.04,335.16 361.28,334.05 361.52,332.63 361.77,330.89 362.01,328.87 362.25,326.65 362.49,324.33 362.73,322.08 362.97,320.07 363.22,318.48 363.46,317.45 363.70,317.10 363.94,317.45 364.18,318.48 364.43,320.07 364.67,322.08 364.91,324.33 365.15,326.65 365.39,328.87 365.63,330.89 365.88,332.63 366.12,334.05 366.36,335.16 366.60,336.00" fill="none" stroke="#4866ac" stroke-width="1.05" stroke-linejoin="round"/>
<polyline points="365.20,336.00 365.44,334.83 365.68,333.27 365.93,331.27 366.17,328.84 366.41,326.01 366.65,322.89 366.89,319.64 367.13,316.48 367.38,313.66 367.62,311.43 367.86,310.00 368.10,309.50 368.34,310.00 368.58,311.43 368.83,313.66 369.07,316.48 369.31,319.64 369.55,322.89 369.79,326.01 370.03,328.84 370.28,331.27 370.52,333.27 370.76,334.83 371.00,336.00" fill="none" stroke="#b5365a" stroke-width="1.05" stroke-linejoin="round"/>
<polyline points="370.10,336.00 370.34,334.52 370.58,332.55 370.82,330.04 371.07,326.97 371.31,323.40 371.55,319.47 371.79,315.38 372.03,311.40 372.27,307.85 372.52,305.03 372.76,303.22 373.00,302.60 373.24,303.22 373.48,305.03 373.73,307.85 373.97,311.40 374.21,315.38 374.45,319.47 374.69,323.40 374.93,326.97 375.18,330.04 375.42,332.55 375.66,334.52 375.90,336.00" fill="none" stroke="#1c1c1c" stroke-width="1.05" stroke-linejoin="round"/>
<polyline points="375.10,336.00 375.34,335.31 375.58,334.38 375.82,333.20 376.07,331.76 376.31,330.08 376.55,328.23 376.79,326.31 377.03,324.44 377.27,322.77 377.52,321.44 377.76,320.59 378.00,320.30 378.24,320.59 378.48,321.44 378.73,322.77 378.97,324.44 379.21,326.31 379.45,328.23 379.69,330.08 379.93,331.76 380.18,333.20 380.42,334.38 380.66,335.31 380.90,336.00" fill="none" stroke="#b5365a" stroke-width="1.05" stroke-linejoin="round"/>
<polyline points="379.60,336.00 379.84,334.31 380.08,332.06 380.32,329.18 380.57,325.67 380.81,321.59 381.05,317.10 381.29,312.41 381.53,307.86 381.77,303.80 382.02,300.58 382.26,298.51 382.50,297.80 382.74,298.51 382.98,300.58 383.23,303.80 383.47,307.86 383.71,312.41 383.95,317.10 384.19,321.59 384.43,325.67 384.68,329.18 384.92,332.06 385.16,334.31 385.40,336.00" fill="none" stroke="#1c1c1c" stroke-width="1.05" stroke-linejoin="round"/>
<polyline points="385.00,336.00 385.24,335.11 385.48,333.93 385.72,332.41 385.97,330.57 386.21,328.42 386.45,326.05 386.69,323.59 386.93,321.19 387.17,319.06 387.42,317.36 387.66,316.28 387.90,315.90 388.14,316.28 388.38,317.36 388.62,319.06 388.87,321.19 389.11,323.59 389.35,326.05 389.59,328.42 389.83,330.57 390.07,332.41 390.32,333.93 390.56,335.11 390.80,336.00" fill="none" stroke="#b5365a" stroke-width="1.05" stroke-linejoin="round"/>
<polyline points="389.80,336.00 390.04,335.12 390.28,333.96 390.52,332.47 390.77,330.65 391.01,328.53 391.25,326.20 391.49,323.77 391.73,321.42 391.97,319.31 392.22,317.64 392.46,316.57 392.70,316.20 392.94,316.57 393.18,317.64 393.43,319.31 393.67,321.42 393.91,323.77 394.15,326.20 394.39,328.53 394.63,330.65 394.88,332.47 395.12,333.96 395.36,335.12 395.60,336.00" fill="none" stroke="#b5365a" stroke-width="1.05" stroke-linejoin="round"/>
<polyline points="393.80,336.00 394.04,335.05 394.28,333.79 394.52,332.18 394.77,330.22 395.01,327.93 395.25,325.41 395.49,322.79 395.73,320.24 395.97,317.96 396.22,316.16 396.46,315.00 396.70,314.60 396.94,315.00 397.18,316.16 397.43,317.96 397.67,320.24 397.91,322.79 398.15,325.41 398.39,327.93 398.63,330.22 398.88,332.18 399.12,333.79 399.36,335.05 399.60,336.00" fill="none" stroke="#8ac672" stroke-width="1.05" stroke-linejoin="round"/>
<polyline points="398.20,336.00 398.44,335.23 398.68,334.19 398.93,332.88 399.17,331.27 399.41,329.40 399.65,327.34 399.89,325.19 400.13,323.11 400.38,321.25 400.62,319.77 400.86,318.83 401.10,318.50 401.34,318.83 401.58,319.77 401.83,321.25 402.07,323.11 402.31,325.19 402.55,327.34 402.79,329.40 403.03,331.27 403.28,332.88 403.52,334.19 403.76,335.23 404.00,336.00" fill="none" stroke="#8ac672" stroke-width="1.05" stroke-linejoin="round"/>
<polyline points="398.20,336.00 398.44,335.51 398.68,334.87 398.93,334.04 399.17,333.03 399.41,331.85 399.65,330.56 399.89,329.21 400.13,327.90 400.38,326.73 400.62,325.80 400.86,325.21 401.10,325.00 401.34,325.21 401.58,325.80 401.83,326.73 402.07,327.90 402.31,329.21 402.55,330.56 402.79,331.85 403.03,333.03 403.28,334.04 403.52,334.87 403.76,335.51 404.00,336.00" fill="none" stroke="#b5365a" stroke-width="1.05" stroke-linejoin="round"/>
<polyline points="402.80,336.00 403.04,335.05 403.28,333.79 403.52,332.18 403.77,330.22 404.01,327.93 404.25,325.41 404.49,322.79 404.73,320.24 404.97,317.96 405.22,316.16 405.46,315.00 405.70,314.60 405.94,315.00 406.18,316.16 406.43,317.96 406.67,320.24 406.91,322.79 407.15,325.41 407.39,327.93 407.63,330.22 407.88,332.18 408.12,333.79 408.36,335.05 408.60,336.00" fill="none" stroke="#8ac672" stroke-width="1.05" stroke-linejoin="round"/>
<polyline points="407.20,336.00 407.44,335.05 407.68,333.79 407.93,332.18 408.17,330.22 408.41,327.93 408.65,325.41 408.89,322.79 409.13,320.24 409.38,317.96 409.62,316.16 409.86,315.00 410.10,314.60 410.34,315.00 410.58,316.16 410.83,317.96 411.07,320.24 411.31,322.79 411.55,325.41 411.79,327.93 412.03,330.22 412.28,332.18 412.52,333.79 412.76,335.05 413.00,336.00" fill="none" stroke="#8ac672" stroke-width="1.05" stroke-linejoin="round"/>
<polyline points="411.60,336.00 411.84,334.86 412.08,333.34 412.32,331.40 412.57,329.03 412.81,326.27 413.05,323.23 413.29,320.07 413.53,317.00 413.77,314.25 414.02,312.08 414.26,310.68 414.50,310.20 414.74,310.68 414.98,312.08 415.23,314.25 415.47,317.00 415.71,320.07 415.95,323.23 416.19,326.27 416.43,329.03 416.68,331.40 416.92,333.34 417.16,334.86 417.40,336.00" fill="none" stroke="#8ac672" stroke-width="1.05" stroke-linejoin="round"/>
<polyline points="416.30,336.00 416.54,334.94 416.78,333.53 417.02,331.73 417.27,329.54 417.51,326.99 417.75,324.17 417.99,321.24 418.23,318.40 418.47,315.85 418.72,313.84 418.96,312.55 419.20,312.10 419.44,312.55 419.68,313.84 419.93,315.85 420.17,318.40 420.41,321.24 420.65,324.17 420.89,326.99 421.13,329.54 421.38,331.73 421.62,333.53 421.86,334.94 422.10,336.00" fill="none" stroke="#8ac672" stroke-width="1.05" stroke-linejoin="round"/>
<polyline points="420.90,336.00 421.14,335.11 421.38,333.93 421.62,332.41 421.87,330.57 422.11,328.42 422.35,326.05 422.59,323.59 422.83,321.19 423.07,319.06 423.32,317.36 423.56,316.28 423.80,315.90 424.04,316.28 424.28,317.36 424.53,319.06 424.77,321.19 425.01,323.59 425.25,326.05 425.49,328.42 425.73,330.57 425.98,332.41 426.22,333.93 426.46,335.11 426.70,336.00" fill="none" stroke="#4866ac" stroke-width="1.05" stroke-linejoin="round"/>
<polyline points="425.10,336.00 425.34,335.03 425.58,333.73 425.82,332.07 426.07,330.05 426.31,327.70 426.55,325.11 426.79,322.42 427.03,319.80 427.27,317.46 427.52,315.60 427.76,314.41 428.00,314.00 428.24,314.41 428.48,315.60 428.73,317.46 428.97,319.80 429.21,322.42 429.45,325.11 429.69,327.70 429.93,330.05 430.18,332.07 430.42,333.73 430.66,335.03 430.90,336.00" fill="none" stroke="#8ac672" stroke-width="1.05" stroke-linejoin="round"/>
<polyline points="429.70,336.00 429.94,335.16 430.18,334.05 430.43,332.63 430.67,330.89 430.91,328.87 431.15,326.65 431.39,324.33 431.63,322.08 431.88,320.07 432.12,318.48 432.36,317.45 432.60,317.10 432.84,317.45 433.08,318.48 433.33,320.07 433.57,322.08 433.81,324.33 434.05,326.65 434.29,328.87 434.53,330.89 434.78,332.63 435.02,334.05 435.26,335.16 435.50,336.00" fill="none" stroke="#8ac672" stroke-width="1.05" stroke-linejoin="round"/>
<polyline points="434.70,336.00 434.94,335.25 435.18,334.25 435.43,332.97 435.67,331.40 435.91,329.59 436.15,327.59 436.39,325.50 436.63,323.48 436.88,321.67 437.12,320.24 437.36,319.32 437.60,319.00 437.84,319.32 438.08,320.24 438.33,321.67 438.57,323.48 438.81,325.50 439.05,327.59 439.29,329.59 439.53,331.40 439.78,332.97 440.02,334.25 440.26,335.25 440.50,336.00" fill="none" stroke="#1c1c1c" stroke-width="1.05" stroke-linejoin="round"/>
<text x="353.60" y="343.60" font-size="6.6" text-anchor="middle" font-weight="normal" fill="#c4607a" stroke="#c4607a" stroke-width="0.15" >T</text>
<text x="358.20" y="343.60" font-size="6.6" text-anchor="middle" font-weight="normal" fill="#333" stroke="#333" stroke-width="0.15" >G</text>
<text x="363.70" y="343.60" font-size="6.6" text-anchor="middle" font-weight="normal" fill="#5570b0" stroke="#5570b0" stroke-width="0.15" >C</text>
<text x="368.10" y="343.60" font-size="6.6" text-anchor="middle" font-weight="normal" fill="#c4607a" stroke="#c4607a" stroke-width="0.15" >T</text>
<text x="373.00" y="343.60" font-size="6.6" text-anchor="middle" font-weight="normal" fill="#333" stroke="#333" stroke-width="0.15" >G</text>
<text x="378.00" y="343.60" font-size="6.6" text-anchor="middle" font-weight="normal" fill="#c4607a" stroke="#c4607a" stroke-width="0.15" >T</text>
<text x="382.50" y="343.60" font-size="6.6" text-anchor="middle" font-weight="normal" fill="#333" stroke="#333" stroke-width="0.15" >G</text>
<text x="387.90" y="343.60" font-size="6.6" text-anchor="middle" font-weight="normal" fill="#c4607a" stroke="#c4607a" stroke-width="0.15" >T</text>
<text x="392.70" y="343.60" font-size="6.6" text-anchor="middle" font-weight="normal" fill="#c4607a" stroke="#c4607a" stroke-width="0.15" >T</text>
<text x="396.70" y="343.60" font-size="6.6" text-anchor="middle" font-weight="normal" fill="#88bb70" stroke="#88bb70" stroke-width="0.15" >A</text>
<text x="401.10" y="343.60" font-size="6.6" text-anchor="middle" font-weight="bold" fill="#000" stroke="#000" stroke-width="0.15" >W</text>
<text x="405.70" y="343.60" font-size="6.6" text-anchor="middle" font-weight="normal" fill="#88bb70" stroke="#88bb70" stroke-width="0.15" >A</text>
<text x="410.10" y="343.60" font-size="6.6" text-anchor="middle" font-weight="normal" fill="#88bb70" stroke="#88bb70" stroke-width="0.15" >A</text>
<text x="414.50" y="343.60" font-size="6.6" text-anchor="middle" font-weight="normal" fill="#88bb70" stroke="#88bb70" stroke-width="0.15" >A</text>
<text x="419.20" y="343.60" font-size="6.6" text-anchor="middle" font-weight="normal" fill="#88bb70" stroke="#88bb70" stroke-width="0.15" >A</text>
<text x="423.80" y="343.60" font-size="6.6" text-anchor="middle" font-weight="normal" fill="#5570b0" stroke="#5570b0" stroke-width="0.15" >C</text>
<text x="428.00" y="343.60" font-size="6.6" text-anchor="middle" font-weight="normal" fill="#88bb70" stroke="#88bb70" stroke-width="0.15" >A</text>
<text x="432.60" y="343.60" font-size="6.6" text-anchor="middle" font-weight="normal" fill="#88bb70" stroke="#88bb70" stroke-width="0.15" >A</text>
<text x="437.60" y="343.60" font-size="6.6" text-anchor="middle" font-weight="normal" fill="#333" stroke="#333" stroke-width="0.15" >G</text>
<line x1="348.30" y1="382.80" x2="443.80" y2="382.80" stroke="#3a1a28" stroke-width="0.8" />
<polyline points="349.90,382.80 350.14,382.16 350.38,381.30 350.62,380.21 350.87,378.88 351.11,377.33 351.35,375.62 351.59,373.85 351.83,372.12 352.07,370.58 352.32,369.36 352.56,368.57 352.80,368.30 353.04,368.57 353.28,369.36 353.53,370.58 353.77,372.12 354.01,373.85 354.25,375.62 354.49,377.33 354.73,378.88 354.98,380.21 355.22,381.30 355.46,382.16 355.70,382.80" fill="none" stroke="#b5365a" stroke-width="1.05" stroke-linejoin="round"/>
<polyline points="354.70,382.80 354.94,381.60 355.18,380.00 355.43,377.96 355.67,375.47 355.91,372.58 356.15,369.39 356.39,366.07 356.63,362.84 356.88,359.96 357.12,357.67 357.36,356.21 357.60,355.70 357.84,356.21 358.08,357.67 358.33,359.96 358.57,362.84 358.81,366.07 359.05,369.39 359.29,372.58 359.53,375.47 359.78,377.96 360.02,380.00 360.26,381.60 360.50,382.80" fill="none" stroke="#1c1c1c" stroke-width="1.05" stroke-linejoin="round"/>
<polyline points="359.80,382.80 360.04,381.99 360.28,380.91 360.52,379.53 360.77,377.85 361.01,375.90 361.25,373.74 361.49,371.50 361.73,369.32 361.97,367.37 362.22,365.83 362.46,364.84 362.70,364.50 362.94,364.84 363.18,365.83 363.43,367.37 363.67,369.32 363.91,371.50 364.15,373.74 364.39,375.90 364.63,377.85 364.88,379.53 365.12,380.91 365.36,381.99 365.60,382.80" fill="none" stroke="#4866ac" stroke-width="1.05" stroke-linejoin="round"/>
<polyline points="364.80,382.80 365.04,381.80 365.28,380.46 365.52,378.75 365.77,376.66 366.01,374.24 366.25,371.57 366.49,368.78 366.73,366.08 366.97,363.67 367.22,361.75 367.46,360.52 367.70,360.10 367.94,360.52 368.18,361.75 368.43,363.67 368.67,366.08 368.91,368.78 369.15,371.57 369.39,374.24 369.63,376.66 369.88,378.75 370.12,380.46 370.36,381.80 370.60,382.80" fill="none" stroke="#b5365a" stroke-width="1.05" stroke-linejoin="round"/>
<polyline points="370.10,382.80 370.34,381.51 370.58,379.79 370.82,377.59 371.07,374.91 371.31,371.79 371.55,368.35 371.79,364.77 372.03,361.29 372.27,358.19 372.52,355.73 372.76,354.15 373.00,353.60 373.24,354.15 373.48,355.73 373.73,358.19 373.97,361.29 374.21,364.77 374.45,368.35 374.69,371.79 374.93,374.91 375.18,377.59 375.42,379.79 375.66,381.51 375.90,382.80" fill="none" stroke="#1c1c1c" stroke-width="1.05" stroke-linejoin="round"/>
<polyline points="375.10,382.80 375.34,382.12 375.58,381.21 375.82,380.05 376.07,378.64 376.31,376.99 376.55,375.18 376.79,373.29 377.03,371.46 377.27,369.82 377.52,368.52 377.76,367.69 378.00,367.40 378.24,367.69 378.48,368.52 378.73,369.82 378.97,371.46 379.21,373.29 379.45,375.18 379.69,376.99 379.93,378.64 380.18,380.05 380.42,381.21 380.66,382.12 380.90,382.80" fill="none" stroke="#b5365a" stroke-width="1.05" stroke-linejoin="round"/>
<polyline points="379.70,382.80 379.94,381.20 380.18,379.06 380.43,376.32 380.67,372.99 380.91,369.11 381.15,364.84 381.39,360.39 381.63,356.06 381.88,352.20 382.12,349.14 382.36,347.18 382.60,346.50 382.84,347.18 383.08,349.14 383.33,352.20 383.57,356.06 383.81,360.39 384.05,364.84 384.29,369.11 384.53,372.99 384.78,376.32 385.02,379.06 385.26,381.20 385.50,382.80" fill="none" stroke="#1c1c1c" stroke-width="1.05" stroke-linejoin="round"/>
<polyline points="385.00,382.80 385.24,381.99 385.48,380.91 385.72,379.53 385.97,377.85 386.21,375.90 386.45,373.74 386.69,371.50 386.93,369.32 387.17,367.37 387.42,365.83 387.66,364.84 387.90,364.50 388.14,364.84 388.38,365.83 388.62,367.37 388.87,369.32 389.11,371.50 389.35,373.74 389.59,375.90 389.83,377.85 390.07,379.53 390.32,380.91 390.56,381.99 390.80,382.80" fill="none" stroke="#b5365a" stroke-width="1.05" stroke-linejoin="round"/>
<polyline points="390.00,382.80 390.24,382.02 390.48,380.98 390.72,379.66 390.97,378.04 391.21,376.16 391.45,374.09 391.69,371.93 391.93,369.84 392.17,367.96 392.42,366.48 392.66,365.53 392.90,365.20 393.14,365.53 393.38,366.48 393.62,367.96 393.87,369.84 394.11,371.93 394.35,374.09 394.59,376.16 394.83,378.04 395.07,379.66 395.32,380.98 395.56,382.02 395.80,382.80" fill="none" stroke="#b5365a" stroke-width="1.05" stroke-linejoin="round"/>
<polyline points="394.60,382.80 394.84,381.96 395.08,380.85 395.32,379.43 395.57,377.69 395.81,375.67 396.05,373.45 396.29,371.13 396.53,368.88 396.77,366.87 397.02,365.28 397.26,364.25 397.50,363.90 397.74,364.25 397.98,365.28 398.23,366.87 398.47,368.88 398.71,371.13 398.95,373.45 399.19,375.67 399.43,377.69 399.68,379.43 399.92,380.85 400.16,381.96 400.40,382.80" fill="none" stroke="#8ac672" stroke-width="1.05" stroke-linejoin="round"/>
<polyline points="399.00,382.80 399.24,381.91 399.48,380.73 399.72,379.21 399.97,377.37 400.21,375.22 400.45,372.85 400.69,370.39 400.93,367.99 401.17,365.86 401.42,364.16 401.66,363.08 401.90,362.70 402.14,363.08 402.38,364.16 402.62,365.86 402.87,367.99 403.11,370.39 403.35,372.85 403.59,375.22 403.83,377.37 404.07,379.21 404.32,380.73 404.56,381.91 404.80,382.80" fill="none" stroke="#8ac672" stroke-width="1.05" stroke-linejoin="round"/>
<polyline points="403.70,382.80 403.94,381.88 404.18,380.65 404.43,379.09 404.67,377.18 404.91,374.96 405.15,372.51 405.39,369.96 405.63,367.48 405.88,365.27 406.12,363.51 406.36,362.39 406.60,362.00 406.84,362.39 407.08,363.51 407.33,365.27 407.57,367.48 407.81,369.96 408.05,372.51 408.29,374.96 408.53,377.18 408.78,379.09 409.02,380.65 409.26,381.88 409.50,382.80" fill="none" stroke="#8ac672" stroke-width="1.05" stroke-linejoin="round"/>
<polyline points="408.50,382.80 408.74,381.91 408.98,380.73 409.22,379.21 409.47,377.37 409.71,375.22 409.95,372.85 410.19,370.39 410.43,367.99 410.67,365.86 410.92,364.16 411.16,363.08 411.40,362.70 411.64,363.08 411.88,364.16 412.12,365.86 412.37,367.99 412.61,370.39 412.85,372.85 413.09,375.22 413.33,377.37 413.57,379.21 413.82,380.73 414.06,381.91 414.30,382.80" fill="none" stroke="#8ac672" stroke-width="1.05" stroke-linejoin="round"/>
<polyline points="413.30,382.80 413.54,381.80 413.78,380.46 414.02,378.75 414.27,376.66 414.51,374.24 414.75,371.57 414.99,368.78 415.23,366.08 415.47,363.67 415.72,361.75 415.96,360.52 416.20,360.10 416.44,360.52 416.68,361.75 416.93,363.67 417.17,366.08 417.41,368.78 417.65,371.57 417.89,374.24 418.13,376.66 418.38,378.75 418.62,380.46 418.86,381.80 419.10,382.80" fill="none" stroke="#8ac672" stroke-width="1.05" stroke-linejoin="round"/>
<polyline points="418.00,382.80 418.24,381.91 418.48,380.73 418.72,379.21 418.97,377.37 419.21,375.22 419.45,372.85 419.69,370.39 419.93,367.99 420.17,365.86 420.42,364.16 420.66,363.08 420.90,362.70 421.14,363.08 421.38,364.16 421.62,365.86 421.87,367.99 422.11,370.39 422.35,372.85 422.59,375.22 422.83,377.37 423.07,379.21 423.32,380.73 423.56,381.91 423.80,382.80" fill="none" stroke="#8ac672" stroke-width="1.05" stroke-linejoin="round"/>
<polyline points="422.40,382.80 422.64,381.91 422.88,380.73 423.12,379.21 423.37,377.37 423.61,375.22 423.85,372.85 424.09,370.39 424.33,367.99 424.57,365.86 424.82,364.16 425.06,363.08 425.30,362.70 425.54,363.08 425.78,364.16 426.03,365.86 426.27,367.99 426.51,370.39 426.75,372.85 426.99,375.22 427.23,377.37 427.48,379.21 427.72,380.73 427.96,381.91 428.20,382.80" fill="none" stroke="#4866ac" stroke-width="1.05" stroke-linejoin="round"/>
<polyline points="427.10,382.80 427.34,381.99 427.58,380.91 427.82,379.53 428.07,377.85 428.31,375.90 428.55,373.74 428.79,371.50 429.03,369.32 429.27,367.37 429.52,365.83 429.76,364.84 430.00,364.50 430.24,364.84 430.48,365.83 430.73,367.37 430.97,369.32 431.21,371.50 431.45,373.74 431.69,375.90 431.93,377.85 432.18,379.53 432.42,380.91 432.66,381.99 432.90,382.80" fill="none" stroke="#8ac672" stroke-width="1.05" stroke-linejoin="round"/>
<polyline points="431.80,382.80 432.04,382.08 432.28,381.11 432.52,379.87 432.77,378.37 433.01,376.62 433.25,374.68 433.49,372.67 433.73,370.72 433.97,368.98 434.22,367.59 434.46,366.71 434.70,366.40 434.94,366.71 435.18,367.59 435.43,368.98 435.67,370.72 435.91,372.67 436.15,374.68 436.39,376.62 436.63,378.37 436.88,379.87 437.12,381.11 437.36,382.08 437.60,382.80" fill="none" stroke="#8ac672" stroke-width="1.05" stroke-linejoin="round"/>
<polyline points="436.90,382.80 437.14,382.22 437.38,381.44 437.62,380.44 437.87,379.23 438.11,377.82 438.35,376.27 438.59,374.65 438.83,373.08 439.07,371.67 439.32,370.56 439.56,369.85 439.80,369.60 440.04,369.85 440.28,370.56 440.53,371.67 440.77,373.08 441.01,374.65 441.25,376.27 441.49,377.82 441.73,379.23 441.98,380.44 442.22,381.44 442.46,382.22 442.70,382.80" fill="none" stroke="#1c1c1c" stroke-width="1.05" stroke-linejoin="round"/>
<text x="352.80" y="390.00" font-size="6.6" text-anchor="middle" font-weight="normal" fill="#c4607a" stroke="#c4607a" stroke-width="0.15" >T</text>
<text x="357.60" y="390.00" font-size="6.6" text-anchor="middle" font-weight="normal" fill="#333" stroke="#333" stroke-width="0.15" >G</text>
<text x="362.70" y="390.00" font-size="6.6" text-anchor="middle" font-weight="normal" fill="#5570b0" stroke="#5570b0" stroke-width="0.15" >C</text>
<text x="367.70" y="390.00" font-size="6.6" text-anchor="middle" font-weight="normal" fill="#c4607a" stroke="#c4607a" stroke-width="0.15" >T</text>
<text x="373.00" y="390.00" font-size="6.6" text-anchor="middle" font-weight="normal" fill="#333" stroke="#333" stroke-width="0.15" >G</text>
<text x="378.00" y="390.00" font-size="6.6" text-anchor="middle" font-weight="normal" fill="#c4607a" stroke="#c4607a" stroke-width="0.15" >T</text>
<text x="382.60" y="390.00" font-size="6.6" text-anchor="middle" font-weight="normal" fill="#333" stroke="#333" stroke-width="0.15" >G</text>
<text x="387.90" y="390.00" font-size="6.6" text-anchor="middle" font-weight="normal" fill="#c4607a" stroke="#c4607a" stroke-width="0.15" >T</text>
<text x="392.90" y="390.00" font-size="6.6" text-anchor="middle" font-weight="normal" fill="#c4607a" stroke="#c4607a" stroke-width="0.15" >T</text>
<text x="397.50" y="390.00" font-size="6.6" text-anchor="middle" font-weight="normal" fill="#88bb70" stroke="#88bb70" stroke-width="0.15" >A</text>
<text x="401.90" y="390.00" font-size="6.6" text-anchor="middle" font-weight="normal" fill="#88bb70" stroke="#88bb70" stroke-width="0.15" >A</text>
<text x="406.60" y="390.00" font-size="6.6" text-anchor="middle" font-weight="normal" fill="#88bb70" stroke="#88bb70" stroke-width="0.15" >A</text>
<text x="411.40" y="390.00" font-size="6.6" text-anchor="middle" font-weight="normal" fill="#88bb70" stroke="#88bb70" stroke-width="0.15" >A</text>
<text x="416.20" y="390.00" font-size="6.6" text-anchor="middle" font-weight="normal" fill="#88bb70" stroke="#88bb70" stroke-width="0.15" >A</text>
<text x="420.90" y="390.00" font-size="6.6" text-anchor="middle" font-weight="normal" fill="#88bb70" stroke="#88bb70" stroke-width="0.15" >A</text>
<text x="425.30" y="390.00" font-size="6.6" text-anchor="middle" font-weight="normal" fill="#5570b0" stroke="#5570b0" stroke-width="0.15" >C</text>
<text x="430.00" y="390.00" font-size="6.6" text-anchor="middle" font-weight="normal" fill="#88bb70" stroke="#88bb70" stroke-width="0.15" >A</text>
<text x="434.70" y="390.00" font-size="6.6" text-anchor="middle" font-weight="normal" fill="#88bb70" stroke="#88bb70" stroke-width="0.15" >A</text>
<text x="439.80" y="390.00" font-size="6.6" text-anchor="middle" font-weight="normal" fill="#333" stroke="#333" stroke-width="0.15" >G</text>
<line x1="348.70" y1="432.90" x2="446.30" y2="432.90" stroke="#3a1a28" stroke-width="0.8" />
<polyline points="350.30,432.90 350.54,432.12 350.78,431.07 351.02,429.74 351.27,428.12 351.51,426.23 351.75,424.14 351.99,421.97 352.23,419.86 352.47,417.98 352.72,416.49 352.96,415.53 353.20,415.20 353.44,415.53 353.68,416.49 353.93,417.98 354.17,419.86 354.41,421.97 354.65,424.14 354.89,426.23 355.13,428.12 355.38,429.74 355.62,431.07 355.86,432.12 356.10,432.90" fill="none" stroke="#b5365a" stroke-width="1.05" stroke-linejoin="round"/>
<polyline points="355.00,432.90 355.24,431.63 355.48,429.93 355.72,427.76 355.97,425.11 356.21,422.04 356.45,418.65 356.69,415.12 356.93,411.69 357.17,408.62 357.42,406.20 357.66,404.64 357.90,404.10 358.14,404.64 358.38,406.20 358.62,408.62 358.87,411.69 359.11,415.12 359.35,418.65 359.59,422.04 359.83,425.11 360.07,427.76 360.32,429.93 360.56,431.63 360.80,432.90" fill="none" stroke="#1c1c1c" stroke-width="1.05" stroke-linejoin="round"/>
<polyline points="360.40,432.90 360.64,431.99 360.88,430.79 361.12,429.24 361.37,427.36 361.61,425.17 361.85,422.75 362.09,420.24 362.33,417.80 362.57,415.62 362.82,413.89 363.06,412.78 363.30,412.40 363.54,412.78 363.78,413.89 364.03,415.62 364.27,417.80 364.51,420.24 364.75,422.75 364.99,425.17 365.23,427.36 365.48,429.24 365.72,430.79 365.96,431.99 366.20,432.90" fill="none" stroke="#4866ac" stroke-width="1.05" stroke-linejoin="round"/>
<polyline points="365.40,432.90 365.64,431.76 365.88,430.23 366.12,428.28 366.37,425.90 366.61,423.13 366.85,420.08 367.09,416.91 367.33,413.82 367.57,411.07 367.82,408.89 368.06,407.48 368.30,407.00 368.54,407.48 368.78,408.89 369.03,411.07 369.27,413.82 369.51,416.91 369.75,420.08 369.99,423.13 370.23,425.90 370.48,428.28 370.72,430.23 370.96,431.76 371.20,432.90" fill="none" stroke="#b5365a" stroke-width="1.05" stroke-linejoin="round"/>
<polyline points="370.90,432.90 371.14,431.55 371.38,429.75 371.62,427.46 371.87,424.66 372.11,421.40 372.35,417.81 372.59,414.07 372.83,410.43 373.07,407.19 373.32,404.62 373.56,402.97 373.80,402.40 374.04,402.97 374.28,404.62 374.53,407.19 374.77,410.43 375.01,414.07 375.25,417.81 375.49,421.40 375.73,424.66 375.98,427.46 376.22,429.75 376.46,431.55 376.70,432.90" fill="none" stroke="#1c1c1c" stroke-width="1.05" stroke-linejoin="round"/>
<polyline points="375.90,432.90 376.14,432.18 376.38,431.23 376.62,430.01 376.87,428.52 377.11,426.79 377.35,424.88 377.59,422.90 377.83,420.97 378.07,419.24 378.32,417.88 378.56,417.00 378.80,416.70 379.04,417.00 379.28,417.88 379.53,419.24 379.77,420.97 380.01,422.90 380.25,424.88 380.49,426.79 380.73,428.52 380.98,430.01 381.22,431.23 381.46,432.18 381.70,432.90" fill="none" stroke="#b5365a" stroke-width="1.05" stroke-linejoin="round"/>
<polyline points="380.60,432.90 380.84,431.31 381.08,429.19 381.32,426.48 381.57,423.17 381.81,419.32 382.05,415.08 382.29,410.67 382.53,406.38 382.77,402.55 383.02,399.52 383.26,397.57 383.50,396.90 383.74,397.57 383.98,399.52 384.23,402.55 384.47,406.38 384.71,410.67 384.95,415.08 385.19,419.32 385.43,423.17 385.68,426.48 385.92,429.19 386.16,431.31 386.40,432.90" fill="none" stroke="#1c1c1c" stroke-width="1.05" stroke-linejoin="round"/>
<polyline points="386.20,432.90 386.44,432.03 386.68,430.88 386.93,429.40 387.17,427.60 387.41,425.51 387.65,423.20 387.89,420.80 388.13,418.46 388.38,416.38 388.62,414.73 388.86,413.67 389.10,413.30 389.34,413.67 389.58,414.73 389.83,416.38 390.07,418.46 390.31,420.80 390.55,423.20 390.79,425.51 391.03,427.60 391.28,429.40 391.52,430.88 391.76,432.03 392.00,432.90" fill="none" stroke="#b5365a" stroke-width="1.05" stroke-linejoin="round"/>
<polyline points="391.70,432.90 391.94,432.08 392.18,430.98 392.43,429.58 392.67,427.87 392.91,425.89 393.15,423.70 393.39,421.42 393.63,419.20 393.88,417.22 394.12,415.65 394.36,414.65 394.60,414.30 394.84,414.65 395.08,415.65 395.33,417.22 395.57,419.20 395.81,421.42 396.05,423.70 396.29,425.89 396.53,427.87 396.78,429.58 397.02,430.98 397.26,432.08 397.50,432.90" fill="none" stroke="#b5365a" stroke-width="1.05" stroke-linejoin="round"/>
<polyline points="395.90,432.90 396.14,432.03 396.38,430.88 396.62,429.40 396.87,427.60 397.11,425.51 397.35,423.20 397.59,420.80 397.83,418.46 398.07,416.38 398.32,414.73 398.56,413.67 398.80,413.30 399.04,413.67 399.28,414.73 399.53,416.38 399.77,418.46 400.01,420.80 400.25,423.20 400.49,425.51 400.73,427.60 400.98,429.40 401.22,430.88 401.46,432.03 401.70,432.90" fill="none" stroke="#8ac672" stroke-width="1.05" stroke-linejoin="round"/>
<polyline points="400.70,432.90 400.94,431.92 401.18,430.62 401.43,428.96 401.67,426.93 401.91,424.57 402.15,421.96 402.39,419.25 402.63,416.62 402.88,414.27 403.12,412.41 403.36,411.21 403.60,410.80 403.84,411.21 404.08,412.41 404.33,414.27 404.57,416.62 404.81,419.25 405.05,421.96 405.29,424.57 405.53,426.93 405.78,428.96 406.02,430.62 406.26,431.92 406.50,432.90" fill="none" stroke="#8ac672" stroke-width="1.05" stroke-linejoin="round"/>
<polyline points="405.70,432.90 405.94,431.92 406.18,430.62 406.43,428.96 406.67,426.93 406.91,424.57 407.15,421.96 407.39,419.25 407.63,416.62 407.88,414.27 408.12,412.41 408.36,411.21 408.60,410.80 408.84,411.21 409.08,412.41 409.33,414.27 409.57,416.62 409.81,419.25 410.05,421.96 410.29,424.57 410.53,426.93 410.78,428.96 411.02,430.62 411.26,431.92 411.50,432.90" fill="none" stroke="#8ac672" stroke-width="1.05" stroke-linejoin="round"/>
<polyline points="410.40,432.90 410.64,431.95 410.88,430.68 411.12,429.06 411.37,427.09 411.61,424.79 411.85,422.26 412.09,419.62 412.33,417.06 412.57,414.78 412.82,412.97 413.06,411.80 413.30,411.40 413.54,411.80 413.78,412.97 414.03,414.78 414.27,417.06 414.51,419.62 414.75,422.26 414.99,424.79 415.23,427.09 415.48,429.06 415.72,430.68 415.96,431.95 416.20,432.90" fill="none" stroke="#8ac672" stroke-width="1.05" stroke-linejoin="round"/>
<polyline points="415.20,432.90 415.44,431.84 415.68,430.42 415.93,428.62 416.17,426.41 416.41,423.85 416.65,421.02 416.89,418.08 417.13,415.22 417.38,412.67 417.62,410.65 417.86,409.35 418.10,408.90 418.34,409.35 418.58,410.65 418.83,412.67 419.07,415.22 419.31,418.08 419.55,421.02 419.79,423.85 420.03,426.41 420.28,428.62 420.52,430.42 420.76,431.84 421.00,432.90" fill="none" stroke="#8ac672" stroke-width="1.05" stroke-linejoin="round"/>
<polyline points="420.10,432.90 420.34,431.90 420.58,430.56 420.82,428.85 421.07,426.76 421.31,424.34 421.55,421.67 421.79,418.88 422.03,416.18 422.27,413.77 422.52,411.85 422.76,410.62 423.00,410.20 423.24,410.62 423.48,411.85 423.73,413.77 423.97,416.18 424.21,418.88 424.45,421.67 424.69,424.34 424.93,426.76 425.18,428.85 425.42,430.56 425.66,431.90 425.90,432.90" fill="none" stroke="#8ac672" stroke-width="1.05" stroke-linejoin="round"/>
<polyline points="424.90,432.90 425.14,431.98 425.38,430.75 425.62,429.19 425.87,427.28 426.11,425.06 426.35,422.61 426.59,420.06 426.83,417.58 427.07,415.37 427.32,413.61 427.56,412.49 427.80,412.10 428.04,412.49 428.28,413.61 428.53,415.37 428.77,417.58 429.01,420.06 429.25,422.61 429.49,425.06 429.73,427.28 429.98,429.19 430.22,430.75 430.46,431.98 430.70,432.90" fill="none" stroke="#4866ac" stroke-width="1.05" stroke-linejoin="round"/>
<polyline points="429.30,432.90 429.54,432.03 429.78,430.88 430.02,429.40 430.27,427.60 430.51,425.51 430.75,423.20 430.99,420.80 431.23,418.46 431.47,416.38 431.72,414.73 431.96,413.67 432.20,413.30 432.44,413.67 432.68,414.73 432.93,416.38 433.17,418.46 433.41,420.80 433.65,423.20 433.89,425.51 434.13,427.60 434.38,429.40 434.62,430.88 434.86,432.03 435.10,432.90" fill="none" stroke="#8ac672" stroke-width="1.05" stroke-linejoin="round"/>
<polyline points="434.30,432.90 434.54,432.12 434.78,431.07 435.02,429.74 435.27,428.12 435.51,426.23 435.75,424.14 435.99,421.97 436.23,419.86 436.47,417.98 436.72,416.49 436.96,415.53 437.20,415.20 437.44,415.53 437.68,416.49 437.93,417.98 438.17,419.86 438.41,421.97 438.65,424.14 438.89,426.23 439.13,428.12 439.38,429.74 439.62,431.07 439.86,432.12 440.10,432.90" fill="none" stroke="#8ac672" stroke-width="1.05" stroke-linejoin="round"/>
<polyline points="439.40,432.90 439.64,432.24 439.88,431.36 440.12,430.24 440.37,428.87 440.61,427.28 440.85,425.53 441.09,423.70 441.33,421.92 441.57,420.34 441.82,419.09 442.06,418.28 442.30,418.00 442.54,418.28 442.78,419.09 443.03,420.34 443.27,421.92 443.51,423.70 443.75,425.53 443.99,427.28 444.23,428.87 444.48,430.24 444.72,431.36 444.96,432.24 445.20,432.90" fill="none" stroke="#1c1c1c" stroke-width="1.05" stroke-linejoin="round"/>
<text x="353.20" y="440.00" font-size="6.6" text-anchor="middle" font-weight="normal" fill="#c4607a" stroke="#c4607a" stroke-width="0.15" >T</text>
<text x="357.90" y="440.00" font-size="6.6" text-anchor="middle" font-weight="normal" fill="#333" stroke="#333" stroke-width="0.15" >G</text>
<text x="363.30" y="440.00" font-size="6.6" text-anchor="middle" font-weight="normal" fill="#5570b0" stroke="#5570b0" stroke-width="0.15" >C</text>
<text x="368.30" y="440.00" font-size="6.6" text-anchor="middle" font-weight="normal" fill="#c4607a" stroke="#c4607a" stroke-width="0.15" >T</text>
<text x="373.80" y="440.00" font-size="6.6" text-anchor="middle" font-weight="normal" fill="#333" stroke="#333" stroke-width="0.15" >G</text>
<text x="378.80" y="440.00" font-size="6.6" text-anchor="middle" font-weight="normal" fill="#c4607a" stroke="#c4607a" stroke-width="0.15" >T</text>
<text x="383.50" y="440.00" font-size="6.6" text-anchor="middle" font-weight="normal" fill="#333" stroke="#333" stroke-width="0.15" >G</text>
<text x="389.10" y="440.00" font-size="6.6" text-anchor="middle" font-weight="normal" fill="#c4607a" stroke="#c4607a" stroke-width="0.15" >T</text>
<text x="394.60" y="440.00" font-size="6.6" text-anchor="middle" font-weight="normal" fill="#c4607a" stroke="#c4607a" stroke-width="0.15" >T</text>
<text x="398.80" y="440.00" font-size="6.6" text-anchor="middle" font-weight="normal" fill="#88bb70" stroke="#88bb70" stroke-width="0.15" >A</text>
<text x="403.60" y="440.00" font-size="6.6" text-anchor="middle" font-weight="normal" fill="#88bb70" stroke="#88bb70" stroke-width="0.15" >A</text>
<text x="408.60" y="440.00" font-size="6.6" text-anchor="middle" font-weight="normal" fill="#88bb70" stroke="#88bb70" stroke-width="0.15" >A</text>
<text x="413.30" y="440.00" font-size="6.6" text-anchor="middle" font-weight="normal" fill="#88bb70" stroke="#88bb70" stroke-width="0.15" >A</text>
<text x="418.10" y="440.00" font-size="6.6" text-anchor="middle" font-weight="normal" fill="#88bb70" stroke="#88bb70" stroke-width="0.15" >A</text>
<text x="423.00" y="440.00" font-size="6.6" text-anchor="middle" font-weight="normal" fill="#88bb70" stroke="#88bb70" stroke-width="0.15" >A</text>
<text x="427.80" y="440.00" font-size="6.6" text-anchor="middle" font-weight="normal" fill="#5570b0" stroke="#5570b0" stroke-width="0.15" >C</text>
<text x="432.20" y="440.00" font-size="6.6" text-anchor="middle" font-weight="normal" fill="#88bb70" stroke="#88bb70" stroke-width="0.15" >A</text>
<text x="437.20" y="440.00" font-size="6.6" text-anchor="middle" font-weight="normal" fill="#88bb70" stroke="#88bb70" stroke-width="0.15" >A</text>
<text x="442.30" y="440.00" font-size="6.6" text-anchor="middle" font-weight="normal" fill="#333" stroke="#333" stroke-width="0.15" >G</text>
<line x1="400.40" y1="311.00" x2="400.40" y2="317.50" stroke="#000" stroke-width="0.9" />
<path d="M398.4 316.2 L402.4 316.2 L400.4 320.0 Z" fill="#000"/>
<text x="381.00" y="272.00" font-size="8.5" text-anchor="middle" font-weight="normal" fill="#1a1a1a" stroke="#1a1a1a" stroke-width="0.15" textLength="32.12" lengthAdjust="spacingAndGlyphs" >Family 2</text>
<text x="395.40" y="296.30" font-size="7.4" text-anchor="middle" font-weight="normal" fill="#1a1a1a" stroke="#1a1a1a" stroke-width="0.15" >c.2302A&gt;T</text>
<text x="336.00" y="331.70" font-size="8.2" text-anchor="start" font-weight="normal" fill="#1a1a1a" stroke="#1a1a1a" stroke-width="0.15" textLength="8.42" lengthAdjust="spacingAndGlyphs" >I-2</text>
<text x="336.00" y="378.80" font-size="8.2" text-anchor="start" font-weight="normal" fill="#1a1a1a" stroke="#1a1a1a" stroke-width="0.15" textLength="10.43" lengthAdjust="spacingAndGlyphs" >II-4</text>
<text x="336.00" y="425.60" font-size="8.2" text-anchor="start" font-weight="normal" fill="#1a1a1a" stroke="#1a1a1a" stroke-width="0.15" textLength="10.43" lengthAdjust="spacingAndGlyphs" >II-3</text>
<text x="477.30" y="271.90" font-size="8.5" text-anchor="middle" font-weight="normal" fill="#1a1a1a" stroke="#1a1a1a" stroke-width="0.15" textLength="25.30" lengthAdjust="spacingAndGlyphs" >F2: I-2</text>
<text x="471.0" y="311.8" font-size="8.1" fill="#1a1a1a" stroke="#1a1a1a" stroke-width="0.15" transform="rotate(-47.5 471.0 311.8)">c.2302A&gt;T</text>
<text x="482.4" y="312.4" font-size="8.1" fill="#1a1a1a" stroke="#1a1a1a" stroke-width="0.15" transform="rotate(-46.5 482.4 312.4)">c.2972T&gt;C</text>
<line x1="464.30" y1="320.50" x2="489.90" y2="320.50" stroke="#000" stroke-width="1.3" />
<text x="460.40" y="323.40" font-size="8.0" text-anchor="end" font-weight="normal" fill="#1a1a1a" stroke="#1a1a1a" stroke-width="0.15" >1</text>
<circle cx="471.3" cy="320.50" r="4.6" fill="#000"/>
<circle cx="483.0" cy="320.50" r="4.6" fill="#000"/>
<line x1="464.30" y1="331.40" x2="489.90" y2="331.40" stroke="#000" stroke-width="1.3" />
<text x="460.40" y="334.30" font-size="8.0" text-anchor="end" font-weight="normal" fill="#1a1a1a" stroke="#1a1a1a" stroke-width="0.15" >2</text>
<circle cx="471.3" cy="331.40" r="4.6" fill="#000"/>
<circle cx="483.0" cy="331.40" r="4.6" fill="#000"/>
<line x1="464.30" y1="342.30" x2="489.90" y2="342.30" stroke="#000" stroke-width="1.3" />
<text x="460.40" y="345.20" font-size="8.0" text-anchor="end" font-weight="normal" fill="#1a1a1a" stroke="#1a1a1a" stroke-width="0.15" >3</text>
<circle cx="471.3" cy="342.30" r="4.6" fill="#000"/>
<circle cx="483.0" cy="342.30" r="4.6" fill="#000"/>
<line x1="464.30" y1="353.20" x2="489.90" y2="353.20" stroke="#000" stroke-width="1.3" />
<text x="460.40" y="356.10" font-size="8.0" text-anchor="end" font-weight="normal" fill="#1a1a1a" stroke="#1a1a1a" stroke-width="0.15" >4</text>
<circle cx="471.3" cy="353.20" r="4.6" fill="#000"/>
<circle cx="483.0" cy="353.20" r="4.6" fill="#000"/>
<line x1="464.30" y1="364.10" x2="489.90" y2="364.10" stroke="#000" stroke-width="1.3" />
<text x="460.40" y="367.00" font-size="8.0" text-anchor="end" font-weight="normal" fill="#1a1a1a" stroke="#1a1a1a" stroke-width="0.15" >5</text>
<circle cx="471.3" cy="364.10" r="4.6" fill="#000"/>
<circle cx="483.0" cy="364.10" r="4.6" fill="#000"/>
<line x1="464.30" y1="375.00" x2="489.90" y2="375.00" stroke="#000" stroke-width="1.3" />
<text x="460.40" y="377.90" font-size="8.0" text-anchor="end" font-weight="normal" fill="#1a1a1a" stroke="#1a1a1a" stroke-width="0.15" >6</text>
<circle cx="471.3" cy="375.00" r="4.6" fill="#000"/>
<circle cx="483.0" cy="375.00" r="4.6" fill="#000"/>
<line x1="464.30" y1="385.90" x2="489.90" y2="385.90" stroke="#000" stroke-width="1.3" />
<text x="460.40" y="388.80" font-size="8.0" text-anchor="end" font-weight="normal" fill="#1a1a1a" stroke="#1a1a1a" stroke-width="0.15" >7</text>
<circle cx="471.3" cy="385.90" r="4.6" fill="#000"/>
<circle cx="483.0" cy="385.90" r="4.6" fill="#000"/>
<line x1="464.30" y1="396.80" x2="489.90" y2="396.80" stroke="#000" stroke-width="1.3" />
<text x="460.40" y="399.70" font-size="8.0" text-anchor="end" font-weight="normal" fill="#1a1a1a" stroke="#1a1a1a" stroke-width="0.15" >8</text>
<circle cx="471.3" cy="396.80" r="4.6" fill="#000"/>
<circle cx="483.0" cy="396.80" r="4.6" fill="#000"/>
<line x1="464.30" y1="407.70" x2="489.90" y2="407.70" stroke="#000" stroke-width="1.3" />
<text x="460.40" y="410.60" font-size="8.0" text-anchor="end" font-weight="normal" fill="#1a1a1a" stroke="#1a1a1a" stroke-width="0.15" >9</text>
<circle cx="471.3" cy="407.70" r="4.6" fill="#000"/>
<circle cx="483.0" cy="407.70" r="4.6" fill="#000"/>
<line x1="464.30" y1="418.60" x2="489.90" y2="418.60" stroke="#000" stroke-width="1.3" />
<text x="460.40" y="421.50" font-size="8.0" text-anchor="end" font-weight="normal" fill="#1a1a1a" stroke="#1a1a1a" stroke-width="0.15" >10</text>
<circle cx="471.3" cy="418.60" r="4.6" fill="#000"/>
<circle cx="483.0" cy="418.60" r="4.6" fill="#000"/>
<line x1="464.30" y1="429.50" x2="489.90" y2="429.50" stroke="#000" stroke-width="1.3" />
<text x="460.40" y="432.40" font-size="8.0" text-anchor="end" font-weight="normal" fill="#1a1a1a" stroke="#1a1a1a" stroke-width="0.15" >11</text>
<circle cx="471.3" cy="429.50" r="3.95" fill="#fff" stroke="#000" stroke-width="1.3"/>
<circle cx="483.0" cy="429.50" r="3.95" fill="#fff" stroke="#000" stroke-width="1.3"/>
<line x1="464.30" y1="440.40" x2="489.90" y2="440.40" stroke="#000" stroke-width="1.3" />
<text x="460.40" y="443.30" font-size="8.0" text-anchor="end" font-weight="normal" fill="#1a1a1a" stroke="#1a1a1a" stroke-width="0.15" >12</text>
<circle cx="471.3" cy="440.40" r="3.95" fill="#fff" stroke="#000" stroke-width="1.3"/>
<circle cx="483.0" cy="440.40" r="3.95" fill="#fff" stroke="#000" stroke-width="1.3"/>
<line x1="464.30" y1="451.30" x2="489.90" y2="451.30" stroke="#000" stroke-width="1.3" />
<text x="460.40" y="454.20" font-size="8.0" text-anchor="end" font-weight="normal" fill="#1a1a1a" stroke="#1a1a1a" stroke-width="0.15" >13</text>
<circle cx="471.3" cy="451.30" r="3.95" fill="#fff" stroke="#000" stroke-width="1.3"/>
<circle cx="483.0" cy="451.30" r="3.95" fill="#fff" stroke="#000" stroke-width="1.3"/>
<circle cx="461.3" cy="464.8" r="3.2" fill="#fff" stroke="#000" stroke-width="1.2"/>
<circle cx="487.0" cy="464.8" r="3.8" fill="#000"/>
<text x="467.80" y="467.60" font-size="7.7" text-anchor="start" font-weight="normal" fill="#1a1a1a" stroke="#1a1a1a" stroke-width="0.15" >wt</text>
<text x="493.40" y="467.60" font-size="7.7" text-anchor="start" font-weight="normal" fill="#1a1a1a" stroke="#1a1a1a" stroke-width="0.15" >mut</text>
<rect x="0" y="0" width="520" height="1.5" fill="#000"/><rect x="0" y="474.5" width="520" height="1.5" fill="#000"/><rect x="0" y="0" width="1.55" height="476" fill="#000"/><rect x="518.7" y="0" width="1.3" height="476" fill="#000"/>
</svg>
</body></html>
